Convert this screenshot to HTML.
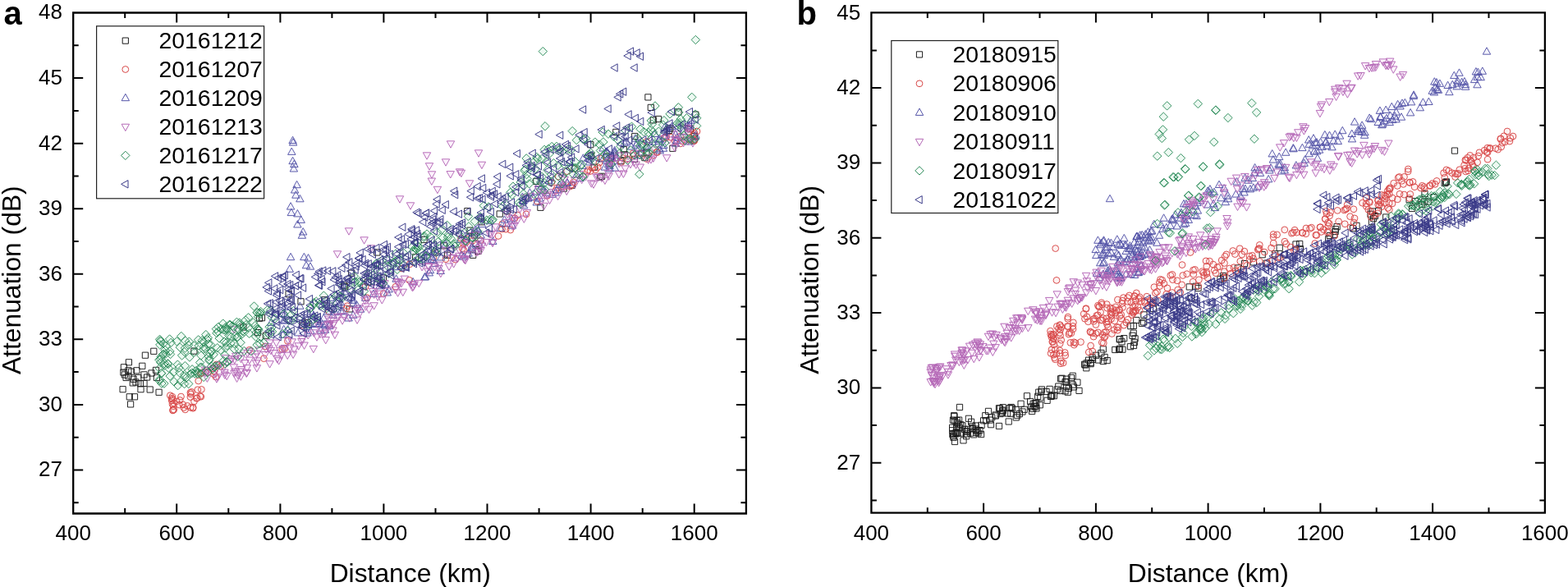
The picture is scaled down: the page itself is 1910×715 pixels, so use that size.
<!DOCTYPE html>
<html><head><meta charset="utf-8"><title>Attenuation vs Distance</title>
<style>html,body{margin:0;padding:0;background:#fff;width:1910px;height:715px;overflow:hidden}svg{display:block}</style>
</head><body>
<svg width="1910" height="715" viewBox="0 0 1910 715">
<style>
text{font-family:"Liberation Sans", Arial, sans-serif;fill:#000}
.tk{font-size:26px}
.lg{font-size:28.4px}
.ax{font-size:31.8px}
.pl{font-size:40px;font-weight:bold}
</style>
<rect width="1910" height="715" fill="#fff"/>
<path d="M207.9 499.0a3.9 3.9 0 1 0 7.8 0a3.9 3.9 0 1 0 -7.8 0zM203.4 481.7a3.9 3.9 0 1 0 7.8 0a3.9 3.9 0 1 0 -7.8 0zM207.3 494.7a3.9 3.9 0 1 0 7.8 0a3.9 3.9 0 1 0 -7.8 0zM206.4 486.2a3.9 3.9 0 1 0 7.8 0a3.9 3.9 0 1 0 -7.8 0zM206.1 492.1a3.9 3.9 0 1 0 7.8 0a3.9 3.9 0 1 0 -7.8 0zM206.0 483.2a3.9 3.9 0 1 0 7.8 0a3.9 3.9 0 1 0 -7.8 0zM205.3 487.9a3.9 3.9 0 1 0 7.8 0a3.9 3.9 0 1 0 -7.8 0zM206.7 499.9a3.9 3.9 0 1 0 7.8 0a3.9 3.9 0 1 0 -7.8 0zM207.8 490.9a3.9 3.9 0 1 0 7.8 0a3.9 3.9 0 1 0 -7.8 0zM205.3 485.4a3.9 3.9 0 1 0 7.8 0a3.9 3.9 0 1 0 -7.8 0zM214.4 493.1a3.9 3.9 0 1 0 7.8 0a3.9 3.9 0 1 0 -7.8 0zM219.0 492.9a3.9 3.9 0 1 0 7.8 0a3.9 3.9 0 1 0 -7.8 0zM228.0 478.2a3.9 3.9 0 1 0 7.8 0a3.9 3.9 0 1 0 -7.8 0zM206.6 499.6a3.9 3.9 0 1 0 7.8 0a3.9 3.9 0 1 0 -7.8 0zM215.2 487.5a3.9 3.9 0 1 0 7.8 0a3.9 3.9 0 1 0 -7.8 0zM240.9 483.2a3.9 3.9 0 1 0 7.8 0a3.9 3.9 0 1 0 -7.8 0zM235.4 485.2a3.9 3.9 0 1 0 7.8 0a3.9 3.9 0 1 0 -7.8 0zM228.5 480.0a3.9 3.9 0 1 0 7.8 0a3.9 3.9 0 1 0 -7.8 0zM228.3 496.4a3.9 3.9 0 1 0 7.8 0a3.9 3.9 0 1 0 -7.8 0zM224.4 494.4a3.9 3.9 0 1 0 7.8 0a3.9 3.9 0 1 0 -7.8 0zM229.6 477.4a3.9 3.9 0 1 0 7.8 0a3.9 3.9 0 1 0 -7.8 0zM232.6 488.9a3.9 3.9 0 1 0 7.8 0a3.9 3.9 0 1 0 -7.8 0zM216.6 483.1a3.9 3.9 0 1 0 7.8 0a3.9 3.9 0 1 0 -7.8 0zM236.4 484.8a3.9 3.9 0 1 0 7.8 0a3.9 3.9 0 1 0 -7.8 0zM231.3 496.2a3.9 3.9 0 1 0 7.8 0a3.9 3.9 0 1 0 -7.8 0zM231.1 497.3a3.9 3.9 0 1 0 7.8 0a3.9 3.9 0 1 0 -7.8 0zM219.9 496.5a3.9 3.9 0 1 0 7.8 0a3.9 3.9 0 1 0 -7.8 0zM221.7 498.9a3.9 3.9 0 1 0 7.8 0a3.9 3.9 0 1 0 -7.8 0zM236.9 474.7a3.9 3.9 0 1 0 7.8 0a3.9 3.9 0 1 0 -7.8 0zM210.9 489.0a3.9 3.9 0 1 0 7.8 0a3.9 3.9 0 1 0 -7.8 0zM239.9 482.6a3.9 3.9 0 1 0 7.8 0a3.9 3.9 0 1 0 -7.8 0zM228.0 483.6a3.9 3.9 0 1 0 7.8 0a3.9 3.9 0 1 0 -7.8 0zM242.0 454.0a3.9 3.9 0 1 0 7.8 0a3.9 3.9 0 1 0 -7.8 0zM246.0 452.7a3.9 3.9 0 1 0 7.8 0a3.9 3.9 0 1 0 -7.8 0zM237.8 464.0a3.9 3.9 0 1 0 7.8 0a3.9 3.9 0 1 0 -7.8 0zM259.0 459.0a3.9 3.9 0 1 0 7.8 0a3.9 3.9 0 1 0 -7.8 0zM255.2 448.6a3.9 3.9 0 1 0 7.8 0a3.9 3.9 0 1 0 -7.8 0zM249.5 453.4a3.9 3.9 0 1 0 7.8 0a3.9 3.9 0 1 0 -7.8 0zM240.4 455.0a3.9 3.9 0 1 0 7.8 0a3.9 3.9 0 1 0 -7.8 0zM241.5 474.4a3.9 3.9 0 1 0 7.8 0a3.9 3.9 0 1 0 -7.8 0zM443.0 362.6a3.9 3.9 0 1 0 7.8 0a3.9 3.9 0 1 0 -7.8 0zM494.7 341.3a3.9 3.9 0 1 0 7.8 0a3.9 3.9 0 1 0 -7.8 0zM478.1 349.2a3.9 3.9 0 1 0 7.8 0a3.9 3.9 0 1 0 -7.8 0zM264.8 446.3a3.9 3.9 0 1 0 7.8 0a3.9 3.9 0 1 0 -7.8 0zM539.1 315.7a3.9 3.9 0 1 0 7.8 0a3.9 3.9 0 1 0 -7.8 0zM526.4 308.1a3.9 3.9 0 1 0 7.8 0a3.9 3.9 0 1 0 -7.8 0zM396.8 379.5a3.9 3.9 0 1 0 7.8 0a3.9 3.9 0 1 0 -7.8 0zM419.2 372.7a3.9 3.9 0 1 0 7.8 0a3.9 3.9 0 1 0 -7.8 0zM260.0 444.0a3.9 3.9 0 1 0 7.8 0a3.9 3.9 0 1 0 -7.8 0zM339.9 425.4a3.9 3.9 0 1 0 7.8 0a3.9 3.9 0 1 0 -7.8 0zM485.8 327.0a3.9 3.9 0 1 0 7.8 0a3.9 3.9 0 1 0 -7.8 0zM495.2 321.8a3.9 3.9 0 1 0 7.8 0a3.9 3.9 0 1 0 -7.8 0zM441.3 349.0a3.9 3.9 0 1 0 7.8 0a3.9 3.9 0 1 0 -7.8 0zM256.6 455.8a3.9 3.9 0 1 0 7.8 0a3.9 3.9 0 1 0 -7.8 0zM318.9 422.0a3.9 3.9 0 1 0 7.8 0a3.9 3.9 0 1 0 -7.8 0zM550.8 316.1a3.9 3.9 0 1 0 7.8 0a3.9 3.9 0 1 0 -7.8 0zM342.9 424.6a3.9 3.9 0 1 0 7.8 0a3.9 3.9 0 1 0 -7.8 0zM417.9 375.8a3.9 3.9 0 1 0 7.8 0a3.9 3.9 0 1 0 -7.8 0zM317.5 436.7a3.9 3.9 0 1 0 7.8 0a3.9 3.9 0 1 0 -7.8 0zM463.3 357.6a3.9 3.9 0 1 0 7.8 0a3.9 3.9 0 1 0 -7.8 0zM524.2 313.5a3.9 3.9 0 1 0 7.8 0a3.9 3.9 0 1 0 -7.8 0zM364.5 396.4a3.9 3.9 0 1 0 7.8 0a3.9 3.9 0 1 0 -7.8 0zM299.8 426.3a3.9 3.9 0 1 0 7.8 0a3.9 3.9 0 1 0 -7.8 0zM346.5 415.4a3.9 3.9 0 1 0 7.8 0a3.9 3.9 0 1 0 -7.8 0zM257.1 452.5a3.9 3.9 0 1 0 7.8 0a3.9 3.9 0 1 0 -7.8 0zM626.7 262.1a3.9 3.9 0 1 0 7.8 0a3.9 3.9 0 1 0 -7.8 0zM603.1 287.5a3.9 3.9 0 1 0 7.8 0a3.9 3.9 0 1 0 -7.8 0zM623.2 265.9a3.9 3.9 0 1 0 7.8 0a3.9 3.9 0 1 0 -7.8 0zM824.7 166.1a3.9 3.9 0 1 0 7.8 0a3.9 3.9 0 1 0 -7.8 0zM836.8 170.4a3.9 3.9 0 1 0 7.8 0a3.9 3.9 0 1 0 -7.8 0zM715.1 208.5a3.9 3.9 0 1 0 7.8 0a3.9 3.9 0 1 0 -7.8 0zM726.1 198.2a3.9 3.9 0 1 0 7.8 0a3.9 3.9 0 1 0 -7.8 0zM845.1 160.0a3.9 3.9 0 1 0 7.8 0a3.9 3.9 0 1 0 -7.8 0zM841.4 171.9a3.9 3.9 0 1 0 7.8 0a3.9 3.9 0 1 0 -7.8 0zM564.3 291.1a3.9 3.9 0 1 0 7.8 0a3.9 3.9 0 1 0 -7.8 0zM694.7 221.9a3.9 3.9 0 1 0 7.8 0a3.9 3.9 0 1 0 -7.8 0zM607.6 279.1a3.9 3.9 0 1 0 7.8 0a3.9 3.9 0 1 0 -7.8 0zM662.6 238.5a3.9 3.9 0 1 0 7.8 0a3.9 3.9 0 1 0 -7.8 0zM824.8 174.9a3.9 3.9 0 1 0 7.8 0a3.9 3.9 0 1 0 -7.8 0zM612.2 279.2a3.9 3.9 0 1 0 7.8 0a3.9 3.9 0 1 0 -7.8 0zM683.2 227.4a3.9 3.9 0 1 0 7.8 0a3.9 3.9 0 1 0 -7.8 0zM692.4 225.0a3.9 3.9 0 1 0 7.8 0a3.9 3.9 0 1 0 -7.8 0zM842.1 171.0a3.9 3.9 0 1 0 7.8 0a3.9 3.9 0 1 0 -7.8 0zM795.7 185.5a3.9 3.9 0 1 0 7.8 0a3.9 3.9 0 1 0 -7.8 0zM727.8 193.1a3.9 3.9 0 1 0 7.8 0a3.9 3.9 0 1 0 -7.8 0zM842.1 162.4a3.9 3.9 0 1 0 7.8 0a3.9 3.9 0 1 0 -7.8 0zM560.8 296.7a3.9 3.9 0 1 0 7.8 0a3.9 3.9 0 1 0 -7.8 0zM676.4 215.1a3.9 3.9 0 1 0 7.8 0a3.9 3.9 0 1 0 -7.8 0zM834.6 156.2a3.9 3.9 0 1 0 7.8 0a3.9 3.9 0 1 0 -7.8 0zM818.3 171.8a3.9 3.9 0 1 0 7.8 0a3.9 3.9 0 1 0 -7.8 0zM607.9 272.8a3.9 3.9 0 1 0 7.8 0a3.9 3.9 0 1 0 -7.8 0zM686.7 208.6a3.9 3.9 0 1 0 7.8 0a3.9 3.9 0 1 0 -7.8 0zM777.4 187.5a3.9 3.9 0 1 0 7.8 0a3.9 3.9 0 1 0 -7.8 0zM841.0 171.5a3.9 3.9 0 1 0 7.8 0a3.9 3.9 0 1 0 -7.8 0zM784.0 193.6a3.9 3.9 0 1 0 7.8 0a3.9 3.9 0 1 0 -7.8 0zM826.3 171.6a3.9 3.9 0 1 0 7.8 0a3.9 3.9 0 1 0 -7.8 0zM712.5 207.1a3.9 3.9 0 1 0 7.8 0a3.9 3.9 0 1 0 -7.8 0zM792.1 189.2a3.9 3.9 0 1 0 7.8 0a3.9 3.9 0 1 0 -7.8 0zM796.9 185.5a3.9 3.9 0 1 0 7.8 0a3.9 3.9 0 1 0 -7.8 0zM564.0 295.1a3.9 3.9 0 1 0 7.8 0a3.9 3.9 0 1 0 -7.8 0zM581.4 292.6a3.9 3.9 0 1 0 7.8 0a3.9 3.9 0 1 0 -7.8 0zM724.3 203.6a3.9 3.9 0 1 0 7.8 0a3.9 3.9 0 1 0 -7.8 0zM804.9 168.1a3.9 3.9 0 1 0 7.8 0a3.9 3.9 0 1 0 -7.8 0zM767.5 189.3a3.9 3.9 0 1 0 7.8 0a3.9 3.9 0 1 0 -7.8 0zM617.9 280.1a3.9 3.9 0 1 0 7.8 0a3.9 3.9 0 1 0 -7.8 0zM571.6 293.3a3.9 3.9 0 1 0 7.8 0a3.9 3.9 0 1 0 -7.8 0zM711.4 209.3a3.9 3.9 0 1 0 7.8 0a3.9 3.9 0 1 0 -7.8 0zM840.9 164.8a3.9 3.9 0 1 0 7.8 0a3.9 3.9 0 1 0 -7.8 0zM813.2 167.2a3.9 3.9 0 1 0 7.8 0a3.9 3.9 0 1 0 -7.8 0zM695.7 205.4a3.9 3.9 0 1 0 7.8 0a3.9 3.9 0 1 0 -7.8 0zM741.6 194.2a3.9 3.9 0 1 0 7.8 0a3.9 3.9 0 1 0 -7.8 0zM783.7 172.5a3.9 3.9 0 1 0 7.8 0a3.9 3.9 0 1 0 -7.8 0zM690.7 227.0a3.9 3.9 0 1 0 7.8 0a3.9 3.9 0 1 0 -7.8 0zM559.4 302.6a3.9 3.9 0 1 0 7.8 0a3.9 3.9 0 1 0 -7.8 0zM752.6 197.7a3.9 3.9 0 1 0 7.8 0a3.9 3.9 0 1 0 -7.8 0zM717.7 204.4a3.9 3.9 0 1 0 7.8 0a3.9 3.9 0 1 0 -7.8 0zM834.3 160.4a3.9 3.9 0 1 0 7.8 0a3.9 3.9 0 1 0 -7.8 0zM760.2 193.7a3.9 3.9 0 1 0 7.8 0a3.9 3.9 0 1 0 -7.8 0zM767.3 186.7a3.9 3.9 0 1 0 7.8 0a3.9 3.9 0 1 0 -7.8 0zM561.0 304.8a3.9 3.9 0 1 0 7.8 0a3.9 3.9 0 1 0 -7.8 0zM637.1 260.9a3.9 3.9 0 1 0 7.8 0a3.9 3.9 0 1 0 -7.8 0zM842.4 169.8a3.9 3.9 0 1 0 7.8 0a3.9 3.9 0 1 0 -7.8 0zM672.9 232.3a3.9 3.9 0 1 0 7.8 0a3.9 3.9 0 1 0 -7.8 0zM668.0 222.5a3.9 3.9 0 1 0 7.8 0a3.9 3.9 0 1 0 -7.8 0zM721.7 206.7a3.9 3.9 0 1 0 7.8 0a3.9 3.9 0 1 0 -7.8 0zM755.0 192.7a3.9 3.9 0 1 0 7.8 0a3.9 3.9 0 1 0 -7.8 0zM674.6 228.9a3.9 3.9 0 1 0 7.8 0a3.9 3.9 0 1 0 -7.8 0zM650.2 245.1a3.9 3.9 0 1 0 7.8 0a3.9 3.9 0 1 0 -7.8 0zM557.7 290.5a3.9 3.9 0 1 0 7.8 0a3.9 3.9 0 1 0 -7.8 0zM807.7 167.1a3.9 3.9 0 1 0 7.8 0a3.9 3.9 0 1 0 -7.8 0z" fill="#fdf1f1" stroke="none"/>
<path d="M356.6 166.2l4.7 8.4h-9.4zM357.1 168.7l4.7 8.4h-9.4zM355.3 180.0l4.7 8.4h-9.4zM356.6 191.3l4.7 8.4h-9.4zM358.4 195.1l4.7 8.4h-9.4zM357.9 200.6l4.7 8.4h-9.4zM361.6 220.3l4.7 8.4h-9.4zM359.1 226.6l4.7 8.4h-9.4zM360.4 232.8l4.7 8.4h-9.4zM365.4 237.4l4.7 8.4h-9.4zM354.1 246.7l4.7 8.4h-9.4zM354.8 254.2l4.7 8.4h-9.4zM362.4 255.5l4.7 8.4h-9.4zM366.7 263.0l4.7 8.4h-9.4zM362.4 268.6l4.7 8.4h-9.4zM369.2 277.6l4.7 8.4h-9.4zM367.9 281.9l4.7 8.4h-9.4zM354.1 308.3l4.7 8.4h-9.4zM370.4 308.3l4.7 8.4h-9.4zM375.5 309.6l4.7 8.4h-9.4zM373.0 318.4l4.7 8.4h-9.4zM352.8 322.9l4.7 8.4h-9.4zM378.0 319.8l4.7 8.4h-9.4zM742.5 197.1l4.7 8.4h-9.4zM582.2 277.0l4.7 8.4h-9.4zM330.2 388.0l4.7 8.4h-9.4zM574.5 297.1l4.7 8.4h-9.4zM524.0 324.3l4.7 8.4h-9.4zM471.8 351.6l4.7 8.4h-9.4zM709.5 197.2l4.7 8.4h-9.4zM609.9 273.1l4.7 8.4h-9.4zM430.4 364.6l4.7 8.4h-9.4zM748.7 178.4l4.7 8.4h-9.4zM747.7 191.3l4.7 8.4h-9.4zM769.0 173.7l4.7 8.4h-9.4zM378.4 398.2l4.7 8.4h-9.4zM748.5 183.9l4.7 8.4h-9.4zM378.8 374.5l4.7 8.4h-9.4zM660.2 221.9l4.7 8.4h-9.4zM824.7 162.7l4.7 8.4h-9.4zM434.5 366.4l4.7 8.4h-9.4zM517.4 332.6l4.7 8.4h-9.4zM802.9 167.0l4.7 8.4h-9.4zM665.2 230.0l4.7 8.4h-9.4zM748.9 199.7l4.7 8.4h-9.4zM344.8 377.0l4.7 8.4h-9.4zM642.9 236.5l4.7 8.4h-9.4zM636.4 235.1l4.7 8.4h-9.4zM787.6 172.8l4.7 8.4h-9.4zM390.7 387.0l4.7 8.4h-9.4zM492.4 320.9l4.7 8.4h-9.4zM581.5 273.4l4.7 8.4h-9.4zM439.1 371.8l4.7 8.4h-9.4zM693.1 193.1l4.7 8.4h-9.4zM734.6 175.6l4.7 8.4h-9.4zM503.1 338.5l4.7 8.4h-9.4zM652.5 228.7l4.7 8.4h-9.4zM526.3 311.0l4.7 8.4h-9.4zM396.0 396.9l4.7 8.4h-9.4zM358.0 383.3l4.7 8.4h-9.4zM718.1 192.6l4.7 8.4h-9.4zM840.1 148.0l4.7 8.4h-9.4zM839.2 167.6l4.7 8.4h-9.4zM678.5 226.3l4.7 8.4h-9.4zM562.5 306.0l4.7 8.4h-9.4zM744.0 187.5l4.7 8.4h-9.4zM574.9 295.2l4.7 8.4h-9.4zM542.7 292.8l4.7 8.4h-9.4zM718.2 188.6l4.7 8.4h-9.4zM583.6 292.9l4.7 8.4h-9.4zM419.5 350.5l4.7 8.4h-9.4zM394.2 382.7l4.7 8.4h-9.4zM517.7 310.8l4.7 8.4h-9.4zM564.8 307.8l4.7 8.4h-9.4zM462.5 343.4l4.7 8.4h-9.4zM787.2 175.5l4.7 8.4h-9.4zM469.3 341.9l4.7 8.4h-9.4zM578.8 275.0l4.7 8.4h-9.4zM526.3 308.3l4.7 8.4h-9.4zM748.5 180.2l4.7 8.4h-9.4zM672.8 231.9l4.7 8.4h-9.4zM810.0 160.5l4.7 8.4h-9.4zM643.6 236.5l4.7 8.4h-9.4zM537.1 308.6l4.7 8.4h-9.4zM742.6 200.5l4.7 8.4h-9.4zM481.2 320.3l4.7 8.4h-9.4zM563.7 280.6l4.7 8.4h-9.4zM345.7 396.3l4.7 8.4h-9.4zM388.3 390.3l4.7 8.4h-9.4zM518.2 332.4l4.7 8.4h-9.4zM773.8 163.8l4.7 8.4h-9.4zM430.2 378.9l4.7 8.4h-9.4zM649.0 235.1l4.7 8.4h-9.4zM736.8 198.7l4.7 8.4h-9.4zM585.7 281.7l4.7 8.4h-9.4zM382.1 379.5l4.7 8.4h-9.4zM405.4 378.8l4.7 8.4h-9.4zM645.4 229.7l4.7 8.4h-9.4zM656.6 219.1l4.7 8.4h-9.4zM384.8 389.1l4.7 8.4h-9.4zM570.6 303.8l4.7 8.4h-9.4zM657.2 236.7l4.7 8.4h-9.4zM396.0 390.7l4.7 8.4h-9.4zM373.4 393.4l4.7 8.4h-9.4zM803.9 178.5l4.7 8.4h-9.4zM794.5 168.2l4.7 8.4h-9.4zM690.8 217.5l4.7 8.4h-9.4zM401.3 392.2l4.7 8.4h-9.4zM802.6 165.0l4.7 8.4h-9.4zM734.8 188.4l4.7 8.4h-9.4zM473.7 347.5l4.7 8.4h-9.4zM363.1 400.5l4.7 8.4h-9.4zM838.6 149.6l4.7 8.4h-9.4zM818.6 149.3l4.7 8.4h-9.4zM776.2 169.5l4.7 8.4h-9.4zM832.4 155.7l4.7 8.4h-9.4zM809.5 150.3l4.7 8.4h-9.4zM374.5 400.7l4.7 8.4h-9.4zM662.1 227.7l4.7 8.4h-9.4zM347.0 369.0l4.7 8.4h-9.4zM522.7 302.0l4.7 8.4h-9.4zM846.4 161.8l4.7 8.4h-9.4zM823.9 166.3l4.7 8.4h-9.4zM508.6 309.4l4.7 8.4h-9.4zM710.4 187.8l4.7 8.4h-9.4zM614.5 262.8l4.7 8.4h-9.4zM587.2 268.3l4.7 8.4h-9.4zM368.5 390.0l4.7 8.4h-9.4zM345.8 384.8l4.7 8.4h-9.4zM408.2 365.1l4.7 8.4h-9.4zM408.5 375.3l4.7 8.4h-9.4zM531.9 302.9l4.7 8.4h-9.4zM445.2 357.9l4.7 8.4h-9.4zM803.5 164.0l4.7 8.4h-9.4zM414.9 363.3l4.7 8.4h-9.4zM455.0 353.0l4.7 8.4h-9.4zM738.9 190.7l4.7 8.4h-9.4zM427.8 357.6l4.7 8.4h-9.4zM528.2 311.8l4.7 8.4h-9.4zM536.7 325.1l4.7 8.4h-9.4zM616.6 267.4l4.7 8.4h-9.4zM702.5 207.5l4.7 8.4h-9.4zM748.7 181.6l4.7 8.4h-9.4zM676.6 229.7l4.7 8.4h-9.4zM415.3 374.2l4.7 8.4h-9.4zM530.0 298.7l4.7 8.4h-9.4zM350.7 396.5l4.7 8.4h-9.4zM389.6 389.4l4.7 8.4h-9.4zM382.1 379.7l4.7 8.4h-9.4zM346.7 385.8l4.7 8.4h-9.4zM738.9 180.4l4.7 8.4h-9.4zM624.0 269.8l4.7 8.4h-9.4zM482.6 334.8l4.7 8.4h-9.4zM706.6 212.2l4.7 8.4h-9.4zM417.7 374.4l4.7 8.4h-9.4zM392.4 365.8l4.7 8.4h-9.4zM841.3 141.8l4.7 8.4h-9.4zM808.3 172.2l4.7 8.4h-9.4zM681.5 220.1l4.7 8.4h-9.4zM668.5 214.9l4.7 8.4h-9.4zM560.6 287.0l4.7 8.4h-9.4zM776.8 184.3l4.7 8.4h-9.4zM739.5 179.9l4.7 8.4h-9.4zM637.9 239.0l4.7 8.4h-9.4zM741.1 195.3l4.7 8.4h-9.4zM847.5 159.8l4.7 8.4h-9.4zM685.6 219.6l4.7 8.4h-9.4zM378.7 390.1l4.7 8.4h-9.4zM347.0 377.9l4.7 8.4h-9.4zM390.9 397.6l4.7 8.4h-9.4zM344.6 402.9l4.7 8.4h-9.4zM822.9 158.6l4.7 8.4h-9.4zM762.9 167.4l4.7 8.4h-9.4zM402.5 358.0l4.7 8.4h-9.4zM365.4 367.9l4.7 8.4h-9.4zM760.7 169.2l4.7 8.4h-9.4zM637.2 240.1l4.7 8.4h-9.4zM398.8 374.4l4.7 8.4h-9.4zM424.6 382.6l4.7 8.4h-9.4zM529.6 316.0l4.7 8.4h-9.4zM623.0 261.4l4.7 8.4h-9.4zM579.8 278.5l4.7 8.4h-9.4zM401.1 390.2l4.7 8.4h-9.4zM430.1 360.9l4.7 8.4h-9.4zM750.4 187.2l4.7 8.4h-9.4zM823.0 169.8l4.7 8.4h-9.4zM597.1 264.3l4.7 8.4h-9.4zM638.2 245.4l4.7 8.4h-9.4zM778.1 176.4l4.7 8.4h-9.4zM691.0 218.0l4.7 8.4h-9.4zM574.6 299.7l4.7 8.4h-9.4zM797.7 158.1l4.7 8.4h-9.4zM808.0 175.9l4.7 8.4h-9.4zM774.6 171.8l4.7 8.4h-9.4zM460.9 334.6l4.7 8.4h-9.4zM522.9 327.5l4.7 8.4h-9.4zM518.7 302.3l4.7 8.4h-9.4zM488.6 319.2l4.7 8.4h-9.4zM653.7 241.6l4.7 8.4h-9.4zM811.8 151.4l4.7 8.4h-9.4zM527.8 301.9l4.7 8.4h-9.4zM803.4 176.5l4.7 8.4h-9.4zM600.3 289.1l4.7 8.4h-9.4z" fill="#f3f3fb" stroke="none"/>
<path d="M444.3 370.5l4.7 -8.4h-9.4zM640.6 245.7l4.7 -8.4h-9.4zM571.5 303.1l4.7 -8.4h-9.4zM284.8 452.2l4.7 -8.4h-9.4zM272.5 452.5l4.7 -8.4h-9.4zM291.9 437.8l4.7 -8.4h-9.4zM504.7 351.3l4.7 -8.4h-9.4zM324.3 430.0l4.7 -8.4h-9.4zM626.5 280.0l4.7 -8.4h-9.4zM596.3 289.7l4.7 -8.4h-9.4zM835.8 160.6l4.7 -8.4h-9.4zM765.1 194.6l4.7 -8.4h-9.4zM336.6 422.4l4.7 -8.4h-9.4zM435.1 394.4l4.7 -8.4h-9.4zM358.4 430.4l4.7 -8.4h-9.4zM633.3 259.4l4.7 -8.4h-9.4zM578.6 291.1l4.7 -8.4h-9.4zM285.8 443.2l4.7 -8.4h-9.4zM658.2 243.4l4.7 -8.4h-9.4zM438.5 385.9l4.7 -8.4h-9.4zM521.9 329.0l4.7 -8.4h-9.4zM726.6 220.3l4.7 -8.4h-9.4zM396.5 409.5l4.7 -8.4h-9.4zM565.1 320.0l4.7 -8.4h-9.4zM687.7 223.9l4.7 -8.4h-9.4zM838.1 161.6l4.7 -8.4h-9.4zM500.9 351.4l4.7 -8.4h-9.4zM341.2 431.7l4.7 -8.4h-9.4zM273.5 458.5l4.7 -8.4h-9.4zM708.7 223.6l4.7 -8.4h-9.4zM775.3 191.6l4.7 -8.4h-9.4zM667.2 242.2l4.7 -8.4h-9.4zM597.9 290.2l4.7 -8.4h-9.4zM754.0 217.0l4.7 -8.4h-9.4zM534.5 331.9l4.7 -8.4h-9.4zM286.4 457.5l4.7 -8.4h-9.4zM638.3 271.4l4.7 -8.4h-9.4zM743.2 202.6l4.7 -8.4h-9.4zM481.5 357.6l4.7 -8.4h-9.4zM263.5 454.9l4.7 -8.4h-9.4zM350.8 419.1l4.7 -8.4h-9.4zM285.4 459.7l4.7 -8.4h-9.4zM327.6 429.4l4.7 -8.4h-9.4zM484.6 361.3l4.7 -8.4h-9.4zM298.3 447.0l4.7 -8.4h-9.4zM579.7 311.9l4.7 -8.4h-9.4zM741.6 219.4l4.7 -8.4h-9.4zM417.1 395.2l4.7 -8.4h-9.4zM465.3 370.1l4.7 -8.4h-9.4zM824.6 168.3l4.7 -8.4h-9.4zM355.7 421.2l4.7 -8.4h-9.4zM390.0 411.7l4.7 -8.4h-9.4zM603.5 281.2l4.7 -8.4h-9.4zM252.5 458.8l4.7 -8.4h-9.4zM471.6 359.4l4.7 -8.4h-9.4zM821.9 184.6l4.7 -8.4h-9.4zM559.3 316.7l4.7 -8.4h-9.4zM655.7 235.0l4.7 -8.4h-9.4zM789.7 199.5l4.7 -8.4h-9.4zM774.7 205.4l4.7 -8.4h-9.4zM485.4 349.1l4.7 -8.4h-9.4zM312.1 447.3l4.7 -8.4h-9.4zM287.3 438.6l4.7 -8.4h-9.4zM375.3 413.0l4.7 -8.4h-9.4zM454.0 359.8l4.7 -8.4h-9.4zM250.1 455.5l4.7 -8.4h-9.4zM310.9 439.5l4.7 -8.4h-9.4zM265.3 464.2l4.7 -8.4h-9.4zM618.4 265.8l4.7 -8.4h-9.4zM401.4 400.9l4.7 -8.4h-9.4zM468.5 350.0l4.7 -8.4h-9.4zM759.4 216.4l4.7 -8.4h-9.4zM529.6 330.0l4.7 -8.4h-9.4zM301.5 434.9l4.7 -8.4h-9.4zM455.6 363.5l4.7 -8.4h-9.4zM747.3 197.6l4.7 -8.4h-9.4zM263.9 466.2l4.7 -8.4h-9.4zM567.0 300.0l4.7 -8.4h-9.4zM575.9 291.8l4.7 -8.4h-9.4zM566.9 321.7l4.7 -8.4h-9.4zM768.0 204.9l4.7 -8.4h-9.4zM406.7 398.9l4.7 -8.4h-9.4zM350.2 437.6l4.7 -8.4h-9.4zM569.6 315.0l4.7 -8.4h-9.4zM447.8 369.2l4.7 -8.4h-9.4zM736.9 224.5l4.7 -8.4h-9.4zM761.6 210.3l4.7 -8.4h-9.4zM741.0 216.1l4.7 -8.4h-9.4zM386.0 415.3l4.7 -8.4h-9.4zM463.3 351.2l4.7 -8.4h-9.4zM266.8 449.6l4.7 -8.4h-9.4zM405.5 407.3l4.7 -8.4h-9.4zM823.9 176.9l4.7 -8.4h-9.4zM812.2 197.1l4.7 -8.4h-9.4zM823.0 175.0l4.7 -8.4h-9.4zM382.3 410.2l4.7 -8.4h-9.4zM368.0 417.6l4.7 -8.4h-9.4zM624.4 280.4l4.7 -8.4h-9.4zM754.3 203.9l4.7 -8.4h-9.4zM641.8 263.9l4.7 -8.4h-9.4zM300.9 453.0l4.7 -8.4h-9.4zM795.9 197.4l4.7 -8.4h-9.4zM700.1 224.4l4.7 -8.4h-9.4zM357.1 436.5l4.7 -8.4h-9.4zM449.5 381.6l4.7 -8.4h-9.4zM833.0 171.6l4.7 -8.4h-9.4zM490.8 360.6l4.7 -8.4h-9.4zM684.9 221.7l4.7 -8.4h-9.4zM326.2 427.1l4.7 -8.4h-9.4zM792.9 199.1l4.7 -8.4h-9.4zM337.7 442.0l4.7 -8.4h-9.4zM838.2 176.7l4.7 -8.4h-9.4zM460.2 366.3l4.7 -8.4h-9.4zM328.6 422.3l4.7 -8.4h-9.4zM832.5 178.9l4.7 -8.4h-9.4zM565.9 321.1l4.7 -8.4h-9.4zM510.3 349.7l4.7 -8.4h-9.4zM745.7 199.5l4.7 -8.4h-9.4zM401.1 399.7l4.7 -8.4h-9.4zM394.3 411.3l4.7 -8.4h-9.4zM405.6 400.6l4.7 -8.4h-9.4zM328.6 448.1l4.7 -8.4h-9.4zM462.3 362.4l4.7 -8.4h-9.4zM600.0 300.7l4.7 -8.4h-9.4zM502.4 354.9l4.7 -8.4h-9.4zM551.0 319.1l4.7 -8.4h-9.4zM564.1 298.3l4.7 -8.4h-9.4zM514.1 329.9l4.7 -8.4h-9.4zM252.4 465.4l4.7 -8.4h-9.4zM353.4 428.5l4.7 -8.4h-9.4zM685.1 232.4l4.7 -8.4h-9.4zM445.6 378.2l4.7 -8.4h-9.4zM583.3 307.2l4.7 -8.4h-9.4zM313.7 444.3l4.7 -8.4h-9.4zM399.1 400.4l4.7 -8.4h-9.4zM713.4 220.0l4.7 -8.4h-9.4zM587.0 304.4l4.7 -8.4h-9.4zM797.5 187.3l4.7 -8.4h-9.4zM617.5 275.9l4.7 -8.4h-9.4zM557.3 319.7l4.7 -8.4h-9.4zM521.4 335.4l4.7 -8.4h-9.4zM536.8 337.8l4.7 -8.4h-9.4zM669.5 248.5l4.7 -8.4h-9.4zM815.3 175.3l4.7 -8.4h-9.4zM585.7 309.9l4.7 -8.4h-9.4zM754.0 194.4l4.7 -8.4h-9.4zM323.0 436.9l4.7 -8.4h-9.4zM293.5 441.9l4.7 -8.4h-9.4zM293.9 454.9l4.7 -8.4h-9.4zM720.4 228.2l4.7 -8.4h-9.4zM342.7 437.7l4.7 -8.4h-9.4zM646.2 243.8l4.7 -8.4h-9.4zM779.7 208.4l4.7 -8.4h-9.4zM381.8 429.8l4.7 -8.4h-9.4zM489.0 349.8l4.7 -8.4h-9.4zM843.9 179.1l4.7 -8.4h-9.4zM346.9 428.8l4.7 -8.4h-9.4zM559.4 309.4l4.7 -8.4h-9.4zM367.4 420.9l4.7 -8.4h-9.4zM683.3 218.1l4.7 -8.4h-9.4zM582.4 298.8l4.7 -8.4h-9.4zM260.8 453.2l4.7 -8.4h-9.4zM624.4 270.4l4.7 -8.4h-9.4zM288.6 465.5l4.7 -8.4h-9.4zM723.0 229.3l4.7 -8.4h-9.4zM312.9 435.7l4.7 -8.4h-9.4zM273.8 461.4l4.7 -8.4h-9.4zM412.3 390.6l4.7 -8.4h-9.4zM503.4 354.2l4.7 -8.4h-9.4zM741.4 202.5l4.7 -8.4h-9.4zM339.6 444.1l4.7 -8.4h-9.4zM592.4 299.8l4.7 -8.4h-9.4zM303.7 432.7l4.7 -8.4h-9.4zM662.9 240.3l4.7 -8.4h-9.4zM293.4 463.3l4.7 -8.4h-9.4zM630.7 272.7l4.7 -8.4h-9.4zM300.2 459.5l4.7 -8.4h-9.4zM290.0 461.6l4.7 -8.4h-9.4zM522.3 329.9l4.7 -8.4h-9.4zM581.8 311.7l4.7 -8.4h-9.4zM410.7 391.3l4.7 -8.4h-9.4zM566.1 302.9l4.7 -8.4h-9.4zM315.7 431.4l4.7 -8.4h-9.4zM280.2 444.8l4.7 -8.4h-9.4zM437.2 380.3l4.7 -8.4h-9.4zM705.7 216.9l4.7 -8.4h-9.4zM550.1 310.5l4.7 -8.4h-9.4zM458.2 355.4l4.7 -8.4h-9.4zM400.3 393.4l4.7 -8.4h-9.4zM689.8 230.4l4.7 -8.4h-9.4zM363.7 426.2l4.7 -8.4h-9.4zM810.8 173.0l4.7 -8.4h-9.4zM741.4 207.4l4.7 -8.4h-9.4zM547.0 329.3l4.7 -8.4h-9.4zM485.9 351.6l4.7 -8.4h-9.4zM662.6 255.7l4.7 -8.4h-9.4zM455.6 377.1l4.7 -8.4h-9.4zM674.0 239.0l4.7 -8.4h-9.4zM492.8 344.5l4.7 -8.4h-9.4zM282.6 442.0l4.7 -8.4h-9.4zM292.4 457.4l4.7 -8.4h-9.4zM403.4 395.6l4.7 -8.4h-9.4zM300.7 458.8l4.7 -8.4h-9.4zM772.3 202.7l4.7 -8.4h-9.4zM419.2 390.1l4.7 -8.4h-9.4zM425.8 392.2l4.7 -8.4h-9.4zM344.5 429.7l4.7 -8.4h-9.4zM407.9 412.6l4.7 -8.4h-9.4zM833.6 175.6l4.7 -8.4h-9.4zM396.7 418.9l4.7 -8.4h-9.4zM435.7 382.8l4.7 -8.4h-9.4zM250.6 459.0l4.7 -8.4h-9.4zM534.8 327.6l4.7 -8.4h-9.4zM370.6 425.4l4.7 -8.4h-9.4zM253.0 455.9l4.7 -8.4h-9.4zM303.9 443.4l4.7 -8.4h-9.4zM275.0 441.1l4.7 -8.4h-9.4zM432.5 382.6l4.7 -8.4h-9.4zM601.3 289.8l4.7 -8.4h-9.4zM700.3 229.3l4.7 -8.4h-9.4zM679.6 243.6l4.7 -8.4h-9.4zM483.7 348.0l4.7 -8.4h-9.4zM840.8 161.3l4.7 -8.4h-9.4zM684.5 235.1l4.7 -8.4h-9.4zM276.3 462.8l4.7 -8.4h-9.4zM785.2 196.9l4.7 -8.4h-9.4zM690.3 237.6l4.7 -8.4h-9.4zM333.6 434.9l4.7 -8.4h-9.4zM552.6 326.1l4.7 -8.4h-9.4zM732.8 221.6l4.7 -8.4h-9.4zM600.4 300.1l4.7 -8.4h-9.4zM659.7 249.7l4.7 -8.4h-9.4zM388.0 401.5l4.7 -8.4h-9.4zM329.9 431.8l4.7 -8.4h-9.4zM312.9 453.1l4.7 -8.4h-9.4zM585.1 302.1l4.7 -8.4h-9.4zM625.7 273.7l4.7 -8.4h-9.4zM543.6 309.6l4.7 -8.4h-9.4zM728.6 220.9l4.7 -8.4h-9.4zM551.8 318.8l4.7 -8.4h-9.4zM532.9 235.7l4.7 -8.4h-9.4zM525.8 225.4l4.7 -8.4h-9.4zM523.0 207.1l4.7 -8.4h-9.4zM586.9 205.6l4.7 -8.4h-9.4zM561.9 215.6l4.7 -8.4h-9.4zM548.7 217.0l4.7 -8.4h-9.4zM520.0 194.2l4.7 -8.4h-9.4zM549.0 180.2l4.7 -8.4h-9.4zM543.0 202.2l4.7 -8.4h-9.4zM583.0 191.2l4.7 -8.4h-9.4zM560.0 214.2l4.7 -8.4h-9.4zM572.0 228.2l4.7 -8.4h-9.4zM526.0 217.2l4.7 -8.4h-9.4zM425.0 286.2l4.7 -8.4h-9.4zM411.0 314.2l4.7 -8.4h-9.4zM285.0 406.2l4.7 -8.4h-9.4zM487.0 247.2l4.7 -8.4h-9.4zM500.0 255.2l4.7 -8.4h-9.4zM443.6 297.2l4.7 -8.4h-9.4zM452.0 307.2l4.7 -8.4h-9.4z" fill="#fcf1fc" stroke="none"/>
<path d="M256.4 414.7l5.2 5.2l-5.2 5.2l-5.2 -5.2zM212.0 459.6l5.2 5.2l-5.2 5.2l-5.2 -5.2zM193.9 433.1l5.2 5.2l-5.2 5.2l-5.2 -5.2zM316.1 375.9l5.2 5.2l-5.2 5.2l-5.2 -5.2zM268.9 421.2l5.2 5.2l-5.2 5.2l-5.2 -5.2zM198.6 426.8l5.2 5.2l-5.2 5.2l-5.2 -5.2zM289.4 405.3l5.2 5.2l-5.2 5.2l-5.2 -5.2zM292.3 390.3l5.2 5.2l-5.2 5.2l-5.2 -5.2zM225.6 409.8l5.2 5.2l-5.2 5.2l-5.2 -5.2zM262.4 440.8l5.2 5.2l-5.2 5.2l-5.2 -5.2zM273.9 427.4l5.2 5.2l-5.2 5.2l-5.2 -5.2zM245.6 442.1l5.2 5.2l-5.2 5.2l-5.2 -5.2zM206.9 422.7l5.2 5.2l-5.2 5.2l-5.2 -5.2zM285.4 420.0l5.2 5.2l-5.2 5.2l-5.2 -5.2zM250.8 402.4l5.2 5.2l-5.2 5.2l-5.2 -5.2zM229.5 415.1l5.2 5.2l-5.2 5.2l-5.2 -5.2zM231.5 450.5l5.2 5.2l-5.2 5.2l-5.2 -5.2zM220.3 459.2l5.2 5.2l-5.2 5.2l-5.2 -5.2zM313.5 376.0l5.2 5.2l-5.2 5.2l-5.2 -5.2zM244.9 427.9l5.2 5.2l-5.2 5.2l-5.2 -5.2zM196.2 429.1l5.2 5.2l-5.2 5.2l-5.2 -5.2zM317.2 376.7l5.2 5.2l-5.2 5.2l-5.2 -5.2zM274.8 393.4l5.2 5.2l-5.2 5.2l-5.2 -5.2zM272.3 434.3l5.2 5.2l-5.2 5.2l-5.2 -5.2zM220.8 404.3l5.2 5.2l-5.2 5.2l-5.2 -5.2zM204.4 437.4l5.2 5.2l-5.2 5.2l-5.2 -5.2zM195.4 409.6l5.2 5.2l-5.2 5.2l-5.2 -5.2zM261.1 441.6l5.2 5.2l-5.2 5.2l-5.2 -5.2zM250.6 419.8l5.2 5.2l-5.2 5.2l-5.2 -5.2zM280.5 390.5l5.2 5.2l-5.2 5.2l-5.2 -5.2zM272.4 396.7l5.2 5.2l-5.2 5.2l-5.2 -5.2zM276.4 435.7l5.2 5.2l-5.2 5.2l-5.2 -5.2zM200.4 437.5l5.2 5.2l-5.2 5.2l-5.2 -5.2zM276.1 394.5l5.2 5.2l-5.2 5.2l-5.2 -5.2zM229.8 462.3l5.2 5.2l-5.2 5.2l-5.2 -5.2zM329.7 372.7l5.2 5.2l-5.2 5.2l-5.2 -5.2zM289.6 429.0l5.2 5.2l-5.2 5.2l-5.2 -5.2zM225.4 440.5l5.2 5.2l-5.2 5.2l-5.2 -5.2zM198.9 426.1l5.2 5.2l-5.2 5.2l-5.2 -5.2zM285.4 413.4l5.2 5.2l-5.2 5.2l-5.2 -5.2zM299.1 384.7l5.2 5.2l-5.2 5.2l-5.2 -5.2zM240.6 450.5l5.2 5.2l-5.2 5.2l-5.2 -5.2zM273.0 411.0l5.2 5.2l-5.2 5.2l-5.2 -5.2zM248.1 454.2l5.2 5.2l-5.2 5.2l-5.2 -5.2zM271.7 388.9l5.2 5.2l-5.2 5.2l-5.2 -5.2zM302.5 394.0l5.2 5.2l-5.2 5.2l-5.2 -5.2zM252.4 408.4l5.2 5.2l-5.2 5.2l-5.2 -5.2zM253.8 413.7l5.2 5.2l-5.2 5.2l-5.2 -5.2zM205.2 443.0l5.2 5.2l-5.2 5.2l-5.2 -5.2zM207.1 452.9l5.2 5.2l-5.2 5.2l-5.2 -5.2zM196.5 449.6l5.2 5.2l-5.2 5.2l-5.2 -5.2zM303.6 401.1l5.2 5.2l-5.2 5.2l-5.2 -5.2zM290.2 395.3l5.2 5.2l-5.2 5.2l-5.2 -5.2zM294.1 402.4l5.2 5.2l-5.2 5.2l-5.2 -5.2zM224.6 462.4l5.2 5.2l-5.2 5.2l-5.2 -5.2zM247.9 420.1l5.2 5.2l-5.2 5.2l-5.2 -5.2zM310.8 391.5l5.2 5.2l-5.2 5.2l-5.2 -5.2zM284.4 393.2l5.2 5.2l-5.2 5.2l-5.2 -5.2zM308.5 387.7l5.2 5.2l-5.2 5.2l-5.2 -5.2zM199.9 462.0l5.2 5.2l-5.2 5.2l-5.2 -5.2zM216.7 464.4l5.2 5.2l-5.2 5.2l-5.2 -5.2zM328.1 393.0l5.2 5.2l-5.2 5.2l-5.2 -5.2zM194.6 408.2l5.2 5.2l-5.2 5.2l-5.2 -5.2zM221.6 427.8l5.2 5.2l-5.2 5.2l-5.2 -5.2zM276.8 435.9l5.2 5.2l-5.2 5.2l-5.2 -5.2zM241.6 408.7l5.2 5.2l-5.2 5.2l-5.2 -5.2zM270.0 395.6l5.2 5.2l-5.2 5.2l-5.2 -5.2zM204.9 438.4l5.2 5.2l-5.2 5.2l-5.2 -5.2zM288.4 387.1l5.2 5.2l-5.2 5.2l-5.2 -5.2zM254.8 434.0l5.2 5.2l-5.2 5.2l-5.2 -5.2zM297.7 399.1l5.2 5.2l-5.2 5.2l-5.2 -5.2zM314.5 380.6l5.2 5.2l-5.2 5.2l-5.2 -5.2zM291.0 419.9l5.2 5.2l-5.2 5.2l-5.2 -5.2zM313.6 395.6l5.2 5.2l-5.2 5.2l-5.2 -5.2zM206.6 407.8l5.2 5.2l-5.2 5.2l-5.2 -5.2zM265.5 398.7l5.2 5.2l-5.2 5.2l-5.2 -5.2zM279.3 390.3l5.2 5.2l-5.2 5.2l-5.2 -5.2zM299.9 390.5l5.2 5.2l-5.2 5.2l-5.2 -5.2zM194.8 414.8l5.2 5.2l-5.2 5.2l-5.2 -5.2zM255.6 425.5l5.2 5.2l-5.2 5.2l-5.2 -5.2zM246.2 409.6l5.2 5.2l-5.2 5.2l-5.2 -5.2zM259.0 444.4l5.2 5.2l-5.2 5.2l-5.2 -5.2zM266.4 439.5l5.2 5.2l-5.2 5.2l-5.2 -5.2zM196.9 461.9l5.2 5.2l-5.2 5.2l-5.2 -5.2zM314.8 397.2l5.2 5.2l-5.2 5.2l-5.2 -5.2zM264.7 418.5l5.2 5.2l-5.2 5.2l-5.2 -5.2zM317.6 374.4l5.2 5.2l-5.2 5.2l-5.2 -5.2zM281.1 412.7l5.2 5.2l-5.2 5.2l-5.2 -5.2zM234.1 444.6l5.2 5.2l-5.2 5.2l-5.2 -5.2zM291.7 388.0l5.2 5.2l-5.2 5.2l-5.2 -5.2zM288.8 405.5l5.2 5.2l-5.2 5.2l-5.2 -5.2zM260.2 426.7l5.2 5.2l-5.2 5.2l-5.2 -5.2zM200.3 440.2l5.2 5.2l-5.2 5.2l-5.2 -5.2zM244.1 450.1l5.2 5.2l-5.2 5.2l-5.2 -5.2zM224.7 453.7l5.2 5.2l-5.2 5.2l-5.2 -5.2zM293.0 412.1l5.2 5.2l-5.2 5.2l-5.2 -5.2zM313.0 375.4l5.2 5.2l-5.2 5.2l-5.2 -5.2zM274.8 418.7l5.2 5.2l-5.2 5.2l-5.2 -5.2zM285.9 404.3l5.2 5.2l-5.2 5.2l-5.2 -5.2zM202.4 416.1l5.2 5.2l-5.2 5.2l-5.2 -5.2zM276.3 396.1l5.2 5.2l-5.2 5.2l-5.2 -5.2zM201.9 425.9l5.2 5.2l-5.2 5.2l-5.2 -5.2zM257.4 423.0l5.2 5.2l-5.2 5.2l-5.2 -5.2zM196.6 449.3l5.2 5.2l-5.2 5.2l-5.2 -5.2zM238.7 446.5l5.2 5.2l-5.2 5.2l-5.2 -5.2zM194.2 458.7l5.2 5.2l-5.2 5.2l-5.2 -5.2zM273.9 437.8l5.2 5.2l-5.2 5.2l-5.2 -5.2zM328.1 402.3l5.2 5.2l-5.2 5.2l-5.2 -5.2zM207.6 426.3l5.2 5.2l-5.2 5.2l-5.2 -5.2zM224.7 451.1l5.2 5.2l-5.2 5.2l-5.2 -5.2zM219.3 417.9l5.2 5.2l-5.2 5.2l-5.2 -5.2zM208.2 412.2l5.2 5.2l-5.2 5.2l-5.2 -5.2zM321.5 412.6l5.2 5.2l-5.2 5.2l-5.2 -5.2zM244.0 442.3l5.2 5.2l-5.2 5.2l-5.2 -5.2zM257.0 422.5l5.2 5.2l-5.2 5.2l-5.2 -5.2zM243.6 436.4l5.2 5.2l-5.2 5.2l-5.2 -5.2zM225.4 418.8l5.2 5.2l-5.2 5.2l-5.2 -5.2zM263.9 400.5l5.2 5.2l-5.2 5.2l-5.2 -5.2zM253.2 448.3l5.2 5.2l-5.2 5.2l-5.2 -5.2zM196.0 410.7l5.2 5.2l-5.2 5.2l-5.2 -5.2zM302.6 381.6l5.2 5.2l-5.2 5.2l-5.2 -5.2zM227.4 454.5l5.2 5.2l-5.2 5.2l-5.2 -5.2zM275.9 398.2l5.2 5.2l-5.2 5.2l-5.2 -5.2zM201.0 421.1l5.2 5.2l-5.2 5.2l-5.2 -5.2zM234.1 449.1l5.2 5.2l-5.2 5.2l-5.2 -5.2zM326.7 401.2l5.2 5.2l-5.2 5.2l-5.2 -5.2zM316.5 413.4l5.2 5.2l-5.2 5.2l-5.2 -5.2zM313.1 414.9l5.2 5.2l-5.2 5.2l-5.2 -5.2zM325.6 372.5l5.2 5.2l-5.2 5.2l-5.2 -5.2zM236.5 415.9l5.2 5.2l-5.2 5.2l-5.2 -5.2zM275.8 412.1l5.2 5.2l-5.2 5.2l-5.2 -5.2zM240.5 449.0l5.2 5.2l-5.2 5.2l-5.2 -5.2zM247.7 411.1l5.2 5.2l-5.2 5.2l-5.2 -5.2zM230.9 429.9l5.2 5.2l-5.2 5.2l-5.2 -5.2zM276.6 415.7l5.2 5.2l-5.2 5.2l-5.2 -5.2zM253.3 406.4l5.2 5.2l-5.2 5.2l-5.2 -5.2zM248.1 417.3l5.2 5.2l-5.2 5.2l-5.2 -5.2zM216.4 438.9l5.2 5.2l-5.2 5.2l-5.2 -5.2zM218.8 448.8l5.2 5.2l-5.2 5.2l-5.2 -5.2zM283.3 391.9l5.2 5.2l-5.2 5.2l-5.2 -5.2zM278.7 403.3l5.2 5.2l-5.2 5.2l-5.2 -5.2zM254.2 429.0l5.2 5.2l-5.2 5.2l-5.2 -5.2zM297.3 422.3l5.2 5.2l-5.2 5.2l-5.2 -5.2zM293.5 392.5l5.2 5.2l-5.2 5.2l-5.2 -5.2zM267.2 406.9l5.2 5.2l-5.2 5.2l-5.2 -5.2zM195.6 436.3l5.2 5.2l-5.2 5.2l-5.2 -5.2zM257.5 441.1l5.2 5.2l-5.2 5.2l-5.2 -5.2zM237.3 449.9l5.2 5.2l-5.2 5.2l-5.2 -5.2zM263.4 395.5l5.2 5.2l-5.2 5.2l-5.2 -5.2zM291.2 396.7l5.2 5.2l-5.2 5.2l-5.2 -5.2zM266.1 393.1l5.2 5.2l-5.2 5.2l-5.2 -5.2zM194.5 456.9l5.2 5.2l-5.2 5.2l-5.2 -5.2zM198.8 413.5l5.2 5.2l-5.2 5.2l-5.2 -5.2zM215.4 410.7l5.2 5.2l-5.2 5.2l-5.2 -5.2zM305.9 422.5l5.2 5.2l-5.2 5.2l-5.2 -5.2zM281.9 405.1l5.2 5.2l-5.2 5.2l-5.2 -5.2zM314.7 395.5l5.2 5.2l-5.2 5.2l-5.2 -5.2zM211.5 448.3l5.2 5.2l-5.2 5.2l-5.2 -5.2zM242.2 416.0l5.2 5.2l-5.2 5.2l-5.2 -5.2zM236.9 423.8l5.2 5.2l-5.2 5.2l-5.2 -5.2zM218.0 442.8l5.2 5.2l-5.2 5.2l-5.2 -5.2zM312.0 399.9l5.2 5.2l-5.2 5.2l-5.2 -5.2zM194.3 443.5l5.2 5.2l-5.2 5.2l-5.2 -5.2zM195.8 432.1l5.2 5.2l-5.2 5.2l-5.2 -5.2zM311.6 404.9l5.2 5.2l-5.2 5.2l-5.2 -5.2zM317.4 405.1l5.2 5.2l-5.2 5.2l-5.2 -5.2zM230.4 410.9l5.2 5.2l-5.2 5.2l-5.2 -5.2zM254.9 432.6l5.2 5.2l-5.2 5.2l-5.2 -5.2zM224.8 423.5l5.2 5.2l-5.2 5.2l-5.2 -5.2zM295.5 398.3l5.2 5.2l-5.2 5.2l-5.2 -5.2zM507.1 298.4l5.2 5.2l-5.2 5.2l-5.2 -5.2zM509.2 290.3l5.2 5.2l-5.2 5.2l-5.2 -5.2zM582.1 276.8l5.2 5.2l-5.2 5.2l-5.2 -5.2zM532.6 277.8l5.2 5.2l-5.2 5.2l-5.2 -5.2zM491.4 302.6l5.2 5.2l-5.2 5.2l-5.2 -5.2zM407.5 370.3l5.2 5.2l-5.2 5.2l-5.2 -5.2zM638.9 202.6l5.2 5.2l-5.2 5.2l-5.2 -5.2zM596.6 262.2l5.2 5.2l-5.2 5.2l-5.2 -5.2zM448.3 328.9l5.2 5.2l-5.2 5.2l-5.2 -5.2zM539.2 284.4l5.2 5.2l-5.2 5.2l-5.2 -5.2zM542.6 289.5l5.2 5.2l-5.2 5.2l-5.2 -5.2zM371.2 390.1l5.2 5.2l-5.2 5.2l-5.2 -5.2zM634.5 243.4l5.2 5.2l-5.2 5.2l-5.2 -5.2zM520.1 279.9l5.2 5.2l-5.2 5.2l-5.2 -5.2zM331.3 381.5l5.2 5.2l-5.2 5.2l-5.2 -5.2zM621.7 229.2l5.2 5.2l-5.2 5.2l-5.2 -5.2zM443.5 349.5l5.2 5.2l-5.2 5.2l-5.2 -5.2zM427.5 347.4l5.2 5.2l-5.2 5.2l-5.2 -5.2zM465.2 312.3l5.2 5.2l-5.2 5.2l-5.2 -5.2zM511.2 309.7l5.2 5.2l-5.2 5.2l-5.2 -5.2zM378.5 369.8l5.2 5.2l-5.2 5.2l-5.2 -5.2zM458.0 316.1l5.2 5.2l-5.2 5.2l-5.2 -5.2zM483.9 323.2l5.2 5.2l-5.2 5.2l-5.2 -5.2zM533.9 289.2l5.2 5.2l-5.2 5.2l-5.2 -5.2zM595.1 246.8l5.2 5.2l-5.2 5.2l-5.2 -5.2zM505.8 297.2l5.2 5.2l-5.2 5.2l-5.2 -5.2zM516.4 283.9l5.2 5.2l-5.2 5.2l-5.2 -5.2zM570.4 258.3l5.2 5.2l-5.2 5.2l-5.2 -5.2zM381.6 383.9l5.2 5.2l-5.2 5.2l-5.2 -5.2zM623.8 232.2l5.2 5.2l-5.2 5.2l-5.2 -5.2zM458.4 322.5l5.2 5.2l-5.2 5.2l-5.2 -5.2zM415.2 356.4l5.2 5.2l-5.2 5.2l-5.2 -5.2zM385.3 362.0l5.2 5.2l-5.2 5.2l-5.2 -5.2zM471.3 311.2l5.2 5.2l-5.2 5.2l-5.2 -5.2zM531.1 299.6l5.2 5.2l-5.2 5.2l-5.2 -5.2zM571.0 270.6l5.2 5.2l-5.2 5.2l-5.2 -5.2zM437.7 338.6l5.2 5.2l-5.2 5.2l-5.2 -5.2zM331.6 398.8l5.2 5.2l-5.2 5.2l-5.2 -5.2zM432.8 337.9l5.2 5.2l-5.2 5.2l-5.2 -5.2zM354.8 385.3l5.2 5.2l-5.2 5.2l-5.2 -5.2zM510.7 295.5l5.2 5.2l-5.2 5.2l-5.2 -5.2zM599.6 263.3l5.2 5.2l-5.2 5.2l-5.2 -5.2zM404.8 359.9l5.2 5.2l-5.2 5.2l-5.2 -5.2zM612.3 246.2l5.2 5.2l-5.2 5.2l-5.2 -5.2zM516.7 282.1l5.2 5.2l-5.2 5.2l-5.2 -5.2zM481.7 313.4l5.2 5.2l-5.2 5.2l-5.2 -5.2zM454.4 330.0l5.2 5.2l-5.2 5.2l-5.2 -5.2zM511.3 299.9l5.2 5.2l-5.2 5.2l-5.2 -5.2zM481.9 303.8l5.2 5.2l-5.2 5.2l-5.2 -5.2zM466.8 340.0l5.2 5.2l-5.2 5.2l-5.2 -5.2zM458.7 315.6l5.2 5.2l-5.2 5.2l-5.2 -5.2zM330.9 393.6l5.2 5.2l-5.2 5.2l-5.2 -5.2zM345.7 377.1l5.2 5.2l-5.2 5.2l-5.2 -5.2zM363.7 383.3l5.2 5.2l-5.2 5.2l-5.2 -5.2zM637.7 221.3l5.2 5.2l-5.2 5.2l-5.2 -5.2zM472.2 319.2l5.2 5.2l-5.2 5.2l-5.2 -5.2zM485.3 310.4l5.2 5.2l-5.2 5.2l-5.2 -5.2zM555.1 291.6l5.2 5.2l-5.2 5.2l-5.2 -5.2zM546.3 280.3l5.2 5.2l-5.2 5.2l-5.2 -5.2zM531.4 302.3l5.2 5.2l-5.2 5.2l-5.2 -5.2zM377.6 370.7l5.2 5.2l-5.2 5.2l-5.2 -5.2zM521.9 299.6l5.2 5.2l-5.2 5.2l-5.2 -5.2zM529.2 293.0l5.2 5.2l-5.2 5.2l-5.2 -5.2zM587.1 262.5l5.2 5.2l-5.2 5.2l-5.2 -5.2zM580.4 282.4l5.2 5.2l-5.2 5.2l-5.2 -5.2zM465.0 337.8l5.2 5.2l-5.2 5.2l-5.2 -5.2zM552.7 292.4l5.2 5.2l-5.2 5.2l-5.2 -5.2zM344.3 401.4l5.2 5.2l-5.2 5.2l-5.2 -5.2zM567.7 288.1l5.2 5.2l-5.2 5.2l-5.2 -5.2zM634.2 216.7l5.2 5.2l-5.2 5.2l-5.2 -5.2zM537.7 275.0l5.2 5.2l-5.2 5.2l-5.2 -5.2zM514.5 310.6l5.2 5.2l-5.2 5.2l-5.2 -5.2zM389.5 365.5l5.2 5.2l-5.2 5.2l-5.2 -5.2zM354.7 378.0l5.2 5.2l-5.2 5.2l-5.2 -5.2zM394.4 354.9l5.2 5.2l-5.2 5.2l-5.2 -5.2zM639.9 235.4l5.2 5.2l-5.2 5.2l-5.2 -5.2zM473.8 328.0l5.2 5.2l-5.2 5.2l-5.2 -5.2zM545.5 283.8l5.2 5.2l-5.2 5.2l-5.2 -5.2zM461.3 334.2l5.2 5.2l-5.2 5.2l-5.2 -5.2zM502.2 295.5l5.2 5.2l-5.2 5.2l-5.2 -5.2zM442.9 341.8l5.2 5.2l-5.2 5.2l-5.2 -5.2zM524.4 283.2l5.2 5.2l-5.2 5.2l-5.2 -5.2zM519.0 307.0l5.2 5.2l-5.2 5.2l-5.2 -5.2zM600.1 262.2l5.2 5.2l-5.2 5.2l-5.2 -5.2zM351.8 385.3l5.2 5.2l-5.2 5.2l-5.2 -5.2zM357.6 373.3l5.2 5.2l-5.2 5.2l-5.2 -5.2zM409.0 355.6l5.2 5.2l-5.2 5.2l-5.2 -5.2zM565.4 278.3l5.2 5.2l-5.2 5.2l-5.2 -5.2zM417.6 357.2l5.2 5.2l-5.2 5.2l-5.2 -5.2zM487.0 311.1l5.2 5.2l-5.2 5.2l-5.2 -5.2zM411.7 353.5l5.2 5.2l-5.2 5.2l-5.2 -5.2zM435.9 347.9l5.2 5.2l-5.2 5.2l-5.2 -5.2zM479.6 314.4l5.2 5.2l-5.2 5.2l-5.2 -5.2zM477.9 316.6l5.2 5.2l-5.2 5.2l-5.2 -5.2zM543.8 290.9l5.2 5.2l-5.2 5.2l-5.2 -5.2zM578.3 264.4l5.2 5.2l-5.2 5.2l-5.2 -5.2zM576.0 284.4l5.2 5.2l-5.2 5.2l-5.2 -5.2zM637.6 230.8l5.2 5.2l-5.2 5.2l-5.2 -5.2zM350.3 397.9l5.2 5.2l-5.2 5.2l-5.2 -5.2zM589.3 245.3l5.2 5.2l-5.2 5.2l-5.2 -5.2zM431.6 338.6l5.2 5.2l-5.2 5.2l-5.2 -5.2zM559.5 280.5l5.2 5.2l-5.2 5.2l-5.2 -5.2zM417.5 343.0l5.2 5.2l-5.2 5.2l-5.2 -5.2zM382.2 363.5l5.2 5.2l-5.2 5.2l-5.2 -5.2zM575.1 283.9l5.2 5.2l-5.2 5.2l-5.2 -5.2zM398.2 370.4l5.2 5.2l-5.2 5.2l-5.2 -5.2zM624.9 221.9l5.2 5.2l-5.2 5.2l-5.2 -5.2zM507.3 298.6l5.2 5.2l-5.2 5.2l-5.2 -5.2zM632.2 241.5l5.2 5.2l-5.2 5.2l-5.2 -5.2zM335.0 382.7l5.2 5.2l-5.2 5.2l-5.2 -5.2zM592.9 263.0l5.2 5.2l-5.2 5.2l-5.2 -5.2zM492.1 317.7l5.2 5.2l-5.2 5.2l-5.2 -5.2zM566.9 288.2l5.2 5.2l-5.2 5.2l-5.2 -5.2zM431.3 331.1l5.2 5.2l-5.2 5.2l-5.2 -5.2zM544.6 269.1l5.2 5.2l-5.2 5.2l-5.2 -5.2zM505.2 313.1l5.2 5.2l-5.2 5.2l-5.2 -5.2zM453.1 336.3l5.2 5.2l-5.2 5.2l-5.2 -5.2zM383.1 364.6l5.2 5.2l-5.2 5.2l-5.2 -5.2zM517.9 307.2l5.2 5.2l-5.2 5.2l-5.2 -5.2zM639.9 201.1l5.2 5.2l-5.2 5.2l-5.2 -5.2zM615.5 242.9l5.2 5.2l-5.2 5.2l-5.2 -5.2zM438.3 337.3l5.2 5.2l-5.2 5.2l-5.2 -5.2zM509.1 294.8l5.2 5.2l-5.2 5.2l-5.2 -5.2zM375.1 390.1l5.2 5.2l-5.2 5.2l-5.2 -5.2zM549.0 285.1l5.2 5.2l-5.2 5.2l-5.2 -5.2zM554.0 295.0l5.2 5.2l-5.2 5.2l-5.2 -5.2zM384.3 382.5l5.2 5.2l-5.2 5.2l-5.2 -5.2zM584.9 258.9l5.2 5.2l-5.2 5.2l-5.2 -5.2zM503.2 301.2l5.2 5.2l-5.2 5.2l-5.2 -5.2zM390.2 367.3l5.2 5.2l-5.2 5.2l-5.2 -5.2zM762.0 153.9l5.2 5.2l-5.2 5.2l-5.2 -5.2zM842.7 165.4l5.2 5.2l-5.2 5.2l-5.2 -5.2zM738.1 186.4l5.2 5.2l-5.2 5.2l-5.2 -5.2zM685.0 179.4l5.2 5.2l-5.2 5.2l-5.2 -5.2zM700.6 199.9l5.2 5.2l-5.2 5.2l-5.2 -5.2zM684.6 218.5l5.2 5.2l-5.2 5.2l-5.2 -5.2zM654.8 188.2l5.2 5.2l-5.2 5.2l-5.2 -5.2zM658.7 216.7l5.2 5.2l-5.2 5.2l-5.2 -5.2zM717.0 184.1l5.2 5.2l-5.2 5.2l-5.2 -5.2zM708.5 195.0l5.2 5.2l-5.2 5.2l-5.2 -5.2zM724.8 167.9l5.2 5.2l-5.2 5.2l-5.2 -5.2zM730.3 170.9l5.2 5.2l-5.2 5.2l-5.2 -5.2zM663.3 217.7l5.2 5.2l-5.2 5.2l-5.2 -5.2zM782.8 170.9l5.2 5.2l-5.2 5.2l-5.2 -5.2zM825.3 144.7l5.2 5.2l-5.2 5.2l-5.2 -5.2zM719.6 180.9l5.2 5.2l-5.2 5.2l-5.2 -5.2zM725.0 191.7l5.2 5.2l-5.2 5.2l-5.2 -5.2zM641.4 207.4l5.2 5.2l-5.2 5.2l-5.2 -5.2zM752.4 165.0l5.2 5.2l-5.2 5.2l-5.2 -5.2zM644.6 218.7l5.2 5.2l-5.2 5.2l-5.2 -5.2zM642.0 212.4l5.2 5.2l-5.2 5.2l-5.2 -5.2zM672.2 173.3l5.2 5.2l-5.2 5.2l-5.2 -5.2zM678.0 173.2l5.2 5.2l-5.2 5.2l-5.2 -5.2zM671.7 207.3l5.2 5.2l-5.2 5.2l-5.2 -5.2zM792.9 152.6l5.2 5.2l-5.2 5.2l-5.2 -5.2zM777.0 163.2l5.2 5.2l-5.2 5.2l-5.2 -5.2zM744.7 194.7l5.2 5.2l-5.2 5.2l-5.2 -5.2zM705.4 207.9l5.2 5.2l-5.2 5.2l-5.2 -5.2zM785.1 171.1l5.2 5.2l-5.2 5.2l-5.2 -5.2zM641.2 187.7l5.2 5.2l-5.2 5.2l-5.2 -5.2zM646.7 199.2l5.2 5.2l-5.2 5.2l-5.2 -5.2zM838.7 164.3l5.2 5.2l-5.2 5.2l-5.2 -5.2zM816.1 133.6l5.2 5.2l-5.2 5.2l-5.2 -5.2zM788.2 174.7l5.2 5.2l-5.2 5.2l-5.2 -5.2zM809.9 168.8l5.2 5.2l-5.2 5.2l-5.2 -5.2zM669.5 181.8l5.2 5.2l-5.2 5.2l-5.2 -5.2zM806.4 167.2l5.2 5.2l-5.2 5.2l-5.2 -5.2zM827.4 146.6l5.2 5.2l-5.2 5.2l-5.2 -5.2zM826.8 131.7l5.2 5.2l-5.2 5.2l-5.2 -5.2zM841.0 164.0l5.2 5.2l-5.2 5.2l-5.2 -5.2zM710.9 164.7l5.2 5.2l-5.2 5.2l-5.2 -5.2zM755.2 181.2l5.2 5.2l-5.2 5.2l-5.2 -5.2zM713.6 163.5l5.2 5.2l-5.2 5.2l-5.2 -5.2zM698.5 207.3l5.2 5.2l-5.2 5.2l-5.2 -5.2zM659.0 225.3l5.2 5.2l-5.2 5.2l-5.2 -5.2zM692.5 176.6l5.2 5.2l-5.2 5.2l-5.2 -5.2zM663.6 225.8l5.2 5.2l-5.2 5.2l-5.2 -5.2zM829.2 139.9l5.2 5.2l-5.2 5.2l-5.2 -5.2zM660.1 210.1l5.2 5.2l-5.2 5.2l-5.2 -5.2zM826.4 125.6l5.2 5.2l-5.2 5.2l-5.2 -5.2zM772.9 183.5l5.2 5.2l-5.2 5.2l-5.2 -5.2zM736.4 182.3l5.2 5.2l-5.2 5.2l-5.2 -5.2zM808.9 141.5l5.2 5.2l-5.2 5.2l-5.2 -5.2zM697.4 199.0l5.2 5.2l-5.2 5.2l-5.2 -5.2zM756.0 173.2l5.2 5.2l-5.2 5.2l-5.2 -5.2zM710.2 210.1l5.2 5.2l-5.2 5.2l-5.2 -5.2zM700.5 199.2l5.2 5.2l-5.2 5.2l-5.2 -5.2zM827.8 144.3l5.2 5.2l-5.2 5.2l-5.2 -5.2zM651.4 190.9l5.2 5.2l-5.2 5.2l-5.2 -5.2zM653.9 186.2l5.2 5.2l-5.2 5.2l-5.2 -5.2zM665.3 191.9l5.2 5.2l-5.2 5.2l-5.2 -5.2zM717.7 182.7l5.2 5.2l-5.2 5.2l-5.2 -5.2zM779.7 172.4l5.2 5.2l-5.2 5.2l-5.2 -5.2zM784.3 155.4l5.2 5.2l-5.2 5.2l-5.2 -5.2zM779.2 166.3l5.2 5.2l-5.2 5.2l-5.2 -5.2zM666.8 201.9l5.2 5.2l-5.2 5.2l-5.2 -5.2zM706.9 197.4l5.2 5.2l-5.2 5.2l-5.2 -5.2zM794.3 146.1l5.2 5.2l-5.2 5.2l-5.2 -5.2zM731.4 178.2l5.2 5.2l-5.2 5.2l-5.2 -5.2zM702.3 165.5l5.2 5.2l-5.2 5.2l-5.2 -5.2zM650.4 231.4l5.2 5.2l-5.2 5.2l-5.2 -5.2zM795.4 155.7l5.2 5.2l-5.2 5.2l-5.2 -5.2zM780.0 152.0l5.2 5.2l-5.2 5.2l-5.2 -5.2zM789.2 183.2l5.2 5.2l-5.2 5.2l-5.2 -5.2zM802.4 154.8l5.2 5.2l-5.2 5.2l-5.2 -5.2zM846.5 164.1l5.2 5.2l-5.2 5.2l-5.2 -5.2zM652.2 200.5l5.2 5.2l-5.2 5.2l-5.2 -5.2zM734.9 167.7l5.2 5.2l-5.2 5.2l-5.2 -5.2zM769.5 149.0l5.2 5.2l-5.2 5.2l-5.2 -5.2zM796.9 176.1l5.2 5.2l-5.2 5.2l-5.2 -5.2zM652.9 214.8l5.2 5.2l-5.2 5.2l-5.2 -5.2zM695.9 198.3l5.2 5.2l-5.2 5.2l-5.2 -5.2zM785.2 185.7l5.2 5.2l-5.2 5.2l-5.2 -5.2zM807.6 146.9l5.2 5.2l-5.2 5.2l-5.2 -5.2zM793.3 141.7l5.2 5.2l-5.2 5.2l-5.2 -5.2zM789.9 156.3l5.2 5.2l-5.2 5.2l-5.2 -5.2zM695.7 177.5l5.2 5.2l-5.2 5.2l-5.2 -5.2zM685.5 209.2l5.2 5.2l-5.2 5.2l-5.2 -5.2zM660.2 188.2l5.2 5.2l-5.2 5.2l-5.2 -5.2zM680.4 177.4l5.2 5.2l-5.2 5.2l-5.2 -5.2zM793.3 163.7l5.2 5.2l-5.2 5.2l-5.2 -5.2zM779.6 183.6l5.2 5.2l-5.2 5.2l-5.2 -5.2zM734.2 155.8l5.2 5.2l-5.2 5.2l-5.2 -5.2zM679.7 196.2l5.2 5.2l-5.2 5.2l-5.2 -5.2zM790.2 181.3l5.2 5.2l-5.2 5.2l-5.2 -5.2zM747.4 160.8l5.2 5.2l-5.2 5.2l-5.2 -5.2zM764.5 190.1l5.2 5.2l-5.2 5.2l-5.2 -5.2zM709.9 209.8l5.2 5.2l-5.2 5.2l-5.2 -5.2zM829.8 152.3l5.2 5.2l-5.2 5.2l-5.2 -5.2zM741.0 158.0l5.2 5.2l-5.2 5.2l-5.2 -5.2zM663.2 177.1l5.2 5.2l-5.2 5.2l-5.2 -5.2zM768.4 177.8l5.2 5.2l-5.2 5.2l-5.2 -5.2zM848.6 148.1l5.2 5.2l-5.2 5.2l-5.2 -5.2zM848.7 138.5l5.2 5.2l-5.2 5.2l-5.2 -5.2zM668.1 176.1l5.2 5.2l-5.2 5.2l-5.2 -5.2zM700.5 191.5l5.2 5.2l-5.2 5.2l-5.2 -5.2zM847.1 133.9l5.2 5.2l-5.2 5.2l-5.2 -5.2zM689.4 204.4l5.2 5.2l-5.2 5.2l-5.2 -5.2zM721.6 187.2l5.2 5.2l-5.2 5.2l-5.2 -5.2zM671.8 216.0l5.2 5.2l-5.2 5.2l-5.2 -5.2zM833.1 160.1l5.2 5.2l-5.2 5.2l-5.2 -5.2zM836.5 138.5l5.2 5.2l-5.2 5.2l-5.2 -5.2zM646.8 197.1l5.2 5.2l-5.2 5.2l-5.2 -5.2zM828.5 147.4l5.2 5.2l-5.2 5.2l-5.2 -5.2zM682.1 176.6l5.2 5.2l-5.2 5.2l-5.2 -5.2zM674.5 193.5l5.2 5.2l-5.2 5.2l-5.2 -5.2zM834.4 166.0l5.2 5.2l-5.2 5.2l-5.2 -5.2zM799.1 170.4l5.2 5.2l-5.2 5.2l-5.2 -5.2zM680.1 209.6l5.2 5.2l-5.2 5.2l-5.2 -5.2zM687.0 194.7l5.2 5.2l-5.2 5.2l-5.2 -5.2zM847.3 43.3l5.2 5.2l-5.2 5.2l-5.2 -5.2zM661.3 57.4l5.2 5.2l-5.2 5.2l-5.2 -5.2zM798.0 123.8l5.2 5.2l-5.2 5.2l-5.2 -5.2zM842.8 113.2l5.2 5.2l-5.2 5.2l-5.2 -5.2zM664.0 148.5l5.2 5.2l-5.2 5.2l-5.2 -5.2zM697.2 154.4l5.2 5.2l-5.2 5.2l-5.2 -5.2zM710.5 164.5l5.2 5.2l-5.2 5.2l-5.2 -5.2zM778.8 207.0l5.2 5.2l-5.2 5.2l-5.2 -5.2zM309.5 367.8l5.2 5.2l-5.2 5.2l-5.2 -5.2z" fill="#edf9f2" stroke="none"/>
<path d="M383.6 366.7l8.4 -4.7v9.4zM450.1 323.4l8.4 -4.7v9.4zM391.4 365.1l8.4 -4.7v9.4zM345.8 373.8l8.4 -4.7v9.4zM408.6 363.9l8.4 -4.7v9.4zM333.1 357.4l8.4 -4.7v9.4zM332.6 396.4l8.4 -4.7v9.4zM417.6 313.2l8.4 -4.7v9.4zM458.3 346.3l8.4 -4.7v9.4zM412.0 350.4l8.4 -4.7v9.4zM342.0 335.2l8.4 -4.7v9.4zM394.3 330.0l8.4 -4.7v9.4zM346.6 352.7l8.4 -4.7v9.4zM324.0 369.4l8.4 -4.7v9.4zM381.9 386.5l8.4 -4.7v9.4zM393.0 367.8l8.4 -4.7v9.4zM390.3 370.5l8.4 -4.7v9.4zM384.3 347.5l8.4 -4.7v9.4zM460.5 346.9l8.4 -4.7v9.4zM438.3 341.0l8.4 -4.7v9.4zM364.3 350.6l8.4 -4.7v9.4zM360.6 339.2l8.4 -4.7v9.4zM427.8 328.7l8.4 -4.7v9.4zM439.2 323.3l8.4 -4.7v9.4zM454.9 341.6l8.4 -4.7v9.4zM319.9 349.9l8.4 -4.7v9.4zM448.1 324.4l8.4 -4.7v9.4zM458.0 316.7l8.4 -4.7v9.4zM330.1 382.4l8.4 -4.7v9.4zM429.6 320.8l8.4 -4.7v9.4zM332.1 359.6l8.4 -4.7v9.4zM455.7 336.5l8.4 -4.7v9.4zM336.4 353.1l8.4 -4.7v9.4zM334.0 338.6l8.4 -4.7v9.4zM432.2 314.8l8.4 -4.7v9.4zM398.7 351.5l8.4 -4.7v9.4zM346.7 390.7l8.4 -4.7v9.4zM338.3 383.9l8.4 -4.7v9.4zM336.2 366.5l8.4 -4.7v9.4zM349.8 354.7l8.4 -4.7v9.4zM456.7 338.5l8.4 -4.7v9.4zM362.7 398.5l8.4 -4.7v9.4zM349.5 364.2l8.4 -4.7v9.4zM440.3 336.7l8.4 -4.7v9.4zM333.9 410.3l8.4 -4.7v9.4zM349.9 353.8l8.4 -4.7v9.4zM428.7 324.4l8.4 -4.7v9.4zM361.6 339.4l8.4 -4.7v9.4zM332.5 378.9l8.4 -4.7v9.4zM354.1 379.3l8.4 -4.7v9.4zM372.2 364.1l8.4 -4.7v9.4zM455.0 322.4l8.4 -4.7v9.4zM400.8 375.7l8.4 -4.7v9.4zM345.6 346.0l8.4 -4.7v9.4zM447.9 342.9l8.4 -4.7v9.4zM355.0 348.3l8.4 -4.7v9.4zM424.1 360.2l8.4 -4.7v9.4zM347.5 407.4l8.4 -4.7v9.4zM444.2 333.0l8.4 -4.7v9.4zM379.2 337.4l8.4 -4.7v9.4zM325.3 407.6l8.4 -4.7v9.4zM353.4 387.2l8.4 -4.7v9.4zM356.0 395.6l8.4 -4.7v9.4zM403.9 337.8l8.4 -4.7v9.4zM344.5 390.2l8.4 -4.7v9.4zM329.5 351.5l8.4 -4.7v9.4zM398.7 376.9l8.4 -4.7v9.4zM406.4 335.1l8.4 -4.7v9.4zM449.1 309.9l8.4 -4.7v9.4zM322.1 354.5l8.4 -4.7v9.4zM382.6 333.4l8.4 -4.7v9.4zM344.7 362.8l8.4 -4.7v9.4zM400.5 330.4l8.4 -4.7v9.4zM370.9 395.5l8.4 -4.7v9.4zM458.0 330.3l8.4 -4.7v9.4zM417.3 344.1l8.4 -4.7v9.4zM339.6 336.7l8.4 -4.7v9.4zM322.3 403.4l8.4 -4.7v9.4zM418.6 364.1l8.4 -4.7v9.4zM322.8 382.5l8.4 -4.7v9.4zM387.8 376.1l8.4 -4.7v9.4zM364.8 406.2l8.4 -4.7v9.4zM330.4 376.0l8.4 -4.7v9.4zM423.7 358.1l8.4 -4.7v9.4zM423.7 347.2l8.4 -4.7v9.4zM431.7 355.3l8.4 -4.7v9.4zM369.4 381.7l8.4 -4.7v9.4zM446.8 346.2l8.4 -4.7v9.4zM378.6 384.6l8.4 -4.7v9.4zM441.5 332.4l8.4 -4.7v9.4zM407.9 340.1l8.4 -4.7v9.4zM402.0 358.7l8.4 -4.7v9.4zM331.1 383.2l8.4 -4.7v9.4zM459.9 341.1l8.4 -4.7v9.4zM422.5 330.2l8.4 -4.7v9.4zM423.4 340.5l8.4 -4.7v9.4zM381.9 386.2l8.4 -4.7v9.4zM331.6 391.7l8.4 -4.7v9.4zM324.0 379.9l8.4 -4.7v9.4zM387.6 343.2l8.4 -4.7v9.4zM418.3 338.3l8.4 -4.7v9.4zM406.4 373.6l8.4 -4.7v9.4zM355.9 334.8l8.4 -4.7v9.4zM362.2 383.5l8.4 -4.7v9.4zM348.4 347.1l8.4 -4.7v9.4zM447.5 334.7l8.4 -4.7v9.4zM382.1 389.7l8.4 -4.7v9.4zM365.9 381.9l8.4 -4.7v9.4zM347.8 367.2l8.4 -4.7v9.4zM433.4 354.4l8.4 -4.7v9.4zM443.9 321.4l8.4 -4.7v9.4zM402.0 340.7l8.4 -4.7v9.4zM339.0 372.5l8.4 -4.7v9.4zM437.8 348.8l8.4 -4.7v9.4zM420.1 362.6l8.4 -4.7v9.4zM358.8 346.5l8.4 -4.7v9.4zM383.3 347.6l8.4 -4.7v9.4zM350.0 365.7l8.4 -4.7v9.4zM408.0 346.6l8.4 -4.7v9.4zM364.3 394.8l8.4 -4.7v9.4zM458.3 319.5l8.4 -4.7v9.4zM330.3 336.4l8.4 -4.7v9.4zM442.9 303.5l8.4 -4.7v9.4zM419.7 341.6l8.4 -4.7v9.4zM363.4 391.5l8.4 -4.7v9.4zM322.5 344.4l8.4 -4.7v9.4zM383.9 330.7l8.4 -4.7v9.4zM436.8 316.2l8.4 -4.7v9.4zM339.7 337.6l8.4 -4.7v9.4zM408.5 343.4l8.4 -4.7v9.4zM408.6 355.7l8.4 -4.7v9.4zM433.6 356.7l8.4 -4.7v9.4zM416.3 323.0l8.4 -4.7v9.4zM386.8 340.0l8.4 -4.7v9.4zM321.3 369.9l8.4 -4.7v9.4zM420.5 319.4l8.4 -4.7v9.4zM358.2 359.6l8.4 -4.7v9.4zM418.1 339.7l8.4 -4.7v9.4zM406.4 363.7l8.4 -4.7v9.4zM375.3 386.3l8.4 -4.7v9.4zM447.6 304.2l8.4 -4.7v9.4zM451.3 336.5l8.4 -4.7v9.4zM338.1 369.1l8.4 -4.7v9.4zM408.0 371.4l8.4 -4.7v9.4zM372.9 371.9l8.4 -4.7v9.4zM443.8 343.5l8.4 -4.7v9.4zM452.9 322.2l8.4 -4.7v9.4zM411.6 326.7l8.4 -4.7v9.4zM421.6 354.6l8.4 -4.7v9.4zM410.3 357.9l8.4 -4.7v9.4zM349.9 402.9l8.4 -4.7v9.4zM458.0 347.0l8.4 -4.7v9.4zM395.5 375.9l8.4 -4.7v9.4zM365.0 399.7l8.4 -4.7v9.4zM440.5 320.8l8.4 -4.7v9.4zM331.5 367.9l8.4 -4.7v9.4zM397.4 372.8l8.4 -4.7v9.4zM388.5 329.6l8.4 -4.7v9.4zM433.9 307.9l8.4 -4.7v9.4zM432.6 314.4l8.4 -4.7v9.4zM367.0 390.1l8.4 -4.7v9.4zM339.6 345.5l8.4 -4.7v9.4zM392.6 373.3l8.4 -4.7v9.4zM438.2 340.0l8.4 -4.7v9.4zM453.2 323.6l8.4 -4.7v9.4zM453.6 302.0l8.4 -4.7v9.4zM351.0 374.1l8.4 -4.7v9.4zM360.7 387.5l8.4 -4.7v9.4zM409.9 346.8l8.4 -4.7v9.4zM438.8 332.9l8.4 -4.7v9.4zM543.4 281.7l8.4 -4.7v9.4zM576.8 227.1l8.4 -4.7v9.4zM462.7 309.7l8.4 -4.7v9.4zM508.5 310.3l8.4 -4.7v9.4zM581.0 259.1l8.4 -4.7v9.4zM557.9 274.2l8.4 -4.7v9.4zM486.1 297.9l8.4 -4.7v9.4zM489.0 325.2l8.4 -4.7v9.4zM471.0 330.0l8.4 -4.7v9.4zM473.8 320.6l8.4 -4.7v9.4zM519.4 275.8l8.4 -4.7v9.4zM607.4 199.9l8.4 -4.7v9.4zM471.4 335.4l8.4 -4.7v9.4zM549.4 237.2l8.4 -4.7v9.4zM632.6 242.7l8.4 -4.7v9.4zM480.4 300.7l8.4 -4.7v9.4zM484.3 291.3l8.4 -4.7v9.4zM568.9 232.6l8.4 -4.7v9.4zM582.0 217.5l8.4 -4.7v9.4zM490.6 318.6l8.4 -4.7v9.4zM530.5 270.9l8.4 -4.7v9.4zM564.5 257.7l8.4 -4.7v9.4zM527.7 242.9l8.4 -4.7v9.4zM587.2 283.8l8.4 -4.7v9.4zM630.7 226.1l8.4 -4.7v9.4zM522.8 270.8l8.4 -4.7v9.4zM580.9 264.6l8.4 -4.7v9.4zM480.6 289.1l8.4 -4.7v9.4zM524.0 281.3l8.4 -4.7v9.4zM601.8 239.3l8.4 -4.7v9.4zM465.7 333.3l8.4 -4.7v9.4zM535.6 275.6l8.4 -4.7v9.4zM499.5 288.7l8.4 -4.7v9.4zM528.4 298.6l8.4 -4.7v9.4zM478.7 309.5l8.4 -4.7v9.4zM491.8 310.4l8.4 -4.7v9.4zM467.2 301.0l8.4 -4.7v9.4zM520.7 292.4l8.4 -4.7v9.4zM469.9 309.8l8.4 -4.7v9.4zM497.1 280.6l8.4 -4.7v9.4zM543.7 303.6l8.4 -4.7v9.4zM544.5 302.9l8.4 -4.7v9.4zM490.0 325.8l8.4 -4.7v9.4zM524.2 256.8l8.4 -4.7v9.4zM591.0 277.9l8.4 -4.7v9.4zM462.0 304.2l8.4 -4.7v9.4zM594.9 232.9l8.4 -4.7v9.4zM502.8 258.7l8.4 -4.7v9.4zM467.8 320.4l8.4 -4.7v9.4zM632.0 246.6l8.4 -4.7v9.4zM548.4 232.7l8.4 -4.7v9.4zM516.9 305.1l8.4 -4.7v9.4zM605.6 246.3l8.4 -4.7v9.4zM500.7 294.6l8.4 -4.7v9.4zM543.9 279.2l8.4 -4.7v9.4zM506.5 320.4l8.4 -4.7v9.4zM616.4 203.7l8.4 -4.7v9.4zM511.5 313.5l8.4 -4.7v9.4zM509.2 319.3l8.4 -4.7v9.4zM550.4 280.5l8.4 -4.7v9.4zM583.4 229.0l8.4 -4.7v9.4zM510.4 270.5l8.4 -4.7v9.4zM579.7 266.6l8.4 -4.7v9.4zM483.7 326.9l8.4 -4.7v9.4zM533.9 255.8l8.4 -4.7v9.4zM536.5 309.4l8.4 -4.7v9.4zM558.2 271.4l8.4 -4.7v9.4zM620.9 255.0l8.4 -4.7v9.4zM593.1 239.6l8.4 -4.7v9.4zM563.2 289.2l8.4 -4.7v9.4zM598.1 248.3l8.4 -4.7v9.4zM521.3 272.1l8.4 -4.7v9.4zM588.8 252.6l8.4 -4.7v9.4zM463.8 328.0l8.4 -4.7v9.4zM618.1 246.4l8.4 -4.7v9.4zM617.0 255.2l8.4 -4.7v9.4zM553.9 285.3l8.4 -4.7v9.4zM526.8 248.5l8.4 -4.7v9.4zM522.3 267.3l8.4 -4.7v9.4zM623.3 234.2l8.4 -4.7v9.4zM555.0 272.7l8.4 -4.7v9.4zM482.5 306.1l8.4 -4.7v9.4zM582.7 242.8l8.4 -4.7v9.4zM503.6 285.0l8.4 -4.7v9.4zM517.1 297.6l8.4 -4.7v9.4zM485.5 276.7l8.4 -4.7v9.4zM515.2 299.3l8.4 -4.7v9.4zM593.0 258.0l8.4 -4.7v9.4zM623.4 212.3l8.4 -4.7v9.4zM466.0 314.0l8.4 -4.7v9.4zM538.0 249.2l8.4 -4.7v9.4zM576.9 241.7l8.4 -4.7v9.4zM502.3 280.5l8.4 -4.7v9.4zM625.0 187.1l8.4 -4.7v9.4zM523.5 264.1l8.4 -4.7v9.4zM495.8 291.1l8.4 -4.7v9.4zM499.1 321.2l8.4 -4.7v9.4zM548.0 282.1l8.4 -4.7v9.4zM489.0 297.5l8.4 -4.7v9.4zM566.3 283.6l8.4 -4.7v9.4zM504.3 288.2l8.4 -4.7v9.4zM609.5 256.6l8.4 -4.7v9.4zM500.4 295.5l8.4 -4.7v9.4zM593.3 237.8l8.4 -4.7v9.4zM578.0 265.1l8.4 -4.7v9.4zM630.0 219.5l8.4 -4.7v9.4zM579.3 241.2l8.4 -4.7v9.4zM588.2 234.7l8.4 -4.7v9.4zM547.8 257.6l8.4 -4.7v9.4zM514.3 259.5l8.4 -4.7v9.4zM500.1 296.1l8.4 -4.7v9.4zM504.6 259.9l8.4 -4.7v9.4zM600.6 224.3l8.4 -4.7v9.4zM623.7 227.8l8.4 -4.7v9.4zM528.5 306.2l8.4 -4.7v9.4zM616.9 214.3l8.4 -4.7v9.4zM482.7 312.5l8.4 -4.7v9.4zM607.4 242.4l8.4 -4.7v9.4zM597.3 236.4l8.4 -4.7v9.4zM568.3 240.2l8.4 -4.7v9.4zM531.6 267.3l8.4 -4.7v9.4zM527.7 270.8l8.4 -4.7v9.4zM601.2 215.2l8.4 -4.7v9.4zM496.5 279.2l8.4 -4.7v9.4zM629.8 217.6l8.4 -4.7v9.4zM470.0 331.6l8.4 -4.7v9.4zM612.8 252.8l8.4 -4.7v9.4zM523.2 298.5l8.4 -4.7v9.4zM514.0 259.8l8.4 -4.7v9.4zM611.4 255.0l8.4 -4.7v9.4zM497.6 319.3l8.4 -4.7v9.4zM465.1 304.3l8.4 -4.7v9.4zM463.1 297.9l8.4 -4.7v9.4zM489.2 313.1l8.4 -4.7v9.4zM512.4 264.6l8.4 -4.7v9.4zM492.8 285.3l8.4 -4.7v9.4zM610.8 239.4l8.4 -4.7v9.4zM478.6 317.6l8.4 -4.7v9.4zM554.1 260.7l8.4 -4.7v9.4zM552.6 276.1l8.4 -4.7v9.4zM689.2 196.8l8.4 -4.7v9.4zM778.5 170.3l8.4 -4.7v9.4zM673.8 179.3l8.4 -4.7v9.4zM665.7 182.1l8.4 -4.7v9.4zM788.9 137.1l8.4 -4.7v9.4zM746.4 153.4l8.4 -4.7v9.4zM696.7 181.3l8.4 -4.7v9.4zM810.7 150.4l8.4 -4.7v9.4zM637.8 197.2l8.4 -4.7v9.4zM665.6 216.2l8.4 -4.7v9.4zM804.8 159.7l8.4 -4.7v9.4zM808.3 156.3l8.4 -4.7v9.4zM834.2 151.4l8.4 -4.7v9.4zM688.7 205.2l8.4 -4.7v9.4zM737.0 181.4l8.4 -4.7v9.4zM753.3 160.6l8.4 -4.7v9.4zM711.3 175.9l8.4 -4.7v9.4zM700.7 164.4l8.4 -4.7v9.4zM806.9 158.8l8.4 -4.7v9.4zM841.8 145.6l8.4 -4.7v9.4zM751.2 175.5l8.4 -4.7v9.4zM663.1 207.3l8.4 -4.7v9.4zM727.9 158.0l8.4 -4.7v9.4zM677.4 193.0l8.4 -4.7v9.4zM688.0 185.9l8.4 -4.7v9.4zM762.0 156.2l8.4 -4.7v9.4zM662.3 197.8l8.4 -4.7v9.4zM684.2 175.9l8.4 -4.7v9.4zM675.6 185.6l8.4 -4.7v9.4zM650.2 212.8l8.4 -4.7v9.4zM835.1 136.2l8.4 -4.7v9.4zM785.8 171.3l8.4 -4.7v9.4zM643.9 186.7l8.4 -4.7v9.4zM804.1 161.2l8.4 -4.7v9.4zM769.0 143.9l8.4 -4.7v9.4zM721.6 192.9l8.4 -4.7v9.4zM820.9 155.3l8.4 -4.7v9.4zM677.4 209.9l8.4 -4.7v9.4zM713.5 188.9l8.4 -4.7v9.4zM663.6 222.7l8.4 -4.7v9.4zM761.5 170.6l8.4 -4.7v9.4zM679.3 197.1l8.4 -4.7v9.4zM756.8 166.4l8.4 -4.7v9.4zM710.3 190.7l8.4 -4.7v9.4zM706.5 171.1l8.4 -4.7v9.4zM669.3 204.4l8.4 -4.7v9.4zM658.4 185.3l8.4 -4.7v9.4zM649.3 212.9l8.4 -4.7v9.4zM751.6 166.2l8.4 -4.7v9.4zM643.0 204.4l8.4 -4.7v9.4zM706.8 161.1l8.4 -4.7v9.4zM635.4 241.5l8.4 -4.7v9.4zM660.3 188.5l8.4 -4.7v9.4zM691.3 191.6l8.4 -4.7v9.4zM651.1 202.2l8.4 -4.7v9.4zM711.8 195.2l8.4 -4.7v9.4zM636.0 201.5l8.4 -4.7v9.4zM739.1 190.5l8.4 -4.7v9.4zM743.3 166.2l8.4 -4.7v9.4zM775.4 147.9l8.4 -4.7v9.4zM641.5 208.7l8.4 -4.7v9.4zM826.0 151.5l8.4 -4.7v9.4zM689.0 196.8l8.4 -4.7v9.4zM813.1 136.1l8.4 -4.7v9.4zM758.3 155.5l8.4 -4.7v9.4zM686.1 177.9l8.4 -4.7v9.4zM677.6 184.1l8.4 -4.7v9.4zM642.8 202.0l8.4 -4.7v9.4zM653.0 217.3l8.4 -4.7v9.4zM760.8 139.4l8.4 -4.7v9.4zM759.8 68.0l8.4 -4.7v9.4zM763.2 62.6l8.4 -4.7v9.4zM770.8 64.4l8.4 -4.7v9.4zM775.1 68.7l8.4 -4.7v9.4zM743.8 82.5l8.4 -4.7v9.4zM767.8 82.5l8.4 -4.7v9.4zM750.4 114.4l8.4 -4.7v9.4zM754.4 111.7l8.4 -4.7v9.4zM747.8 118.4l8.4 -4.7v9.4zM705.3 133.5l8.4 -4.7v9.4zM735.8 132.5l8.4 -4.7v9.4zM651.8 163.6l8.4 -4.7v9.4zM677.4 164.7l8.4 -4.7v9.4z" fill="#f4f4fa" stroke="none"/>
<path d="M153.3 437.7h7.2v7.2h-7.2zM147.3 443.7h7.2v7.2h-7.2zM146.8 450.0h7.2v7.2h-7.2zM152.8 447.7h7.2v7.2h-7.2zM150.0 456.4h7.2v7.2h-7.2zM162.8 447.7h7.2v7.2h-7.2zM169.7 442.2h7.2v7.2h-7.2zM173.3 429.1h7.2v7.2h-7.2zM183.7 424.2h7.2v7.2h-7.2zM175.5 455.9h7.2v7.2h-7.2zM180.9 450.9h7.2v7.2h-7.2zM187.3 456.4h7.2v7.2h-7.2zM164.6 456.4h7.2v7.2h-7.2zM158.2 462.8h7.2v7.2h-7.2zM167.3 463.7h7.2v7.2h-7.2zM171.9 463.3h7.2v7.2h-7.2zM179.1 470.9h7.2v7.2h-7.2zM167.9 470.6h7.2v7.2h-7.2zM146.0 470.6h7.2v7.2h-7.2zM154.2 479.7h7.2v7.2h-7.2zM160.4 479.7h7.2v7.2h-7.2zM155.5 488.8h7.2v7.2h-7.2zM190.0 474.2h7.2v7.2h-7.2zM232.8 424.0h7.2v7.2h-7.2zM292.8 394.9h7.2v7.2h-7.2zM186.4 447.3h7.2v7.2h-7.2zM161.9 461.9h7.2v7.2h-7.2zM152.8 454.6h7.2v7.2h-7.2zM159.1 458.2h7.2v7.2h-7.2zM148.2 452.8h7.2v7.2h-7.2zM156.4 449.1h7.2v7.2h-7.2zM171.9 452.8h7.2v7.2h-7.2zM370.3 389.4h7.2v7.2h-7.2zM716.5 186.1h7.2v7.2h-7.2zM568.9 277.1h7.2v7.2h-7.2zM654.8 249.2h7.2v7.2h-7.2zM348.0 354.6h7.2v7.2h-7.2zM756.1 178.6h7.2v7.2h-7.2zM715.7 172.6h7.2v7.2h-7.2zM541.4 307.2h7.2v7.2h-7.2zM422.2 372.8h7.2v7.2h-7.2zM792.2 142.7h7.2v7.2h-7.2zM310.4 401.5h7.2v7.2h-7.2zM812.9 152.9h7.2v7.2h-7.2zM415.5 344.1h7.2v7.2h-7.2zM312.4 384.1h7.2v7.2h-7.2zM537.2 295.7h7.2v7.2h-7.2zM424.6 329.0h7.2v7.2h-7.2zM416.7 345.8h7.2v7.2h-7.2zM455.8 303.9h7.2v7.2h-7.2zM757.1 184.7h7.2v7.2h-7.2zM649.7 217.3h7.2v7.2h-7.2zM842.3 162.6h7.2v7.2h-7.2zM362.9 363.7h7.2v7.2h-7.2zM693.2 222.1h7.2v7.2h-7.2zM811.4 155.3h7.2v7.2h-7.2zM752.9 192.5h7.2v7.2h-7.2zM463.3 334.9h7.2v7.2h-7.2zM781.8 188.5h7.2v7.2h-7.2zM574.3 282.8h7.2v7.2h-7.2zM315.4 383.6h7.2v7.2h-7.2zM735.0 186.8h7.2v7.2h-7.2zM391.6 361.7h7.2v7.2h-7.2zM683.1 226.0h7.2v7.2h-7.2zM502.5 309.7h7.2v7.2h-7.2zM576.0 293.3h7.2v7.2h-7.2zM582.9 266.7h7.2v7.2h-7.2zM565.7 253.5h7.2v7.2h-7.2zM320.3 405.1h7.2v7.2h-7.2zM837.2 153.6h7.2v7.2h-7.2zM512.9 288.4h7.2v7.2h-7.2zM572.6 307.2h7.2v7.2h-7.2zM720.2 200.1h7.2v7.2h-7.2zM769.6 162.4h7.2v7.2h-7.2zM579.0 302.3h7.2v7.2h-7.2zM614.2 253.7h7.2v7.2h-7.2zM444.5 340.0h7.2v7.2h-7.2zM822.8 132.8h7.2v7.2h-7.2zM727.4 212.1h7.2v7.2h-7.2zM783.8 182.2h7.2v7.2h-7.2zM741.4 189.6h7.2v7.2h-7.2zM605.1 256.9h7.2v7.2h-7.2zM785.8 114.8h7.2v7.2h-7.2zM789.2 127.3h7.2v7.2h-7.2zM798.4 141.4h7.2v7.2h-7.2zM843.7 136.0h7.2v7.2h-7.2zM815.8 177.2h7.2v7.2h-7.2zM777.8 183.0h7.2v7.2h-7.2zM769.4 190.4h7.2v7.2h-7.2zM746.7 157.3h7.2v7.2h-7.2zM738.8 195.8h7.2v7.2h-7.2zM729.4 211.2h7.2v7.2h-7.2z" fill="none" stroke="#1a1a1a" stroke-width="0.95"/>
<path d="M207.9 499.0a3.9 3.9 0 1 0 7.8 0a3.9 3.9 0 1 0 -7.8 0zM203.4 481.7a3.9 3.9 0 1 0 7.8 0a3.9 3.9 0 1 0 -7.8 0zM207.3 494.7a3.9 3.9 0 1 0 7.8 0a3.9 3.9 0 1 0 -7.8 0zM206.4 486.2a3.9 3.9 0 1 0 7.8 0a3.9 3.9 0 1 0 -7.8 0zM206.1 492.1a3.9 3.9 0 1 0 7.8 0a3.9 3.9 0 1 0 -7.8 0zM206.0 483.2a3.9 3.9 0 1 0 7.8 0a3.9 3.9 0 1 0 -7.8 0zM205.3 487.9a3.9 3.9 0 1 0 7.8 0a3.9 3.9 0 1 0 -7.8 0zM206.7 499.9a3.9 3.9 0 1 0 7.8 0a3.9 3.9 0 1 0 -7.8 0zM207.8 490.9a3.9 3.9 0 1 0 7.8 0a3.9 3.9 0 1 0 -7.8 0zM205.3 485.4a3.9 3.9 0 1 0 7.8 0a3.9 3.9 0 1 0 -7.8 0zM214.4 493.1a3.9 3.9 0 1 0 7.8 0a3.9 3.9 0 1 0 -7.8 0zM219.0 492.9a3.9 3.9 0 1 0 7.8 0a3.9 3.9 0 1 0 -7.8 0zM228.0 478.2a3.9 3.9 0 1 0 7.8 0a3.9 3.9 0 1 0 -7.8 0zM206.6 499.6a3.9 3.9 0 1 0 7.8 0a3.9 3.9 0 1 0 -7.8 0zM215.2 487.5a3.9 3.9 0 1 0 7.8 0a3.9 3.9 0 1 0 -7.8 0zM240.9 483.2a3.9 3.9 0 1 0 7.8 0a3.9 3.9 0 1 0 -7.8 0zM235.4 485.2a3.9 3.9 0 1 0 7.8 0a3.9 3.9 0 1 0 -7.8 0zM228.5 480.0a3.9 3.9 0 1 0 7.8 0a3.9 3.9 0 1 0 -7.8 0zM228.3 496.4a3.9 3.9 0 1 0 7.8 0a3.9 3.9 0 1 0 -7.8 0zM224.4 494.4a3.9 3.9 0 1 0 7.8 0a3.9 3.9 0 1 0 -7.8 0zM229.6 477.4a3.9 3.9 0 1 0 7.8 0a3.9 3.9 0 1 0 -7.8 0zM232.6 488.9a3.9 3.9 0 1 0 7.8 0a3.9 3.9 0 1 0 -7.8 0zM216.6 483.1a3.9 3.9 0 1 0 7.8 0a3.9 3.9 0 1 0 -7.8 0zM236.4 484.8a3.9 3.9 0 1 0 7.8 0a3.9 3.9 0 1 0 -7.8 0zM231.3 496.2a3.9 3.9 0 1 0 7.8 0a3.9 3.9 0 1 0 -7.8 0zM231.1 497.3a3.9 3.9 0 1 0 7.8 0a3.9 3.9 0 1 0 -7.8 0zM219.9 496.5a3.9 3.9 0 1 0 7.8 0a3.9 3.9 0 1 0 -7.8 0zM221.7 498.9a3.9 3.9 0 1 0 7.8 0a3.9 3.9 0 1 0 -7.8 0zM236.9 474.7a3.9 3.9 0 1 0 7.8 0a3.9 3.9 0 1 0 -7.8 0zM210.9 489.0a3.9 3.9 0 1 0 7.8 0a3.9 3.9 0 1 0 -7.8 0zM239.9 482.6a3.9 3.9 0 1 0 7.8 0a3.9 3.9 0 1 0 -7.8 0zM228.0 483.6a3.9 3.9 0 1 0 7.8 0a3.9 3.9 0 1 0 -7.8 0zM242.0 454.0a3.9 3.9 0 1 0 7.8 0a3.9 3.9 0 1 0 -7.8 0zM246.0 452.7a3.9 3.9 0 1 0 7.8 0a3.9 3.9 0 1 0 -7.8 0zM237.8 464.0a3.9 3.9 0 1 0 7.8 0a3.9 3.9 0 1 0 -7.8 0zM259.0 459.0a3.9 3.9 0 1 0 7.8 0a3.9 3.9 0 1 0 -7.8 0zM255.2 448.6a3.9 3.9 0 1 0 7.8 0a3.9 3.9 0 1 0 -7.8 0zM249.5 453.4a3.9 3.9 0 1 0 7.8 0a3.9 3.9 0 1 0 -7.8 0zM240.4 455.0a3.9 3.9 0 1 0 7.8 0a3.9 3.9 0 1 0 -7.8 0zM241.5 474.4a3.9 3.9 0 1 0 7.8 0a3.9 3.9 0 1 0 -7.8 0zM443.0 362.6a3.9 3.9 0 1 0 7.8 0a3.9 3.9 0 1 0 -7.8 0zM494.7 341.3a3.9 3.9 0 1 0 7.8 0a3.9 3.9 0 1 0 -7.8 0zM478.1 349.2a3.9 3.9 0 1 0 7.8 0a3.9 3.9 0 1 0 -7.8 0zM264.8 446.3a3.9 3.9 0 1 0 7.8 0a3.9 3.9 0 1 0 -7.8 0zM539.1 315.7a3.9 3.9 0 1 0 7.8 0a3.9 3.9 0 1 0 -7.8 0zM526.4 308.1a3.9 3.9 0 1 0 7.8 0a3.9 3.9 0 1 0 -7.8 0zM396.8 379.5a3.9 3.9 0 1 0 7.8 0a3.9 3.9 0 1 0 -7.8 0zM419.2 372.7a3.9 3.9 0 1 0 7.8 0a3.9 3.9 0 1 0 -7.8 0zM260.0 444.0a3.9 3.9 0 1 0 7.8 0a3.9 3.9 0 1 0 -7.8 0zM339.9 425.4a3.9 3.9 0 1 0 7.8 0a3.9 3.9 0 1 0 -7.8 0zM485.8 327.0a3.9 3.9 0 1 0 7.8 0a3.9 3.9 0 1 0 -7.8 0zM495.2 321.8a3.9 3.9 0 1 0 7.8 0a3.9 3.9 0 1 0 -7.8 0zM441.3 349.0a3.9 3.9 0 1 0 7.8 0a3.9 3.9 0 1 0 -7.8 0zM256.6 455.8a3.9 3.9 0 1 0 7.8 0a3.9 3.9 0 1 0 -7.8 0zM318.9 422.0a3.9 3.9 0 1 0 7.8 0a3.9 3.9 0 1 0 -7.8 0zM550.8 316.1a3.9 3.9 0 1 0 7.8 0a3.9 3.9 0 1 0 -7.8 0zM342.9 424.6a3.9 3.9 0 1 0 7.8 0a3.9 3.9 0 1 0 -7.8 0zM417.9 375.8a3.9 3.9 0 1 0 7.8 0a3.9 3.9 0 1 0 -7.8 0zM317.5 436.7a3.9 3.9 0 1 0 7.8 0a3.9 3.9 0 1 0 -7.8 0zM463.3 357.6a3.9 3.9 0 1 0 7.8 0a3.9 3.9 0 1 0 -7.8 0zM524.2 313.5a3.9 3.9 0 1 0 7.8 0a3.9 3.9 0 1 0 -7.8 0zM364.5 396.4a3.9 3.9 0 1 0 7.8 0a3.9 3.9 0 1 0 -7.8 0zM299.8 426.3a3.9 3.9 0 1 0 7.8 0a3.9 3.9 0 1 0 -7.8 0zM346.5 415.4a3.9 3.9 0 1 0 7.8 0a3.9 3.9 0 1 0 -7.8 0zM257.1 452.5a3.9 3.9 0 1 0 7.8 0a3.9 3.9 0 1 0 -7.8 0zM626.7 262.1a3.9 3.9 0 1 0 7.8 0a3.9 3.9 0 1 0 -7.8 0zM603.1 287.5a3.9 3.9 0 1 0 7.8 0a3.9 3.9 0 1 0 -7.8 0zM623.2 265.9a3.9 3.9 0 1 0 7.8 0a3.9 3.9 0 1 0 -7.8 0zM824.7 166.1a3.9 3.9 0 1 0 7.8 0a3.9 3.9 0 1 0 -7.8 0zM836.8 170.4a3.9 3.9 0 1 0 7.8 0a3.9 3.9 0 1 0 -7.8 0zM715.1 208.5a3.9 3.9 0 1 0 7.8 0a3.9 3.9 0 1 0 -7.8 0zM726.1 198.2a3.9 3.9 0 1 0 7.8 0a3.9 3.9 0 1 0 -7.8 0zM845.1 160.0a3.9 3.9 0 1 0 7.8 0a3.9 3.9 0 1 0 -7.8 0zM841.4 171.9a3.9 3.9 0 1 0 7.8 0a3.9 3.9 0 1 0 -7.8 0zM564.3 291.1a3.9 3.9 0 1 0 7.8 0a3.9 3.9 0 1 0 -7.8 0zM694.7 221.9a3.9 3.9 0 1 0 7.8 0a3.9 3.9 0 1 0 -7.8 0zM607.6 279.1a3.9 3.9 0 1 0 7.8 0a3.9 3.9 0 1 0 -7.8 0zM662.6 238.5a3.9 3.9 0 1 0 7.8 0a3.9 3.9 0 1 0 -7.8 0zM824.8 174.9a3.9 3.9 0 1 0 7.8 0a3.9 3.9 0 1 0 -7.8 0zM612.2 279.2a3.9 3.9 0 1 0 7.8 0a3.9 3.9 0 1 0 -7.8 0zM683.2 227.4a3.9 3.9 0 1 0 7.8 0a3.9 3.9 0 1 0 -7.8 0zM692.4 225.0a3.9 3.9 0 1 0 7.8 0a3.9 3.9 0 1 0 -7.8 0zM842.1 171.0a3.9 3.9 0 1 0 7.8 0a3.9 3.9 0 1 0 -7.8 0zM795.7 185.5a3.9 3.9 0 1 0 7.8 0a3.9 3.9 0 1 0 -7.8 0zM727.8 193.1a3.9 3.9 0 1 0 7.8 0a3.9 3.9 0 1 0 -7.8 0zM842.1 162.4a3.9 3.9 0 1 0 7.8 0a3.9 3.9 0 1 0 -7.8 0zM560.8 296.7a3.9 3.9 0 1 0 7.8 0a3.9 3.9 0 1 0 -7.8 0zM676.4 215.1a3.9 3.9 0 1 0 7.8 0a3.9 3.9 0 1 0 -7.8 0zM834.6 156.2a3.9 3.9 0 1 0 7.8 0a3.9 3.9 0 1 0 -7.8 0zM818.3 171.8a3.9 3.9 0 1 0 7.8 0a3.9 3.9 0 1 0 -7.8 0zM607.9 272.8a3.9 3.9 0 1 0 7.8 0a3.9 3.9 0 1 0 -7.8 0zM686.7 208.6a3.9 3.9 0 1 0 7.8 0a3.9 3.9 0 1 0 -7.8 0zM777.4 187.5a3.9 3.9 0 1 0 7.8 0a3.9 3.9 0 1 0 -7.8 0zM841.0 171.5a3.9 3.9 0 1 0 7.8 0a3.9 3.9 0 1 0 -7.8 0zM784.0 193.6a3.9 3.9 0 1 0 7.8 0a3.9 3.9 0 1 0 -7.8 0zM826.3 171.6a3.9 3.9 0 1 0 7.8 0a3.9 3.9 0 1 0 -7.8 0zM712.5 207.1a3.9 3.9 0 1 0 7.8 0a3.9 3.9 0 1 0 -7.8 0zM792.1 189.2a3.9 3.9 0 1 0 7.8 0a3.9 3.9 0 1 0 -7.8 0zM796.9 185.5a3.9 3.9 0 1 0 7.8 0a3.9 3.9 0 1 0 -7.8 0zM564.0 295.1a3.9 3.9 0 1 0 7.8 0a3.9 3.9 0 1 0 -7.8 0zM581.4 292.6a3.9 3.9 0 1 0 7.8 0a3.9 3.9 0 1 0 -7.8 0zM724.3 203.6a3.9 3.9 0 1 0 7.8 0a3.9 3.9 0 1 0 -7.8 0zM804.9 168.1a3.9 3.9 0 1 0 7.8 0a3.9 3.9 0 1 0 -7.8 0zM767.5 189.3a3.9 3.9 0 1 0 7.8 0a3.9 3.9 0 1 0 -7.8 0zM617.9 280.1a3.9 3.9 0 1 0 7.8 0a3.9 3.9 0 1 0 -7.8 0zM571.6 293.3a3.9 3.9 0 1 0 7.8 0a3.9 3.9 0 1 0 -7.8 0zM711.4 209.3a3.9 3.9 0 1 0 7.8 0a3.9 3.9 0 1 0 -7.8 0zM840.9 164.8a3.9 3.9 0 1 0 7.8 0a3.9 3.9 0 1 0 -7.8 0zM813.2 167.2a3.9 3.9 0 1 0 7.8 0a3.9 3.9 0 1 0 -7.8 0zM695.7 205.4a3.9 3.9 0 1 0 7.8 0a3.9 3.9 0 1 0 -7.8 0zM741.6 194.2a3.9 3.9 0 1 0 7.8 0a3.9 3.9 0 1 0 -7.8 0zM783.7 172.5a3.9 3.9 0 1 0 7.8 0a3.9 3.9 0 1 0 -7.8 0zM690.7 227.0a3.9 3.9 0 1 0 7.8 0a3.9 3.9 0 1 0 -7.8 0zM559.4 302.6a3.9 3.9 0 1 0 7.8 0a3.9 3.9 0 1 0 -7.8 0zM752.6 197.7a3.9 3.9 0 1 0 7.8 0a3.9 3.9 0 1 0 -7.8 0zM717.7 204.4a3.9 3.9 0 1 0 7.8 0a3.9 3.9 0 1 0 -7.8 0zM834.3 160.4a3.9 3.9 0 1 0 7.8 0a3.9 3.9 0 1 0 -7.8 0zM760.2 193.7a3.9 3.9 0 1 0 7.8 0a3.9 3.9 0 1 0 -7.8 0zM767.3 186.7a3.9 3.9 0 1 0 7.8 0a3.9 3.9 0 1 0 -7.8 0zM561.0 304.8a3.9 3.9 0 1 0 7.8 0a3.9 3.9 0 1 0 -7.8 0zM637.1 260.9a3.9 3.9 0 1 0 7.8 0a3.9 3.9 0 1 0 -7.8 0zM842.4 169.8a3.9 3.9 0 1 0 7.8 0a3.9 3.9 0 1 0 -7.8 0zM672.9 232.3a3.9 3.9 0 1 0 7.8 0a3.9 3.9 0 1 0 -7.8 0zM668.0 222.5a3.9 3.9 0 1 0 7.8 0a3.9 3.9 0 1 0 -7.8 0zM721.7 206.7a3.9 3.9 0 1 0 7.8 0a3.9 3.9 0 1 0 -7.8 0zM755.0 192.7a3.9 3.9 0 1 0 7.8 0a3.9 3.9 0 1 0 -7.8 0zM674.6 228.9a3.9 3.9 0 1 0 7.8 0a3.9 3.9 0 1 0 -7.8 0zM650.2 245.1a3.9 3.9 0 1 0 7.8 0a3.9 3.9 0 1 0 -7.8 0zM557.7 290.5a3.9 3.9 0 1 0 7.8 0a3.9 3.9 0 1 0 -7.8 0zM807.7 167.1a3.9 3.9 0 1 0 7.8 0a3.9 3.9 0 1 0 -7.8 0z" fill="none" stroke="#d84848" stroke-width="0.95"/>
<path d="M356.6 166.2l4.7 8.4h-9.4zM357.1 168.7l4.7 8.4h-9.4zM355.3 180.0l4.7 8.4h-9.4zM356.6 191.3l4.7 8.4h-9.4zM358.4 195.1l4.7 8.4h-9.4zM357.9 200.6l4.7 8.4h-9.4zM361.6 220.3l4.7 8.4h-9.4zM359.1 226.6l4.7 8.4h-9.4zM360.4 232.8l4.7 8.4h-9.4zM365.4 237.4l4.7 8.4h-9.4zM354.1 246.7l4.7 8.4h-9.4zM354.8 254.2l4.7 8.4h-9.4zM362.4 255.5l4.7 8.4h-9.4zM366.7 263.0l4.7 8.4h-9.4zM362.4 268.6l4.7 8.4h-9.4zM369.2 277.6l4.7 8.4h-9.4zM367.9 281.9l4.7 8.4h-9.4zM354.1 308.3l4.7 8.4h-9.4zM370.4 308.3l4.7 8.4h-9.4zM375.5 309.6l4.7 8.4h-9.4zM373.0 318.4l4.7 8.4h-9.4zM352.8 322.9l4.7 8.4h-9.4zM378.0 319.8l4.7 8.4h-9.4zM742.5 197.1l4.7 8.4h-9.4zM582.2 277.0l4.7 8.4h-9.4zM330.2 388.0l4.7 8.4h-9.4zM574.5 297.1l4.7 8.4h-9.4zM524.0 324.3l4.7 8.4h-9.4zM471.8 351.6l4.7 8.4h-9.4zM709.5 197.2l4.7 8.4h-9.4zM609.9 273.1l4.7 8.4h-9.4zM430.4 364.6l4.7 8.4h-9.4zM748.7 178.4l4.7 8.4h-9.4zM747.7 191.3l4.7 8.4h-9.4zM769.0 173.7l4.7 8.4h-9.4zM378.4 398.2l4.7 8.4h-9.4zM748.5 183.9l4.7 8.4h-9.4zM378.8 374.5l4.7 8.4h-9.4zM660.2 221.9l4.7 8.4h-9.4zM824.7 162.7l4.7 8.4h-9.4zM434.5 366.4l4.7 8.4h-9.4zM517.4 332.6l4.7 8.4h-9.4zM802.9 167.0l4.7 8.4h-9.4zM665.2 230.0l4.7 8.4h-9.4zM748.9 199.7l4.7 8.4h-9.4zM344.8 377.0l4.7 8.4h-9.4zM642.9 236.5l4.7 8.4h-9.4zM636.4 235.1l4.7 8.4h-9.4zM787.6 172.8l4.7 8.4h-9.4zM390.7 387.0l4.7 8.4h-9.4zM492.4 320.9l4.7 8.4h-9.4zM581.5 273.4l4.7 8.4h-9.4zM439.1 371.8l4.7 8.4h-9.4zM693.1 193.1l4.7 8.4h-9.4zM734.6 175.6l4.7 8.4h-9.4zM503.1 338.5l4.7 8.4h-9.4zM652.5 228.7l4.7 8.4h-9.4zM526.3 311.0l4.7 8.4h-9.4zM396.0 396.9l4.7 8.4h-9.4zM358.0 383.3l4.7 8.4h-9.4zM718.1 192.6l4.7 8.4h-9.4zM840.1 148.0l4.7 8.4h-9.4zM839.2 167.6l4.7 8.4h-9.4zM678.5 226.3l4.7 8.4h-9.4zM562.5 306.0l4.7 8.4h-9.4zM744.0 187.5l4.7 8.4h-9.4zM574.9 295.2l4.7 8.4h-9.4zM542.7 292.8l4.7 8.4h-9.4zM718.2 188.6l4.7 8.4h-9.4zM583.6 292.9l4.7 8.4h-9.4zM419.5 350.5l4.7 8.4h-9.4zM394.2 382.7l4.7 8.4h-9.4zM517.7 310.8l4.7 8.4h-9.4zM564.8 307.8l4.7 8.4h-9.4zM462.5 343.4l4.7 8.4h-9.4zM787.2 175.5l4.7 8.4h-9.4zM469.3 341.9l4.7 8.4h-9.4zM578.8 275.0l4.7 8.4h-9.4zM526.3 308.3l4.7 8.4h-9.4zM748.5 180.2l4.7 8.4h-9.4zM672.8 231.9l4.7 8.4h-9.4zM810.0 160.5l4.7 8.4h-9.4zM643.6 236.5l4.7 8.4h-9.4zM537.1 308.6l4.7 8.4h-9.4zM742.6 200.5l4.7 8.4h-9.4zM481.2 320.3l4.7 8.4h-9.4zM563.7 280.6l4.7 8.4h-9.4zM345.7 396.3l4.7 8.4h-9.4zM388.3 390.3l4.7 8.4h-9.4zM518.2 332.4l4.7 8.4h-9.4zM773.8 163.8l4.7 8.4h-9.4zM430.2 378.9l4.7 8.4h-9.4zM649.0 235.1l4.7 8.4h-9.4zM736.8 198.7l4.7 8.4h-9.4zM585.7 281.7l4.7 8.4h-9.4zM382.1 379.5l4.7 8.4h-9.4zM405.4 378.8l4.7 8.4h-9.4zM645.4 229.7l4.7 8.4h-9.4zM656.6 219.1l4.7 8.4h-9.4zM384.8 389.1l4.7 8.4h-9.4zM570.6 303.8l4.7 8.4h-9.4zM657.2 236.7l4.7 8.4h-9.4zM396.0 390.7l4.7 8.4h-9.4zM373.4 393.4l4.7 8.4h-9.4zM803.9 178.5l4.7 8.4h-9.4zM794.5 168.2l4.7 8.4h-9.4zM690.8 217.5l4.7 8.4h-9.4zM401.3 392.2l4.7 8.4h-9.4zM802.6 165.0l4.7 8.4h-9.4zM734.8 188.4l4.7 8.4h-9.4zM473.7 347.5l4.7 8.4h-9.4zM363.1 400.5l4.7 8.4h-9.4zM838.6 149.6l4.7 8.4h-9.4zM818.6 149.3l4.7 8.4h-9.4zM776.2 169.5l4.7 8.4h-9.4zM832.4 155.7l4.7 8.4h-9.4zM809.5 150.3l4.7 8.4h-9.4zM374.5 400.7l4.7 8.4h-9.4zM662.1 227.7l4.7 8.4h-9.4zM347.0 369.0l4.7 8.4h-9.4zM522.7 302.0l4.7 8.4h-9.4zM846.4 161.8l4.7 8.4h-9.4zM823.9 166.3l4.7 8.4h-9.4zM508.6 309.4l4.7 8.4h-9.4zM710.4 187.8l4.7 8.4h-9.4zM614.5 262.8l4.7 8.4h-9.4zM587.2 268.3l4.7 8.4h-9.4zM368.5 390.0l4.7 8.4h-9.4zM345.8 384.8l4.7 8.4h-9.4zM408.2 365.1l4.7 8.4h-9.4zM408.5 375.3l4.7 8.4h-9.4zM531.9 302.9l4.7 8.4h-9.4zM445.2 357.9l4.7 8.4h-9.4zM803.5 164.0l4.7 8.4h-9.4zM414.9 363.3l4.7 8.4h-9.4zM455.0 353.0l4.7 8.4h-9.4zM738.9 190.7l4.7 8.4h-9.4zM427.8 357.6l4.7 8.4h-9.4zM528.2 311.8l4.7 8.4h-9.4zM536.7 325.1l4.7 8.4h-9.4zM616.6 267.4l4.7 8.4h-9.4zM702.5 207.5l4.7 8.4h-9.4zM748.7 181.6l4.7 8.4h-9.4zM676.6 229.7l4.7 8.4h-9.4zM415.3 374.2l4.7 8.4h-9.4zM530.0 298.7l4.7 8.4h-9.4zM350.7 396.5l4.7 8.4h-9.4zM389.6 389.4l4.7 8.4h-9.4zM382.1 379.7l4.7 8.4h-9.4zM346.7 385.8l4.7 8.4h-9.4zM738.9 180.4l4.7 8.4h-9.4zM624.0 269.8l4.7 8.4h-9.4zM482.6 334.8l4.7 8.4h-9.4zM706.6 212.2l4.7 8.4h-9.4zM417.7 374.4l4.7 8.4h-9.4zM392.4 365.8l4.7 8.4h-9.4zM841.3 141.8l4.7 8.4h-9.4zM808.3 172.2l4.7 8.4h-9.4zM681.5 220.1l4.7 8.4h-9.4zM668.5 214.9l4.7 8.4h-9.4zM560.6 287.0l4.7 8.4h-9.4zM776.8 184.3l4.7 8.4h-9.4zM739.5 179.9l4.7 8.4h-9.4zM637.9 239.0l4.7 8.4h-9.4zM741.1 195.3l4.7 8.4h-9.4zM847.5 159.8l4.7 8.4h-9.4zM685.6 219.6l4.7 8.4h-9.4zM378.7 390.1l4.7 8.4h-9.4zM347.0 377.9l4.7 8.4h-9.4zM390.9 397.6l4.7 8.4h-9.4zM344.6 402.9l4.7 8.4h-9.4zM822.9 158.6l4.7 8.4h-9.4zM762.9 167.4l4.7 8.4h-9.4zM402.5 358.0l4.7 8.4h-9.4zM365.4 367.9l4.7 8.4h-9.4zM760.7 169.2l4.7 8.4h-9.4zM637.2 240.1l4.7 8.4h-9.4zM398.8 374.4l4.7 8.4h-9.4zM424.6 382.6l4.7 8.4h-9.4zM529.6 316.0l4.7 8.4h-9.4zM623.0 261.4l4.7 8.4h-9.4zM579.8 278.5l4.7 8.4h-9.4zM401.1 390.2l4.7 8.4h-9.4zM430.1 360.9l4.7 8.4h-9.4zM750.4 187.2l4.7 8.4h-9.4zM823.0 169.8l4.7 8.4h-9.4zM597.1 264.3l4.7 8.4h-9.4zM638.2 245.4l4.7 8.4h-9.4zM778.1 176.4l4.7 8.4h-9.4zM691.0 218.0l4.7 8.4h-9.4zM574.6 299.7l4.7 8.4h-9.4zM797.7 158.1l4.7 8.4h-9.4zM808.0 175.9l4.7 8.4h-9.4zM774.6 171.8l4.7 8.4h-9.4zM460.9 334.6l4.7 8.4h-9.4zM522.9 327.5l4.7 8.4h-9.4zM518.7 302.3l4.7 8.4h-9.4zM488.6 319.2l4.7 8.4h-9.4zM653.7 241.6l4.7 8.4h-9.4zM811.8 151.4l4.7 8.4h-9.4zM527.8 301.9l4.7 8.4h-9.4zM803.4 176.5l4.7 8.4h-9.4zM600.3 289.1l4.7 8.4h-9.4z" fill="none" stroke="#5454a8" stroke-width="0.95"/>
<path d="M444.3 370.5l4.7 -8.4h-9.4zM640.6 245.7l4.7 -8.4h-9.4zM571.5 303.1l4.7 -8.4h-9.4zM284.8 452.2l4.7 -8.4h-9.4zM272.5 452.5l4.7 -8.4h-9.4zM291.9 437.8l4.7 -8.4h-9.4zM504.7 351.3l4.7 -8.4h-9.4zM324.3 430.0l4.7 -8.4h-9.4zM626.5 280.0l4.7 -8.4h-9.4zM596.3 289.7l4.7 -8.4h-9.4zM835.8 160.6l4.7 -8.4h-9.4zM765.1 194.6l4.7 -8.4h-9.4zM336.6 422.4l4.7 -8.4h-9.4zM435.1 394.4l4.7 -8.4h-9.4zM358.4 430.4l4.7 -8.4h-9.4zM633.3 259.4l4.7 -8.4h-9.4zM578.6 291.1l4.7 -8.4h-9.4zM285.8 443.2l4.7 -8.4h-9.4zM658.2 243.4l4.7 -8.4h-9.4zM438.5 385.9l4.7 -8.4h-9.4zM521.9 329.0l4.7 -8.4h-9.4zM726.6 220.3l4.7 -8.4h-9.4zM396.5 409.5l4.7 -8.4h-9.4zM565.1 320.0l4.7 -8.4h-9.4zM687.7 223.9l4.7 -8.4h-9.4zM838.1 161.6l4.7 -8.4h-9.4zM500.9 351.4l4.7 -8.4h-9.4zM341.2 431.7l4.7 -8.4h-9.4zM273.5 458.5l4.7 -8.4h-9.4zM708.7 223.6l4.7 -8.4h-9.4zM775.3 191.6l4.7 -8.4h-9.4zM667.2 242.2l4.7 -8.4h-9.4zM597.9 290.2l4.7 -8.4h-9.4zM754.0 217.0l4.7 -8.4h-9.4zM534.5 331.9l4.7 -8.4h-9.4zM286.4 457.5l4.7 -8.4h-9.4zM638.3 271.4l4.7 -8.4h-9.4zM743.2 202.6l4.7 -8.4h-9.4zM481.5 357.6l4.7 -8.4h-9.4zM263.5 454.9l4.7 -8.4h-9.4zM350.8 419.1l4.7 -8.4h-9.4zM285.4 459.7l4.7 -8.4h-9.4zM327.6 429.4l4.7 -8.4h-9.4zM484.6 361.3l4.7 -8.4h-9.4zM298.3 447.0l4.7 -8.4h-9.4zM579.7 311.9l4.7 -8.4h-9.4zM741.6 219.4l4.7 -8.4h-9.4zM417.1 395.2l4.7 -8.4h-9.4zM465.3 370.1l4.7 -8.4h-9.4zM824.6 168.3l4.7 -8.4h-9.4zM355.7 421.2l4.7 -8.4h-9.4zM390.0 411.7l4.7 -8.4h-9.4zM603.5 281.2l4.7 -8.4h-9.4zM252.5 458.8l4.7 -8.4h-9.4zM471.6 359.4l4.7 -8.4h-9.4zM821.9 184.6l4.7 -8.4h-9.4zM559.3 316.7l4.7 -8.4h-9.4zM655.7 235.0l4.7 -8.4h-9.4zM789.7 199.5l4.7 -8.4h-9.4zM774.7 205.4l4.7 -8.4h-9.4zM485.4 349.1l4.7 -8.4h-9.4zM312.1 447.3l4.7 -8.4h-9.4zM287.3 438.6l4.7 -8.4h-9.4zM375.3 413.0l4.7 -8.4h-9.4zM454.0 359.8l4.7 -8.4h-9.4zM250.1 455.5l4.7 -8.4h-9.4zM310.9 439.5l4.7 -8.4h-9.4zM265.3 464.2l4.7 -8.4h-9.4zM618.4 265.8l4.7 -8.4h-9.4zM401.4 400.9l4.7 -8.4h-9.4zM468.5 350.0l4.7 -8.4h-9.4zM759.4 216.4l4.7 -8.4h-9.4zM529.6 330.0l4.7 -8.4h-9.4zM301.5 434.9l4.7 -8.4h-9.4zM455.6 363.5l4.7 -8.4h-9.4zM747.3 197.6l4.7 -8.4h-9.4zM263.9 466.2l4.7 -8.4h-9.4zM567.0 300.0l4.7 -8.4h-9.4zM575.9 291.8l4.7 -8.4h-9.4zM566.9 321.7l4.7 -8.4h-9.4zM768.0 204.9l4.7 -8.4h-9.4zM406.7 398.9l4.7 -8.4h-9.4zM350.2 437.6l4.7 -8.4h-9.4zM569.6 315.0l4.7 -8.4h-9.4zM447.8 369.2l4.7 -8.4h-9.4zM736.9 224.5l4.7 -8.4h-9.4zM761.6 210.3l4.7 -8.4h-9.4zM741.0 216.1l4.7 -8.4h-9.4zM386.0 415.3l4.7 -8.4h-9.4zM463.3 351.2l4.7 -8.4h-9.4zM266.8 449.6l4.7 -8.4h-9.4zM405.5 407.3l4.7 -8.4h-9.4zM823.9 176.9l4.7 -8.4h-9.4zM812.2 197.1l4.7 -8.4h-9.4zM823.0 175.0l4.7 -8.4h-9.4zM382.3 410.2l4.7 -8.4h-9.4zM368.0 417.6l4.7 -8.4h-9.4zM624.4 280.4l4.7 -8.4h-9.4zM754.3 203.9l4.7 -8.4h-9.4zM641.8 263.9l4.7 -8.4h-9.4zM300.9 453.0l4.7 -8.4h-9.4zM795.9 197.4l4.7 -8.4h-9.4zM700.1 224.4l4.7 -8.4h-9.4zM357.1 436.5l4.7 -8.4h-9.4zM449.5 381.6l4.7 -8.4h-9.4zM833.0 171.6l4.7 -8.4h-9.4zM490.8 360.6l4.7 -8.4h-9.4zM684.9 221.7l4.7 -8.4h-9.4zM326.2 427.1l4.7 -8.4h-9.4zM792.9 199.1l4.7 -8.4h-9.4zM337.7 442.0l4.7 -8.4h-9.4zM838.2 176.7l4.7 -8.4h-9.4zM460.2 366.3l4.7 -8.4h-9.4zM328.6 422.3l4.7 -8.4h-9.4zM832.5 178.9l4.7 -8.4h-9.4zM565.9 321.1l4.7 -8.4h-9.4zM510.3 349.7l4.7 -8.4h-9.4zM745.7 199.5l4.7 -8.4h-9.4zM401.1 399.7l4.7 -8.4h-9.4zM394.3 411.3l4.7 -8.4h-9.4zM405.6 400.6l4.7 -8.4h-9.4zM328.6 448.1l4.7 -8.4h-9.4zM462.3 362.4l4.7 -8.4h-9.4zM600.0 300.7l4.7 -8.4h-9.4zM502.4 354.9l4.7 -8.4h-9.4zM551.0 319.1l4.7 -8.4h-9.4zM564.1 298.3l4.7 -8.4h-9.4zM514.1 329.9l4.7 -8.4h-9.4zM252.4 465.4l4.7 -8.4h-9.4zM353.4 428.5l4.7 -8.4h-9.4zM685.1 232.4l4.7 -8.4h-9.4zM445.6 378.2l4.7 -8.4h-9.4zM583.3 307.2l4.7 -8.4h-9.4zM313.7 444.3l4.7 -8.4h-9.4zM399.1 400.4l4.7 -8.4h-9.4zM713.4 220.0l4.7 -8.4h-9.4zM587.0 304.4l4.7 -8.4h-9.4zM797.5 187.3l4.7 -8.4h-9.4zM617.5 275.9l4.7 -8.4h-9.4zM557.3 319.7l4.7 -8.4h-9.4zM521.4 335.4l4.7 -8.4h-9.4zM536.8 337.8l4.7 -8.4h-9.4zM669.5 248.5l4.7 -8.4h-9.4zM815.3 175.3l4.7 -8.4h-9.4zM585.7 309.9l4.7 -8.4h-9.4zM754.0 194.4l4.7 -8.4h-9.4zM323.0 436.9l4.7 -8.4h-9.4zM293.5 441.9l4.7 -8.4h-9.4zM293.9 454.9l4.7 -8.4h-9.4zM720.4 228.2l4.7 -8.4h-9.4zM342.7 437.7l4.7 -8.4h-9.4zM646.2 243.8l4.7 -8.4h-9.4zM779.7 208.4l4.7 -8.4h-9.4zM381.8 429.8l4.7 -8.4h-9.4zM489.0 349.8l4.7 -8.4h-9.4zM843.9 179.1l4.7 -8.4h-9.4zM346.9 428.8l4.7 -8.4h-9.4zM559.4 309.4l4.7 -8.4h-9.4zM367.4 420.9l4.7 -8.4h-9.4zM683.3 218.1l4.7 -8.4h-9.4zM582.4 298.8l4.7 -8.4h-9.4zM260.8 453.2l4.7 -8.4h-9.4zM624.4 270.4l4.7 -8.4h-9.4zM288.6 465.5l4.7 -8.4h-9.4zM723.0 229.3l4.7 -8.4h-9.4zM312.9 435.7l4.7 -8.4h-9.4zM273.8 461.4l4.7 -8.4h-9.4zM412.3 390.6l4.7 -8.4h-9.4zM503.4 354.2l4.7 -8.4h-9.4zM741.4 202.5l4.7 -8.4h-9.4zM339.6 444.1l4.7 -8.4h-9.4zM592.4 299.8l4.7 -8.4h-9.4zM303.7 432.7l4.7 -8.4h-9.4zM662.9 240.3l4.7 -8.4h-9.4zM293.4 463.3l4.7 -8.4h-9.4zM630.7 272.7l4.7 -8.4h-9.4zM300.2 459.5l4.7 -8.4h-9.4zM290.0 461.6l4.7 -8.4h-9.4zM522.3 329.9l4.7 -8.4h-9.4zM581.8 311.7l4.7 -8.4h-9.4zM410.7 391.3l4.7 -8.4h-9.4zM566.1 302.9l4.7 -8.4h-9.4zM315.7 431.4l4.7 -8.4h-9.4zM280.2 444.8l4.7 -8.4h-9.4zM437.2 380.3l4.7 -8.4h-9.4zM705.7 216.9l4.7 -8.4h-9.4zM550.1 310.5l4.7 -8.4h-9.4zM458.2 355.4l4.7 -8.4h-9.4zM400.3 393.4l4.7 -8.4h-9.4zM689.8 230.4l4.7 -8.4h-9.4zM363.7 426.2l4.7 -8.4h-9.4zM810.8 173.0l4.7 -8.4h-9.4zM741.4 207.4l4.7 -8.4h-9.4zM547.0 329.3l4.7 -8.4h-9.4zM485.9 351.6l4.7 -8.4h-9.4zM662.6 255.7l4.7 -8.4h-9.4zM455.6 377.1l4.7 -8.4h-9.4zM674.0 239.0l4.7 -8.4h-9.4zM492.8 344.5l4.7 -8.4h-9.4zM282.6 442.0l4.7 -8.4h-9.4zM292.4 457.4l4.7 -8.4h-9.4zM403.4 395.6l4.7 -8.4h-9.4zM300.7 458.8l4.7 -8.4h-9.4zM772.3 202.7l4.7 -8.4h-9.4zM419.2 390.1l4.7 -8.4h-9.4zM425.8 392.2l4.7 -8.4h-9.4zM344.5 429.7l4.7 -8.4h-9.4zM407.9 412.6l4.7 -8.4h-9.4zM833.6 175.6l4.7 -8.4h-9.4zM396.7 418.9l4.7 -8.4h-9.4zM435.7 382.8l4.7 -8.4h-9.4zM250.6 459.0l4.7 -8.4h-9.4zM534.8 327.6l4.7 -8.4h-9.4zM370.6 425.4l4.7 -8.4h-9.4zM253.0 455.9l4.7 -8.4h-9.4zM303.9 443.4l4.7 -8.4h-9.4zM275.0 441.1l4.7 -8.4h-9.4zM432.5 382.6l4.7 -8.4h-9.4zM601.3 289.8l4.7 -8.4h-9.4zM700.3 229.3l4.7 -8.4h-9.4zM679.6 243.6l4.7 -8.4h-9.4zM483.7 348.0l4.7 -8.4h-9.4zM840.8 161.3l4.7 -8.4h-9.4zM684.5 235.1l4.7 -8.4h-9.4zM276.3 462.8l4.7 -8.4h-9.4zM785.2 196.9l4.7 -8.4h-9.4zM690.3 237.6l4.7 -8.4h-9.4zM333.6 434.9l4.7 -8.4h-9.4zM552.6 326.1l4.7 -8.4h-9.4zM732.8 221.6l4.7 -8.4h-9.4zM600.4 300.1l4.7 -8.4h-9.4zM659.7 249.7l4.7 -8.4h-9.4zM388.0 401.5l4.7 -8.4h-9.4zM329.9 431.8l4.7 -8.4h-9.4zM312.9 453.1l4.7 -8.4h-9.4zM585.1 302.1l4.7 -8.4h-9.4zM625.7 273.7l4.7 -8.4h-9.4zM543.6 309.6l4.7 -8.4h-9.4zM728.6 220.9l4.7 -8.4h-9.4zM551.8 318.8l4.7 -8.4h-9.4zM532.9 235.7l4.7 -8.4h-9.4zM525.8 225.4l4.7 -8.4h-9.4zM523.0 207.1l4.7 -8.4h-9.4zM586.9 205.6l4.7 -8.4h-9.4zM561.9 215.6l4.7 -8.4h-9.4zM548.7 217.0l4.7 -8.4h-9.4zM520.0 194.2l4.7 -8.4h-9.4zM549.0 180.2l4.7 -8.4h-9.4zM543.0 202.2l4.7 -8.4h-9.4zM583.0 191.2l4.7 -8.4h-9.4zM560.0 214.2l4.7 -8.4h-9.4zM572.0 228.2l4.7 -8.4h-9.4zM526.0 217.2l4.7 -8.4h-9.4zM425.0 286.2l4.7 -8.4h-9.4zM411.0 314.2l4.7 -8.4h-9.4zM285.0 406.2l4.7 -8.4h-9.4zM487.0 247.2l4.7 -8.4h-9.4zM500.0 255.2l4.7 -8.4h-9.4zM443.6 297.2l4.7 -8.4h-9.4zM452.0 307.2l4.7 -8.4h-9.4z" fill="none" stroke="#b468b6" stroke-width="0.95"/>
<path d="M256.4 414.7l5.2 5.2l-5.2 5.2l-5.2 -5.2zM212.0 459.6l5.2 5.2l-5.2 5.2l-5.2 -5.2zM193.9 433.1l5.2 5.2l-5.2 5.2l-5.2 -5.2zM316.1 375.9l5.2 5.2l-5.2 5.2l-5.2 -5.2zM268.9 421.2l5.2 5.2l-5.2 5.2l-5.2 -5.2zM198.6 426.8l5.2 5.2l-5.2 5.2l-5.2 -5.2zM289.4 405.3l5.2 5.2l-5.2 5.2l-5.2 -5.2zM292.3 390.3l5.2 5.2l-5.2 5.2l-5.2 -5.2zM225.6 409.8l5.2 5.2l-5.2 5.2l-5.2 -5.2zM262.4 440.8l5.2 5.2l-5.2 5.2l-5.2 -5.2zM273.9 427.4l5.2 5.2l-5.2 5.2l-5.2 -5.2zM245.6 442.1l5.2 5.2l-5.2 5.2l-5.2 -5.2zM206.9 422.7l5.2 5.2l-5.2 5.2l-5.2 -5.2zM285.4 420.0l5.2 5.2l-5.2 5.2l-5.2 -5.2zM250.8 402.4l5.2 5.2l-5.2 5.2l-5.2 -5.2zM229.5 415.1l5.2 5.2l-5.2 5.2l-5.2 -5.2zM231.5 450.5l5.2 5.2l-5.2 5.2l-5.2 -5.2zM220.3 459.2l5.2 5.2l-5.2 5.2l-5.2 -5.2zM313.5 376.0l5.2 5.2l-5.2 5.2l-5.2 -5.2zM244.9 427.9l5.2 5.2l-5.2 5.2l-5.2 -5.2zM196.2 429.1l5.2 5.2l-5.2 5.2l-5.2 -5.2zM317.2 376.7l5.2 5.2l-5.2 5.2l-5.2 -5.2zM274.8 393.4l5.2 5.2l-5.2 5.2l-5.2 -5.2zM272.3 434.3l5.2 5.2l-5.2 5.2l-5.2 -5.2zM220.8 404.3l5.2 5.2l-5.2 5.2l-5.2 -5.2zM204.4 437.4l5.2 5.2l-5.2 5.2l-5.2 -5.2zM195.4 409.6l5.2 5.2l-5.2 5.2l-5.2 -5.2zM261.1 441.6l5.2 5.2l-5.2 5.2l-5.2 -5.2zM250.6 419.8l5.2 5.2l-5.2 5.2l-5.2 -5.2zM280.5 390.5l5.2 5.2l-5.2 5.2l-5.2 -5.2zM272.4 396.7l5.2 5.2l-5.2 5.2l-5.2 -5.2zM276.4 435.7l5.2 5.2l-5.2 5.2l-5.2 -5.2zM200.4 437.5l5.2 5.2l-5.2 5.2l-5.2 -5.2zM276.1 394.5l5.2 5.2l-5.2 5.2l-5.2 -5.2zM229.8 462.3l5.2 5.2l-5.2 5.2l-5.2 -5.2zM329.7 372.7l5.2 5.2l-5.2 5.2l-5.2 -5.2zM289.6 429.0l5.2 5.2l-5.2 5.2l-5.2 -5.2zM225.4 440.5l5.2 5.2l-5.2 5.2l-5.2 -5.2zM198.9 426.1l5.2 5.2l-5.2 5.2l-5.2 -5.2zM285.4 413.4l5.2 5.2l-5.2 5.2l-5.2 -5.2zM299.1 384.7l5.2 5.2l-5.2 5.2l-5.2 -5.2zM240.6 450.5l5.2 5.2l-5.2 5.2l-5.2 -5.2zM273.0 411.0l5.2 5.2l-5.2 5.2l-5.2 -5.2zM248.1 454.2l5.2 5.2l-5.2 5.2l-5.2 -5.2zM271.7 388.9l5.2 5.2l-5.2 5.2l-5.2 -5.2zM302.5 394.0l5.2 5.2l-5.2 5.2l-5.2 -5.2zM252.4 408.4l5.2 5.2l-5.2 5.2l-5.2 -5.2zM253.8 413.7l5.2 5.2l-5.2 5.2l-5.2 -5.2zM205.2 443.0l5.2 5.2l-5.2 5.2l-5.2 -5.2zM207.1 452.9l5.2 5.2l-5.2 5.2l-5.2 -5.2zM196.5 449.6l5.2 5.2l-5.2 5.2l-5.2 -5.2zM303.6 401.1l5.2 5.2l-5.2 5.2l-5.2 -5.2zM290.2 395.3l5.2 5.2l-5.2 5.2l-5.2 -5.2zM294.1 402.4l5.2 5.2l-5.2 5.2l-5.2 -5.2zM224.6 462.4l5.2 5.2l-5.2 5.2l-5.2 -5.2zM247.9 420.1l5.2 5.2l-5.2 5.2l-5.2 -5.2zM310.8 391.5l5.2 5.2l-5.2 5.2l-5.2 -5.2zM284.4 393.2l5.2 5.2l-5.2 5.2l-5.2 -5.2zM308.5 387.7l5.2 5.2l-5.2 5.2l-5.2 -5.2zM199.9 462.0l5.2 5.2l-5.2 5.2l-5.2 -5.2zM216.7 464.4l5.2 5.2l-5.2 5.2l-5.2 -5.2zM328.1 393.0l5.2 5.2l-5.2 5.2l-5.2 -5.2zM194.6 408.2l5.2 5.2l-5.2 5.2l-5.2 -5.2zM221.6 427.8l5.2 5.2l-5.2 5.2l-5.2 -5.2zM276.8 435.9l5.2 5.2l-5.2 5.2l-5.2 -5.2zM241.6 408.7l5.2 5.2l-5.2 5.2l-5.2 -5.2zM270.0 395.6l5.2 5.2l-5.2 5.2l-5.2 -5.2zM204.9 438.4l5.2 5.2l-5.2 5.2l-5.2 -5.2zM288.4 387.1l5.2 5.2l-5.2 5.2l-5.2 -5.2zM254.8 434.0l5.2 5.2l-5.2 5.2l-5.2 -5.2zM297.7 399.1l5.2 5.2l-5.2 5.2l-5.2 -5.2zM314.5 380.6l5.2 5.2l-5.2 5.2l-5.2 -5.2zM291.0 419.9l5.2 5.2l-5.2 5.2l-5.2 -5.2zM313.6 395.6l5.2 5.2l-5.2 5.2l-5.2 -5.2zM206.6 407.8l5.2 5.2l-5.2 5.2l-5.2 -5.2zM265.5 398.7l5.2 5.2l-5.2 5.2l-5.2 -5.2zM279.3 390.3l5.2 5.2l-5.2 5.2l-5.2 -5.2zM299.9 390.5l5.2 5.2l-5.2 5.2l-5.2 -5.2zM194.8 414.8l5.2 5.2l-5.2 5.2l-5.2 -5.2zM255.6 425.5l5.2 5.2l-5.2 5.2l-5.2 -5.2zM246.2 409.6l5.2 5.2l-5.2 5.2l-5.2 -5.2zM259.0 444.4l5.2 5.2l-5.2 5.2l-5.2 -5.2zM266.4 439.5l5.2 5.2l-5.2 5.2l-5.2 -5.2zM196.9 461.9l5.2 5.2l-5.2 5.2l-5.2 -5.2zM314.8 397.2l5.2 5.2l-5.2 5.2l-5.2 -5.2zM264.7 418.5l5.2 5.2l-5.2 5.2l-5.2 -5.2zM317.6 374.4l5.2 5.2l-5.2 5.2l-5.2 -5.2zM281.1 412.7l5.2 5.2l-5.2 5.2l-5.2 -5.2zM234.1 444.6l5.2 5.2l-5.2 5.2l-5.2 -5.2zM291.7 388.0l5.2 5.2l-5.2 5.2l-5.2 -5.2zM288.8 405.5l5.2 5.2l-5.2 5.2l-5.2 -5.2zM260.2 426.7l5.2 5.2l-5.2 5.2l-5.2 -5.2zM200.3 440.2l5.2 5.2l-5.2 5.2l-5.2 -5.2zM244.1 450.1l5.2 5.2l-5.2 5.2l-5.2 -5.2zM224.7 453.7l5.2 5.2l-5.2 5.2l-5.2 -5.2zM293.0 412.1l5.2 5.2l-5.2 5.2l-5.2 -5.2zM313.0 375.4l5.2 5.2l-5.2 5.2l-5.2 -5.2zM274.8 418.7l5.2 5.2l-5.2 5.2l-5.2 -5.2zM285.9 404.3l5.2 5.2l-5.2 5.2l-5.2 -5.2zM202.4 416.1l5.2 5.2l-5.2 5.2l-5.2 -5.2zM276.3 396.1l5.2 5.2l-5.2 5.2l-5.2 -5.2zM201.9 425.9l5.2 5.2l-5.2 5.2l-5.2 -5.2zM257.4 423.0l5.2 5.2l-5.2 5.2l-5.2 -5.2zM196.6 449.3l5.2 5.2l-5.2 5.2l-5.2 -5.2zM238.7 446.5l5.2 5.2l-5.2 5.2l-5.2 -5.2zM194.2 458.7l5.2 5.2l-5.2 5.2l-5.2 -5.2zM273.9 437.8l5.2 5.2l-5.2 5.2l-5.2 -5.2zM328.1 402.3l5.2 5.2l-5.2 5.2l-5.2 -5.2zM207.6 426.3l5.2 5.2l-5.2 5.2l-5.2 -5.2zM224.7 451.1l5.2 5.2l-5.2 5.2l-5.2 -5.2zM219.3 417.9l5.2 5.2l-5.2 5.2l-5.2 -5.2zM208.2 412.2l5.2 5.2l-5.2 5.2l-5.2 -5.2zM321.5 412.6l5.2 5.2l-5.2 5.2l-5.2 -5.2zM244.0 442.3l5.2 5.2l-5.2 5.2l-5.2 -5.2zM257.0 422.5l5.2 5.2l-5.2 5.2l-5.2 -5.2zM243.6 436.4l5.2 5.2l-5.2 5.2l-5.2 -5.2zM225.4 418.8l5.2 5.2l-5.2 5.2l-5.2 -5.2zM263.9 400.5l5.2 5.2l-5.2 5.2l-5.2 -5.2zM253.2 448.3l5.2 5.2l-5.2 5.2l-5.2 -5.2zM196.0 410.7l5.2 5.2l-5.2 5.2l-5.2 -5.2zM302.6 381.6l5.2 5.2l-5.2 5.2l-5.2 -5.2zM227.4 454.5l5.2 5.2l-5.2 5.2l-5.2 -5.2zM275.9 398.2l5.2 5.2l-5.2 5.2l-5.2 -5.2zM201.0 421.1l5.2 5.2l-5.2 5.2l-5.2 -5.2zM234.1 449.1l5.2 5.2l-5.2 5.2l-5.2 -5.2zM326.7 401.2l5.2 5.2l-5.2 5.2l-5.2 -5.2zM316.5 413.4l5.2 5.2l-5.2 5.2l-5.2 -5.2zM313.1 414.9l5.2 5.2l-5.2 5.2l-5.2 -5.2zM325.6 372.5l5.2 5.2l-5.2 5.2l-5.2 -5.2zM236.5 415.9l5.2 5.2l-5.2 5.2l-5.2 -5.2zM275.8 412.1l5.2 5.2l-5.2 5.2l-5.2 -5.2zM240.5 449.0l5.2 5.2l-5.2 5.2l-5.2 -5.2zM247.7 411.1l5.2 5.2l-5.2 5.2l-5.2 -5.2zM230.9 429.9l5.2 5.2l-5.2 5.2l-5.2 -5.2zM276.6 415.7l5.2 5.2l-5.2 5.2l-5.2 -5.2zM253.3 406.4l5.2 5.2l-5.2 5.2l-5.2 -5.2zM248.1 417.3l5.2 5.2l-5.2 5.2l-5.2 -5.2zM216.4 438.9l5.2 5.2l-5.2 5.2l-5.2 -5.2zM218.8 448.8l5.2 5.2l-5.2 5.2l-5.2 -5.2zM283.3 391.9l5.2 5.2l-5.2 5.2l-5.2 -5.2zM278.7 403.3l5.2 5.2l-5.2 5.2l-5.2 -5.2zM254.2 429.0l5.2 5.2l-5.2 5.2l-5.2 -5.2zM297.3 422.3l5.2 5.2l-5.2 5.2l-5.2 -5.2zM293.5 392.5l5.2 5.2l-5.2 5.2l-5.2 -5.2zM267.2 406.9l5.2 5.2l-5.2 5.2l-5.2 -5.2zM195.6 436.3l5.2 5.2l-5.2 5.2l-5.2 -5.2zM257.5 441.1l5.2 5.2l-5.2 5.2l-5.2 -5.2zM237.3 449.9l5.2 5.2l-5.2 5.2l-5.2 -5.2zM263.4 395.5l5.2 5.2l-5.2 5.2l-5.2 -5.2zM291.2 396.7l5.2 5.2l-5.2 5.2l-5.2 -5.2zM266.1 393.1l5.2 5.2l-5.2 5.2l-5.2 -5.2zM194.5 456.9l5.2 5.2l-5.2 5.2l-5.2 -5.2zM198.8 413.5l5.2 5.2l-5.2 5.2l-5.2 -5.2zM215.4 410.7l5.2 5.2l-5.2 5.2l-5.2 -5.2zM305.9 422.5l5.2 5.2l-5.2 5.2l-5.2 -5.2zM281.9 405.1l5.2 5.2l-5.2 5.2l-5.2 -5.2zM314.7 395.5l5.2 5.2l-5.2 5.2l-5.2 -5.2zM211.5 448.3l5.2 5.2l-5.2 5.2l-5.2 -5.2zM242.2 416.0l5.2 5.2l-5.2 5.2l-5.2 -5.2zM236.9 423.8l5.2 5.2l-5.2 5.2l-5.2 -5.2zM218.0 442.8l5.2 5.2l-5.2 5.2l-5.2 -5.2zM312.0 399.9l5.2 5.2l-5.2 5.2l-5.2 -5.2zM194.3 443.5l5.2 5.2l-5.2 5.2l-5.2 -5.2zM195.8 432.1l5.2 5.2l-5.2 5.2l-5.2 -5.2zM311.6 404.9l5.2 5.2l-5.2 5.2l-5.2 -5.2zM317.4 405.1l5.2 5.2l-5.2 5.2l-5.2 -5.2zM230.4 410.9l5.2 5.2l-5.2 5.2l-5.2 -5.2zM254.9 432.6l5.2 5.2l-5.2 5.2l-5.2 -5.2zM224.8 423.5l5.2 5.2l-5.2 5.2l-5.2 -5.2zM295.5 398.3l5.2 5.2l-5.2 5.2l-5.2 -5.2zM507.1 298.4l5.2 5.2l-5.2 5.2l-5.2 -5.2zM509.2 290.3l5.2 5.2l-5.2 5.2l-5.2 -5.2zM582.1 276.8l5.2 5.2l-5.2 5.2l-5.2 -5.2zM532.6 277.8l5.2 5.2l-5.2 5.2l-5.2 -5.2zM491.4 302.6l5.2 5.2l-5.2 5.2l-5.2 -5.2zM407.5 370.3l5.2 5.2l-5.2 5.2l-5.2 -5.2zM638.9 202.6l5.2 5.2l-5.2 5.2l-5.2 -5.2zM596.6 262.2l5.2 5.2l-5.2 5.2l-5.2 -5.2zM448.3 328.9l5.2 5.2l-5.2 5.2l-5.2 -5.2zM539.2 284.4l5.2 5.2l-5.2 5.2l-5.2 -5.2zM542.6 289.5l5.2 5.2l-5.2 5.2l-5.2 -5.2zM371.2 390.1l5.2 5.2l-5.2 5.2l-5.2 -5.2zM634.5 243.4l5.2 5.2l-5.2 5.2l-5.2 -5.2zM520.1 279.9l5.2 5.2l-5.2 5.2l-5.2 -5.2zM331.3 381.5l5.2 5.2l-5.2 5.2l-5.2 -5.2zM621.7 229.2l5.2 5.2l-5.2 5.2l-5.2 -5.2zM443.5 349.5l5.2 5.2l-5.2 5.2l-5.2 -5.2zM427.5 347.4l5.2 5.2l-5.2 5.2l-5.2 -5.2zM465.2 312.3l5.2 5.2l-5.2 5.2l-5.2 -5.2zM511.2 309.7l5.2 5.2l-5.2 5.2l-5.2 -5.2zM378.5 369.8l5.2 5.2l-5.2 5.2l-5.2 -5.2zM458.0 316.1l5.2 5.2l-5.2 5.2l-5.2 -5.2zM483.9 323.2l5.2 5.2l-5.2 5.2l-5.2 -5.2zM533.9 289.2l5.2 5.2l-5.2 5.2l-5.2 -5.2zM595.1 246.8l5.2 5.2l-5.2 5.2l-5.2 -5.2zM505.8 297.2l5.2 5.2l-5.2 5.2l-5.2 -5.2zM516.4 283.9l5.2 5.2l-5.2 5.2l-5.2 -5.2zM570.4 258.3l5.2 5.2l-5.2 5.2l-5.2 -5.2zM381.6 383.9l5.2 5.2l-5.2 5.2l-5.2 -5.2zM623.8 232.2l5.2 5.2l-5.2 5.2l-5.2 -5.2zM458.4 322.5l5.2 5.2l-5.2 5.2l-5.2 -5.2zM415.2 356.4l5.2 5.2l-5.2 5.2l-5.2 -5.2zM385.3 362.0l5.2 5.2l-5.2 5.2l-5.2 -5.2zM471.3 311.2l5.2 5.2l-5.2 5.2l-5.2 -5.2zM531.1 299.6l5.2 5.2l-5.2 5.2l-5.2 -5.2zM571.0 270.6l5.2 5.2l-5.2 5.2l-5.2 -5.2zM437.7 338.6l5.2 5.2l-5.2 5.2l-5.2 -5.2zM331.6 398.8l5.2 5.2l-5.2 5.2l-5.2 -5.2zM432.8 337.9l5.2 5.2l-5.2 5.2l-5.2 -5.2zM354.8 385.3l5.2 5.2l-5.2 5.2l-5.2 -5.2zM510.7 295.5l5.2 5.2l-5.2 5.2l-5.2 -5.2zM599.6 263.3l5.2 5.2l-5.2 5.2l-5.2 -5.2zM404.8 359.9l5.2 5.2l-5.2 5.2l-5.2 -5.2zM612.3 246.2l5.2 5.2l-5.2 5.2l-5.2 -5.2zM516.7 282.1l5.2 5.2l-5.2 5.2l-5.2 -5.2zM481.7 313.4l5.2 5.2l-5.2 5.2l-5.2 -5.2zM454.4 330.0l5.2 5.2l-5.2 5.2l-5.2 -5.2zM511.3 299.9l5.2 5.2l-5.2 5.2l-5.2 -5.2zM481.9 303.8l5.2 5.2l-5.2 5.2l-5.2 -5.2zM466.8 340.0l5.2 5.2l-5.2 5.2l-5.2 -5.2zM458.7 315.6l5.2 5.2l-5.2 5.2l-5.2 -5.2zM330.9 393.6l5.2 5.2l-5.2 5.2l-5.2 -5.2zM345.7 377.1l5.2 5.2l-5.2 5.2l-5.2 -5.2zM363.7 383.3l5.2 5.2l-5.2 5.2l-5.2 -5.2zM637.7 221.3l5.2 5.2l-5.2 5.2l-5.2 -5.2zM472.2 319.2l5.2 5.2l-5.2 5.2l-5.2 -5.2zM485.3 310.4l5.2 5.2l-5.2 5.2l-5.2 -5.2zM555.1 291.6l5.2 5.2l-5.2 5.2l-5.2 -5.2zM546.3 280.3l5.2 5.2l-5.2 5.2l-5.2 -5.2zM531.4 302.3l5.2 5.2l-5.2 5.2l-5.2 -5.2zM377.6 370.7l5.2 5.2l-5.2 5.2l-5.2 -5.2zM521.9 299.6l5.2 5.2l-5.2 5.2l-5.2 -5.2zM529.2 293.0l5.2 5.2l-5.2 5.2l-5.2 -5.2zM587.1 262.5l5.2 5.2l-5.2 5.2l-5.2 -5.2zM580.4 282.4l5.2 5.2l-5.2 5.2l-5.2 -5.2zM465.0 337.8l5.2 5.2l-5.2 5.2l-5.2 -5.2zM552.7 292.4l5.2 5.2l-5.2 5.2l-5.2 -5.2zM344.3 401.4l5.2 5.2l-5.2 5.2l-5.2 -5.2zM567.7 288.1l5.2 5.2l-5.2 5.2l-5.2 -5.2zM634.2 216.7l5.2 5.2l-5.2 5.2l-5.2 -5.2zM537.7 275.0l5.2 5.2l-5.2 5.2l-5.2 -5.2zM514.5 310.6l5.2 5.2l-5.2 5.2l-5.2 -5.2zM389.5 365.5l5.2 5.2l-5.2 5.2l-5.2 -5.2zM354.7 378.0l5.2 5.2l-5.2 5.2l-5.2 -5.2zM394.4 354.9l5.2 5.2l-5.2 5.2l-5.2 -5.2zM639.9 235.4l5.2 5.2l-5.2 5.2l-5.2 -5.2zM473.8 328.0l5.2 5.2l-5.2 5.2l-5.2 -5.2zM545.5 283.8l5.2 5.2l-5.2 5.2l-5.2 -5.2zM461.3 334.2l5.2 5.2l-5.2 5.2l-5.2 -5.2zM502.2 295.5l5.2 5.2l-5.2 5.2l-5.2 -5.2zM442.9 341.8l5.2 5.2l-5.2 5.2l-5.2 -5.2zM524.4 283.2l5.2 5.2l-5.2 5.2l-5.2 -5.2zM519.0 307.0l5.2 5.2l-5.2 5.2l-5.2 -5.2zM600.1 262.2l5.2 5.2l-5.2 5.2l-5.2 -5.2zM351.8 385.3l5.2 5.2l-5.2 5.2l-5.2 -5.2zM357.6 373.3l5.2 5.2l-5.2 5.2l-5.2 -5.2zM409.0 355.6l5.2 5.2l-5.2 5.2l-5.2 -5.2zM565.4 278.3l5.2 5.2l-5.2 5.2l-5.2 -5.2zM417.6 357.2l5.2 5.2l-5.2 5.2l-5.2 -5.2zM487.0 311.1l5.2 5.2l-5.2 5.2l-5.2 -5.2zM411.7 353.5l5.2 5.2l-5.2 5.2l-5.2 -5.2zM435.9 347.9l5.2 5.2l-5.2 5.2l-5.2 -5.2zM479.6 314.4l5.2 5.2l-5.2 5.2l-5.2 -5.2zM477.9 316.6l5.2 5.2l-5.2 5.2l-5.2 -5.2zM543.8 290.9l5.2 5.2l-5.2 5.2l-5.2 -5.2zM578.3 264.4l5.2 5.2l-5.2 5.2l-5.2 -5.2zM576.0 284.4l5.2 5.2l-5.2 5.2l-5.2 -5.2zM637.6 230.8l5.2 5.2l-5.2 5.2l-5.2 -5.2zM350.3 397.9l5.2 5.2l-5.2 5.2l-5.2 -5.2zM589.3 245.3l5.2 5.2l-5.2 5.2l-5.2 -5.2zM431.6 338.6l5.2 5.2l-5.2 5.2l-5.2 -5.2zM559.5 280.5l5.2 5.2l-5.2 5.2l-5.2 -5.2zM417.5 343.0l5.2 5.2l-5.2 5.2l-5.2 -5.2zM382.2 363.5l5.2 5.2l-5.2 5.2l-5.2 -5.2zM575.1 283.9l5.2 5.2l-5.2 5.2l-5.2 -5.2zM398.2 370.4l5.2 5.2l-5.2 5.2l-5.2 -5.2zM624.9 221.9l5.2 5.2l-5.2 5.2l-5.2 -5.2zM507.3 298.6l5.2 5.2l-5.2 5.2l-5.2 -5.2zM632.2 241.5l5.2 5.2l-5.2 5.2l-5.2 -5.2zM335.0 382.7l5.2 5.2l-5.2 5.2l-5.2 -5.2zM592.9 263.0l5.2 5.2l-5.2 5.2l-5.2 -5.2zM492.1 317.7l5.2 5.2l-5.2 5.2l-5.2 -5.2zM566.9 288.2l5.2 5.2l-5.2 5.2l-5.2 -5.2zM431.3 331.1l5.2 5.2l-5.2 5.2l-5.2 -5.2zM544.6 269.1l5.2 5.2l-5.2 5.2l-5.2 -5.2zM505.2 313.1l5.2 5.2l-5.2 5.2l-5.2 -5.2zM453.1 336.3l5.2 5.2l-5.2 5.2l-5.2 -5.2zM383.1 364.6l5.2 5.2l-5.2 5.2l-5.2 -5.2zM517.9 307.2l5.2 5.2l-5.2 5.2l-5.2 -5.2zM639.9 201.1l5.2 5.2l-5.2 5.2l-5.2 -5.2zM615.5 242.9l5.2 5.2l-5.2 5.2l-5.2 -5.2zM438.3 337.3l5.2 5.2l-5.2 5.2l-5.2 -5.2zM509.1 294.8l5.2 5.2l-5.2 5.2l-5.2 -5.2zM375.1 390.1l5.2 5.2l-5.2 5.2l-5.2 -5.2zM549.0 285.1l5.2 5.2l-5.2 5.2l-5.2 -5.2zM554.0 295.0l5.2 5.2l-5.2 5.2l-5.2 -5.2zM384.3 382.5l5.2 5.2l-5.2 5.2l-5.2 -5.2zM584.9 258.9l5.2 5.2l-5.2 5.2l-5.2 -5.2zM503.2 301.2l5.2 5.2l-5.2 5.2l-5.2 -5.2zM390.2 367.3l5.2 5.2l-5.2 5.2l-5.2 -5.2zM762.0 153.9l5.2 5.2l-5.2 5.2l-5.2 -5.2zM842.7 165.4l5.2 5.2l-5.2 5.2l-5.2 -5.2zM738.1 186.4l5.2 5.2l-5.2 5.2l-5.2 -5.2zM685.0 179.4l5.2 5.2l-5.2 5.2l-5.2 -5.2zM700.6 199.9l5.2 5.2l-5.2 5.2l-5.2 -5.2zM684.6 218.5l5.2 5.2l-5.2 5.2l-5.2 -5.2zM654.8 188.2l5.2 5.2l-5.2 5.2l-5.2 -5.2zM658.7 216.7l5.2 5.2l-5.2 5.2l-5.2 -5.2zM717.0 184.1l5.2 5.2l-5.2 5.2l-5.2 -5.2zM708.5 195.0l5.2 5.2l-5.2 5.2l-5.2 -5.2zM724.8 167.9l5.2 5.2l-5.2 5.2l-5.2 -5.2zM730.3 170.9l5.2 5.2l-5.2 5.2l-5.2 -5.2zM663.3 217.7l5.2 5.2l-5.2 5.2l-5.2 -5.2zM782.8 170.9l5.2 5.2l-5.2 5.2l-5.2 -5.2zM825.3 144.7l5.2 5.2l-5.2 5.2l-5.2 -5.2zM719.6 180.9l5.2 5.2l-5.2 5.2l-5.2 -5.2zM725.0 191.7l5.2 5.2l-5.2 5.2l-5.2 -5.2zM641.4 207.4l5.2 5.2l-5.2 5.2l-5.2 -5.2zM752.4 165.0l5.2 5.2l-5.2 5.2l-5.2 -5.2zM644.6 218.7l5.2 5.2l-5.2 5.2l-5.2 -5.2zM642.0 212.4l5.2 5.2l-5.2 5.2l-5.2 -5.2zM672.2 173.3l5.2 5.2l-5.2 5.2l-5.2 -5.2zM678.0 173.2l5.2 5.2l-5.2 5.2l-5.2 -5.2zM671.7 207.3l5.2 5.2l-5.2 5.2l-5.2 -5.2zM792.9 152.6l5.2 5.2l-5.2 5.2l-5.2 -5.2zM777.0 163.2l5.2 5.2l-5.2 5.2l-5.2 -5.2zM744.7 194.7l5.2 5.2l-5.2 5.2l-5.2 -5.2zM705.4 207.9l5.2 5.2l-5.2 5.2l-5.2 -5.2zM785.1 171.1l5.2 5.2l-5.2 5.2l-5.2 -5.2zM641.2 187.7l5.2 5.2l-5.2 5.2l-5.2 -5.2zM646.7 199.2l5.2 5.2l-5.2 5.2l-5.2 -5.2zM838.7 164.3l5.2 5.2l-5.2 5.2l-5.2 -5.2zM816.1 133.6l5.2 5.2l-5.2 5.2l-5.2 -5.2zM788.2 174.7l5.2 5.2l-5.2 5.2l-5.2 -5.2zM809.9 168.8l5.2 5.2l-5.2 5.2l-5.2 -5.2zM669.5 181.8l5.2 5.2l-5.2 5.2l-5.2 -5.2zM806.4 167.2l5.2 5.2l-5.2 5.2l-5.2 -5.2zM827.4 146.6l5.2 5.2l-5.2 5.2l-5.2 -5.2zM826.8 131.7l5.2 5.2l-5.2 5.2l-5.2 -5.2zM841.0 164.0l5.2 5.2l-5.2 5.2l-5.2 -5.2zM710.9 164.7l5.2 5.2l-5.2 5.2l-5.2 -5.2zM755.2 181.2l5.2 5.2l-5.2 5.2l-5.2 -5.2zM713.6 163.5l5.2 5.2l-5.2 5.2l-5.2 -5.2zM698.5 207.3l5.2 5.2l-5.2 5.2l-5.2 -5.2zM659.0 225.3l5.2 5.2l-5.2 5.2l-5.2 -5.2zM692.5 176.6l5.2 5.2l-5.2 5.2l-5.2 -5.2zM663.6 225.8l5.2 5.2l-5.2 5.2l-5.2 -5.2zM829.2 139.9l5.2 5.2l-5.2 5.2l-5.2 -5.2zM660.1 210.1l5.2 5.2l-5.2 5.2l-5.2 -5.2zM826.4 125.6l5.2 5.2l-5.2 5.2l-5.2 -5.2zM772.9 183.5l5.2 5.2l-5.2 5.2l-5.2 -5.2zM736.4 182.3l5.2 5.2l-5.2 5.2l-5.2 -5.2zM808.9 141.5l5.2 5.2l-5.2 5.2l-5.2 -5.2zM697.4 199.0l5.2 5.2l-5.2 5.2l-5.2 -5.2zM756.0 173.2l5.2 5.2l-5.2 5.2l-5.2 -5.2zM710.2 210.1l5.2 5.2l-5.2 5.2l-5.2 -5.2zM700.5 199.2l5.2 5.2l-5.2 5.2l-5.2 -5.2zM827.8 144.3l5.2 5.2l-5.2 5.2l-5.2 -5.2zM651.4 190.9l5.2 5.2l-5.2 5.2l-5.2 -5.2zM653.9 186.2l5.2 5.2l-5.2 5.2l-5.2 -5.2zM665.3 191.9l5.2 5.2l-5.2 5.2l-5.2 -5.2zM717.7 182.7l5.2 5.2l-5.2 5.2l-5.2 -5.2zM779.7 172.4l5.2 5.2l-5.2 5.2l-5.2 -5.2zM784.3 155.4l5.2 5.2l-5.2 5.2l-5.2 -5.2zM779.2 166.3l5.2 5.2l-5.2 5.2l-5.2 -5.2zM666.8 201.9l5.2 5.2l-5.2 5.2l-5.2 -5.2zM706.9 197.4l5.2 5.2l-5.2 5.2l-5.2 -5.2zM794.3 146.1l5.2 5.2l-5.2 5.2l-5.2 -5.2zM731.4 178.2l5.2 5.2l-5.2 5.2l-5.2 -5.2zM702.3 165.5l5.2 5.2l-5.2 5.2l-5.2 -5.2zM650.4 231.4l5.2 5.2l-5.2 5.2l-5.2 -5.2zM795.4 155.7l5.2 5.2l-5.2 5.2l-5.2 -5.2zM780.0 152.0l5.2 5.2l-5.2 5.2l-5.2 -5.2zM789.2 183.2l5.2 5.2l-5.2 5.2l-5.2 -5.2zM802.4 154.8l5.2 5.2l-5.2 5.2l-5.2 -5.2zM846.5 164.1l5.2 5.2l-5.2 5.2l-5.2 -5.2zM652.2 200.5l5.2 5.2l-5.2 5.2l-5.2 -5.2zM734.9 167.7l5.2 5.2l-5.2 5.2l-5.2 -5.2zM769.5 149.0l5.2 5.2l-5.2 5.2l-5.2 -5.2zM796.9 176.1l5.2 5.2l-5.2 5.2l-5.2 -5.2zM652.9 214.8l5.2 5.2l-5.2 5.2l-5.2 -5.2zM695.9 198.3l5.2 5.2l-5.2 5.2l-5.2 -5.2zM785.2 185.7l5.2 5.2l-5.2 5.2l-5.2 -5.2zM807.6 146.9l5.2 5.2l-5.2 5.2l-5.2 -5.2zM793.3 141.7l5.2 5.2l-5.2 5.2l-5.2 -5.2zM789.9 156.3l5.2 5.2l-5.2 5.2l-5.2 -5.2zM695.7 177.5l5.2 5.2l-5.2 5.2l-5.2 -5.2zM685.5 209.2l5.2 5.2l-5.2 5.2l-5.2 -5.2zM660.2 188.2l5.2 5.2l-5.2 5.2l-5.2 -5.2zM680.4 177.4l5.2 5.2l-5.2 5.2l-5.2 -5.2zM793.3 163.7l5.2 5.2l-5.2 5.2l-5.2 -5.2zM779.6 183.6l5.2 5.2l-5.2 5.2l-5.2 -5.2zM734.2 155.8l5.2 5.2l-5.2 5.2l-5.2 -5.2zM679.7 196.2l5.2 5.2l-5.2 5.2l-5.2 -5.2zM790.2 181.3l5.2 5.2l-5.2 5.2l-5.2 -5.2zM747.4 160.8l5.2 5.2l-5.2 5.2l-5.2 -5.2zM764.5 190.1l5.2 5.2l-5.2 5.2l-5.2 -5.2zM709.9 209.8l5.2 5.2l-5.2 5.2l-5.2 -5.2zM829.8 152.3l5.2 5.2l-5.2 5.2l-5.2 -5.2zM741.0 158.0l5.2 5.2l-5.2 5.2l-5.2 -5.2zM663.2 177.1l5.2 5.2l-5.2 5.2l-5.2 -5.2zM768.4 177.8l5.2 5.2l-5.2 5.2l-5.2 -5.2zM848.6 148.1l5.2 5.2l-5.2 5.2l-5.2 -5.2zM848.7 138.5l5.2 5.2l-5.2 5.2l-5.2 -5.2zM668.1 176.1l5.2 5.2l-5.2 5.2l-5.2 -5.2zM700.5 191.5l5.2 5.2l-5.2 5.2l-5.2 -5.2zM847.1 133.9l5.2 5.2l-5.2 5.2l-5.2 -5.2zM689.4 204.4l5.2 5.2l-5.2 5.2l-5.2 -5.2zM721.6 187.2l5.2 5.2l-5.2 5.2l-5.2 -5.2zM671.8 216.0l5.2 5.2l-5.2 5.2l-5.2 -5.2zM833.1 160.1l5.2 5.2l-5.2 5.2l-5.2 -5.2zM836.5 138.5l5.2 5.2l-5.2 5.2l-5.2 -5.2zM646.8 197.1l5.2 5.2l-5.2 5.2l-5.2 -5.2zM828.5 147.4l5.2 5.2l-5.2 5.2l-5.2 -5.2zM682.1 176.6l5.2 5.2l-5.2 5.2l-5.2 -5.2zM674.5 193.5l5.2 5.2l-5.2 5.2l-5.2 -5.2zM834.4 166.0l5.2 5.2l-5.2 5.2l-5.2 -5.2zM799.1 170.4l5.2 5.2l-5.2 5.2l-5.2 -5.2zM680.1 209.6l5.2 5.2l-5.2 5.2l-5.2 -5.2zM687.0 194.7l5.2 5.2l-5.2 5.2l-5.2 -5.2zM847.3 43.3l5.2 5.2l-5.2 5.2l-5.2 -5.2zM661.3 57.4l5.2 5.2l-5.2 5.2l-5.2 -5.2zM798.0 123.8l5.2 5.2l-5.2 5.2l-5.2 -5.2zM842.8 113.2l5.2 5.2l-5.2 5.2l-5.2 -5.2zM664.0 148.5l5.2 5.2l-5.2 5.2l-5.2 -5.2zM697.2 154.4l5.2 5.2l-5.2 5.2l-5.2 -5.2zM710.5 164.5l5.2 5.2l-5.2 5.2l-5.2 -5.2zM778.8 207.0l5.2 5.2l-5.2 5.2l-5.2 -5.2zM309.5 367.8l5.2 5.2l-5.2 5.2l-5.2 -5.2z" fill="none" stroke="#2a8a58" stroke-width="0.95"/>
<path d="M383.6 366.7l8.4 -4.7v9.4zM450.1 323.4l8.4 -4.7v9.4zM391.4 365.1l8.4 -4.7v9.4zM345.8 373.8l8.4 -4.7v9.4zM408.6 363.9l8.4 -4.7v9.4zM333.1 357.4l8.4 -4.7v9.4zM332.6 396.4l8.4 -4.7v9.4zM417.6 313.2l8.4 -4.7v9.4zM458.3 346.3l8.4 -4.7v9.4zM412.0 350.4l8.4 -4.7v9.4zM342.0 335.2l8.4 -4.7v9.4zM394.3 330.0l8.4 -4.7v9.4zM346.6 352.7l8.4 -4.7v9.4zM324.0 369.4l8.4 -4.7v9.4zM381.9 386.5l8.4 -4.7v9.4zM393.0 367.8l8.4 -4.7v9.4zM390.3 370.5l8.4 -4.7v9.4zM384.3 347.5l8.4 -4.7v9.4zM460.5 346.9l8.4 -4.7v9.4zM438.3 341.0l8.4 -4.7v9.4zM364.3 350.6l8.4 -4.7v9.4zM360.6 339.2l8.4 -4.7v9.4zM427.8 328.7l8.4 -4.7v9.4zM439.2 323.3l8.4 -4.7v9.4zM454.9 341.6l8.4 -4.7v9.4zM319.9 349.9l8.4 -4.7v9.4zM448.1 324.4l8.4 -4.7v9.4zM458.0 316.7l8.4 -4.7v9.4zM330.1 382.4l8.4 -4.7v9.4zM429.6 320.8l8.4 -4.7v9.4zM332.1 359.6l8.4 -4.7v9.4zM455.7 336.5l8.4 -4.7v9.4zM336.4 353.1l8.4 -4.7v9.4zM334.0 338.6l8.4 -4.7v9.4zM432.2 314.8l8.4 -4.7v9.4zM398.7 351.5l8.4 -4.7v9.4zM346.7 390.7l8.4 -4.7v9.4zM338.3 383.9l8.4 -4.7v9.4zM336.2 366.5l8.4 -4.7v9.4zM349.8 354.7l8.4 -4.7v9.4zM456.7 338.5l8.4 -4.7v9.4zM362.7 398.5l8.4 -4.7v9.4zM349.5 364.2l8.4 -4.7v9.4zM440.3 336.7l8.4 -4.7v9.4zM333.9 410.3l8.4 -4.7v9.4zM349.9 353.8l8.4 -4.7v9.4zM428.7 324.4l8.4 -4.7v9.4zM361.6 339.4l8.4 -4.7v9.4zM332.5 378.9l8.4 -4.7v9.4zM354.1 379.3l8.4 -4.7v9.4zM372.2 364.1l8.4 -4.7v9.4zM455.0 322.4l8.4 -4.7v9.4zM400.8 375.7l8.4 -4.7v9.4zM345.6 346.0l8.4 -4.7v9.4zM447.9 342.9l8.4 -4.7v9.4zM355.0 348.3l8.4 -4.7v9.4zM424.1 360.2l8.4 -4.7v9.4zM347.5 407.4l8.4 -4.7v9.4zM444.2 333.0l8.4 -4.7v9.4zM379.2 337.4l8.4 -4.7v9.4zM325.3 407.6l8.4 -4.7v9.4zM353.4 387.2l8.4 -4.7v9.4zM356.0 395.6l8.4 -4.7v9.4zM403.9 337.8l8.4 -4.7v9.4zM344.5 390.2l8.4 -4.7v9.4zM329.5 351.5l8.4 -4.7v9.4zM398.7 376.9l8.4 -4.7v9.4zM406.4 335.1l8.4 -4.7v9.4zM449.1 309.9l8.4 -4.7v9.4zM322.1 354.5l8.4 -4.7v9.4zM382.6 333.4l8.4 -4.7v9.4zM344.7 362.8l8.4 -4.7v9.4zM400.5 330.4l8.4 -4.7v9.4zM370.9 395.5l8.4 -4.7v9.4zM458.0 330.3l8.4 -4.7v9.4zM417.3 344.1l8.4 -4.7v9.4zM339.6 336.7l8.4 -4.7v9.4zM322.3 403.4l8.4 -4.7v9.4zM418.6 364.1l8.4 -4.7v9.4zM322.8 382.5l8.4 -4.7v9.4zM387.8 376.1l8.4 -4.7v9.4zM364.8 406.2l8.4 -4.7v9.4zM330.4 376.0l8.4 -4.7v9.4zM423.7 358.1l8.4 -4.7v9.4zM423.7 347.2l8.4 -4.7v9.4zM431.7 355.3l8.4 -4.7v9.4zM369.4 381.7l8.4 -4.7v9.4zM446.8 346.2l8.4 -4.7v9.4zM378.6 384.6l8.4 -4.7v9.4zM441.5 332.4l8.4 -4.7v9.4zM407.9 340.1l8.4 -4.7v9.4zM402.0 358.7l8.4 -4.7v9.4zM331.1 383.2l8.4 -4.7v9.4zM459.9 341.1l8.4 -4.7v9.4zM422.5 330.2l8.4 -4.7v9.4zM423.4 340.5l8.4 -4.7v9.4zM381.9 386.2l8.4 -4.7v9.4zM331.6 391.7l8.4 -4.7v9.4zM324.0 379.9l8.4 -4.7v9.4zM387.6 343.2l8.4 -4.7v9.4zM418.3 338.3l8.4 -4.7v9.4zM406.4 373.6l8.4 -4.7v9.4zM355.9 334.8l8.4 -4.7v9.4zM362.2 383.5l8.4 -4.7v9.4zM348.4 347.1l8.4 -4.7v9.4zM447.5 334.7l8.4 -4.7v9.4zM382.1 389.7l8.4 -4.7v9.4zM365.9 381.9l8.4 -4.7v9.4zM347.8 367.2l8.4 -4.7v9.4zM433.4 354.4l8.4 -4.7v9.4zM443.9 321.4l8.4 -4.7v9.4zM402.0 340.7l8.4 -4.7v9.4zM339.0 372.5l8.4 -4.7v9.4zM437.8 348.8l8.4 -4.7v9.4zM420.1 362.6l8.4 -4.7v9.4zM358.8 346.5l8.4 -4.7v9.4zM383.3 347.6l8.4 -4.7v9.4zM350.0 365.7l8.4 -4.7v9.4zM408.0 346.6l8.4 -4.7v9.4zM364.3 394.8l8.4 -4.7v9.4zM458.3 319.5l8.4 -4.7v9.4zM330.3 336.4l8.4 -4.7v9.4zM442.9 303.5l8.4 -4.7v9.4zM419.7 341.6l8.4 -4.7v9.4zM363.4 391.5l8.4 -4.7v9.4zM322.5 344.4l8.4 -4.7v9.4zM383.9 330.7l8.4 -4.7v9.4zM436.8 316.2l8.4 -4.7v9.4zM339.7 337.6l8.4 -4.7v9.4zM408.5 343.4l8.4 -4.7v9.4zM408.6 355.7l8.4 -4.7v9.4zM433.6 356.7l8.4 -4.7v9.4zM416.3 323.0l8.4 -4.7v9.4zM386.8 340.0l8.4 -4.7v9.4zM321.3 369.9l8.4 -4.7v9.4zM420.5 319.4l8.4 -4.7v9.4zM358.2 359.6l8.4 -4.7v9.4zM418.1 339.7l8.4 -4.7v9.4zM406.4 363.7l8.4 -4.7v9.4zM375.3 386.3l8.4 -4.7v9.4zM447.6 304.2l8.4 -4.7v9.4zM451.3 336.5l8.4 -4.7v9.4zM338.1 369.1l8.4 -4.7v9.4zM408.0 371.4l8.4 -4.7v9.4zM372.9 371.9l8.4 -4.7v9.4zM443.8 343.5l8.4 -4.7v9.4zM452.9 322.2l8.4 -4.7v9.4zM411.6 326.7l8.4 -4.7v9.4zM421.6 354.6l8.4 -4.7v9.4zM410.3 357.9l8.4 -4.7v9.4zM349.9 402.9l8.4 -4.7v9.4zM458.0 347.0l8.4 -4.7v9.4zM395.5 375.9l8.4 -4.7v9.4zM365.0 399.7l8.4 -4.7v9.4zM440.5 320.8l8.4 -4.7v9.4zM331.5 367.9l8.4 -4.7v9.4zM397.4 372.8l8.4 -4.7v9.4zM388.5 329.6l8.4 -4.7v9.4zM433.9 307.9l8.4 -4.7v9.4zM432.6 314.4l8.4 -4.7v9.4zM367.0 390.1l8.4 -4.7v9.4zM339.6 345.5l8.4 -4.7v9.4zM392.6 373.3l8.4 -4.7v9.4zM438.2 340.0l8.4 -4.7v9.4zM453.2 323.6l8.4 -4.7v9.4zM453.6 302.0l8.4 -4.7v9.4zM351.0 374.1l8.4 -4.7v9.4zM360.7 387.5l8.4 -4.7v9.4zM409.9 346.8l8.4 -4.7v9.4zM438.8 332.9l8.4 -4.7v9.4zM543.4 281.7l8.4 -4.7v9.4zM576.8 227.1l8.4 -4.7v9.4zM462.7 309.7l8.4 -4.7v9.4zM508.5 310.3l8.4 -4.7v9.4zM581.0 259.1l8.4 -4.7v9.4zM557.9 274.2l8.4 -4.7v9.4zM486.1 297.9l8.4 -4.7v9.4zM489.0 325.2l8.4 -4.7v9.4zM471.0 330.0l8.4 -4.7v9.4zM473.8 320.6l8.4 -4.7v9.4zM519.4 275.8l8.4 -4.7v9.4zM607.4 199.9l8.4 -4.7v9.4zM471.4 335.4l8.4 -4.7v9.4zM549.4 237.2l8.4 -4.7v9.4zM632.6 242.7l8.4 -4.7v9.4zM480.4 300.7l8.4 -4.7v9.4zM484.3 291.3l8.4 -4.7v9.4zM568.9 232.6l8.4 -4.7v9.4zM582.0 217.5l8.4 -4.7v9.4zM490.6 318.6l8.4 -4.7v9.4zM530.5 270.9l8.4 -4.7v9.4zM564.5 257.7l8.4 -4.7v9.4zM527.7 242.9l8.4 -4.7v9.4zM587.2 283.8l8.4 -4.7v9.4zM630.7 226.1l8.4 -4.7v9.4zM522.8 270.8l8.4 -4.7v9.4zM580.9 264.6l8.4 -4.7v9.4zM480.6 289.1l8.4 -4.7v9.4zM524.0 281.3l8.4 -4.7v9.4zM601.8 239.3l8.4 -4.7v9.4zM465.7 333.3l8.4 -4.7v9.4zM535.6 275.6l8.4 -4.7v9.4zM499.5 288.7l8.4 -4.7v9.4zM528.4 298.6l8.4 -4.7v9.4zM478.7 309.5l8.4 -4.7v9.4zM491.8 310.4l8.4 -4.7v9.4zM467.2 301.0l8.4 -4.7v9.4zM520.7 292.4l8.4 -4.7v9.4zM469.9 309.8l8.4 -4.7v9.4zM497.1 280.6l8.4 -4.7v9.4zM543.7 303.6l8.4 -4.7v9.4zM544.5 302.9l8.4 -4.7v9.4zM490.0 325.8l8.4 -4.7v9.4zM524.2 256.8l8.4 -4.7v9.4zM591.0 277.9l8.4 -4.7v9.4zM462.0 304.2l8.4 -4.7v9.4zM594.9 232.9l8.4 -4.7v9.4zM502.8 258.7l8.4 -4.7v9.4zM467.8 320.4l8.4 -4.7v9.4zM632.0 246.6l8.4 -4.7v9.4zM548.4 232.7l8.4 -4.7v9.4zM516.9 305.1l8.4 -4.7v9.4zM605.6 246.3l8.4 -4.7v9.4zM500.7 294.6l8.4 -4.7v9.4zM543.9 279.2l8.4 -4.7v9.4zM506.5 320.4l8.4 -4.7v9.4zM616.4 203.7l8.4 -4.7v9.4zM511.5 313.5l8.4 -4.7v9.4zM509.2 319.3l8.4 -4.7v9.4zM550.4 280.5l8.4 -4.7v9.4zM583.4 229.0l8.4 -4.7v9.4zM510.4 270.5l8.4 -4.7v9.4zM579.7 266.6l8.4 -4.7v9.4zM483.7 326.9l8.4 -4.7v9.4zM533.9 255.8l8.4 -4.7v9.4zM536.5 309.4l8.4 -4.7v9.4zM558.2 271.4l8.4 -4.7v9.4zM620.9 255.0l8.4 -4.7v9.4zM593.1 239.6l8.4 -4.7v9.4zM563.2 289.2l8.4 -4.7v9.4zM598.1 248.3l8.4 -4.7v9.4zM521.3 272.1l8.4 -4.7v9.4zM588.8 252.6l8.4 -4.7v9.4zM463.8 328.0l8.4 -4.7v9.4zM618.1 246.4l8.4 -4.7v9.4zM617.0 255.2l8.4 -4.7v9.4zM553.9 285.3l8.4 -4.7v9.4zM526.8 248.5l8.4 -4.7v9.4zM522.3 267.3l8.4 -4.7v9.4zM623.3 234.2l8.4 -4.7v9.4zM555.0 272.7l8.4 -4.7v9.4zM482.5 306.1l8.4 -4.7v9.4zM582.7 242.8l8.4 -4.7v9.4zM503.6 285.0l8.4 -4.7v9.4zM517.1 297.6l8.4 -4.7v9.4zM485.5 276.7l8.4 -4.7v9.4zM515.2 299.3l8.4 -4.7v9.4zM593.0 258.0l8.4 -4.7v9.4zM623.4 212.3l8.4 -4.7v9.4zM466.0 314.0l8.4 -4.7v9.4zM538.0 249.2l8.4 -4.7v9.4zM576.9 241.7l8.4 -4.7v9.4zM502.3 280.5l8.4 -4.7v9.4zM625.0 187.1l8.4 -4.7v9.4zM523.5 264.1l8.4 -4.7v9.4zM495.8 291.1l8.4 -4.7v9.4zM499.1 321.2l8.4 -4.7v9.4zM548.0 282.1l8.4 -4.7v9.4zM489.0 297.5l8.4 -4.7v9.4zM566.3 283.6l8.4 -4.7v9.4zM504.3 288.2l8.4 -4.7v9.4zM609.5 256.6l8.4 -4.7v9.4zM500.4 295.5l8.4 -4.7v9.4zM593.3 237.8l8.4 -4.7v9.4zM578.0 265.1l8.4 -4.7v9.4zM630.0 219.5l8.4 -4.7v9.4zM579.3 241.2l8.4 -4.7v9.4zM588.2 234.7l8.4 -4.7v9.4zM547.8 257.6l8.4 -4.7v9.4zM514.3 259.5l8.4 -4.7v9.4zM500.1 296.1l8.4 -4.7v9.4zM504.6 259.9l8.4 -4.7v9.4zM600.6 224.3l8.4 -4.7v9.4zM623.7 227.8l8.4 -4.7v9.4zM528.5 306.2l8.4 -4.7v9.4zM616.9 214.3l8.4 -4.7v9.4zM482.7 312.5l8.4 -4.7v9.4zM607.4 242.4l8.4 -4.7v9.4zM597.3 236.4l8.4 -4.7v9.4zM568.3 240.2l8.4 -4.7v9.4zM531.6 267.3l8.4 -4.7v9.4zM527.7 270.8l8.4 -4.7v9.4zM601.2 215.2l8.4 -4.7v9.4zM496.5 279.2l8.4 -4.7v9.4zM629.8 217.6l8.4 -4.7v9.4zM470.0 331.6l8.4 -4.7v9.4zM612.8 252.8l8.4 -4.7v9.4zM523.2 298.5l8.4 -4.7v9.4zM514.0 259.8l8.4 -4.7v9.4zM611.4 255.0l8.4 -4.7v9.4zM497.6 319.3l8.4 -4.7v9.4zM465.1 304.3l8.4 -4.7v9.4zM463.1 297.9l8.4 -4.7v9.4zM489.2 313.1l8.4 -4.7v9.4zM512.4 264.6l8.4 -4.7v9.4zM492.8 285.3l8.4 -4.7v9.4zM610.8 239.4l8.4 -4.7v9.4zM478.6 317.6l8.4 -4.7v9.4zM554.1 260.7l8.4 -4.7v9.4zM552.6 276.1l8.4 -4.7v9.4zM689.2 196.8l8.4 -4.7v9.4zM778.5 170.3l8.4 -4.7v9.4zM673.8 179.3l8.4 -4.7v9.4zM665.7 182.1l8.4 -4.7v9.4zM788.9 137.1l8.4 -4.7v9.4zM746.4 153.4l8.4 -4.7v9.4zM696.7 181.3l8.4 -4.7v9.4zM810.7 150.4l8.4 -4.7v9.4zM637.8 197.2l8.4 -4.7v9.4zM665.6 216.2l8.4 -4.7v9.4zM804.8 159.7l8.4 -4.7v9.4zM808.3 156.3l8.4 -4.7v9.4zM834.2 151.4l8.4 -4.7v9.4zM688.7 205.2l8.4 -4.7v9.4zM737.0 181.4l8.4 -4.7v9.4zM753.3 160.6l8.4 -4.7v9.4zM711.3 175.9l8.4 -4.7v9.4zM700.7 164.4l8.4 -4.7v9.4zM806.9 158.8l8.4 -4.7v9.4zM841.8 145.6l8.4 -4.7v9.4zM751.2 175.5l8.4 -4.7v9.4zM663.1 207.3l8.4 -4.7v9.4zM727.9 158.0l8.4 -4.7v9.4zM677.4 193.0l8.4 -4.7v9.4zM688.0 185.9l8.4 -4.7v9.4zM762.0 156.2l8.4 -4.7v9.4zM662.3 197.8l8.4 -4.7v9.4zM684.2 175.9l8.4 -4.7v9.4zM675.6 185.6l8.4 -4.7v9.4zM650.2 212.8l8.4 -4.7v9.4zM835.1 136.2l8.4 -4.7v9.4zM785.8 171.3l8.4 -4.7v9.4zM643.9 186.7l8.4 -4.7v9.4zM804.1 161.2l8.4 -4.7v9.4zM769.0 143.9l8.4 -4.7v9.4zM721.6 192.9l8.4 -4.7v9.4zM820.9 155.3l8.4 -4.7v9.4zM677.4 209.9l8.4 -4.7v9.4zM713.5 188.9l8.4 -4.7v9.4zM663.6 222.7l8.4 -4.7v9.4zM761.5 170.6l8.4 -4.7v9.4zM679.3 197.1l8.4 -4.7v9.4zM756.8 166.4l8.4 -4.7v9.4zM710.3 190.7l8.4 -4.7v9.4zM706.5 171.1l8.4 -4.7v9.4zM669.3 204.4l8.4 -4.7v9.4zM658.4 185.3l8.4 -4.7v9.4zM649.3 212.9l8.4 -4.7v9.4zM751.6 166.2l8.4 -4.7v9.4zM643.0 204.4l8.4 -4.7v9.4zM706.8 161.1l8.4 -4.7v9.4zM635.4 241.5l8.4 -4.7v9.4zM660.3 188.5l8.4 -4.7v9.4zM691.3 191.6l8.4 -4.7v9.4zM651.1 202.2l8.4 -4.7v9.4zM711.8 195.2l8.4 -4.7v9.4zM636.0 201.5l8.4 -4.7v9.4zM739.1 190.5l8.4 -4.7v9.4zM743.3 166.2l8.4 -4.7v9.4zM775.4 147.9l8.4 -4.7v9.4zM641.5 208.7l8.4 -4.7v9.4zM826.0 151.5l8.4 -4.7v9.4zM689.0 196.8l8.4 -4.7v9.4zM813.1 136.1l8.4 -4.7v9.4zM758.3 155.5l8.4 -4.7v9.4zM686.1 177.9l8.4 -4.7v9.4zM677.6 184.1l8.4 -4.7v9.4zM642.8 202.0l8.4 -4.7v9.4zM653.0 217.3l8.4 -4.7v9.4zM760.8 139.4l8.4 -4.7v9.4zM759.8 68.0l8.4 -4.7v9.4zM763.2 62.6l8.4 -4.7v9.4zM770.8 64.4l8.4 -4.7v9.4zM775.1 68.7l8.4 -4.7v9.4zM743.8 82.5l8.4 -4.7v9.4zM767.8 82.5l8.4 -4.7v9.4zM750.4 114.4l8.4 -4.7v9.4zM754.4 111.7l8.4 -4.7v9.4zM747.8 118.4l8.4 -4.7v9.4zM705.3 133.5l8.4 -4.7v9.4zM735.8 132.5l8.4 -4.7v9.4zM651.8 163.6l8.4 -4.7v9.4zM677.4 164.7l8.4 -4.7v9.4z" fill="none" stroke="#3a3a88" stroke-width="0.95"/>
<path d="M1279.2 407.1a3.9 3.9 0 1 0 7.8 0a3.9 3.9 0 1 0 -7.8 0zM1279.8 419.8a3.9 3.9 0 1 0 7.8 0a3.9 3.9 0 1 0 -7.8 0zM1277.1 425.9a3.9 3.9 0 1 0 7.8 0a3.9 3.9 0 1 0 -7.8 0zM1275.9 407.2a3.9 3.9 0 1 0 7.8 0a3.9 3.9 0 1 0 -7.8 0zM1277.2 408.5a3.9 3.9 0 1 0 7.8 0a3.9 3.9 0 1 0 -7.8 0zM1278.5 416.5a3.9 3.9 0 1 0 7.8 0a3.9 3.9 0 1 0 -7.8 0zM1277.0 410.7a3.9 3.9 0 1 0 7.8 0a3.9 3.9 0 1 0 -7.8 0zM1276.2 430.4a3.9 3.9 0 1 0 7.8 0a3.9 3.9 0 1 0 -7.8 0zM1279.6 413.2a3.9 3.9 0 1 0 7.8 0a3.9 3.9 0 1 0 -7.8 0zM1279.1 411.7a3.9 3.9 0 1 0 7.8 0a3.9 3.9 0 1 0 -7.8 0zM1278.9 408.3a3.9 3.9 0 1 0 7.8 0a3.9 3.9 0 1 0 -7.8 0zM1277.9 416.3a3.9 3.9 0 1 0 7.8 0a3.9 3.9 0 1 0 -7.8 0zM1279.5 432.1a3.9 3.9 0 1 0 7.8 0a3.9 3.9 0 1 0 -7.8 0zM1275.6 403.2a3.9 3.9 0 1 0 7.8 0a3.9 3.9 0 1 0 -7.8 0zM1331.1 406.4a3.9 3.9 0 1 0 7.8 0a3.9 3.9 0 1 0 -7.8 0zM1345.8 398.1a3.9 3.9 0 1 0 7.8 0a3.9 3.9 0 1 0 -7.8 0zM1375.7 379.3a3.9 3.9 0 1 0 7.8 0a3.9 3.9 0 1 0 -7.8 0zM1297.3 397.7a3.9 3.9 0 1 0 7.8 0a3.9 3.9 0 1 0 -7.8 0zM1328.3 391.3a3.9 3.9 0 1 0 7.8 0a3.9 3.9 0 1 0 -7.8 0zM1382.2 374.2a3.9 3.9 0 1 0 7.8 0a3.9 3.9 0 1 0 -7.8 0zM1329.7 388.0a3.9 3.9 0 1 0 7.8 0a3.9 3.9 0 1 0 -7.8 0zM1304.2 416.8a3.9 3.9 0 1 0 7.8 0a3.9 3.9 0 1 0 -7.8 0zM1378.0 360.5a3.9 3.9 0 1 0 7.8 0a3.9 3.9 0 1 0 -7.8 0zM1328.0 388.7a3.9 3.9 0 1 0 7.8 0a3.9 3.9 0 1 0 -7.8 0zM1344.7 375.2a3.9 3.9 0 1 0 7.8 0a3.9 3.9 0 1 0 -7.8 0zM1287.0 426.9a3.9 3.9 0 1 0 7.8 0a3.9 3.9 0 1 0 -7.8 0zM1312.6 416.6a3.9 3.9 0 1 0 7.8 0a3.9 3.9 0 1 0 -7.8 0zM1376.3 373.7a3.9 3.9 0 1 0 7.8 0a3.9 3.9 0 1 0 -7.8 0zM1376.8 380.1a3.9 3.9 0 1 0 7.8 0a3.9 3.9 0 1 0 -7.8 0zM1286.8 405.3a3.9 3.9 0 1 0 7.8 0a3.9 3.9 0 1 0 -7.8 0zM1350.3 384.1a3.9 3.9 0 1 0 7.8 0a3.9 3.9 0 1 0 -7.8 0zM1280.6 435.7a3.9 3.9 0 1 0 7.8 0a3.9 3.9 0 1 0 -7.8 0zM1349.0 382.7a3.9 3.9 0 1 0 7.8 0a3.9 3.9 0 1 0 -7.8 0zM1335.4 373.7a3.9 3.9 0 1 0 7.8 0a3.9 3.9 0 1 0 -7.8 0zM1338.4 370.9a3.9 3.9 0 1 0 7.8 0a3.9 3.9 0 1 0 -7.8 0zM1350.5 406.5a3.9 3.9 0 1 0 7.8 0a3.9 3.9 0 1 0 -7.8 0zM1303.0 397.4a3.9 3.9 0 1 0 7.8 0a3.9 3.9 0 1 0 -7.8 0zM1341.1 411.3a3.9 3.9 0 1 0 7.8 0a3.9 3.9 0 1 0 -7.8 0zM1298.0 407.1a3.9 3.9 0 1 0 7.8 0a3.9 3.9 0 1 0 -7.8 0zM1344.3 370.6a3.9 3.9 0 1 0 7.8 0a3.9 3.9 0 1 0 -7.8 0zM1287.4 430.3a3.9 3.9 0 1 0 7.8 0a3.9 3.9 0 1 0 -7.8 0zM1346.1 391.7a3.9 3.9 0 1 0 7.8 0a3.9 3.9 0 1 0 -7.8 0zM1337.9 368.7a3.9 3.9 0 1 0 7.8 0a3.9 3.9 0 1 0 -7.8 0zM1331.0 395.5a3.9 3.9 0 1 0 7.8 0a3.9 3.9 0 1 0 -7.8 0zM1334.6 373.6a3.9 3.9 0 1 0 7.8 0a3.9 3.9 0 1 0 -7.8 0zM1287.3 418.6a3.9 3.9 0 1 0 7.8 0a3.9 3.9 0 1 0 -7.8 0zM1353.9 390.9a3.9 3.9 0 1 0 7.8 0a3.9 3.9 0 1 0 -7.8 0zM1379.4 365.9a3.9 3.9 0 1 0 7.8 0a3.9 3.9 0 1 0 -7.8 0zM1321.6 391.8a3.9 3.9 0 1 0 7.8 0a3.9 3.9 0 1 0 -7.8 0zM1333.6 404.9a3.9 3.9 0 1 0 7.8 0a3.9 3.9 0 1 0 -7.8 0zM1371.7 360.0a3.9 3.9 0 1 0 7.8 0a3.9 3.9 0 1 0 -7.8 0zM1341.1 405.2a3.9 3.9 0 1 0 7.8 0a3.9 3.9 0 1 0 -7.8 0zM1359.6 377.3a3.9 3.9 0 1 0 7.8 0a3.9 3.9 0 1 0 -7.8 0zM1287.7 408.7a3.9 3.9 0 1 0 7.8 0a3.9 3.9 0 1 0 -7.8 0zM1343.3 404.1a3.9 3.9 0 1 0 7.8 0a3.9 3.9 0 1 0 -7.8 0zM1303.2 400.9a3.9 3.9 0 1 0 7.8 0a3.9 3.9 0 1 0 -7.8 0zM1319.0 375.7a3.9 3.9 0 1 0 7.8 0a3.9 3.9 0 1 0 -7.8 0zM1383.2 363.7a3.9 3.9 0 1 0 7.8 0a3.9 3.9 0 1 0 -7.8 0zM1326.9 428.0a3.9 3.9 0 1 0 7.8 0a3.9 3.9 0 1 0 -7.8 0zM1363.0 369.5a3.9 3.9 0 1 0 7.8 0a3.9 3.9 0 1 0 -7.8 0zM1379.8 378.5a3.9 3.9 0 1 0 7.8 0a3.9 3.9 0 1 0 -7.8 0zM1340.0 387.6a3.9 3.9 0 1 0 7.8 0a3.9 3.9 0 1 0 -7.8 0zM1370.1 389.2a3.9 3.9 0 1 0 7.8 0a3.9 3.9 0 1 0 -7.8 0zM1351.2 376.1a3.9 3.9 0 1 0 7.8 0a3.9 3.9 0 1 0 -7.8 0zM1372.5 378.5a3.9 3.9 0 1 0 7.8 0a3.9 3.9 0 1 0 -7.8 0zM1378.7 379.1a3.9 3.9 0 1 0 7.8 0a3.9 3.9 0 1 0 -7.8 0zM1353.4 401.7a3.9 3.9 0 1 0 7.8 0a3.9 3.9 0 1 0 -7.8 0zM1326.9 405.6a3.9 3.9 0 1 0 7.8 0a3.9 3.9 0 1 0 -7.8 0zM1359.4 377.7a3.9 3.9 0 1 0 7.8 0a3.9 3.9 0 1 0 -7.8 0zM1293.8 432.9a3.9 3.9 0 1 0 7.8 0a3.9 3.9 0 1 0 -7.8 0zM1337.0 389.9a3.9 3.9 0 1 0 7.8 0a3.9 3.9 0 1 0 -7.8 0zM1336.7 380.2a3.9 3.9 0 1 0 7.8 0a3.9 3.9 0 1 0 -7.8 0zM1369.5 367.3a3.9 3.9 0 1 0 7.8 0a3.9 3.9 0 1 0 -7.8 0zM1306.1 417.7a3.9 3.9 0 1 0 7.8 0a3.9 3.9 0 1 0 -7.8 0zM1331.9 384.4a3.9 3.9 0 1 0 7.8 0a3.9 3.9 0 1 0 -7.8 0zM1288.8 414.2a3.9 3.9 0 1 0 7.8 0a3.9 3.9 0 1 0 -7.8 0zM1324.0 403.9a3.9 3.9 0 1 0 7.8 0a3.9 3.9 0 1 0 -7.8 0zM1348.6 374.9a3.9 3.9 0 1 0 7.8 0a3.9 3.9 0 1 0 -7.8 0zM1287.1 395.8a3.9 3.9 0 1 0 7.8 0a3.9 3.9 0 1 0 -7.8 0zM1338.4 417.1a3.9 3.9 0 1 0 7.8 0a3.9 3.9 0 1 0 -7.8 0zM1358.5 398.9a3.9 3.9 0 1 0 7.8 0a3.9 3.9 0 1 0 -7.8 0zM1296.2 397.5a3.9 3.9 0 1 0 7.8 0a3.9 3.9 0 1 0 -7.8 0zM1355.9 378.1a3.9 3.9 0 1 0 7.8 0a3.9 3.9 0 1 0 -7.8 0zM1324.7 421.1a3.9 3.9 0 1 0 7.8 0a3.9 3.9 0 1 0 -7.8 0zM1288.7 439.9a3.9 3.9 0 1 0 7.8 0a3.9 3.9 0 1 0 -7.8 0zM1300.0 417.4a3.9 3.9 0 1 0 7.8 0a3.9 3.9 0 1 0 -7.8 0zM1349.6 388.5a3.9 3.9 0 1 0 7.8 0a3.9 3.9 0 1 0 -7.8 0zM1355.0 373.9a3.9 3.9 0 1 0 7.8 0a3.9 3.9 0 1 0 -7.8 0zM1304.5 420.1a3.9 3.9 0 1 0 7.8 0a3.9 3.9 0 1 0 -7.8 0zM1380.4 356.9a3.9 3.9 0 1 0 7.8 0a3.9 3.9 0 1 0 -7.8 0zM1291.2 442.0a3.9 3.9 0 1 0 7.8 0a3.9 3.9 0 1 0 -7.8 0zM1285.6 400.3a3.9 3.9 0 1 0 7.8 0a3.9 3.9 0 1 0 -7.8 0zM1333.5 383.9a3.9 3.9 0 1 0 7.8 0a3.9 3.9 0 1 0 -7.8 0zM1354.8 381.2a3.9 3.9 0 1 0 7.8 0a3.9 3.9 0 1 0 -7.8 0zM1364.6 362.6a3.9 3.9 0 1 0 7.8 0a3.9 3.9 0 1 0 -7.8 0zM1303.5 392.9a3.9 3.9 0 1 0 7.8 0a3.9 3.9 0 1 0 -7.8 0zM1365.1 396.2a3.9 3.9 0 1 0 7.8 0a3.9 3.9 0 1 0 -7.8 0zM1320.1 385.9a3.9 3.9 0 1 0 7.8 0a3.9 3.9 0 1 0 -7.8 0zM1287.8 401.5a3.9 3.9 0 1 0 7.8 0a3.9 3.9 0 1 0 -7.8 0zM1384.3 378.3a3.9 3.9 0 1 0 7.8 0a3.9 3.9 0 1 0 -7.8 0zM1378.1 360.9a3.9 3.9 0 1 0 7.8 0a3.9 3.9 0 1 0 -7.8 0zM1288.1 442.7a3.9 3.9 0 1 0 7.8 0a3.9 3.9 0 1 0 -7.8 0zM1356.7 398.4a3.9 3.9 0 1 0 7.8 0a3.9 3.9 0 1 0 -7.8 0zM1375.0 383.6a3.9 3.9 0 1 0 7.8 0a3.9 3.9 0 1 0 -7.8 0zM1281.4 437.8a3.9 3.9 0 1 0 7.8 0a3.9 3.9 0 1 0 -7.8 0zM1340.4 417.9a3.9 3.9 0 1 0 7.8 0a3.9 3.9 0 1 0 -7.8 0zM1301.0 405.8a3.9 3.9 0 1 0 7.8 0a3.9 3.9 0 1 0 -7.8 0zM1293.3 429.5a3.9 3.9 0 1 0 7.8 0a3.9 3.9 0 1 0 -7.8 0zM1342.5 409.5a3.9 3.9 0 1 0 7.8 0a3.9 3.9 0 1 0 -7.8 0zM1339.2 407.9a3.9 3.9 0 1 0 7.8 0a3.9 3.9 0 1 0 -7.8 0zM1318.9 376.4a3.9 3.9 0 1 0 7.8 0a3.9 3.9 0 1 0 -7.8 0zM1287.5 396.1a3.9 3.9 0 1 0 7.8 0a3.9 3.9 0 1 0 -7.8 0zM1283.0 430.9a3.9 3.9 0 1 0 7.8 0a3.9 3.9 0 1 0 -7.8 0zM1357.5 402.3a3.9 3.9 0 1 0 7.8 0a3.9 3.9 0 1 0 -7.8 0zM1363.3 366.3a3.9 3.9 0 1 0 7.8 0a3.9 3.9 0 1 0 -7.8 0zM1298.9 405.2a3.9 3.9 0 1 0 7.8 0a3.9 3.9 0 1 0 -7.8 0zM1316.3 382.3a3.9 3.9 0 1 0 7.8 0a3.9 3.9 0 1 0 -7.8 0zM1361.9 388.0a3.9 3.9 0 1 0 7.8 0a3.9 3.9 0 1 0 -7.8 0zM1324.7 404.9a3.9 3.9 0 1 0 7.8 0a3.9 3.9 0 1 0 -7.8 0zM1343.8 392.3a3.9 3.9 0 1 0 7.8 0a3.9 3.9 0 1 0 -7.8 0zM1344.6 395.2a3.9 3.9 0 1 0 7.8 0a3.9 3.9 0 1 0 -7.8 0zM1384.4 361.9a3.9 3.9 0 1 0 7.8 0a3.9 3.9 0 1 0 -7.8 0zM1288.9 398.4a3.9 3.9 0 1 0 7.8 0a3.9 3.9 0 1 0 -7.8 0zM1343.9 387.9a3.9 3.9 0 1 0 7.8 0a3.9 3.9 0 1 0 -7.8 0zM1378.6 371.3a3.9 3.9 0 1 0 7.8 0a3.9 3.9 0 1 0 -7.8 0zM1376.5 381.4a3.9 3.9 0 1 0 7.8 0a3.9 3.9 0 1 0 -7.8 0zM1317.6 388.2a3.9 3.9 0 1 0 7.8 0a3.9 3.9 0 1 0 -7.8 0zM1351.0 380.7a3.9 3.9 0 1 0 7.8 0a3.9 3.9 0 1 0 -7.8 0zM1296.7 388.3a3.9 3.9 0 1 0 7.8 0a3.9 3.9 0 1 0 -7.8 0zM1368.0 392.9a3.9 3.9 0 1 0 7.8 0a3.9 3.9 0 1 0 -7.8 0zM1357.5 365.1a3.9 3.9 0 1 0 7.8 0a3.9 3.9 0 1 0 -7.8 0zM1281.5 425.9a3.9 3.9 0 1 0 7.8 0a3.9 3.9 0 1 0 -7.8 0zM1322.4 429.0a3.9 3.9 0 1 0 7.8 0a3.9 3.9 0 1 0 -7.8 0zM1328.2 410.1a3.9 3.9 0 1 0 7.8 0a3.9 3.9 0 1 0 -7.8 0zM1283.5 397.5a3.9 3.9 0 1 0 7.8 0a3.9 3.9 0 1 0 -7.8 0zM1360.2 384.9a3.9 3.9 0 1 0 7.8 0a3.9 3.9 0 1 0 -7.8 0zM1373.9 368.4a3.9 3.9 0 1 0 7.8 0a3.9 3.9 0 1 0 -7.8 0zM1338.7 390.0a3.9 3.9 0 1 0 7.8 0a3.9 3.9 0 1 0 -7.8 0zM1361.8 383.3a3.9 3.9 0 1 0 7.8 0a3.9 3.9 0 1 0 -7.8 0zM1369.8 362.6a3.9 3.9 0 1 0 7.8 0a3.9 3.9 0 1 0 -7.8 0zM1349.0 379.5a3.9 3.9 0 1 0 7.8 0a3.9 3.9 0 1 0 -7.8 0zM1363.6 374.5a3.9 3.9 0 1 0 7.8 0a3.9 3.9 0 1 0 -7.8 0zM1297.0 386.1a3.9 3.9 0 1 0 7.8 0a3.9 3.9 0 1 0 -7.8 0zM1333.5 372.2a3.9 3.9 0 1 0 7.8 0a3.9 3.9 0 1 0 -7.8 0zM1399.9 368.4a3.9 3.9 0 1 0 7.8 0a3.9 3.9 0 1 0 -7.8 0zM1713.2 222.1a3.9 3.9 0 1 0 7.8 0a3.9 3.9 0 1 0 -7.8 0zM1635.2 255.0a3.9 3.9 0 1 0 7.8 0a3.9 3.9 0 1 0 -7.8 0zM1785.5 204.9a3.9 3.9 0 1 0 7.8 0a3.9 3.9 0 1 0 -7.8 0zM1522.7 314.9a3.9 3.9 0 1 0 7.8 0a3.9 3.9 0 1 0 -7.8 0zM1610.3 266.7a3.9 3.9 0 1 0 7.8 0a3.9 3.9 0 1 0 -7.8 0zM1582.3 283.4a3.9 3.9 0 1 0 7.8 0a3.9 3.9 0 1 0 -7.8 0zM1597.9 296.5a3.9 3.9 0 1 0 7.8 0a3.9 3.9 0 1 0 -7.8 0zM1717.1 221.4a3.9 3.9 0 1 0 7.8 0a3.9 3.9 0 1 0 -7.8 0zM1545.7 318.1a3.9 3.9 0 1 0 7.8 0a3.9 3.9 0 1 0 -7.8 0zM1730.8 227.6a3.9 3.9 0 1 0 7.8 0a3.9 3.9 0 1 0 -7.8 0zM1679.0 251.9a3.9 3.9 0 1 0 7.8 0a3.9 3.9 0 1 0 -7.8 0zM1460.6 330.6a3.9 3.9 0 1 0 7.8 0a3.9 3.9 0 1 0 -7.8 0zM1511.9 306.1a3.9 3.9 0 1 0 7.8 0a3.9 3.9 0 1 0 -7.8 0zM1698.3 226.4a3.9 3.9 0 1 0 7.8 0a3.9 3.9 0 1 0 -7.8 0zM1467.2 338.4a3.9 3.9 0 1 0 7.8 0a3.9 3.9 0 1 0 -7.8 0zM1791.1 192.1a3.9 3.9 0 1 0 7.8 0a3.9 3.9 0 1 0 -7.8 0zM1772.4 211.4a3.9 3.9 0 1 0 7.8 0a3.9 3.9 0 1 0 -7.8 0zM1455.7 348.3a3.9 3.9 0 1 0 7.8 0a3.9 3.9 0 1 0 -7.8 0zM1462.1 332.2a3.9 3.9 0 1 0 7.8 0a3.9 3.9 0 1 0 -7.8 0zM1424.0 334.4a3.9 3.9 0 1 0 7.8 0a3.9 3.9 0 1 0 -7.8 0zM1686.8 253.3a3.9 3.9 0 1 0 7.8 0a3.9 3.9 0 1 0 -7.8 0zM1436.9 335.5a3.9 3.9 0 1 0 7.8 0a3.9 3.9 0 1 0 -7.8 0zM1662.9 255.4a3.9 3.9 0 1 0 7.8 0a3.9 3.9 0 1 0 -7.8 0zM1449.2 343.2a3.9 3.9 0 1 0 7.8 0a3.9 3.9 0 1 0 -7.8 0zM1433.8 356.1a3.9 3.9 0 1 0 7.8 0a3.9 3.9 0 1 0 -7.8 0zM1688.2 247.6a3.9 3.9 0 1 0 7.8 0a3.9 3.9 0 1 0 -7.8 0zM1804.3 183.2a3.9 3.9 0 1 0 7.8 0a3.9 3.9 0 1 0 -7.8 0zM1477.1 332.7a3.9 3.9 0 1 0 7.8 0a3.9 3.9 0 1 0 -7.8 0zM1791.2 203.3a3.9 3.9 0 1 0 7.8 0a3.9 3.9 0 1 0 -7.8 0zM1746.2 220.4a3.9 3.9 0 1 0 7.8 0a3.9 3.9 0 1 0 -7.8 0zM1548.9 310.8a3.9 3.9 0 1 0 7.8 0a3.9 3.9 0 1 0 -7.8 0zM1674.1 259.7a3.9 3.9 0 1 0 7.8 0a3.9 3.9 0 1 0 -7.8 0zM1728.4 226.3a3.9 3.9 0 1 0 7.8 0a3.9 3.9 0 1 0 -7.8 0zM1679.2 237.5a3.9 3.9 0 1 0 7.8 0a3.9 3.9 0 1 0 -7.8 0zM1514.6 323.4a3.9 3.9 0 1 0 7.8 0a3.9 3.9 0 1 0 -7.8 0zM1705.5 224.4a3.9 3.9 0 1 0 7.8 0a3.9 3.9 0 1 0 -7.8 0zM1479.0 325.5a3.9 3.9 0 1 0 7.8 0a3.9 3.9 0 1 0 -7.8 0zM1645.0 254.8a3.9 3.9 0 1 0 7.8 0a3.9 3.9 0 1 0 -7.8 0zM1555.8 313.6a3.9 3.9 0 1 0 7.8 0a3.9 3.9 0 1 0 -7.8 0zM1561.0 294.2a3.9 3.9 0 1 0 7.8 0a3.9 3.9 0 1 0 -7.8 0zM1811.3 180.4a3.9 3.9 0 1 0 7.8 0a3.9 3.9 0 1 0 -7.8 0zM1625.3 256.4a3.9 3.9 0 1 0 7.8 0a3.9 3.9 0 1 0 -7.8 0zM1770.9 212.1a3.9 3.9 0 1 0 7.8 0a3.9 3.9 0 1 0 -7.8 0zM1493.7 327.0a3.9 3.9 0 1 0 7.8 0a3.9 3.9 0 1 0 -7.8 0zM1495.4 333.2a3.9 3.9 0 1 0 7.8 0a3.9 3.9 0 1 0 -7.8 0zM1610.5 266.8a3.9 3.9 0 1 0 7.8 0a3.9 3.9 0 1 0 -7.8 0zM1826.0 174.0a3.9 3.9 0 1 0 7.8 0a3.9 3.9 0 1 0 -7.8 0zM1641.4 276.8a3.9 3.9 0 1 0 7.8 0a3.9 3.9 0 1 0 -7.8 0zM1518.2 312.0a3.9 3.9 0 1 0 7.8 0a3.9 3.9 0 1 0 -7.8 0zM1796.8 190.0a3.9 3.9 0 1 0 7.8 0a3.9 3.9 0 1 0 -7.8 0zM1774.0 206.7a3.9 3.9 0 1 0 7.8 0a3.9 3.9 0 1 0 -7.8 0zM1817.9 180.7a3.9 3.9 0 1 0 7.8 0a3.9 3.9 0 1 0 -7.8 0zM1788.3 196.9a3.9 3.9 0 1 0 7.8 0a3.9 3.9 0 1 0 -7.8 0zM1487.6 320.5a3.9 3.9 0 1 0 7.8 0a3.9 3.9 0 1 0 -7.8 0zM1608.4 279.6a3.9 3.9 0 1 0 7.8 0a3.9 3.9 0 1 0 -7.8 0zM1593.6 277.2a3.9 3.9 0 1 0 7.8 0a3.9 3.9 0 1 0 -7.8 0zM1506.9 318.2a3.9 3.9 0 1 0 7.8 0a3.9 3.9 0 1 0 -7.8 0zM1698.5 242.8a3.9 3.9 0 1 0 7.8 0a3.9 3.9 0 1 0 -7.8 0zM1402.0 349.7a3.9 3.9 0 1 0 7.8 0a3.9 3.9 0 1 0 -7.8 0zM1692.2 241.1a3.9 3.9 0 1 0 7.8 0a3.9 3.9 0 1 0 -7.8 0zM1518.2 316.3a3.9 3.9 0 1 0 7.8 0a3.9 3.9 0 1 0 -7.8 0zM1405.6 355.4a3.9 3.9 0 1 0 7.8 0a3.9 3.9 0 1 0 -7.8 0zM1810.8 181.2a3.9 3.9 0 1 0 7.8 0a3.9 3.9 0 1 0 -7.8 0zM1456.5 340.8a3.9 3.9 0 1 0 7.8 0a3.9 3.9 0 1 0 -7.8 0zM1660.3 248.1a3.9 3.9 0 1 0 7.8 0a3.9 3.9 0 1 0 -7.8 0zM1497.9 305.5a3.9 3.9 0 1 0 7.8 0a3.9 3.9 0 1 0 -7.8 0zM1430.7 353.1a3.9 3.9 0 1 0 7.8 0a3.9 3.9 0 1 0 -7.8 0zM1573.9 303.5a3.9 3.9 0 1 0 7.8 0a3.9 3.9 0 1 0 -7.8 0zM1824.8 178.9a3.9 3.9 0 1 0 7.8 0a3.9 3.9 0 1 0 -7.8 0zM1547.2 288.8a3.9 3.9 0 1 0 7.8 0a3.9 3.9 0 1 0 -7.8 0zM1798.1 185.8a3.9 3.9 0 1 0 7.8 0a3.9 3.9 0 1 0 -7.8 0zM1449.9 334.2a3.9 3.9 0 1 0 7.8 0a3.9 3.9 0 1 0 -7.8 0zM1508.9 310.0a3.9 3.9 0 1 0 7.8 0a3.9 3.9 0 1 0 -7.8 0zM1465.1 317.9a3.9 3.9 0 1 0 7.8 0a3.9 3.9 0 1 0 -7.8 0zM1398.5 370.8a3.9 3.9 0 1 0 7.8 0a3.9 3.9 0 1 0 -7.8 0zM1430.0 341.8a3.9 3.9 0 1 0 7.8 0a3.9 3.9 0 1 0 -7.8 0zM1676.5 249.4a3.9 3.9 0 1 0 7.8 0a3.9 3.9 0 1 0 -7.8 0zM1781.6 208.9a3.9 3.9 0 1 0 7.8 0a3.9 3.9 0 1 0 -7.8 0zM1660.3 251.2a3.9 3.9 0 1 0 7.8 0a3.9 3.9 0 1 0 -7.8 0zM1674.7 243.7a3.9 3.9 0 1 0 7.8 0a3.9 3.9 0 1 0 -7.8 0zM1465.9 331.4a3.9 3.9 0 1 0 7.8 0a3.9 3.9 0 1 0 -7.8 0zM1615.7 262.9a3.9 3.9 0 1 0 7.8 0a3.9 3.9 0 1 0 -7.8 0zM1591.7 278.4a3.9 3.9 0 1 0 7.8 0a3.9 3.9 0 1 0 -7.8 0zM1421.5 362.1a3.9 3.9 0 1 0 7.8 0a3.9 3.9 0 1 0 -7.8 0zM1626.7 269.8a3.9 3.9 0 1 0 7.8 0a3.9 3.9 0 1 0 -7.8 0zM1424.5 340.7a3.9 3.9 0 1 0 7.8 0a3.9 3.9 0 1 0 -7.8 0zM1406.4 366.0a3.9 3.9 0 1 0 7.8 0a3.9 3.9 0 1 0 -7.8 0zM1677.9 246.9a3.9 3.9 0 1 0 7.8 0a3.9 3.9 0 1 0 -7.8 0zM1701.1 236.3a3.9 3.9 0 1 0 7.8 0a3.9 3.9 0 1 0 -7.8 0zM1621.4 287.3a3.9 3.9 0 1 0 7.8 0a3.9 3.9 0 1 0 -7.8 0zM1435.8 346.9a3.9 3.9 0 1 0 7.8 0a3.9 3.9 0 1 0 -7.8 0zM1573.2 280.2a3.9 3.9 0 1 0 7.8 0a3.9 3.9 0 1 0 -7.8 0zM1462.8 335.5a3.9 3.9 0 1 0 7.8 0a3.9 3.9 0 1 0 -7.8 0zM1423.9 356.5a3.9 3.9 0 1 0 7.8 0a3.9 3.9 0 1 0 -7.8 0zM1575.5 283.2a3.9 3.9 0 1 0 7.8 0a3.9 3.9 0 1 0 -7.8 0zM1582.8 283.8a3.9 3.9 0 1 0 7.8 0a3.9 3.9 0 1 0 -7.8 0zM1587.1 278.0a3.9 3.9 0 1 0 7.8 0a3.9 3.9 0 1 0 -7.8 0zM1569.5 284.2a3.9 3.9 0 1 0 7.8 0a3.9 3.9 0 1 0 -7.8 0zM1726.8 229.0a3.9 3.9 0 1 0 7.8 0a3.9 3.9 0 1 0 -7.8 0zM1547.3 296.2a3.9 3.9 0 1 0 7.8 0a3.9 3.9 0 1 0 -7.8 0zM1540.0 320.3a3.9 3.9 0 1 0 7.8 0a3.9 3.9 0 1 0 -7.8 0zM1688.5 255.4a3.9 3.9 0 1 0 7.8 0a3.9 3.9 0 1 0 -7.8 0zM1789.7 200.4a3.9 3.9 0 1 0 7.8 0a3.9 3.9 0 1 0 -7.8 0zM1664.6 246.5a3.9 3.9 0 1 0 7.8 0a3.9 3.9 0 1 0 -7.8 0zM1660.2 241.2a3.9 3.9 0 1 0 7.8 0a3.9 3.9 0 1 0 -7.8 0zM1600.0 286.5a3.9 3.9 0 1 0 7.8 0a3.9 3.9 0 1 0 -7.8 0zM1615.3 272.3a3.9 3.9 0 1 0 7.8 0a3.9 3.9 0 1 0 -7.8 0zM1683.1 247.4a3.9 3.9 0 1 0 7.8 0a3.9 3.9 0 1 0 -7.8 0zM1640.7 263.7a3.9 3.9 0 1 0 7.8 0a3.9 3.9 0 1 0 -7.8 0zM1562.8 297.1a3.9 3.9 0 1 0 7.8 0a3.9 3.9 0 1 0 -7.8 0zM1386.3 367.0a3.9 3.9 0 1 0 7.8 0a3.9 3.9 0 1 0 -7.8 0zM1487.5 330.7a3.9 3.9 0 1 0 7.8 0a3.9 3.9 0 1 0 -7.8 0zM1418.0 350.9a3.9 3.9 0 1 0 7.8 0a3.9 3.9 0 1 0 -7.8 0zM1521.5 311.3a3.9 3.9 0 1 0 7.8 0a3.9 3.9 0 1 0 -7.8 0zM1768.8 211.4a3.9 3.9 0 1 0 7.8 0a3.9 3.9 0 1 0 -7.8 0zM1764.9 210.7a3.9 3.9 0 1 0 7.8 0a3.9 3.9 0 1 0 -7.8 0zM1784.4 207.9a3.9 3.9 0 1 0 7.8 0a3.9 3.9 0 1 0 -7.8 0zM1781.9 195.4a3.9 3.9 0 1 0 7.8 0a3.9 3.9 0 1 0 -7.8 0zM1441.9 333.7a3.9 3.9 0 1 0 7.8 0a3.9 3.9 0 1 0 -7.8 0zM1636.6 254.0a3.9 3.9 0 1 0 7.8 0a3.9 3.9 0 1 0 -7.8 0zM1836.0 168.2a3.9 3.9 0 1 0 7.8 0a3.9 3.9 0 1 0 -7.8 0zM1823.9 169.3a3.9 3.9 0 1 0 7.8 0a3.9 3.9 0 1 0 -7.8 0zM1393.0 361.2a3.9 3.9 0 1 0 7.8 0a3.9 3.9 0 1 0 -7.8 0zM1754.7 210.7a3.9 3.9 0 1 0 7.8 0a3.9 3.9 0 1 0 -7.8 0zM1824.2 169.0a3.9 3.9 0 1 0 7.8 0a3.9 3.9 0 1 0 -7.8 0zM1808.2 194.1a3.9 3.9 0 1 0 7.8 0a3.9 3.9 0 1 0 -7.8 0zM1713.9 236.5a3.9 3.9 0 1 0 7.8 0a3.9 3.9 0 1 0 -7.8 0zM1686.0 236.9a3.9 3.9 0 1 0 7.8 0a3.9 3.9 0 1 0 -7.8 0zM1390.6 366.8a3.9 3.9 0 1 0 7.8 0a3.9 3.9 0 1 0 -7.8 0zM1719.2 227.7a3.9 3.9 0 1 0 7.8 0a3.9 3.9 0 1 0 -7.8 0zM1551.7 285.9a3.9 3.9 0 1 0 7.8 0a3.9 3.9 0 1 0 -7.8 0zM1416.8 358.4a3.9 3.9 0 1 0 7.8 0a3.9 3.9 0 1 0 -7.8 0zM1568.3 301.0a3.9 3.9 0 1 0 7.8 0a3.9 3.9 0 1 0 -7.8 0zM1786.8 189.4a3.9 3.9 0 1 0 7.8 0a3.9 3.9 0 1 0 -7.8 0zM1394.8 372.2a3.9 3.9 0 1 0 7.8 0a3.9 3.9 0 1 0 -7.8 0zM1484.3 317.0a3.9 3.9 0 1 0 7.8 0a3.9 3.9 0 1 0 -7.8 0zM1613.9 281.6a3.9 3.9 0 1 0 7.8 0a3.9 3.9 0 1 0 -7.8 0zM1645.4 271.1a3.9 3.9 0 1 0 7.8 0a3.9 3.9 0 1 0 -7.8 0zM1828.1 165.8a3.9 3.9 0 1 0 7.8 0a3.9 3.9 0 1 0 -7.8 0zM1688.4 236.4a3.9 3.9 0 1 0 7.8 0a3.9 3.9 0 1 0 -7.8 0zM1731.4 230.0a3.9 3.9 0 1 0 7.8 0a3.9 3.9 0 1 0 -7.8 0zM1808.2 185.6a3.9 3.9 0 1 0 7.8 0a3.9 3.9 0 1 0 -7.8 0zM1501.1 329.9a3.9 3.9 0 1 0 7.8 0a3.9 3.9 0 1 0 -7.8 0zM1835.0 172.1a3.9 3.9 0 1 0 7.8 0a3.9 3.9 0 1 0 -7.8 0zM1674.8 249.3a3.9 3.9 0 1 0 7.8 0a3.9 3.9 0 1 0 -7.8 0zM1692.1 247.9a3.9 3.9 0 1 0 7.8 0a3.9 3.9 0 1 0 -7.8 0zM1682.5 237.9a3.9 3.9 0 1 0 7.8 0a3.9 3.9 0 1 0 -7.8 0zM1604.5 276.6a3.9 3.9 0 1 0 7.8 0a3.9 3.9 0 1 0 -7.8 0zM1499.1 325.7a3.9 3.9 0 1 0 7.8 0a3.9 3.9 0 1 0 -7.8 0zM1670.6 261.7a3.9 3.9 0 1 0 7.8 0a3.9 3.9 0 1 0 -7.8 0zM1598.8 286.3a3.9 3.9 0 1 0 7.8 0a3.9 3.9 0 1 0 -7.8 0zM1795.7 197.8a3.9 3.9 0 1 0 7.8 0a3.9 3.9 0 1 0 -7.8 0zM1706.5 237.1a3.9 3.9 0 1 0 7.8 0a3.9 3.9 0 1 0 -7.8 0zM1421.9 335.5a3.9 3.9 0 1 0 7.8 0a3.9 3.9 0 1 0 -7.8 0zM1586.9 284.8a3.9 3.9 0 1 0 7.8 0a3.9 3.9 0 1 0 -7.8 0zM1403.5 357.0a3.9 3.9 0 1 0 7.8 0a3.9 3.9 0 1 0 -7.8 0zM1414.0 345.4a3.9 3.9 0 1 0 7.8 0a3.9 3.9 0 1 0 -7.8 0zM1528.4 304.1a3.9 3.9 0 1 0 7.8 0a3.9 3.9 0 1 0 -7.8 0zM1411.8 341.2a3.9 3.9 0 1 0 7.8 0a3.9 3.9 0 1 0 -7.8 0zM1760.8 208.2a3.9 3.9 0 1 0 7.8 0a3.9 3.9 0 1 0 -7.8 0zM1633.5 256.0a3.9 3.9 0 1 0 7.8 0a3.9 3.9 0 1 0 -7.8 0zM1449.6 329.1a3.9 3.9 0 1 0 7.8 0a3.9 3.9 0 1 0 -7.8 0zM1408.4 344.0a3.9 3.9 0 1 0 7.8 0a3.9 3.9 0 1 0 -7.8 0zM1469.6 318.2a3.9 3.9 0 1 0 7.8 0a3.9 3.9 0 1 0 -7.8 0zM1712.8 241.5a3.9 3.9 0 1 0 7.8 0a3.9 3.9 0 1 0 -7.8 0zM1530.4 298.4a3.9 3.9 0 1 0 7.8 0a3.9 3.9 0 1 0 -7.8 0zM1475.3 329.3a3.9 3.9 0 1 0 7.8 0a3.9 3.9 0 1 0 -7.8 0zM1507.7 328.2a3.9 3.9 0 1 0 7.8 0a3.9 3.9 0 1 0 -7.8 0zM1481.6 324.7a3.9 3.9 0 1 0 7.8 0a3.9 3.9 0 1 0 -7.8 0zM1409.6 340.4a3.9 3.9 0 1 0 7.8 0a3.9 3.9 0 1 0 -7.8 0zM1689.2 230.4a3.9 3.9 0 1 0 7.8 0a3.9 3.9 0 1 0 -7.8 0zM1547.2 285.5a3.9 3.9 0 1 0 7.8 0a3.9 3.9 0 1 0 -7.8 0zM1487.0 339.0a3.9 3.9 0 1 0 7.8 0a3.9 3.9 0 1 0 -7.8 0zM1808.0 180.2a3.9 3.9 0 1 0 7.8 0a3.9 3.9 0 1 0 -7.8 0zM1768.7 215.5a3.9 3.9 0 1 0 7.8 0a3.9 3.9 0 1 0 -7.8 0zM1613.6 271.2a3.9 3.9 0 1 0 7.8 0a3.9 3.9 0 1 0 -7.8 0zM1781.0 194.8a3.9 3.9 0 1 0 7.8 0a3.9 3.9 0 1 0 -7.8 0zM1466.0 333.4a3.9 3.9 0 1 0 7.8 0a3.9 3.9 0 1 0 -7.8 0zM1604.0 276.9a3.9 3.9 0 1 0 7.8 0a3.9 3.9 0 1 0 -7.8 0zM1820.8 182.1a3.9 3.9 0 1 0 7.8 0a3.9 3.9 0 1 0 -7.8 0zM1390.7 368.9a3.9 3.9 0 1 0 7.8 0a3.9 3.9 0 1 0 -7.8 0zM1488.3 312.3a3.9 3.9 0 1 0 7.8 0a3.9 3.9 0 1 0 -7.8 0zM1536.3 307.1a3.9 3.9 0 1 0 7.8 0a3.9 3.9 0 1 0 -7.8 0zM1544.7 302.0a3.9 3.9 0 1 0 7.8 0a3.9 3.9 0 1 0 -7.8 0zM1787.2 195.1a3.9 3.9 0 1 0 7.8 0a3.9 3.9 0 1 0 -7.8 0zM1807.1 185.3a3.9 3.9 0 1 0 7.8 0a3.9 3.9 0 1 0 -7.8 0zM1779.7 201.2a3.9 3.9 0 1 0 7.8 0a3.9 3.9 0 1 0 -7.8 0zM1571.3 283.3a3.9 3.9 0 1 0 7.8 0a3.9 3.9 0 1 0 -7.8 0zM1553.5 313.3a3.9 3.9 0 1 0 7.8 0a3.9 3.9 0 1 0 -7.8 0zM1530.4 318.3a3.9 3.9 0 1 0 7.8 0a3.9 3.9 0 1 0 -7.8 0zM1713.3 222.5a3.9 3.9 0 1 0 7.8 0a3.9 3.9 0 1 0 -7.8 0zM1663.8 245.7a3.9 3.9 0 1 0 7.8 0a3.9 3.9 0 1 0 -7.8 0zM1397.6 367.7a3.9 3.9 0 1 0 7.8 0a3.9 3.9 0 1 0 -7.8 0zM1560.9 279.9a3.9 3.9 0 1 0 7.8 0a3.9 3.9 0 1 0 -7.8 0zM1530.2 302.7a3.9 3.9 0 1 0 7.8 0a3.9 3.9 0 1 0 -7.8 0zM1500.5 309.6a3.9 3.9 0 1 0 7.8 0a3.9 3.9 0 1 0 -7.8 0zM1613.2 283.0a3.9 3.9 0 1 0 7.8 0a3.9 3.9 0 1 0 -7.8 0zM1529.1 303.0a3.9 3.9 0 1 0 7.8 0a3.9 3.9 0 1 0 -7.8 0zM1829.3 172.9a3.9 3.9 0 1 0 7.8 0a3.9 3.9 0 1 0 -7.8 0zM1473.9 322.1a3.9 3.9 0 1 0 7.8 0a3.9 3.9 0 1 0 -7.8 0zM1683.2 241.9a3.9 3.9 0 1 0 7.8 0a3.9 3.9 0 1 0 -7.8 0zM1605.6 282.4a3.9 3.9 0 1 0 7.8 0a3.9 3.9 0 1 0 -7.8 0zM1674.8 244.7a3.9 3.9 0 1 0 7.8 0a3.9 3.9 0 1 0 -7.8 0zM1506.3 302.8a3.9 3.9 0 1 0 7.8 0a3.9 3.9 0 1 0 -7.8 0zM1451.7 328.4a3.9 3.9 0 1 0 7.8 0a3.9 3.9 0 1 0 -7.8 0zM1738.0 225.8a3.9 3.9 0 1 0 7.8 0a3.9 3.9 0 1 0 -7.8 0zM1611.4 257.3a3.9 3.9 0 1 0 7.8 0a3.9 3.9 0 1 0 -7.8 0zM1783.8 192.2a3.9 3.9 0 1 0 7.8 0a3.9 3.9 0 1 0 -7.8 0zM1740.8 223.6a3.9 3.9 0 1 0 7.8 0a3.9 3.9 0 1 0 -7.8 0zM1646.1 265.9a3.9 3.9 0 1 0 7.8 0a3.9 3.9 0 1 0 -7.8 0zM1612.2 260.5a3.9 3.9 0 1 0 7.8 0a3.9 3.9 0 1 0 -7.8 0zM1665.7 257.4a3.9 3.9 0 1 0 7.8 0a3.9 3.9 0 1 0 -7.8 0zM1490.0 309.9a3.9 3.9 0 1 0 7.8 0a3.9 3.9 0 1 0 -7.8 0zM1744.1 224.4a3.9 3.9 0 1 0 7.8 0a3.9 3.9 0 1 0 -7.8 0zM1634.3 272.8a3.9 3.9 0 1 0 7.8 0a3.9 3.9 0 1 0 -7.8 0zM1572.6 305.4a3.9 3.9 0 1 0 7.8 0a3.9 3.9 0 1 0 -7.8 0zM1738.1 226.5a3.9 3.9 0 1 0 7.8 0a3.9 3.9 0 1 0 -7.8 0zM1408.7 348.6a3.9 3.9 0 1 0 7.8 0a3.9 3.9 0 1 0 -7.8 0zM1655.6 247.2a3.9 3.9 0 1 0 7.8 0a3.9 3.9 0 1 0 -7.8 0zM1616.7 258.7a3.9 3.9 0 1 0 7.8 0a3.9 3.9 0 1 0 -7.8 0zM1666.2 264.5a3.9 3.9 0 1 0 7.8 0a3.9 3.9 0 1 0 -7.8 0zM1684.0 239.0a3.9 3.9 0 1 0 7.8 0a3.9 3.9 0 1 0 -7.8 0zM1780.5 205.4a3.9 3.9 0 1 0 7.8 0a3.9 3.9 0 1 0 -7.8 0zM1465.9 324.3a3.9 3.9 0 1 0 7.8 0a3.9 3.9 0 1 0 -7.8 0zM1758.0 206.9a3.9 3.9 0 1 0 7.8 0a3.9 3.9 0 1 0 -7.8 0zM1637.2 249.5a3.9 3.9 0 1 0 7.8 0a3.9 3.9 0 1 0 -7.8 0zM1755.9 216.2a3.9 3.9 0 1 0 7.8 0a3.9 3.9 0 1 0 -7.8 0zM1397.1 365.8a3.9 3.9 0 1 0 7.8 0a3.9 3.9 0 1 0 -7.8 0zM1613.9 275.4a3.9 3.9 0 1 0 7.8 0a3.9 3.9 0 1 0 -7.8 0zM1686.3 232.7a3.9 3.9 0 1 0 7.8 0a3.9 3.9 0 1 0 -7.8 0zM1700.7 215.5a3.9 3.9 0 1 0 7.8 0a3.9 3.9 0 1 0 -7.8 0zM1699.3 216.4a3.9 3.9 0 1 0 7.8 0a3.9 3.9 0 1 0 -7.8 0zM1711.4 206.0a3.9 3.9 0 1 0 7.8 0a3.9 3.9 0 1 0 -7.8 0zM1688.1 230.0a3.9 3.9 0 1 0 7.8 0a3.9 3.9 0 1 0 -7.8 0zM1706.6 215.4a3.9 3.9 0 1 0 7.8 0a3.9 3.9 0 1 0 -7.8 0zM1689.6 228.6a3.9 3.9 0 1 0 7.8 0a3.9 3.9 0 1 0 -7.8 0zM1711.3 208.8a3.9 3.9 0 1 0 7.8 0a3.9 3.9 0 1 0 -7.8 0zM1693.8 223.2a3.9 3.9 0 1 0 7.8 0a3.9 3.9 0 1 0 -7.8 0zM1703.7 220.3a3.9 3.9 0 1 0 7.8 0a3.9 3.9 0 1 0 -7.8 0zM1281.8 302.6a3.9 3.9 0 1 0 7.8 0a3.9 3.9 0 1 0 -7.8 0zM1283.1 341.4a3.9 3.9 0 1 0 7.8 0a3.9 3.9 0 1 0 -7.8 0zM1446.1 307.5a3.9 3.9 0 1 0 7.8 0a3.9 3.9 0 1 0 -7.8 0zM1436.1 322.6a3.9 3.9 0 1 0 7.8 0a3.9 3.9 0 1 0 -7.8 0zM1832.1 160.0a3.9 3.9 0 1 0 7.8 0a3.9 3.9 0 1 0 -7.8 0zM1839.1 166.0a3.9 3.9 0 1 0 7.8 0a3.9 3.9 0 1 0 -7.8 0z" fill="#fdf1f1" stroke="none"/>
<path d="M1340.2 315.4l4.7 8.4h-9.4zM1362.2 333.7l4.7 8.4h-9.4zM1377.6 309.7l4.7 8.4h-9.4zM1400.6 286.7l4.7 8.4h-9.4zM1394.3 296.2l4.7 8.4h-9.4zM1382.0 330.2l4.7 8.4h-9.4zM1391.3 306.3l4.7 8.4h-9.4zM1391.2 281.4l4.7 8.4h-9.4zM1364.4 330.2l4.7 8.4h-9.4zM1387.5 302.6l4.7 8.4h-9.4zM1350.3 304.3l4.7 8.4h-9.4zM1364.5 292.0l4.7 8.4h-9.4zM1400.5 299.6l4.7 8.4h-9.4zM1371.6 294.1l4.7 8.4h-9.4zM1356.9 308.1l4.7 8.4h-9.4zM1344.3 303.4l4.7 8.4h-9.4zM1360.0 325.1l4.7 8.4h-9.4zM1398.4 277.8l4.7 8.4h-9.4zM1343.7 329.1l4.7 8.4h-9.4zM1334.7 299.2l4.7 8.4h-9.4zM1374.0 311.1l4.7 8.4h-9.4zM1349.4 324.8l4.7 8.4h-9.4zM1384.6 283.1l4.7 8.4h-9.4zM1384.6 301.0l4.7 8.4h-9.4zM1369.0 314.5l4.7 8.4h-9.4zM1380.2 322.7l4.7 8.4h-9.4zM1346.8 296.3l4.7 8.4h-9.4zM1348.6 296.0l4.7 8.4h-9.4zM1390.0 318.6l4.7 8.4h-9.4zM1359.8 322.5l4.7 8.4h-9.4zM1390.2 318.5l4.7 8.4h-9.4zM1388.7 307.6l4.7 8.4h-9.4zM1390.7 294.6l4.7 8.4h-9.4zM1376.2 297.6l4.7 8.4h-9.4zM1362.7 305.9l4.7 8.4h-9.4zM1369.3 285.4l4.7 8.4h-9.4zM1365.0 311.4l4.7 8.4h-9.4zM1398.6 303.7l4.7 8.4h-9.4zM1344.7 306.3l4.7 8.4h-9.4zM1387.7 285.6l4.7 8.4h-9.4zM1395.4 280.5l4.7 8.4h-9.4zM1381.9 310.7l4.7 8.4h-9.4zM1402.0 288.7l4.7 8.4h-9.4zM1355.9 296.0l4.7 8.4h-9.4zM1353.7 303.0l4.7 8.4h-9.4zM1375.1 298.2l4.7 8.4h-9.4zM1346.8 330.1l4.7 8.4h-9.4zM1338.9 333.4l4.7 8.4h-9.4zM1352.3 325.7l4.7 8.4h-9.4zM1386.2 327.3l4.7 8.4h-9.4zM1388.7 281.7l4.7 8.4h-9.4zM1388.0 325.8l4.7 8.4h-9.4zM1390.0 303.7l4.7 8.4h-9.4zM1337.4 287.9l4.7 8.4h-9.4zM1351.5 323.4l4.7 8.4h-9.4zM1345.0 314.7l4.7 8.4h-9.4zM1387.4 308.0l4.7 8.4h-9.4zM1385.8 320.4l4.7 8.4h-9.4zM1385.4 283.0l4.7 8.4h-9.4zM1381.0 311.4l4.7 8.4h-9.4zM1392.3 290.8l4.7 8.4h-9.4zM1344.2 289.3l4.7 8.4h-9.4zM1366.0 294.1l4.7 8.4h-9.4zM1388.8 307.5l4.7 8.4h-9.4zM1360.7 304.3l4.7 8.4h-9.4zM1340.4 293.3l4.7 8.4h-9.4zM1397.2 284.4l4.7 8.4h-9.4zM1372.1 313.5l4.7 8.4h-9.4zM1387.3 289.5l4.7 8.4h-9.4zM1362.0 293.4l4.7 8.4h-9.4zM1342.2 305.2l4.7 8.4h-9.4zM1371.7 301.1l4.7 8.4h-9.4zM1361.7 315.4l4.7 8.4h-9.4zM1336.1 328.0l4.7 8.4h-9.4zM1335.3 306.2l4.7 8.4h-9.4zM1384.7 283.2l4.7 8.4h-9.4zM1344.5 287.8l4.7 8.4h-9.4zM1343.8 315.7l4.7 8.4h-9.4zM1386.8 327.0l4.7 8.4h-9.4zM1371.7 329.0l4.7 8.4h-9.4zM1363.6 313.4l4.7 8.4h-9.4zM1402.0 276.9l4.7 8.4h-9.4zM1398.7 288.5l4.7 8.4h-9.4zM1365.2 333.9l4.7 8.4h-9.4zM1365.0 333.1l4.7 8.4h-9.4zM1381.7 290.5l4.7 8.4h-9.4zM1403.3 276.5l4.7 8.4h-9.4zM1383.0 298.6l4.7 8.4h-9.4zM1402.4 284.1l4.7 8.4h-9.4zM1347.0 299.5l4.7 8.4h-9.4zM1384.6 302.0l4.7 8.4h-9.4zM1377.2 329.0l4.7 8.4h-9.4zM1384.7 322.5l4.7 8.4h-9.4zM1353.4 291.1l4.7 8.4h-9.4zM1370.2 294.2l4.7 8.4h-9.4zM1387.9 306.7l4.7 8.4h-9.4zM1376.4 294.7l4.7 8.4h-9.4zM1362.2 329.2l4.7 8.4h-9.4zM1379.2 299.8l4.7 8.4h-9.4zM1373.1 310.6l4.7 8.4h-9.4zM1394.3 305.0l4.7 8.4h-9.4zM1341.3 291.2l4.7 8.4h-9.4zM1349.6 328.3l4.7 8.4h-9.4zM1360.8 286.8l4.7 8.4h-9.4zM1379.7 305.4l4.7 8.4h-9.4zM1350.3 290.4l4.7 8.4h-9.4zM1384.2 308.4l4.7 8.4h-9.4zM1400.0 284.2l4.7 8.4h-9.4zM1359.8 330.0l4.7 8.4h-9.4zM1385.6 293.3l4.7 8.4h-9.4zM1610.5 174.0l4.7 8.4h-9.4zM1526.8 223.8l4.7 8.4h-9.4zM1699.1 136.7l4.7 8.4h-9.4zM1589.6 189.7l4.7 8.4h-9.4zM1700.7 131.7l4.7 8.4h-9.4zM1447.7 251.2l4.7 8.4h-9.4zM1796.1 92.2l4.7 8.4h-9.4zM1557.5 195.3l4.7 8.4h-9.4zM1462.3 239.7l4.7 8.4h-9.4zM1719.1 119.5l4.7 8.4h-9.4zM1561.0 203.6l4.7 8.4h-9.4zM1615.2 167.7l4.7 8.4h-9.4zM1438.0 260.8l4.7 8.4h-9.4zM1604.0 168.7l4.7 8.4h-9.4zM1780.6 95.2l4.7 8.4h-9.4zM1622.5 174.4l4.7 8.4h-9.4zM1564.7 202.5l4.7 8.4h-9.4zM1681.5 137.1l4.7 8.4h-9.4zM1588.6 193.9l4.7 8.4h-9.4zM1650.1 143.7l4.7 8.4h-9.4zM1748.4 101.8l4.7 8.4h-9.4zM1525.8 212.1l4.7 8.4h-9.4zM1487.4 236.4l4.7 8.4h-9.4zM1654.4 153.3l4.7 8.4h-9.4zM1598.9 172.5l4.7 8.4h-9.4zM1684.2 146.3l4.7 8.4h-9.4zM1425.5 270.0l4.7 8.4h-9.4zM1729.8 126.4l4.7 8.4h-9.4zM1718.1 132.5l4.7 8.4h-9.4zM1662.1 159.9l4.7 8.4h-9.4zM1702.6 122.3l4.7 8.4h-9.4zM1693.5 136.0l4.7 8.4h-9.4zM1619.5 160.1l4.7 8.4h-9.4zM1785.0 98.3l4.7 8.4h-9.4zM1721.8 112.2l4.7 8.4h-9.4zM1473.3 229.6l4.7 8.4h-9.4zM1558.2 186.2l4.7 8.4h-9.4zM1705.5 124.6l4.7 8.4h-9.4zM1805.8 81.9l4.7 8.4h-9.4zM1564.8 199.4l4.7 8.4h-9.4zM1607.1 177.8l4.7 8.4h-9.4zM1746.9 107.6l4.7 8.4h-9.4zM1473.9 225.6l4.7 8.4h-9.4zM1799.9 89.0l4.7 8.4h-9.4zM1613.8 159.4l4.7 8.4h-9.4zM1608.6 168.4l4.7 8.4h-9.4zM1471.3 244.6l4.7 8.4h-9.4zM1678.7 144.1l4.7 8.4h-9.4zM1740.4 119.1l4.7 8.4h-9.4zM1747.3 94.7l4.7 8.4h-9.4zM1616.3 172.8l4.7 8.4h-9.4zM1763.6 99.1l4.7 8.4h-9.4zM1586.4 175.2l4.7 8.4h-9.4zM1496.0 237.4l4.7 8.4h-9.4zM1412.0 281.9l4.7 8.4h-9.4zM1797.9 82.5l4.7 8.4h-9.4zM1479.0 229.2l4.7 8.4h-9.4zM1733.4 119.8l4.7 8.4h-9.4zM1775.1 96.7l4.7 8.4h-9.4zM1614.8 168.9l4.7 8.4h-9.4zM1629.8 167.2l4.7 8.4h-9.4zM1522.9 225.5l4.7 8.4h-9.4zM1480.0 248.2l4.7 8.4h-9.4zM1594.2 165.6l4.7 8.4h-9.4zM1445.9 258.2l4.7 8.4h-9.4zM1771.3 87.2l4.7 8.4h-9.4zM1414.4 269.0l4.7 8.4h-9.4zM1722.1 110.8l4.7 8.4h-9.4zM1566.2 180.9l4.7 8.4h-9.4zM1405.8 268.3l4.7 8.4h-9.4zM1546.4 202.6l4.7 8.4h-9.4zM1689.0 139.2l4.7 8.4h-9.4zM1769.3 98.2l4.7 8.4h-9.4zM1662.5 156.4l4.7 8.4h-9.4zM1531.9 222.4l4.7 8.4h-9.4zM1457.6 258.3l4.7 8.4h-9.4zM1594.7 170.9l4.7 8.4h-9.4zM1548.0 199.7l4.7 8.4h-9.4zM1471.1 227.8l4.7 8.4h-9.4zM1511.1 234.1l4.7 8.4h-9.4zM1711.4 120.3l4.7 8.4h-9.4zM1688.2 129.1l4.7 8.4h-9.4zM1456.4 246.3l4.7 8.4h-9.4zM1545.2 213.4l4.7 8.4h-9.4zM1443.2 262.6l4.7 8.4h-9.4zM1444.1 267.0l4.7 8.4h-9.4zM1707.0 137.8l4.7 8.4h-9.4zM1668.2 138.9l4.7 8.4h-9.4zM1785.1 100.9l4.7 8.4h-9.4zM1686.5 142.4l4.7 8.4h-9.4zM1681.6 138.2l4.7 8.4h-9.4zM1516.6 211.9l4.7 8.4h-9.4zM1635.3 154.3l4.7 8.4h-9.4zM1659.1 147.9l4.7 8.4h-9.4zM1433.7 270.6l4.7 8.4h-9.4zM1654.9 155.3l4.7 8.4h-9.4zM1692.7 144.2l4.7 8.4h-9.4zM1626.2 158.9l4.7 8.4h-9.4zM1800.4 83.1l4.7 8.4h-9.4zM1600.8 179.6l4.7 8.4h-9.4zM1491.2 224.7l4.7 8.4h-9.4zM1799.5 98.4l4.7 8.4h-9.4zM1478.2 243.4l4.7 8.4h-9.4zM1783.9 94.5l4.7 8.4h-9.4zM1749.9 95.6l4.7 8.4h-9.4zM1528.6 199.5l4.7 8.4h-9.4zM1604.1 179.5l4.7 8.4h-9.4zM1533.2 202.2l4.7 8.4h-9.4zM1683.3 147.4l4.7 8.4h-9.4zM1744.7 105.9l4.7 8.4h-9.4zM1429.0 263.3l4.7 8.4h-9.4zM1455.1 257.0l4.7 8.4h-9.4zM1447.8 263.0l4.7 8.4h-9.4zM1438.9 254.1l4.7 8.4h-9.4zM1646.7 158.1l4.7 8.4h-9.4zM1549.7 182.5l4.7 8.4h-9.4zM1559.6 194.9l4.7 8.4h-9.4zM1578.8 196.6l4.7 8.4h-9.4zM1658.3 151.8l4.7 8.4h-9.4zM1417.6 260.8l4.7 8.4h-9.4zM1515.5 229.6l4.7 8.4h-9.4zM1775.5 93.5l4.7 8.4h-9.4zM1506.6 216.6l4.7 8.4h-9.4zM1624.3 166.7l4.7 8.4h-9.4zM1516.8 225.1l4.7 8.4h-9.4zM1575.6 176.4l4.7 8.4h-9.4zM1458.9 251.7l4.7 8.4h-9.4zM1700.6 140.5l4.7 8.4h-9.4zM1550.8 189.7l4.7 8.4h-9.4zM1753.9 97.0l4.7 8.4h-9.4zM1558.5 196.6l4.7 8.4h-9.4zM1458.5 242.2l4.7 8.4h-9.4zM1442.0 268.5l4.7 8.4h-9.4zM1647.0 164.5l4.7 8.4h-9.4zM1514.2 225.1l4.7 8.4h-9.4zM1632.1 160.7l4.7 8.4h-9.4zM1670.0 140.2l4.7 8.4h-9.4zM1658.5 155.7l4.7 8.4h-9.4zM1431.7 256.7l4.7 8.4h-9.4zM1528.0 205.6l4.7 8.4h-9.4zM1777.5 83.9l4.7 8.4h-9.4zM1594.6 182.4l4.7 8.4h-9.4zM1803.7 89.3l4.7 8.4h-9.4zM1444.1 257.9l4.7 8.4h-9.4zM1600.0 163.7l4.7 8.4h-9.4zM1427.3 262.6l4.7 8.4h-9.4zM1604.9 187.9l4.7 8.4h-9.4zM1444.8 243.5l4.7 8.4h-9.4zM1495.7 233.6l4.7 8.4h-9.4zM1695.3 125.2l4.7 8.4h-9.4zM1492.8 241.3l4.7 8.4h-9.4zM1420.8 272.4l4.7 8.4h-9.4zM1708.0 120.9l4.7 8.4h-9.4zM1774.7 100.5l4.7 8.4h-9.4zM1680.9 130.0l4.7 8.4h-9.4zM1520.6 214.8l4.7 8.4h-9.4zM1696.2 141.1l4.7 8.4h-9.4zM1416.4 273.9l4.7 8.4h-9.4zM1752.0 104.9l4.7 8.4h-9.4zM1765.4 107.3l4.7 8.4h-9.4zM1409.3 290.9l4.7 8.4h-9.4zM1535.0 206.0l4.7 8.4h-9.4zM1438.3 256.3l4.7 8.4h-9.4zM1442.0 243.5l4.7 8.4h-9.4zM1428.3 261.4l4.7 8.4h-9.4zM1750.5 104.0l4.7 8.4h-9.4zM1602.4 169.2l4.7 8.4h-9.4zM1575.3 175.6l4.7 8.4h-9.4zM1505.4 231.7l4.7 8.4h-9.4zM1485.0 220.1l4.7 8.4h-9.4zM1352.0 237.3l4.7 8.4h-9.4zM1811.0 57.8l4.7 8.4h-9.4z" fill="#f3f3fb" stroke="none"/>
<path d="M1137.7 469.7l4.7 -8.4h-9.4zM1133.6 458.1l4.7 -8.4h-9.4zM1139.0 472.7l4.7 -8.4h-9.4zM1138.3 465.5l4.7 -8.4h-9.4zM1133.8 455.3l4.7 -8.4h-9.4zM1144.6 464.5l4.7 -8.4h-9.4zM1145.0 461.8l4.7 -8.4h-9.4zM1140.8 456.0l4.7 -8.4h-9.4zM1136.0 452.4l4.7 -8.4h-9.4zM1135.0 462.0l4.7 -8.4h-9.4zM1142.7 468.9l4.7 -8.4h-9.4zM1143.6 470.8l4.7 -8.4h-9.4zM1145.3 451.4l4.7 -8.4h-9.4zM1148.0 463.1l4.7 -8.4h-9.4zM1139.8 453.3l4.7 -8.4h-9.4zM1134.8 452.8l4.7 -8.4h-9.4zM1133.7 470.1l4.7 -8.4h-9.4zM1138.7 469.9l4.7 -8.4h-9.4zM1277.9 378.7l4.7 -8.4h-9.4zM1444.8 312.6l4.7 -8.4h-9.4zM1241.6 407.5l4.7 -8.4h-9.4zM1465.6 303.6l4.7 -8.4h-9.4zM1144.6 468.6l4.7 -8.4h-9.4zM1225.3 417.7l4.7 -8.4h-9.4zM1194.8 431.4l4.7 -8.4h-9.4zM1274.0 388.6l4.7 -8.4h-9.4zM1400.4 332.6l4.7 -8.4h-9.4zM1421.9 322.5l4.7 -8.4h-9.4zM1349.3 342.9l4.7 -8.4h-9.4zM1405.0 325.4l4.7 -8.4h-9.4zM1409.6 317.8l4.7 -8.4h-9.4zM1464.9 304.8l4.7 -8.4h-9.4zM1203.4 432.1l4.7 -8.4h-9.4zM1324.6 355.2l4.7 -8.4h-9.4zM1411.6 323.2l4.7 -8.4h-9.4zM1366.1 345.7l4.7 -8.4h-9.4zM1188.2 423.2l4.7 -8.4h-9.4zM1234.5 400.7l4.7 -8.4h-9.4zM1181.1 426.5l4.7 -8.4h-9.4zM1302.0 374.0l4.7 -8.4h-9.4zM1403.5 322.5l4.7 -8.4h-9.4zM1436.0 309.7l4.7 -8.4h-9.4zM1335.6 336.5l4.7 -8.4h-9.4zM1245.2 394.3l4.7 -8.4h-9.4zM1164.2 443.3l4.7 -8.4h-9.4zM1341.7 334.6l4.7 -8.4h-9.4zM1229.4 414.2l4.7 -8.4h-9.4zM1273.6 387.8l4.7 -8.4h-9.4zM1189.7 425.5l4.7 -8.4h-9.4zM1407.4 327.3l4.7 -8.4h-9.4zM1173.3 443.7l4.7 -8.4h-9.4zM1401.5 330.1l4.7 -8.4h-9.4zM1393.1 334.2l4.7 -8.4h-9.4zM1268.3 389.2l4.7 -8.4h-9.4zM1226.7 410.6l4.7 -8.4h-9.4zM1394.2 335.0l4.7 -8.4h-9.4zM1390.0 332.7l4.7 -8.4h-9.4zM1174.3 449.5l4.7 -8.4h-9.4zM1268.8 395.5l4.7 -8.4h-9.4zM1160.7 450.5l4.7 -8.4h-9.4zM1305.7 374.4l4.7 -8.4h-9.4zM1398.7 325.8l4.7 -8.4h-9.4zM1388.8 328.0l4.7 -8.4h-9.4zM1462.3 291.2l4.7 -8.4h-9.4zM1456.2 308.1l4.7 -8.4h-9.4zM1236.1 408.4l4.7 -8.4h-9.4zM1420.2 319.6l4.7 -8.4h-9.4zM1453.0 301.7l4.7 -8.4h-9.4zM1298.6 379.3l4.7 -8.4h-9.4zM1309.8 362.9l4.7 -8.4h-9.4zM1419.1 306.7l4.7 -8.4h-9.4zM1224.2 415.0l4.7 -8.4h-9.4zM1245.3 404.7l4.7 -8.4h-9.4zM1314.8 368.5l4.7 -8.4h-9.4zM1303.0 355.3l4.7 -8.4h-9.4zM1364.7 327.5l4.7 -8.4h-9.4zM1383.3 327.6l4.7 -8.4h-9.4zM1239.9 392.1l4.7 -8.4h-9.4zM1300.8 370.6l4.7 -8.4h-9.4zM1386.4 337.7l4.7 -8.4h-9.4zM1293.1 375.6l4.7 -8.4h-9.4zM1323.1 340.7l4.7 -8.4h-9.4zM1288.5 378.5l4.7 -8.4h-9.4zM1163.3 438.6l4.7 -8.4h-9.4zM1467.3 300.9l4.7 -8.4h-9.4zM1243.9 391.7l4.7 -8.4h-9.4zM1447.4 306.3l4.7 -8.4h-9.4zM1293.7 374.5l4.7 -8.4h-9.4zM1443.4 295.2l4.7 -8.4h-9.4zM1191.6 422.4l4.7 -8.4h-9.4zM1436.3 298.1l4.7 -8.4h-9.4zM1154.9 461.2l4.7 -8.4h-9.4zM1206.6 412.0l4.7 -8.4h-9.4zM1475.7 298.9l4.7 -8.4h-9.4zM1267.0 395.5l4.7 -8.4h-9.4zM1447.8 293.3l4.7 -8.4h-9.4zM1343.0 352.5l4.7 -8.4h-9.4zM1454.8 306.6l4.7 -8.4h-9.4zM1376.7 339.1l4.7 -8.4h-9.4zM1314.3 368.8l4.7 -8.4h-9.4zM1189.6 431.4l4.7 -8.4h-9.4zM1155.1 457.7l4.7 -8.4h-9.4zM1407.8 322.3l4.7 -8.4h-9.4zM1315.2 369.1l4.7 -8.4h-9.4zM1274.4 386.4l4.7 -8.4h-9.4zM1401.2 315.1l4.7 -8.4h-9.4zM1229.7 404.0l4.7 -8.4h-9.4zM1356.3 336.5l4.7 -8.4h-9.4zM1141.5 453.9l4.7 -8.4h-9.4zM1328.3 351.1l4.7 -8.4h-9.4zM1476.8 303.4l4.7 -8.4h-9.4zM1186.3 441.8l4.7 -8.4h-9.4zM1163.0 436.3l4.7 -8.4h-9.4zM1411.1 326.9l4.7 -8.4h-9.4zM1402.6 333.6l4.7 -8.4h-9.4zM1168.4 445.7l4.7 -8.4h-9.4zM1185.0 425.0l4.7 -8.4h-9.4zM1423.5 306.2l4.7 -8.4h-9.4zM1329.5 355.5l4.7 -8.4h-9.4zM1460.5 299.8l4.7 -8.4h-9.4zM1472.1 286.5l4.7 -8.4h-9.4zM1205.9 428.4l4.7 -8.4h-9.4zM1297.4 378.7l4.7 -8.4h-9.4zM1360.9 348.8l4.7 -8.4h-9.4zM1224.2 421.9l4.7 -8.4h-9.4zM1266.6 384.2l4.7 -8.4h-9.4zM1412.6 312.0l4.7 -8.4h-9.4zM1417.2 306.4l4.7 -8.4h-9.4zM1406.2 320.7l4.7 -8.4h-9.4zM1173.5 436.6l4.7 -8.4h-9.4zM1447.6 301.5l4.7 -8.4h-9.4zM1307.7 348.1l4.7 -8.4h-9.4zM1383.5 321.5l4.7 -8.4h-9.4zM1158.5 449.9l4.7 -8.4h-9.4zM1300.9 360.0l4.7 -8.4h-9.4zM1371.3 327.5l4.7 -8.4h-9.4zM1475.0 302.5l4.7 -8.4h-9.4zM1344.0 340.1l4.7 -8.4h-9.4zM1475.9 296.0l4.7 -8.4h-9.4zM1407.9 317.4l4.7 -8.4h-9.4zM1172.0 441.0l4.7 -8.4h-9.4zM1334.7 340.6l4.7 -8.4h-9.4zM1258.4 382.1l4.7 -8.4h-9.4zM1389.0 317.7l4.7 -8.4h-9.4zM1318.3 351.6l4.7 -8.4h-9.4zM1171.6 431.3l4.7 -8.4h-9.4zM1439.7 304.7l4.7 -8.4h-9.4zM1349.5 345.2l4.7 -8.4h-9.4zM1473.1 302.1l4.7 -8.4h-9.4zM1312.7 371.0l4.7 -8.4h-9.4zM1407.5 332.2l4.7 -8.4h-9.4zM1438.1 311.1l4.7 -8.4h-9.4zM1356.3 334.8l4.7 -8.4h-9.4zM1323.9 347.2l4.7 -8.4h-9.4zM1380.7 332.7l4.7 -8.4h-9.4zM1329.0 351.7l4.7 -8.4h-9.4zM1278.2 370.8l4.7 -8.4h-9.4zM1341.3 345.6l4.7 -8.4h-9.4zM1233.1 404.6l4.7 -8.4h-9.4zM1197.3 426.8l4.7 -8.4h-9.4zM1287.7 363.2l4.7 -8.4h-9.4zM1210.3 423.5l4.7 -8.4h-9.4zM1350.9 346.7l4.7 -8.4h-9.4zM1318.0 367.1l4.7 -8.4h-9.4zM1286.1 385.8l4.7 -8.4h-9.4zM1190.6 421.3l4.7 -8.4h-9.4zM1366.7 332.2l4.7 -8.4h-9.4zM1178.8 443.1l4.7 -8.4h-9.4zM1460.4 305.9l4.7 -8.4h-9.4zM1193.3 427.8l4.7 -8.4h-9.4zM1236.4 405.1l4.7 -8.4h-9.4zM1209.3 433.5l4.7 -8.4h-9.4zM1310.1 358.4l4.7 -8.4h-9.4zM1262.2 385.3l4.7 -8.4h-9.4zM1213.6 412.8l4.7 -8.4h-9.4zM1472.3 304.9l4.7 -8.4h-9.4zM1448.2 303.8l4.7 -8.4h-9.4zM1244.8 393.4l4.7 -8.4h-9.4zM1390.3 329.6l4.7 -8.4h-9.4zM1434.3 314.3l4.7 -8.4h-9.4zM1334.9 358.9l4.7 -8.4h-9.4zM1270.9 379.8l4.7 -8.4h-9.4zM1419.4 316.4l4.7 -8.4h-9.4zM1291.4 374.9l4.7 -8.4h-9.4zM1409.2 319.1l4.7 -8.4h-9.4zM1261.0 393.5l4.7 -8.4h-9.4zM1143.4 467.0l4.7 -8.4h-9.4zM1307.5 368.3l4.7 -8.4h-9.4zM1360.7 348.8l4.7 -8.4h-9.4zM1347.8 354.3l4.7 -8.4h-9.4zM1172.5 431.4l4.7 -8.4h-9.4zM1239.1 397.9l4.7 -8.4h-9.4zM1420.9 322.2l4.7 -8.4h-9.4zM1379.0 332.3l4.7 -8.4h-9.4zM1244.8 392.3l4.7 -8.4h-9.4zM1371.7 339.5l4.7 -8.4h-9.4zM1177.2 432.4l4.7 -8.4h-9.4zM1203.9 414.6l4.7 -8.4h-9.4zM1218.6 416.7l4.7 -8.4h-9.4zM1317.0 367.0l4.7 -8.4h-9.4zM1355.4 329.8l4.7 -8.4h-9.4zM1478.4 300.3l4.7 -8.4h-9.4zM1141.0 457.7l4.7 -8.4h-9.4zM1171.7 434.4l4.7 -8.4h-9.4zM1193.9 424.2l4.7 -8.4h-9.4zM1388.9 327.4l4.7 -8.4h-9.4zM1136.3 469.0l4.7 -8.4h-9.4zM1467.7 296.6l4.7 -8.4h-9.4zM1378.8 332.9l4.7 -8.4h-9.4zM1390.8 333.0l4.7 -8.4h-9.4zM1339.6 346.3l4.7 -8.4h-9.4zM1137.5 471.4l4.7 -8.4h-9.4zM1350.0 340.7l4.7 -8.4h-9.4zM1219.8 418.7l4.7 -8.4h-9.4zM1417.1 324.0l4.7 -8.4h-9.4zM1312.8 349.4l4.7 -8.4h-9.4zM1268.5 392.2l4.7 -8.4h-9.4zM1152.8 454.1l4.7 -8.4h-9.4zM1184.0 434.6l4.7 -8.4h-9.4zM1353.3 344.1l4.7 -8.4h-9.4zM1437.5 316.6l4.7 -8.4h-9.4zM1379.6 326.8l4.7 -8.4h-9.4zM1223.5 402.6l4.7 -8.4h-9.4zM1238.7 407.3l4.7 -8.4h-9.4zM1364.6 330.8l4.7 -8.4h-9.4zM1402.6 317.4l4.7 -8.4h-9.4zM1175.2 442.8l4.7 -8.4h-9.4zM1192.8 440.0l4.7 -8.4h-9.4zM1439.8 306.6l4.7 -8.4h-9.4zM1143.8 452.1l4.7 -8.4h-9.4zM1252.3 383.6l4.7 -8.4h-9.4zM1378.7 332.0l4.7 -8.4h-9.4zM1415.6 325.1l4.7 -8.4h-9.4zM1142.0 463.6l4.7 -8.4h-9.4zM1360.9 346.8l4.7 -8.4h-9.4zM1323.3 361.2l4.7 -8.4h-9.4zM1211.3 415.5l4.7 -8.4h-9.4zM1294.4 381.4l4.7 -8.4h-9.4zM1298.7 375.6l4.7 -8.4h-9.4zM1453.4 295.9l4.7 -8.4h-9.4zM1223.3 420.9l4.7 -8.4h-9.4zM1171.9 435.1l4.7 -8.4h-9.4zM1201.5 432.0l4.7 -8.4h-9.4zM1263.4 394.7l4.7 -8.4h-9.4zM1262.1 387.0l4.7 -8.4h-9.4zM1366.4 348.3l4.7 -8.4h-9.4zM1218.6 416.9l4.7 -8.4h-9.4zM1160.4 449.3l4.7 -8.4h-9.4zM1194.1 432.1l4.7 -8.4h-9.4zM1427.7 313.2l4.7 -8.4h-9.4zM1261.5 384.8l4.7 -8.4h-9.4zM1332.3 350.0l4.7 -8.4h-9.4zM1479.8 299.8l4.7 -8.4h-9.4zM1281.5 385.2l4.7 -8.4h-9.4zM1171.3 443.9l4.7 -8.4h-9.4zM1238.3 392.2l4.7 -8.4h-9.4zM1376.9 336.1l4.7 -8.4h-9.4zM1252.4 404.0l4.7 -8.4h-9.4zM1301.9 356.4l4.7 -8.4h-9.4zM1346.0 343.5l4.7 -8.4h-9.4zM1266.4 392.3l4.7 -8.4h-9.4zM1234.3 395.7l4.7 -8.4h-9.4zM1437.8 296.7l4.7 -8.4h-9.4zM1474.5 303.4l4.7 -8.4h-9.4zM1212.7 428.0l4.7 -8.4h-9.4zM1208.9 411.4l4.7 -8.4h-9.4zM1363.8 348.0l4.7 -8.4h-9.4zM1231.7 416.1l4.7 -8.4h-9.4zM1585.7 211.7l4.7 -8.4h-9.4zM1644.6 202.0l4.7 -8.4h-9.4zM1552.5 221.7l4.7 -8.4h-9.4zM1612.9 210.6l4.7 -8.4h-9.4zM1683.3 187.8l4.7 -8.4h-9.4zM1667.0 187.7l4.7 -8.4h-9.4zM1536.5 229.6l4.7 -8.4h-9.4zM1481.4 293.6l4.7 -8.4h-9.4zM1513.9 251.9l4.7 -8.4h-9.4zM1512.0 249.4l4.7 -8.4h-9.4zM1644.4 193.5l4.7 -8.4h-9.4zM1619.8 212.3l4.7 -8.4h-9.4zM1542.1 230.2l4.7 -8.4h-9.4zM1507.5 256.5l4.7 -8.4h-9.4zM1630.1 194.8l4.7 -8.4h-9.4zM1691.4 179.4l4.7 -8.4h-9.4zM1667.9 192.4l4.7 -8.4h-9.4zM1495.3 275.5l4.7 -8.4h-9.4zM1586.0 207.1l4.7 -8.4h-9.4zM1534.0 233.3l4.7 -8.4h-9.4zM1581.4 208.4l4.7 -8.4h-9.4zM1609.6 208.5l4.7 -8.4h-9.4zM1597.5 202.2l4.7 -8.4h-9.4zM1674.9 182.9l4.7 -8.4h-9.4zM1566.2 208.7l4.7 -8.4h-9.4zM1539.7 232.3l4.7 -8.4h-9.4zM1571.0 221.5l4.7 -8.4h-9.4zM1580.0 210.3l4.7 -8.4h-9.4zM1659.4 193.4l4.7 -8.4h-9.4zM1686.4 189.4l4.7 -8.4h-9.4zM1602.7 215.4l4.7 -8.4h-9.4zM1510.8 252.3l4.7 -8.4h-9.4zM1481.2 296.8l4.7 -8.4h-9.4zM1650.1 188.4l4.7 -8.4h-9.4zM1641.3 193.8l4.7 -8.4h-9.4zM1661.4 181.7l4.7 -8.4h-9.4zM1540.1 227.1l4.7 -8.4h-9.4zM1579.4 217.8l4.7 -8.4h-9.4zM1588.2 217.5l4.7 -8.4h-9.4zM1495.1 280.0l4.7 -8.4h-9.4zM1494.5 270.9l4.7 -8.4h-9.4zM1569.8 220.6l4.7 -8.4h-9.4zM1624.6 207.6l4.7 -8.4h-9.4zM1518.5 257.1l4.7 -8.4h-9.4zM1673.8 185.7l4.7 -8.4h-9.4zM1653.2 192.1l4.7 -8.4h-9.4zM1655.2 189.1l4.7 -8.4h-9.4zM1603.2 205.0l4.7 -8.4h-9.4zM1621.3 205.3l4.7 -8.4h-9.4zM1646.6 203.4l4.7 -8.4h-9.4zM1669.8 187.2l4.7 -8.4h-9.4zM1630.5 195.4l4.7 -8.4h-9.4zM1482.7 286.3l4.7 -8.4h-9.4zM1602.0 206.8l4.7 -8.4h-9.4zM1555.4 214.3l4.7 -8.4h-9.4zM1570.7 171.7l4.7 -8.4h-9.4zM1705.6 98.4l4.7 -8.4h-9.4zM1641.4 119.2l4.7 -8.4h-9.4zM1447.3 267.1l4.7 -8.4h-9.4zM1469.8 243.1l4.7 -8.4h-9.4zM1572.4 170.7l4.7 -8.4h-9.4zM1587.4 159.1l4.7 -8.4h-9.4zM1448.2 256.9l4.7 -8.4h-9.4zM1579.4 172.5l4.7 -8.4h-9.4zM1635.9 112.6l4.7 -8.4h-9.4zM1684.7 80.3l4.7 -8.4h-9.4zM1626.2 116.5l4.7 -8.4h-9.4zM1675.7 86.6l4.7 -8.4h-9.4zM1543.1 209.9l4.7 -8.4h-9.4zM1688.2 84.7l4.7 -8.4h-9.4zM1619.3 128.9l4.7 -8.4h-9.4zM1478.0 247.9l4.7 -8.4h-9.4zM1635.9 116.5l4.7 -8.4h-9.4zM1671.1 87.4l4.7 -8.4h-9.4zM1697.3 89.3l4.7 -8.4h-9.4zM1575.8 172.6l4.7 -8.4h-9.4zM1452.9 255.6l4.7 -8.4h-9.4zM1506.2 221.5l4.7 -8.4h-9.4zM1466.6 253.7l4.7 -8.4h-9.4zM1466.1 245.2l4.7 -8.4h-9.4zM1609.0 134.6l4.7 -8.4h-9.4zM1610.1 132.3l4.7 -8.4h-9.4zM1627.6 122.5l4.7 -8.4h-9.4zM1657.5 96.8l4.7 -8.4h-9.4zM1489.0 233.7l4.7 -8.4h-9.4zM1654.2 97.3l4.7 -8.4h-9.4zM1689.7 84.1l4.7 -8.4h-9.4zM1663.1 85.0l4.7 -8.4h-9.4zM1631.2 111.9l4.7 -8.4h-9.4zM1499.7 225.6l4.7 -8.4h-9.4zM1691.0 85.1l4.7 -8.4h-9.4zM1581.3 166.1l4.7 -8.4h-9.4zM1607.9 142.8l4.7 -8.4h-9.4zM1536.8 211.4l4.7 -8.4h-9.4zM1693.2 79.5l4.7 -8.4h-9.4zM1442.6 272.5l4.7 -8.4h-9.4zM1694.9 83.4l4.7 -8.4h-9.4zM1626.3 113.6l4.7 -8.4h-9.4zM1451.8 248.7l4.7 -8.4h-9.4zM1454.6 254.8l4.7 -8.4h-9.4zM1440.2 270.3l4.7 -8.4h-9.4zM1564.0 179.0l4.7 -8.4h-9.4zM1646.5 111.6l4.7 -8.4h-9.4zM1640.6 106.6l4.7 -8.4h-9.4zM1588.4 164.1l4.7 -8.4h-9.4zM1590.0 161.0l4.7 -8.4h-9.4zM1453.2 252.6l4.7 -8.4h-9.4zM1645.5 112.2l4.7 -8.4h-9.4zM1532.2 211.8l4.7 -8.4h-9.4zM1542.4 211.5l4.7 -8.4h-9.4zM1667.9 87.9l4.7 -8.4h-9.4zM1521.4 223.2l4.7 -8.4h-9.4zM1507.0 234.8l4.7 -8.4h-9.4zM1559.2 184.2l4.7 -8.4h-9.4zM1676.0 82.9l4.7 -8.4h-9.4zM1516.3 219.8l4.7 -8.4h-9.4zM1511.1 230.4l4.7 -8.4h-9.4zM1709.0 95.8l4.7 -8.4h-9.4zM1466.0 248.3l4.7 -8.4h-9.4zM1491.2 239.5l4.7 -8.4h-9.4zM1449.8 253.7l4.7 -8.4h-9.4zM1673.5 87.2l4.7 -8.4h-9.4zM1446.1 257.9l4.7 -8.4h-9.4zM1452.3 250.7l4.7 -8.4h-9.4zM1529.1 218.6l4.7 -8.4h-9.4z" fill="#fcf1fc" stroke="none"/>
<path d="M1421.6 123.7l5.2 5.2l-5.2 5.2l-5.2 -5.2zM1459.3 121.2l5.2 5.2l-5.2 5.2l-5.2 -5.2zM1480.8 129.2l5.2 5.2l-5.2 5.2l-5.2 -5.2zM1495.9 138.3l5.2 5.2l-5.2 5.2l-5.2 -5.2zM1524.8 120.4l5.2 5.2l-5.2 5.2l-5.2 -5.2zM1530.6 131.8l5.2 5.2l-5.2 5.2l-5.2 -5.2zM1417.3 137.0l5.2 5.2l-5.2 5.2l-5.2 -5.2zM1416.5 152.7l5.2 5.2l-5.2 5.2l-5.2 -5.2zM1412.2 158.2l5.2 5.2l-5.2 5.2l-5.2 -5.2zM1415.3 163.2l5.2 5.2l-5.2 5.2l-5.2 -5.2zM1448.5 164.8l5.2 5.2l-5.2 5.2l-5.2 -5.2zM1455.0 160.2l5.2 5.2l-5.2 5.2l-5.2 -5.2zM1478.7 167.8l5.2 5.2l-5.2 5.2l-5.2 -5.2zM1527.9 164.0l5.2 5.2l-5.2 5.2l-5.2 -5.2zM1409.7 184.9l5.2 5.2l-5.2 5.2l-5.2 -5.2zM1423.3 180.4l5.2 5.2l-5.2 5.2l-5.2 -5.2zM1438.4 187.4l5.2 5.2l-5.2 5.2l-5.2 -5.2zM1443.5 200.5l5.2 5.2l-5.2 5.2l-5.2 -5.2zM1465.6 198.0l5.2 5.2l-5.2 5.2l-5.2 -5.2zM1485.8 195.5l5.2 5.2l-5.2 5.2l-5.2 -5.2zM1429.9 210.6l5.2 5.2l-5.2 5.2l-5.2 -5.2zM1435.4 210.1l5.2 5.2l-5.2 5.2l-5.2 -5.2zM1418.3 217.6l5.2 5.2l-5.2 5.2l-5.2 -5.2zM1463.1 221.4l5.2 5.2l-5.2 5.2l-5.2 -5.2zM1447.5 233.3l5.2 5.2l-5.2 5.2l-5.2 -5.2zM1461.1 235.3l5.2 5.2l-5.2 5.2l-5.2 -5.2zM1476.5 230.8l5.2 5.2l-5.2 5.2l-5.2 -5.2zM1419.0 244.1l5.2 5.2l-5.2 5.2l-5.2 -5.2zM1483.3 245.9l5.2 5.2l-5.2 5.2l-5.2 -5.2zM1474.5 253.4l5.2 5.2l-5.2 5.2l-5.2 -5.2zM1473.2 272.3l5.2 5.2l-5.2 5.2l-5.2 -5.2zM1440.5 278.6l5.2 5.2l-5.2 5.2l-5.2 -5.2zM1425.3 278.6l5.2 5.2l-5.2 5.2l-5.2 -5.2zM1407.7 312.3l5.2 5.2l-5.2 5.2l-5.2 -5.2zM1431.0 300.6l5.2 5.2l-5.2 5.2l-5.2 -5.2zM1417.5 217.3l5.2 5.2l-5.2 5.2l-5.2 -5.2zM1429.0 210.5l5.2 5.2l-5.2 5.2l-5.2 -5.2zM1435.0 210.5l5.2 5.2l-5.2 5.2l-5.2 -5.2zM1444.0 200.8l5.2 5.2l-5.2 5.2l-5.2 -5.2zM1465.5 197.8l5.2 5.2l-5.2 5.2l-5.2 -5.2zM1462.6 221.2l5.2 5.2l-5.2 5.2l-5.2 -5.2zM1448.0 232.8l5.2 5.2l-5.2 5.2l-5.2 -5.2zM1460.6 234.8l5.2 5.2l-5.2 5.2l-5.2 -5.2zM1418.5 244.8l5.2 5.2l-5.2 5.2l-5.2 -5.2zM1409.7 267.3l5.2 5.2l-5.2 5.2l-5.2 -5.2zM1423.4 277.8l5.2 5.2l-5.2 5.2l-5.2 -5.2zM1435.0 253.6l5.2 5.2l-5.2 5.2l-5.2 -5.2zM1445.0 252.6l5.2 5.2l-5.2 5.2l-5.2 -5.2zM1452.8 252.6l5.2 5.2l-5.2 5.2l-5.2 -5.2zM1440.0 279.8l5.2 5.2l-5.2 5.2l-5.2 -5.2zM1468.4 292.8l5.2 5.2l-5.2 5.2l-5.2 -5.2zM1470.4 272.8l5.2 5.2l-5.2 5.2l-5.2 -5.2zM1481.0 128.8l5.2 5.2l-5.2 5.2l-5.2 -5.2zM1485.4 194.6l5.2 5.2l-5.2 5.2l-5.2 -5.2zM1617.9 306.4l5.2 5.2l-5.2 5.2l-5.2 -5.2zM1731.2 239.6l5.2 5.2l-5.2 5.2l-5.2 -5.2zM1694.5 258.1l5.2 5.2l-5.2 5.2l-5.2 -5.2zM1512.3 365.1l5.2 5.2l-5.2 5.2l-5.2 -5.2zM1689.2 279.2l5.2 5.2l-5.2 5.2l-5.2 -5.2zM1572.7 331.5l5.2 5.2l-5.2 5.2l-5.2 -5.2zM1546.0 352.3l5.2 5.2l-5.2 5.2l-5.2 -5.2zM1743.7 233.4l5.2 5.2l-5.2 5.2l-5.2 -5.2zM1708.7 256.3l5.2 5.2l-5.2 5.2l-5.2 -5.2zM1493.3 378.7l5.2 5.2l-5.2 5.2l-5.2 -5.2zM1506.1 367.9l5.2 5.2l-5.2 5.2l-5.2 -5.2zM1509.1 361.0l5.2 5.2l-5.2 5.2l-5.2 -5.2zM1468.0 394.8l5.2 5.2l-5.2 5.2l-5.2 -5.2zM1737.3 247.3l5.2 5.2l-5.2 5.2l-5.2 -5.2zM1681.0 277.2l5.2 5.2l-5.2 5.2l-5.2 -5.2zM1625.7 312.5l5.2 5.2l-5.2 5.2l-5.2 -5.2zM1584.0 324.0l5.2 5.2l-5.2 5.2l-5.2 -5.2zM1518.8 357.1l5.2 5.2l-5.2 5.2l-5.2 -5.2zM1663.8 293.4l5.2 5.2l-5.2 5.2l-5.2 -5.2zM1596.3 323.8l5.2 5.2l-5.2 5.2l-5.2 -5.2zM1551.0 346.6l5.2 5.2l-5.2 5.2l-5.2 -5.2zM1690.3 271.1l5.2 5.2l-5.2 5.2l-5.2 -5.2zM1511.1 371.2l5.2 5.2l-5.2 5.2l-5.2 -5.2zM1417.0 408.0l5.2 5.2l-5.2 5.2l-5.2 -5.2zM1404.3 411.8l5.2 5.2l-5.2 5.2l-5.2 -5.2zM1659.1 292.4l5.2 5.2l-5.2 5.2l-5.2 -5.2zM1533.1 349.9l5.2 5.2l-5.2 5.2l-5.2 -5.2zM1656.3 294.9l5.2 5.2l-5.2 5.2l-5.2 -5.2zM1414.9 416.5l5.2 5.2l-5.2 5.2l-5.2 -5.2zM1598.1 323.5l5.2 5.2l-5.2 5.2l-5.2 -5.2zM1621.5 306.8l5.2 5.2l-5.2 5.2l-5.2 -5.2zM1635.8 296.8l5.2 5.2l-5.2 5.2l-5.2 -5.2zM1692.2 278.7l5.2 5.2l-5.2 5.2l-5.2 -5.2zM1664.6 283.7l5.2 5.2l-5.2 5.2l-5.2 -5.2zM1745.2 245.9l5.2 5.2l-5.2 5.2l-5.2 -5.2zM1745.5 240.6l5.2 5.2l-5.2 5.2l-5.2 -5.2zM1544.0 344.4l5.2 5.2l-5.2 5.2l-5.2 -5.2zM1805.7 204.6l5.2 5.2l-5.2 5.2l-5.2 -5.2zM1512.6 367.6l5.2 5.2l-5.2 5.2l-5.2 -5.2zM1530.8 363.3l5.2 5.2l-5.2 5.2l-5.2 -5.2zM1653.6 285.8l5.2 5.2l-5.2 5.2l-5.2 -5.2zM1689.9 273.1l5.2 5.2l-5.2 5.2l-5.2 -5.2zM1431.7 407.1l5.2 5.2l-5.2 5.2l-5.2 -5.2zM1726.0 239.8l5.2 5.2l-5.2 5.2l-5.2 -5.2zM1817.1 208.0l5.2 5.2l-5.2 5.2l-5.2 -5.2zM1570.1 346.5l5.2 5.2l-5.2 5.2l-5.2 -5.2zM1796.5 202.8l5.2 5.2l-5.2 5.2l-5.2 -5.2zM1410.5 416.4l5.2 5.2l-5.2 5.2l-5.2 -5.2zM1507.6 367.0l5.2 5.2l-5.2 5.2l-5.2 -5.2zM1506.4 363.0l5.2 5.2l-5.2 5.2l-5.2 -5.2zM1451.3 392.2l5.2 5.2l-5.2 5.2l-5.2 -5.2zM1587.6 324.3l5.2 5.2l-5.2 5.2l-5.2 -5.2zM1413.1 420.1l5.2 5.2l-5.2 5.2l-5.2 -5.2zM1609.6 327.4l5.2 5.2l-5.2 5.2l-5.2 -5.2zM1627.8 311.8l5.2 5.2l-5.2 5.2l-5.2 -5.2zM1568.7 331.2l5.2 5.2l-5.2 5.2l-5.2 -5.2zM1811.9 200.2l5.2 5.2l-5.2 5.2l-5.2 -5.2zM1466.5 388.4l5.2 5.2l-5.2 5.2l-5.2 -5.2zM1747.1 233.7l5.2 5.2l-5.2 5.2l-5.2 -5.2zM1526.7 348.2l5.2 5.2l-5.2 5.2l-5.2 -5.2zM1820.6 208.4l5.2 5.2l-5.2 5.2l-5.2 -5.2zM1698.7 266.9l5.2 5.2l-5.2 5.2l-5.2 -5.2zM1457.2 401.6l5.2 5.2l-5.2 5.2l-5.2 -5.2zM1628.3 311.0l5.2 5.2l-5.2 5.2l-5.2 -5.2zM1514.4 356.3l5.2 5.2l-5.2 5.2l-5.2 -5.2zM1542.8 342.1l5.2 5.2l-5.2 5.2l-5.2 -5.2zM1660.5 287.5l5.2 5.2l-5.2 5.2l-5.2 -5.2zM1463.7 395.6l5.2 5.2l-5.2 5.2l-5.2 -5.2zM1756.7 235.1l5.2 5.2l-5.2 5.2l-5.2 -5.2zM1545.6 354.5l5.2 5.2l-5.2 5.2l-5.2 -5.2zM1754.3 228.1l5.2 5.2l-5.2 5.2l-5.2 -5.2zM1703.7 256.1l5.2 5.2l-5.2 5.2l-5.2 -5.2zM1582.5 338.1l5.2 5.2l-5.2 5.2l-5.2 -5.2zM1780.1 219.1l5.2 5.2l-5.2 5.2l-5.2 -5.2zM1462.6 391.0l5.2 5.2l-5.2 5.2l-5.2 -5.2zM1451.9 404.8l5.2 5.2l-5.2 5.2l-5.2 -5.2zM1737.0 251.7l5.2 5.2l-5.2 5.2l-5.2 -5.2zM1569.9 338.4l5.2 5.2l-5.2 5.2l-5.2 -5.2zM1421.5 400.0l5.2 5.2l-5.2 5.2l-5.2 -5.2zM1442.4 392.9l5.2 5.2l-5.2 5.2l-5.2 -5.2zM1685.7 272.9l5.2 5.2l-5.2 5.2l-5.2 -5.2zM1625.8 305.8l5.2 5.2l-5.2 5.2l-5.2 -5.2zM1400.6 415.4l5.2 5.2l-5.2 5.2l-5.2 -5.2zM1478.1 374.6l5.2 5.2l-5.2 5.2l-5.2 -5.2zM1725.3 246.1l5.2 5.2l-5.2 5.2l-5.2 -5.2zM1715.7 245.9l5.2 5.2l-5.2 5.2l-5.2 -5.2zM1642.7 298.5l5.2 5.2l-5.2 5.2l-5.2 -5.2zM1590.3 323.5l5.2 5.2l-5.2 5.2l-5.2 -5.2zM1647.1 304.8l5.2 5.2l-5.2 5.2l-5.2 -5.2zM1739.1 241.6l5.2 5.2l-5.2 5.2l-5.2 -5.2zM1614.8 323.2l5.2 5.2l-5.2 5.2l-5.2 -5.2zM1763.1 221.6l5.2 5.2l-5.2 5.2l-5.2 -5.2zM1472.8 389.4l5.2 5.2l-5.2 5.2l-5.2 -5.2zM1787.2 217.0l5.2 5.2l-5.2 5.2l-5.2 -5.2zM1496.8 370.6l5.2 5.2l-5.2 5.2l-5.2 -5.2zM1780.0 219.9l5.2 5.2l-5.2 5.2l-5.2 -5.2zM1572.3 330.3l5.2 5.2l-5.2 5.2l-5.2 -5.2zM1502.4 376.5l5.2 5.2l-5.2 5.2l-5.2 -5.2zM1757.3 232.2l5.2 5.2l-5.2 5.2l-5.2 -5.2zM1539.6 347.4l5.2 5.2l-5.2 5.2l-5.2 -5.2zM1728.7 238.0l5.2 5.2l-5.2 5.2l-5.2 -5.2zM1547.8 339.1l5.2 5.2l-5.2 5.2l-5.2 -5.2zM1514.5 357.8l5.2 5.2l-5.2 5.2l-5.2 -5.2zM1565.2 339.6l5.2 5.2l-5.2 5.2l-5.2 -5.2zM1423.2 415.9l5.2 5.2l-5.2 5.2l-5.2 -5.2zM1787.6 215.3l5.2 5.2l-5.2 5.2l-5.2 -5.2zM1458.6 388.3l5.2 5.2l-5.2 5.2l-5.2 -5.2zM1496.6 366.6l5.2 5.2l-5.2 5.2l-5.2 -5.2zM1790.2 221.0l5.2 5.2l-5.2 5.2l-5.2 -5.2zM1797.5 207.5l5.2 5.2l-5.2 5.2l-5.2 -5.2zM1738.9 235.2l5.2 5.2l-5.2 5.2l-5.2 -5.2zM1616.5 308.9l5.2 5.2l-5.2 5.2l-5.2 -5.2zM1625.4 317.0l5.2 5.2l-5.2 5.2l-5.2 -5.2zM1461.9 394.4l5.2 5.2l-5.2 5.2l-5.2 -5.2zM1688.0 269.3l5.2 5.2l-5.2 5.2l-5.2 -5.2zM1666.9 280.8l5.2 5.2l-5.2 5.2l-5.2 -5.2zM1773.9 231.2l5.2 5.2l-5.2 5.2l-5.2 -5.2zM1597.1 326.9l5.2 5.2l-5.2 5.2l-5.2 -5.2zM1589.2 327.1l5.2 5.2l-5.2 5.2l-5.2 -5.2zM1627.6 300.2l5.2 5.2l-5.2 5.2l-5.2 -5.2zM1553.1 346.6l5.2 5.2l-5.2 5.2l-5.2 -5.2zM1507.7 364.1l5.2 5.2l-5.2 5.2l-5.2 -5.2zM1669.2 277.3l5.2 5.2l-5.2 5.2l-5.2 -5.2zM1799.4 201.4l5.2 5.2l-5.2 5.2l-5.2 -5.2zM1586.7 330.9l5.2 5.2l-5.2 5.2l-5.2 -5.2zM1822.4 196.0l5.2 5.2l-5.2 5.2l-5.2 -5.2zM1669.3 281.3l5.2 5.2l-5.2 5.2l-5.2 -5.2zM1520.1 361.6l5.2 5.2l-5.2 5.2l-5.2 -5.2zM1812.8 207.2l5.2 5.2l-5.2 5.2l-5.2 -5.2zM1721.2 244.7l5.2 5.2l-5.2 5.2l-5.2 -5.2zM1790.9 219.9l5.2 5.2l-5.2 5.2l-5.2 -5.2zM1789.7 213.1l5.2 5.2l-5.2 5.2l-5.2 -5.2zM1729.1 254.0l5.2 5.2l-5.2 5.2l-5.2 -5.2zM1796.8 203.8l5.2 5.2l-5.2 5.2l-5.2 -5.2zM1749.0 242.0l5.2 5.2l-5.2 5.2l-5.2 -5.2zM1701.6 260.2l5.2 5.2l-5.2 5.2l-5.2 -5.2zM1504.5 358.9l5.2 5.2l-5.2 5.2l-5.2 -5.2zM1747.5 234.4l5.2 5.2l-5.2 5.2l-5.2 -5.2zM1542.2 343.3l5.2 5.2l-5.2 5.2l-5.2 -5.2zM1410.6 411.1l5.2 5.2l-5.2 5.2l-5.2 -5.2zM1661.4 293.7l5.2 5.2l-5.2 5.2l-5.2 -5.2zM1813.7 209.3l5.2 5.2l-5.2 5.2l-5.2 -5.2zM1641.8 295.0l5.2 5.2l-5.2 5.2l-5.2 -5.2zM1554.9 334.0l5.2 5.2l-5.2 5.2l-5.2 -5.2zM1464.0 399.4l5.2 5.2l-5.2 5.2l-5.2 -5.2zM1561.0 334.6l5.2 5.2l-5.2 5.2l-5.2 -5.2zM1795.6 218.7l5.2 5.2l-5.2 5.2l-5.2 -5.2zM1563.9 340.8l5.2 5.2l-5.2 5.2l-5.2 -5.2zM1678.9 283.6l5.2 5.2l-5.2 5.2l-5.2 -5.2zM1658.1 282.1l5.2 5.2l-5.2 5.2l-5.2 -5.2zM1421.9 417.6l5.2 5.2l-5.2 5.2l-5.2 -5.2zM1414.5 403.2l5.2 5.2l-5.2 5.2l-5.2 -5.2zM1475.5 377.4l5.2 5.2l-5.2 5.2l-5.2 -5.2zM1669.4 279.1l5.2 5.2l-5.2 5.2l-5.2 -5.2zM1546.2 355.0l5.2 5.2l-5.2 5.2l-5.2 -5.2zM1703.6 254.7l5.2 5.2l-5.2 5.2l-5.2 -5.2zM1408.4 419.1l5.2 5.2l-5.2 5.2l-5.2 -5.2zM1669.1 277.6l5.2 5.2l-5.2 5.2l-5.2 -5.2zM1455.9 387.3l5.2 5.2l-5.2 5.2l-5.2 -5.2zM1565.6 331.6l5.2 5.2l-5.2 5.2l-5.2 -5.2zM1517.3 359.9l5.2 5.2l-5.2 5.2l-5.2 -5.2zM1630.7 305.6l5.2 5.2l-5.2 5.2l-5.2 -5.2zM1780.6 221.1l5.2 5.2l-5.2 5.2l-5.2 -5.2zM1457.7 399.1l5.2 5.2l-5.2 5.2l-5.2 -5.2zM1465.7 381.4l5.2 5.2l-5.2 5.2l-5.2 -5.2zM1788.5 220.0l5.2 5.2l-5.2 5.2l-5.2 -5.2zM1485.6 383.1l5.2 5.2l-5.2 5.2l-5.2 -5.2zM1759.6 235.4l5.2 5.2l-5.2 5.2l-5.2 -5.2zM1668.0 290.5l5.2 5.2l-5.2 5.2l-5.2 -5.2zM1467.2 390.7l5.2 5.2l-5.2 5.2l-5.2 -5.2zM1718.9 245.0l5.2 5.2l-5.2 5.2l-5.2 -5.2zM1492.1 383.2l5.2 5.2l-5.2 5.2l-5.2 -5.2zM1732.2 236.4l5.2 5.2l-5.2 5.2l-5.2 -5.2zM1669.9 292.1l5.2 5.2l-5.2 5.2l-5.2 -5.2zM1727.6 245.4l5.2 5.2l-5.2 5.2l-5.2 -5.2zM1609.2 315.4l5.2 5.2l-5.2 5.2l-5.2 -5.2zM1704.2 259.5l5.2 5.2l-5.2 5.2l-5.2 -5.2zM1670.7 282.8l5.2 5.2l-5.2 5.2l-5.2 -5.2zM1398.3 428.1l5.2 5.2l-5.2 5.2l-5.2 -5.2zM1682.3 268.0l5.2 5.2l-5.2 5.2l-5.2 -5.2zM1696.6 273.7l5.2 5.2l-5.2 5.2l-5.2 -5.2zM1617.6 312.2l5.2 5.2l-5.2 5.2l-5.2 -5.2zM1759.1 229.9l5.2 5.2l-5.2 5.2l-5.2 -5.2zM1642.7 293.0l5.2 5.2l-5.2 5.2l-5.2 -5.2zM1801.0 208.5l5.2 5.2l-5.2 5.2l-5.2 -5.2zM1536.9 344.0l5.2 5.2l-5.2 5.2l-5.2 -5.2zM1434.2 413.2l5.2 5.2l-5.2 5.2l-5.2 -5.2zM1608.7 318.7l5.2 5.2l-5.2 5.2l-5.2 -5.2zM1762.4 232.0l5.2 5.2l-5.2 5.2l-5.2 -5.2zM1632.8 298.1l5.2 5.2l-5.2 5.2l-5.2 -5.2zM1692.1 275.2l5.2 5.2l-5.2 5.2l-5.2 -5.2zM1756.6 234.5l5.2 5.2l-5.2 5.2l-5.2 -5.2zM1527.2 362.7l5.2 5.2l-5.2 5.2l-5.2 -5.2zM1533.5 345.0l5.2 5.2l-5.2 5.2l-5.2 -5.2zM1708.1 255.6l5.2 5.2l-5.2 5.2l-5.2 -5.2zM1520.2 360.5l5.2 5.2l-5.2 5.2l-5.2 -5.2zM1722.0 245.6l5.2 5.2l-5.2 5.2l-5.2 -5.2zM1652.1 301.1l5.2 5.2l-5.2 5.2l-5.2 -5.2zM1487.6 375.7l5.2 5.2l-5.2 5.2l-5.2 -5.2zM1656.9 287.7l5.2 5.2l-5.2 5.2l-5.2 -5.2zM1750.9 238.9l5.2 5.2l-5.2 5.2l-5.2 -5.2zM1775.6 217.6l5.2 5.2l-5.2 5.2l-5.2 -5.2zM1561.7 338.4l5.2 5.2l-5.2 5.2l-5.2 -5.2zM1665.7 292.4l5.2 5.2l-5.2 5.2l-5.2 -5.2zM1669.3 274.4l5.2 5.2l-5.2 5.2l-5.2 -5.2zM1584.3 327.7l5.2 5.2l-5.2 5.2l-5.2 -5.2zM1604.8 319.9l5.2 5.2l-5.2 5.2l-5.2 -5.2zM1441.4 400.5l5.2 5.2l-5.2 5.2l-5.2 -5.2zM1612.1 317.4l5.2 5.2l-5.2 5.2l-5.2 -5.2zM1405.9 421.8l5.2 5.2l-5.2 5.2l-5.2 -5.2zM1607.9 320.4l5.2 5.2l-5.2 5.2l-5.2 -5.2zM1676.8 282.5l5.2 5.2l-5.2 5.2l-5.2 -5.2zM1733.0 250.6l5.2 5.2l-5.2 5.2l-5.2 -5.2zM1734.0 236.6l5.2 5.2l-5.2 5.2l-5.2 -5.2zM1545.6 353.2l5.2 5.2l-5.2 5.2l-5.2 -5.2zM1465.3 383.5l5.2 5.2l-5.2 5.2l-5.2 -5.2zM1525.4 366.8l5.2 5.2l-5.2 5.2l-5.2 -5.2zM1462.9 393.9l5.2 5.2l-5.2 5.2l-5.2 -5.2zM1415.1 420.4l5.2 5.2l-5.2 5.2l-5.2 -5.2zM1440.4 405.2l5.2 5.2l-5.2 5.2l-5.2 -5.2zM1424.6 418.4l5.2 5.2l-5.2 5.2l-5.2 -5.2zM1755.3 237.1l5.2 5.2l-5.2 5.2l-5.2 -5.2zM1688.6 278.6l5.2 5.2l-5.2 5.2l-5.2 -5.2zM1562.3 337.0l5.2 5.2l-5.2 5.2l-5.2 -5.2zM1801.3 205.1l5.2 5.2l-5.2 5.2l-5.2 -5.2zM1480.7 389.7l5.2 5.2l-5.2 5.2l-5.2 -5.2zM1533.6 355.7l5.2 5.2l-5.2 5.2l-5.2 -5.2zM1765.4 231.7l5.2 5.2l-5.2 5.2l-5.2 -5.2zM1801.2 208.5l5.2 5.2l-5.2 5.2l-5.2 -5.2zM1601.4 327.6l5.2 5.2l-5.2 5.2l-5.2 -5.2zM1646.2 296.6l5.2 5.2l-5.2 5.2l-5.2 -5.2zM1529.4 346.5l5.2 5.2l-5.2 5.2l-5.2 -5.2zM1461.7 396.5l5.2 5.2l-5.2 5.2l-5.2 -5.2zM1569.5 338.1l5.2 5.2l-5.2 5.2l-5.2 -5.2zM1642.8 291.0l5.2 5.2l-5.2 5.2l-5.2 -5.2zM1471.2 380.7l5.2 5.2l-5.2 5.2l-5.2 -5.2zM1561.5 333.5l5.2 5.2l-5.2 5.2l-5.2 -5.2zM1764.4 230.6l5.2 5.2l-5.2 5.2l-5.2 -5.2zM1809.1 200.2l5.2 5.2l-5.2 5.2l-5.2 -5.2zM1424.0 405.5l5.2 5.2l-5.2 5.2l-5.2 -5.2z" fill="#edf9f2" stroke="none"/>
<path d="M1428.4 395.8l8.4 -4.7v9.4zM1442.0 380.8l8.4 -4.7v9.4zM1400.3 411.6l8.4 -4.7v9.4zM1440.2 378.9l8.4 -4.7v9.4zM1414.6 387.7l8.4 -4.7v9.4zM1414.4 399.4l8.4 -4.7v9.4zM1429.5 387.0l8.4 -4.7v9.4zM1421.3 384.7l8.4 -4.7v9.4zM1396.3 378.2l8.4 -4.7v9.4zM1398.7 406.6l8.4 -4.7v9.4zM1398.8 383.5l8.4 -4.7v9.4zM1407.8 382.8l8.4 -4.7v9.4zM1404.9 398.4l8.4 -4.7v9.4zM1398.3 398.9l8.4 -4.7v9.4zM1444.4 381.6l8.4 -4.7v9.4zM1401.1 366.9l8.4 -4.7v9.4zM1432.2 378.3l8.4 -4.7v9.4zM1417.6 377.9l8.4 -4.7v9.4zM1426.3 392.3l8.4 -4.7v9.4zM1416.4 368.2l8.4 -4.7v9.4zM1431.2 400.5l8.4 -4.7v9.4zM1443.4 362.4l8.4 -4.7v9.4zM1394.9 413.1l8.4 -4.7v9.4zM1435.6 382.8l8.4 -4.7v9.4zM1420.1 372.7l8.4 -4.7v9.4zM1424.9 379.3l8.4 -4.7v9.4zM1428.4 365.9l8.4 -4.7v9.4zM1433.8 378.7l8.4 -4.7v9.4zM1431.3 356.7l8.4 -4.7v9.4zM1431.5 387.2l8.4 -4.7v9.4zM1392.5 385.9l8.4 -4.7v9.4zM1421.4 372.5l8.4 -4.7v9.4zM1395.0 391.0l8.4 -4.7v9.4zM1422.7 386.6l8.4 -4.7v9.4zM1423.5 362.3l8.4 -4.7v9.4zM1442.0 374.4l8.4 -4.7v9.4zM1425.9 372.5l8.4 -4.7v9.4zM1413.6 361.5l8.4 -4.7v9.4zM1405.5 396.5l8.4 -4.7v9.4zM1420.4 361.9l8.4 -4.7v9.4zM1429.4 380.8l8.4 -4.7v9.4zM1426.3 377.9l8.4 -4.7v9.4zM1390.2 411.1l8.4 -4.7v9.4zM1442.4 392.3l8.4 -4.7v9.4zM1430.7 372.8l8.4 -4.7v9.4zM1400.7 391.7l8.4 -4.7v9.4zM1416.7 370.8l8.4 -4.7v9.4zM1425.2 392.1l8.4 -4.7v9.4zM1400.8 365.3l8.4 -4.7v9.4zM1443.6 386.8l8.4 -4.7v9.4zM1393.1 363.9l8.4 -4.7v9.4zM1413.4 402.3l8.4 -4.7v9.4zM1428.7 364.6l8.4 -4.7v9.4zM1409.5 371.1l8.4 -4.7v9.4zM1417.8 392.0l8.4 -4.7v9.4zM1392.5 396.7l8.4 -4.7v9.4zM1434.4 379.0l8.4 -4.7v9.4zM1424.4 368.8l8.4 -4.7v9.4zM1408.6 396.0l8.4 -4.7v9.4zM1441.5 368.4l8.4 -4.7v9.4zM1399.3 369.2l8.4 -4.7v9.4zM1444.3 363.1l8.4 -4.7v9.4zM1432.8 398.2l8.4 -4.7v9.4zM1436.2 394.9l8.4 -4.7v9.4zM1413.4 372.3l8.4 -4.7v9.4zM1435.2 399.3l8.4 -4.7v9.4zM1414.9 404.1l8.4 -4.7v9.4zM1392.0 410.6l8.4 -4.7v9.4zM1393.1 375.0l8.4 -4.7v9.4zM1411.8 375.9l8.4 -4.7v9.4zM1436.6 372.9l8.4 -4.7v9.4zM1433.3 375.3l8.4 -4.7v9.4zM1412.3 377.9l8.4 -4.7v9.4zM1408.0 379.5l8.4 -4.7v9.4zM1412.3 368.7l8.4 -4.7v9.4zM1396.5 412.3l8.4 -4.7v9.4zM1403.3 409.4l8.4 -4.7v9.4zM1396.1 378.6l8.4 -4.7v9.4zM1400.7 393.4l8.4 -4.7v9.4zM1425.5 369.9l8.4 -4.7v9.4zM1443.3 380.3l8.4 -4.7v9.4zM1425.5 366.0l8.4 -4.7v9.4zM1401.6 392.2l8.4 -4.7v9.4zM1440.0 368.8l8.4 -4.7v9.4zM1404.3 404.6l8.4 -4.7v9.4zM1438.1 390.5l8.4 -4.7v9.4zM1432.9 365.6l8.4 -4.7v9.4zM1422.5 384.1l8.4 -4.7v9.4zM1429.5 383.9l8.4 -4.7v9.4zM1406.3 388.5l8.4 -4.7v9.4zM1414.3 367.3l8.4 -4.7v9.4zM1399.6 399.2l8.4 -4.7v9.4zM1428.4 384.8l8.4 -4.7v9.4zM1426.6 389.7l8.4 -4.7v9.4zM1426.0 367.5l8.4 -4.7v9.4zM1415.6 401.0l8.4 -4.7v9.4zM1394.5 408.7l8.4 -4.7v9.4zM1418.5 402.0l8.4 -4.7v9.4zM1401.6 386.8l8.4 -4.7v9.4zM1403.0 368.1l8.4 -4.7v9.4zM1392.2 375.0l8.4 -4.7v9.4zM1414.0 370.5l8.4 -4.7v9.4zM1415.8 361.6l8.4 -4.7v9.4zM1418.2 360.6l8.4 -4.7v9.4zM1438.6 361.2l8.4 -4.7v9.4zM1415.2 405.1l8.4 -4.7v9.4zM1404.6 379.3l8.4 -4.7v9.4zM1417.2 361.2l8.4 -4.7v9.4zM1396.8 410.6l8.4 -4.7v9.4zM1438.7 386.0l8.4 -4.7v9.4zM1801.6 243.4l8.4 -4.7v9.4zM1498.2 367.3l8.4 -4.7v9.4zM1736.2 273.3l8.4 -4.7v9.4zM1774.5 261.6l8.4 -4.7v9.4zM1454.2 380.3l8.4 -4.7v9.4zM1664.8 299.6l8.4 -4.7v9.4zM1534.6 349.8l8.4 -4.7v9.4zM1708.7 271.0l8.4 -4.7v9.4zM1644.1 281.2l8.4 -4.7v9.4zM1555.5 333.0l8.4 -4.7v9.4zM1562.8 316.3l8.4 -4.7v9.4zM1786.3 263.3l8.4 -4.7v9.4zM1693.1 279.5l8.4 -4.7v9.4zM1744.5 279.9l8.4 -4.7v9.4zM1477.3 343.9l8.4 -4.7v9.4zM1469.0 349.9l8.4 -4.7v9.4zM1603.5 304.5l8.4 -4.7v9.4zM1515.4 354.7l8.4 -4.7v9.4zM1525.6 347.4l8.4 -4.7v9.4zM1513.3 351.7l8.4 -4.7v9.4zM1614.6 310.6l8.4 -4.7v9.4zM1692.8 276.2l8.4 -4.7v9.4zM1681.0 279.1l8.4 -4.7v9.4zM1790.7 244.2l8.4 -4.7v9.4zM1801.5 242.9l8.4 -4.7v9.4zM1735.4 256.4l8.4 -4.7v9.4zM1542.5 324.5l8.4 -4.7v9.4zM1781.0 263.5l8.4 -4.7v9.4zM1652.2 306.5l8.4 -4.7v9.4zM1787.8 246.8l8.4 -4.7v9.4zM1558.6 310.3l8.4 -4.7v9.4zM1664.6 275.9l8.4 -4.7v9.4zM1789.1 249.2l8.4 -4.7v9.4zM1524.9 353.6l8.4 -4.7v9.4zM1737.3 272.9l8.4 -4.7v9.4zM1681.9 272.9l8.4 -4.7v9.4zM1611.3 296.6l8.4 -4.7v9.4zM1655.2 278.7l8.4 -4.7v9.4zM1644.5 290.1l8.4 -4.7v9.4zM1591.3 328.1l8.4 -4.7v9.4zM1615.8 314.3l8.4 -4.7v9.4zM1450.3 370.2l8.4 -4.7v9.4zM1627.0 294.5l8.4 -4.7v9.4zM1787.8 257.9l8.4 -4.7v9.4zM1762.8 257.6l8.4 -4.7v9.4zM1475.8 350.5l8.4 -4.7v9.4zM1526.6 325.0l8.4 -4.7v9.4zM1782.8 265.0l8.4 -4.7v9.4zM1458.3 371.0l8.4 -4.7v9.4zM1711.7 266.4l8.4 -4.7v9.4zM1632.0 292.7l8.4 -4.7v9.4zM1737.5 281.2l8.4 -4.7v9.4zM1724.0 271.6l8.4 -4.7v9.4zM1616.6 294.0l8.4 -4.7v9.4zM1535.0 342.1l8.4 -4.7v9.4zM1637.1 295.8l8.4 -4.7v9.4zM1649.3 304.3l8.4 -4.7v9.4zM1510.3 329.2l8.4 -4.7v9.4zM1804.7 237.0l8.4 -4.7v9.4zM1775.7 271.3l8.4 -4.7v9.4zM1731.0 273.2l8.4 -4.7v9.4zM1657.9 303.7l8.4 -4.7v9.4zM1508.2 335.9l8.4 -4.7v9.4zM1666.3 277.3l8.4 -4.7v9.4zM1568.8 319.1l8.4 -4.7v9.4zM1566.0 312.8l8.4 -4.7v9.4zM1752.9 270.0l8.4 -4.7v9.4zM1738.1 276.6l8.4 -4.7v9.4zM1608.7 298.4l8.4 -4.7v9.4zM1671.7 291.5l8.4 -4.7v9.4zM1574.2 302.1l8.4 -4.7v9.4zM1501.2 348.6l8.4 -4.7v9.4zM1724.0 260.3l8.4 -4.7v9.4zM1576.3 332.7l8.4 -4.7v9.4zM1619.7 301.3l8.4 -4.7v9.4zM1693.1 280.6l8.4 -4.7v9.4zM1528.4 351.1l8.4 -4.7v9.4zM1471.0 368.1l8.4 -4.7v9.4zM1495.2 365.1l8.4 -4.7v9.4zM1689.9 279.9l8.4 -4.7v9.4zM1663.9 294.0l8.4 -4.7v9.4zM1523.1 335.7l8.4 -4.7v9.4zM1514.7 355.2l8.4 -4.7v9.4zM1598.1 310.2l8.4 -4.7v9.4zM1696.2 286.6l8.4 -4.7v9.4zM1680.9 297.3l8.4 -4.7v9.4zM1789.8 249.2l8.4 -4.7v9.4zM1804.2 237.0l8.4 -4.7v9.4zM1583.9 331.1l8.4 -4.7v9.4zM1626.6 307.6l8.4 -4.7v9.4zM1575.2 314.4l8.4 -4.7v9.4zM1806.8 252.5l8.4 -4.7v9.4zM1783.6 241.7l8.4 -4.7v9.4zM1614.4 295.9l8.4 -4.7v9.4zM1721.4 280.7l8.4 -4.7v9.4zM1556.8 334.3l8.4 -4.7v9.4zM1767.2 251.4l8.4 -4.7v9.4zM1447.3 356.5l8.4 -4.7v9.4zM1803.8 247.8l8.4 -4.7v9.4zM1471.9 368.8l8.4 -4.7v9.4zM1608.1 306.5l8.4 -4.7v9.4zM1534.1 344.4l8.4 -4.7v9.4zM1655.0 304.6l8.4 -4.7v9.4zM1614.3 302.2l8.4 -4.7v9.4zM1469.2 367.5l8.4 -4.7v9.4zM1652.6 281.7l8.4 -4.7v9.4zM1697.0 266.9l8.4 -4.7v9.4zM1633.7 311.6l8.4 -4.7v9.4zM1567.0 320.8l8.4 -4.7v9.4zM1694.0 286.4l8.4 -4.7v9.4zM1464.8 368.3l8.4 -4.7v9.4zM1768.4 274.0l8.4 -4.7v9.4zM1524.9 348.4l8.4 -4.7v9.4zM1551.2 315.4l8.4 -4.7v9.4zM1756.1 256.6l8.4 -4.7v9.4zM1572.6 323.9l8.4 -4.7v9.4zM1496.9 339.0l8.4 -4.7v9.4zM1792.1 261.1l8.4 -4.7v9.4zM1729.7 275.5l8.4 -4.7v9.4zM1475.8 374.8l8.4 -4.7v9.4zM1782.9 261.3l8.4 -4.7v9.4zM1652.1 300.2l8.4 -4.7v9.4zM1706.0 284.0l8.4 -4.7v9.4zM1695.8 265.7l8.4 -4.7v9.4zM1530.4 324.5l8.4 -4.7v9.4zM1450.1 361.7l8.4 -4.7v9.4zM1705.5 282.5l8.4 -4.7v9.4zM1578.8 333.3l8.4 -4.7v9.4zM1778.7 266.6l8.4 -4.7v9.4zM1726.9 271.9l8.4 -4.7v9.4zM1755.4 268.4l8.4 -4.7v9.4zM1713.6 274.0l8.4 -4.7v9.4zM1590.9 308.6l8.4 -4.7v9.4zM1479.0 343.3l8.4 -4.7v9.4zM1792.0 253.7l8.4 -4.7v9.4zM1473.7 375.6l8.4 -4.7v9.4zM1623.7 302.3l8.4 -4.7v9.4zM1496.6 366.1l8.4 -4.7v9.4zM1611.1 298.2l8.4 -4.7v9.4zM1547.3 326.4l8.4 -4.7v9.4zM1598.4 305.4l8.4 -4.7v9.4zM1706.3 292.1l8.4 -4.7v9.4zM1506.0 334.7l8.4 -4.7v9.4zM1629.0 301.5l8.4 -4.7v9.4zM1788.3 249.8l8.4 -4.7v9.4zM1600.8 317.5l8.4 -4.7v9.4zM1628.4 301.7l8.4 -4.7v9.4zM1707.0 281.8l8.4 -4.7v9.4zM1665.3 279.9l8.4 -4.7v9.4zM1777.9 249.0l8.4 -4.7v9.4zM1615.7 308.5l8.4 -4.7v9.4zM1460.8 357.6l8.4 -4.7v9.4zM1802.4 241.1l8.4 -4.7v9.4zM1540.3 331.3l8.4 -4.7v9.4zM1511.0 358.6l8.4 -4.7v9.4zM1659.9 299.4l8.4 -4.7v9.4zM1700.4 279.5l8.4 -4.7v9.4zM1457.0 383.2l8.4 -4.7v9.4zM1518.1 353.0l8.4 -4.7v9.4zM1545.9 311.9l8.4 -4.7v9.4zM1558.8 335.8l8.4 -4.7v9.4zM1560.2 324.3l8.4 -4.7v9.4zM1689.5 289.2l8.4 -4.7v9.4zM1748.7 274.8l8.4 -4.7v9.4zM1730.4 283.0l8.4 -4.7v9.4zM1593.9 312.6l8.4 -4.7v9.4zM1599.7 319.8l8.4 -4.7v9.4zM1598.3 326.6l8.4 -4.7v9.4zM1741.7 268.5l8.4 -4.7v9.4zM1789.9 261.1l8.4 -4.7v9.4zM1638.0 304.7l8.4 -4.7v9.4zM1513.2 360.8l8.4 -4.7v9.4zM1652.6 299.7l8.4 -4.7v9.4zM1658.3 296.7l8.4 -4.7v9.4zM1567.0 306.0l8.4 -4.7v9.4zM1639.7 297.8l8.4 -4.7v9.4zM1575.4 312.1l8.4 -4.7v9.4zM1601.5 317.6l8.4 -4.7v9.4zM1583.8 330.8l8.4 -4.7v9.4zM1798.2 250.3l8.4 -4.7v9.4zM1520.6 327.0l8.4 -4.7v9.4zM1649.4 283.9l8.4 -4.7v9.4zM1450.8 391.7l8.4 -4.7v9.4zM1542.4 324.1l8.4 -4.7v9.4zM1692.0 267.2l8.4 -4.7v9.4zM1492.8 359.9l8.4 -4.7v9.4zM1568.9 314.1l8.4 -4.7v9.4zM1611.7 303.3l8.4 -4.7v9.4zM1502.3 332.3l8.4 -4.7v9.4zM1749.6 270.7l8.4 -4.7v9.4zM1707.6 264.7l8.4 -4.7v9.4zM1733.1 280.6l8.4 -4.7v9.4zM1727.2 274.4l8.4 -4.7v9.4zM1670.5 295.3l8.4 -4.7v9.4zM1497.0 335.9l8.4 -4.7v9.4zM1512.7 358.5l8.4 -4.7v9.4zM1531.0 341.7l8.4 -4.7v9.4zM1660.2 281.9l8.4 -4.7v9.4zM1780.2 246.4l8.4 -4.7v9.4zM1651.6 285.6l8.4 -4.7v9.4zM1730.3 267.8l8.4 -4.7v9.4zM1583.3 306.6l8.4 -4.7v9.4zM1750.8 261.6l8.4 -4.7v9.4zM1508.3 355.0l8.4 -4.7v9.4zM1558.9 309.7l8.4 -4.7v9.4zM1804.3 236.8l8.4 -4.7v9.4zM1587.9 311.0l8.4 -4.7v9.4zM1618.1 296.7l8.4 -4.7v9.4zM1546.8 343.3l8.4 -4.7v9.4zM1525.6 333.1l8.4 -4.7v9.4zM1732.0 272.9l8.4 -4.7v9.4zM1527.5 331.9l8.4 -4.7v9.4zM1642.7 308.4l8.4 -4.7v9.4zM1794.6 254.7l8.4 -4.7v9.4zM1633.8 283.7l8.4 -4.7v9.4zM1486.9 348.0l8.4 -4.7v9.4zM1577.7 307.2l8.4 -4.7v9.4zM1713.2 275.4l8.4 -4.7v9.4zM1656.4 283.3l8.4 -4.7v9.4zM1794.8 243.9l8.4 -4.7v9.4zM1566.4 323.3l8.4 -4.7v9.4zM1763.2 264.5l8.4 -4.7v9.4zM1709.7 279.4l8.4 -4.7v9.4zM1588.2 325.4l8.4 -4.7v9.4zM1532.3 342.3l8.4 -4.7v9.4zM1645.3 301.1l8.4 -4.7v9.4zM1718.1 282.1l8.4 -4.7v9.4zM1578.7 315.9l8.4 -4.7v9.4zM1570.6 312.9l8.4 -4.7v9.4zM1639.7 307.2l8.4 -4.7v9.4zM1785.5 248.1l8.4 -4.7v9.4zM1595.8 299.2l8.4 -4.7v9.4zM1776.5 253.5l8.4 -4.7v9.4zM1537.2 328.6l8.4 -4.7v9.4zM1465.8 352.0l8.4 -4.7v9.4zM1782.6 241.4l8.4 -4.7v9.4zM1801.9 240.7l8.4 -4.7v9.4zM1635.9 302.4l8.4 -4.7v9.4zM1680.0 270.2l8.4 -4.7v9.4zM1787.4 246.2l8.4 -4.7v9.4zM1546.9 324.1l8.4 -4.7v9.4zM1691.7 287.8l8.4 -4.7v9.4zM1463.5 358.0l8.4 -4.7v9.4zM1668.9 298.2l8.4 -4.7v9.4zM1710.4 276.3l8.4 -4.7v9.4zM1790.8 254.2l8.4 -4.7v9.4zM1779.0 255.5l8.4 -4.7v9.4zM1470.7 343.0l8.4 -4.7v9.4zM1733.9 264.8l8.4 -4.7v9.4zM1559.0 324.3l8.4 -4.7v9.4zM1540.3 346.2l8.4 -4.7v9.4zM1617.9 319.7l8.4 -4.7v9.4zM1766.4 249.9l8.4 -4.7v9.4zM1614.2 302.0l8.4 -4.7v9.4zM1691.8 288.8l8.4 -4.7v9.4zM1566.0 312.6l8.4 -4.7v9.4zM1547.7 338.6l8.4 -4.7v9.4zM1488.8 345.4l8.4 -4.7v9.4zM1564.2 337.3l8.4 -4.7v9.4zM1494.5 354.3l8.4 -4.7v9.4zM1536.4 325.7l8.4 -4.7v9.4zM1608.9 323.4l8.4 -4.7v9.4zM1609.2 296.4l8.4 -4.7v9.4zM1746.9 254.1l8.4 -4.7v9.4zM1655.9 293.0l8.4 -4.7v9.4zM1672.1 297.6l8.4 -4.7v9.4zM1759.7 259.2l8.4 -4.7v9.4zM1515.6 340.9l8.4 -4.7v9.4zM1503.7 338.8l8.4 -4.7v9.4zM1451.2 364.9l8.4 -4.7v9.4zM1570.4 316.1l8.4 -4.7v9.4zM1679.5 292.3l8.4 -4.7v9.4zM1733.6 277.2l8.4 -4.7v9.4zM1587.5 312.9l8.4 -4.7v9.4zM1519.6 346.1l8.4 -4.7v9.4zM1464.9 379.8l8.4 -4.7v9.4zM1724.3 277.4l8.4 -4.7v9.4zM1553.0 321.8l8.4 -4.7v9.4zM1498.9 340.2l8.4 -4.7v9.4zM1775.1 268.7l8.4 -4.7v9.4zM1710.5 291.3l8.4 -4.7v9.4zM1531.9 325.3l8.4 -4.7v9.4zM1795.3 245.5l8.4 -4.7v9.4zM1685.7 274.3l8.4 -4.7v9.4zM1676.4 282.2l8.4 -4.7v9.4zM1679.2 271.1l8.4 -4.7v9.4zM1491.4 360.2l8.4 -4.7v9.4zM1772.9 265.4l8.4 -4.7v9.4zM1487.0 362.6l8.4 -4.7v9.4zM1757.7 272.4l8.4 -4.7v9.4zM1629.4 297.8l8.4 -4.7v9.4zM1792.5 248.6l8.4 -4.7v9.4zM1587.4 316.5l8.4 -4.7v9.4zM1510.9 336.7l8.4 -4.7v9.4zM1732.0 270.3l8.4 -4.7v9.4zM1688.2 291.4l8.4 -4.7v9.4zM1666.4 279.2l8.4 -4.7v9.4zM1709.1 283.0l8.4 -4.7v9.4zM1467.0 345.4l8.4 -4.7v9.4zM1481.8 350.0l8.4 -4.7v9.4zM1490.6 359.1l8.4 -4.7v9.4zM1718.2 272.0l8.4 -4.7v9.4zM1802.1 249.3l8.4 -4.7v9.4zM1684.5 283.3l8.4 -4.7v9.4zM1482.3 341.4l8.4 -4.7v9.4zM1783.2 264.7l8.4 -4.7v9.4zM1471.3 343.8l8.4 -4.7v9.4zM1706.2 264.0l8.4 -4.7v9.4zM1806.6 248.0l8.4 -4.7v9.4zM1602.8 316.3l8.4 -4.7v9.4zM1777.3 260.9l8.4 -4.7v9.4zM1563.7 322.9l8.4 -4.7v9.4zM1517.7 336.8l8.4 -4.7v9.4zM1759.5 268.3l8.4 -4.7v9.4zM1452.8 370.6l8.4 -4.7v9.4zM1475.7 347.4l8.4 -4.7v9.4zM1497.5 350.7l8.4 -4.7v9.4zM1591.1 308.1l8.4 -4.7v9.4zM1599.9 312.9l8.4 -4.7v9.4zM1728.3 277.6l8.4 -4.7v9.4zM1506.3 336.4l8.4 -4.7v9.4zM1666.8 279.9l8.4 -4.7v9.4zM1555.5 323.8l8.4 -4.7v9.4zM1695.8 274.3l8.4 -4.7v9.4zM1509.4 331.1l8.4 -4.7v9.4zM1668.5 290.1l8.4 -4.7v9.4zM1710.4 290.0l8.4 -4.7v9.4zM1470.6 369.9l8.4 -4.7v9.4zM1662.7 279.9l8.4 -4.7v9.4zM1803.6 249.3l8.4 -4.7v9.4zM1733.4 279.9l8.4 -4.7v9.4zM1592.4 318.9l8.4 -4.7v9.4zM1747.2 254.8l8.4 -4.7v9.4zM1479.6 365.1l8.4 -4.7v9.4zM1706.0 289.5l8.4 -4.7v9.4zM1452.9 367.2l8.4 -4.7v9.4zM1706.3 280.9l8.4 -4.7v9.4zM1785.3 250.1l8.4 -4.7v9.4zM1469.6 381.8l8.4 -4.7v9.4zM1447.4 389.5l8.4 -4.7v9.4zM1560.1 309.1l8.4 -4.7v9.4zM1719.4 274.5l8.4 -4.7v9.4zM1631.1 300.6l8.4 -4.7v9.4zM1703.2 268.8l8.4 -4.7v9.4zM1516.1 347.2l8.4 -4.7v9.4zM1681.1 286.9l8.4 -4.7v9.4zM1787.3 261.7l8.4 -4.7v9.4zM1764.0 269.4l8.4 -4.7v9.4zM1605.6 322.9l8.4 -4.7v9.4zM1734.7 264.4l8.4 -4.7v9.4zM1521.1 344.1l8.4 -4.7v9.4zM1700.5 286.8l8.4 -4.7v9.4zM1644.9 304.7l8.4 -4.7v9.4zM1485.5 372.4l8.4 -4.7v9.4zM1541.5 317.2l8.4 -4.7v9.4zM1601.1 296.8l8.4 -4.7v9.4zM1575.4 330.0l8.4 -4.7v9.4zM1624.8 300.2l8.4 -4.7v9.4zM1571.8 310.9l8.4 -4.7v9.4zM1721.0 281.5l8.4 -4.7v9.4zM1674.2 218.0l8.4 -4.7v9.4zM1608.2 252.7l8.4 -4.7v9.4zM1665.4 231.9l8.4 -4.7v9.4zM1638.6 245.0l8.4 -4.7v9.4zM1672.6 237.8l8.4 -4.7v9.4zM1657.9 232.4l8.4 -4.7v9.4zM1613.2 246.9l8.4 -4.7v9.4zM1665.8 236.7l8.4 -4.7v9.4zM1660.0 238.9l8.4 -4.7v9.4zM1622.7 244.6l8.4 -4.7v9.4zM1635.9 241.2l8.4 -4.7v9.4zM1607.4 237.7l8.4 -4.7v9.4zM1616.1 250.5l8.4 -4.7v9.4zM1611.5 240.1l8.4 -4.7v9.4zM1673.0 226.4l8.4 -4.7v9.4zM1644.1 238.5l8.4 -4.7v9.4zM1599.8 248.0l8.4 -4.7v9.4zM1637.0 240.8l8.4 -4.7v9.4zM1625.1 243.3l8.4 -4.7v9.4zM1599.7 254.9l8.4 -4.7v9.4zM1600.6 248.1l8.4 -4.7v9.4zM1651.4 234.9l8.4 -4.7v9.4zM1672.1 219.5l8.4 -4.7v9.4zM1649.0 233.4l8.4 -4.7v9.4zM1622.7 240.7l8.4 -4.7v9.4z" fill="#f4f4fa" stroke="none"/>
<path d="M1164.5 508.0h7.2v7.2h-7.2zM1169.9 532.8h7.2v7.2h-7.2zM1162.9 524.0h7.2v7.2h-7.2zM1159.4 508.9h7.2v7.2h-7.2zM1160.4 524.9h7.2v7.2h-7.2zM1159.4 534.4h7.2v7.2h-7.2zM1157.4 508.0h7.2v7.2h-7.2zM1157.6 527.6h7.2v7.2h-7.2zM1161.5 517.4h7.2v7.2h-7.2zM1161.0 523.1h7.2v7.2h-7.2zM1162.1 508.5h7.2v7.2h-7.2zM1162.4 511.7h7.2v7.2h-7.2zM1158.0 529.4h7.2v7.2h-7.2zM1165.9 524.0h7.2v7.2h-7.2zM1168.8 514.8h7.2v7.2h-7.2zM1161.7 515.8h7.2v7.2h-7.2zM1162.1 524.1h7.2v7.2h-7.2zM1156.5 517.2h7.2v7.2h-7.2zM1163.9 513.1h7.2v7.2h-7.2zM1156.7 525.4h7.2v7.2h-7.2zM1156.5 520.6h7.2v7.2h-7.2zM1158.5 502.6h7.2v7.2h-7.2zM1158.9 503.6h7.2v7.2h-7.2zM1158.5 524.7h7.2v7.2h-7.2zM1166.6 513.7h7.2v7.2h-7.2zM1165.5 517.6h7.2v7.2h-7.2zM1174.0 521.9h7.2v7.2h-7.2zM1174.5 524.8h7.2v7.2h-7.2zM1185.0 514.9h7.2v7.2h-7.2zM1185.2 520.4h7.2v7.2h-7.2zM1171.4 519.3h7.2v7.2h-7.2zM1185.3 519.0h7.2v7.2h-7.2zM1191.5 525.5h7.2v7.2h-7.2zM1179.5 510.2h7.2v7.2h-7.2zM1173.5 527.7h7.2v7.2h-7.2zM1187.0 521.7h7.2v7.2h-7.2zM1181.0 518.4h7.2v7.2h-7.2zM1175.7 519.3h7.2v7.2h-7.2zM1173.9 522.0h7.2v7.2h-7.2zM1185.5 523.5h7.2v7.2h-7.2zM1176.3 506.2h7.2v7.2h-7.2zM1178.4 524.0h7.2v7.2h-7.2zM1182.6 525.8h7.2v7.2h-7.2zM1180.7 515.4h7.2v7.2h-7.2zM1165.4 492.4h7.2v7.2h-7.2zM1308.8 462.1h7.2v7.2h-7.2zM1276.3 479.3h7.2v7.2h-7.2zM1213.3 493.7h7.2v7.2h-7.2zM1261.7 474.1h7.2v7.2h-7.2zM1234.2 504.9h7.2v7.2h-7.2zM1295.4 458.1h7.2v7.2h-7.2zM1196.7 502.6h7.2v7.2h-7.2zM1289.9 457.2h7.2v7.2h-7.2zM1214.5 493.9h7.2v7.2h-7.2zM1202.4 508.0h7.2v7.2h-7.2zM1209.3 502.9h7.2v7.2h-7.2zM1278.0 478.0h7.2v7.2h-7.2zM1238.3 500.5h7.2v7.2h-7.2zM1258.0 491.7h7.2v7.2h-7.2zM1217.5 499.2h7.2v7.2h-7.2zM1258.9 493.8h7.2v7.2h-7.2zM1263.7 480.7h7.2v7.2h-7.2zM1217.8 497.0h7.2v7.2h-7.2zM1213.4 515.4h7.2v7.2h-7.2zM1297.2 474.1h7.2v7.2h-7.2zM1252.5 491.9h7.2v7.2h-7.2zM1223.5 499.9h7.2v7.2h-7.2zM1204.6 504.8h7.2v7.2h-7.2zM1218.0 492.6h7.2v7.2h-7.2zM1301.3 456.4h7.2v7.2h-7.2zM1288.0 472.4h7.2v7.2h-7.2zM1197.7 508.6h7.2v7.2h-7.2zM1310.9 472.3h7.2v7.2h-7.2zM1256.8 491.1h7.2v7.2h-7.2zM1275.0 470.3h7.2v7.2h-7.2zM1255.1 488.1h7.2v7.2h-7.2zM1235.7 502.5h7.2v7.2h-7.2zM1241.9 497.9h7.2v7.2h-7.2zM1194.5 508.7h7.2v7.2h-7.2zM1192.0 514.3h7.2v7.2h-7.2zM1295.5 467.1h7.2v7.2h-7.2zM1257.1 487.7h7.2v7.2h-7.2zM1215.0 500.5h7.2v7.2h-7.2zM1258.7 487.3h7.2v7.2h-7.2zM1233.9 495.4h7.2v7.2h-7.2zM1227.7 500.1h7.2v7.2h-7.2zM1270.9 473.4h7.2v7.2h-7.2zM1272.0 484.2h7.2v7.2h-7.2zM1253.5 497.4h7.2v7.2h-7.2zM1225.1 509.9h7.2v7.2h-7.2zM1209.1 501.9h7.2v7.2h-7.2zM1288.5 457.7h7.2v7.2h-7.2zM1263.2 489.7h7.2v7.2h-7.2zM1304.4 467.8h7.2v7.2h-7.2zM1229.6 493.9h7.2v7.2h-7.2zM1265.3 470.8h7.2v7.2h-7.2zM1189.9 520.5h7.2v7.2h-7.2zM1264.8 473.2h7.2v7.2h-7.2zM1240.0 488.2h7.2v7.2h-7.2zM1295.1 461.8h7.2v7.2h-7.2zM1277.0 479.1h7.2v7.2h-7.2zM1226.2 493.5h7.2v7.2h-7.2zM1251.5 485.4h7.2v7.2h-7.2zM1260.6 479.2h7.2v7.2h-7.2zM1285.7 467.0h7.2v7.2h-7.2zM1203.4 513.6h7.2v7.2h-7.2zM1298.3 469.4h7.2v7.2h-7.2zM1254.7 494.4h7.2v7.2h-7.2zM1303.1 454.2h7.2v7.2h-7.2zM1247.4 478.7h7.2v7.2h-7.2zM1228.1 492.4h7.2v7.2h-7.2zM1244.1 495.2h7.2v7.2h-7.2zM1294.0 461.5h7.2v7.2h-7.2zM1187.9 523.9h7.2v7.2h-7.2zM1284.2 470.8h7.2v7.2h-7.2zM1200.4 497.3h7.2v7.2h-7.2zM1303.2 465.0h7.2v7.2h-7.2zM1293.9 472.7h7.2v7.2h-7.2zM1280.3 478.6h7.2v7.2h-7.2zM1218.1 496.1h7.2v7.2h-7.2zM1345.1 435.5h7.2v7.2h-7.2zM1337.8 426.4h7.2v7.2h-7.2zM1325.0 439.6h7.2v7.2h-7.2zM1340.2 421.8h7.2v7.2h-7.2zM1319.7 444.7h7.2v7.2h-7.2zM1318.2 440.9h7.2v7.2h-7.2zM1325.0 438.4h7.2v7.2h-7.2zM1342.0 431.4h7.2v7.2h-7.2zM1326.9 431.9h7.2v7.2h-7.2zM1334.3 434.9h7.2v7.2h-7.2zM1327.5 434.3h7.2v7.2h-7.2zM1331.6 429.2h7.2v7.2h-7.2zM1320.2 438.7h7.2v7.2h-7.2zM1317.6 440.1h7.2v7.2h-7.2zM1340.1 436.5h7.2v7.2h-7.2zM1322.5 435.1h7.2v7.2h-7.2zM1375.9 405.2h7.2v7.2h-7.2zM1373.3 418.6h7.2v7.2h-7.2zM1359.5 422.1h7.2v7.2h-7.2zM1360.1 409.7h7.2v7.2h-7.2zM1360.5 421.2h7.2v7.2h-7.2zM1354.7 422.4h7.2v7.2h-7.2zM1360.6 409.5h7.2v7.2h-7.2zM1362.9 412.7h7.2v7.2h-7.2zM1363.8 422.1h7.2v7.2h-7.2zM1377.1 402.1h7.2v7.2h-7.2zM1379.0 408.8h7.2v7.2h-7.2zM1378.2 413.3h7.2v7.2h-7.2zM1365.6 408.5h7.2v7.2h-7.2zM1377.4 417.4h7.2v7.2h-7.2zM1387.6 390.4h7.2v7.2h-7.2zM1373.7 393.6h7.2v7.2h-7.2zM1389.8 379.8h7.2v7.2h-7.2zM1389.5 388.8h7.2v7.2h-7.2zM1377.2 393.3h7.2v7.2h-7.2zM1380.7 386.4h7.2v7.2h-7.2zM1487.6 334.5h7.2v7.2h-7.2zM1756.1 219.5h7.2v7.2h-7.2zM1574.9 293.9h7.2v7.2h-7.2zM1447.4 359.6h7.2v7.2h-7.2zM1675.5 253.4h7.2v7.2h-7.2zM1616.3 283.4h7.2v7.2h-7.2zM1731.9 232.4h7.2v7.2h-7.2zM1512.4 317.5h7.2v7.2h-7.2zM1614.6 287.6h7.2v7.2h-7.2zM1668.2 253.9h7.2v7.2h-7.2zM1534.1 306.6h7.2v7.2h-7.2zM1455.9 347.4h7.2v7.2h-7.2zM1453.1 345.2h7.2v7.2h-7.2zM1486.4 332.5h7.2v7.2h-7.2zM1713.0 239.6h7.2v7.2h-7.2zM1623.2 275.6h7.2v7.2h-7.2zM1504.3 322.8h7.2v7.2h-7.2zM1684.6 260.9h7.2v7.2h-7.2zM1667.4 266.5h7.2v7.2h-7.2zM1665.9 257.2h7.2v7.2h-7.2zM1482.9 336.3h7.2v7.2h-7.2zM1621.8 282.4h7.2v7.2h-7.2zM1731.7 241.8h7.2v7.2h-7.2zM1757.5 218.5h7.2v7.2h-7.2zM1648.9 271.3h7.2v7.2h-7.2zM1580.3 299.6h7.2v7.2h-7.2zM1720.3 241.5h7.2v7.2h-7.2zM1523.3 315.8h7.2v7.2h-7.2zM1623.0 278.4h7.2v7.2h-7.2zM1579.6 293.4h7.2v7.2h-7.2zM1669.5 262.5h7.2v7.2h-7.2zM1742.9 236.5h7.2v7.2h-7.2zM1401.4 372.4h7.2v7.2h-7.2zM1671.3 259.5h7.2v7.2h-7.2zM1625.0 272.6h7.2v7.2h-7.2zM1539.0 317.1h7.2v7.2h-7.2zM1644.4 274.5h7.2v7.2h-7.2zM1736.1 242.1h7.2v7.2h-7.2zM1716.5 250.4h7.2v7.2h-7.2zM1728.5 245.5h7.2v7.2h-7.2zM1549.5 305.7h7.2v7.2h-7.2zM1561.4 306.7h7.2v7.2h-7.2zM1758.3 217.8h7.2v7.2h-7.2zM1555.1 298.2h7.2v7.2h-7.2zM1445.2 345.8h7.2v7.2h-7.2zM1768.4 180.0h7.2v7.2h-7.2z" fill="none" stroke="#1a1a1a" stroke-width="0.95"/>
<path d="M1279.2 407.1a3.9 3.9 0 1 0 7.8 0a3.9 3.9 0 1 0 -7.8 0zM1279.8 419.8a3.9 3.9 0 1 0 7.8 0a3.9 3.9 0 1 0 -7.8 0zM1277.1 425.9a3.9 3.9 0 1 0 7.8 0a3.9 3.9 0 1 0 -7.8 0zM1275.9 407.2a3.9 3.9 0 1 0 7.8 0a3.9 3.9 0 1 0 -7.8 0zM1277.2 408.5a3.9 3.9 0 1 0 7.8 0a3.9 3.9 0 1 0 -7.8 0zM1278.5 416.5a3.9 3.9 0 1 0 7.8 0a3.9 3.9 0 1 0 -7.8 0zM1277.0 410.7a3.9 3.9 0 1 0 7.8 0a3.9 3.9 0 1 0 -7.8 0zM1276.2 430.4a3.9 3.9 0 1 0 7.8 0a3.9 3.9 0 1 0 -7.8 0zM1279.6 413.2a3.9 3.9 0 1 0 7.8 0a3.9 3.9 0 1 0 -7.8 0zM1279.1 411.7a3.9 3.9 0 1 0 7.8 0a3.9 3.9 0 1 0 -7.8 0zM1278.9 408.3a3.9 3.9 0 1 0 7.8 0a3.9 3.9 0 1 0 -7.8 0zM1277.9 416.3a3.9 3.9 0 1 0 7.8 0a3.9 3.9 0 1 0 -7.8 0zM1279.5 432.1a3.9 3.9 0 1 0 7.8 0a3.9 3.9 0 1 0 -7.8 0zM1275.6 403.2a3.9 3.9 0 1 0 7.8 0a3.9 3.9 0 1 0 -7.8 0zM1331.1 406.4a3.9 3.9 0 1 0 7.8 0a3.9 3.9 0 1 0 -7.8 0zM1345.8 398.1a3.9 3.9 0 1 0 7.8 0a3.9 3.9 0 1 0 -7.8 0zM1375.7 379.3a3.9 3.9 0 1 0 7.8 0a3.9 3.9 0 1 0 -7.8 0zM1297.3 397.7a3.9 3.9 0 1 0 7.8 0a3.9 3.9 0 1 0 -7.8 0zM1328.3 391.3a3.9 3.9 0 1 0 7.8 0a3.9 3.9 0 1 0 -7.8 0zM1382.2 374.2a3.9 3.9 0 1 0 7.8 0a3.9 3.9 0 1 0 -7.8 0zM1329.7 388.0a3.9 3.9 0 1 0 7.8 0a3.9 3.9 0 1 0 -7.8 0zM1304.2 416.8a3.9 3.9 0 1 0 7.8 0a3.9 3.9 0 1 0 -7.8 0zM1378.0 360.5a3.9 3.9 0 1 0 7.8 0a3.9 3.9 0 1 0 -7.8 0zM1328.0 388.7a3.9 3.9 0 1 0 7.8 0a3.9 3.9 0 1 0 -7.8 0zM1344.7 375.2a3.9 3.9 0 1 0 7.8 0a3.9 3.9 0 1 0 -7.8 0zM1287.0 426.9a3.9 3.9 0 1 0 7.8 0a3.9 3.9 0 1 0 -7.8 0zM1312.6 416.6a3.9 3.9 0 1 0 7.8 0a3.9 3.9 0 1 0 -7.8 0zM1376.3 373.7a3.9 3.9 0 1 0 7.8 0a3.9 3.9 0 1 0 -7.8 0zM1376.8 380.1a3.9 3.9 0 1 0 7.8 0a3.9 3.9 0 1 0 -7.8 0zM1286.8 405.3a3.9 3.9 0 1 0 7.8 0a3.9 3.9 0 1 0 -7.8 0zM1350.3 384.1a3.9 3.9 0 1 0 7.8 0a3.9 3.9 0 1 0 -7.8 0zM1280.6 435.7a3.9 3.9 0 1 0 7.8 0a3.9 3.9 0 1 0 -7.8 0zM1349.0 382.7a3.9 3.9 0 1 0 7.8 0a3.9 3.9 0 1 0 -7.8 0zM1335.4 373.7a3.9 3.9 0 1 0 7.8 0a3.9 3.9 0 1 0 -7.8 0zM1338.4 370.9a3.9 3.9 0 1 0 7.8 0a3.9 3.9 0 1 0 -7.8 0zM1350.5 406.5a3.9 3.9 0 1 0 7.8 0a3.9 3.9 0 1 0 -7.8 0zM1303.0 397.4a3.9 3.9 0 1 0 7.8 0a3.9 3.9 0 1 0 -7.8 0zM1341.1 411.3a3.9 3.9 0 1 0 7.8 0a3.9 3.9 0 1 0 -7.8 0zM1298.0 407.1a3.9 3.9 0 1 0 7.8 0a3.9 3.9 0 1 0 -7.8 0zM1344.3 370.6a3.9 3.9 0 1 0 7.8 0a3.9 3.9 0 1 0 -7.8 0zM1287.4 430.3a3.9 3.9 0 1 0 7.8 0a3.9 3.9 0 1 0 -7.8 0zM1346.1 391.7a3.9 3.9 0 1 0 7.8 0a3.9 3.9 0 1 0 -7.8 0zM1337.9 368.7a3.9 3.9 0 1 0 7.8 0a3.9 3.9 0 1 0 -7.8 0zM1331.0 395.5a3.9 3.9 0 1 0 7.8 0a3.9 3.9 0 1 0 -7.8 0zM1334.6 373.6a3.9 3.9 0 1 0 7.8 0a3.9 3.9 0 1 0 -7.8 0zM1287.3 418.6a3.9 3.9 0 1 0 7.8 0a3.9 3.9 0 1 0 -7.8 0zM1353.9 390.9a3.9 3.9 0 1 0 7.8 0a3.9 3.9 0 1 0 -7.8 0zM1379.4 365.9a3.9 3.9 0 1 0 7.8 0a3.9 3.9 0 1 0 -7.8 0zM1321.6 391.8a3.9 3.9 0 1 0 7.8 0a3.9 3.9 0 1 0 -7.8 0zM1333.6 404.9a3.9 3.9 0 1 0 7.8 0a3.9 3.9 0 1 0 -7.8 0zM1371.7 360.0a3.9 3.9 0 1 0 7.8 0a3.9 3.9 0 1 0 -7.8 0zM1341.1 405.2a3.9 3.9 0 1 0 7.8 0a3.9 3.9 0 1 0 -7.8 0zM1359.6 377.3a3.9 3.9 0 1 0 7.8 0a3.9 3.9 0 1 0 -7.8 0zM1287.7 408.7a3.9 3.9 0 1 0 7.8 0a3.9 3.9 0 1 0 -7.8 0zM1343.3 404.1a3.9 3.9 0 1 0 7.8 0a3.9 3.9 0 1 0 -7.8 0zM1303.2 400.9a3.9 3.9 0 1 0 7.8 0a3.9 3.9 0 1 0 -7.8 0zM1319.0 375.7a3.9 3.9 0 1 0 7.8 0a3.9 3.9 0 1 0 -7.8 0zM1383.2 363.7a3.9 3.9 0 1 0 7.8 0a3.9 3.9 0 1 0 -7.8 0zM1326.9 428.0a3.9 3.9 0 1 0 7.8 0a3.9 3.9 0 1 0 -7.8 0zM1363.0 369.5a3.9 3.9 0 1 0 7.8 0a3.9 3.9 0 1 0 -7.8 0zM1379.8 378.5a3.9 3.9 0 1 0 7.8 0a3.9 3.9 0 1 0 -7.8 0zM1340.0 387.6a3.9 3.9 0 1 0 7.8 0a3.9 3.9 0 1 0 -7.8 0zM1370.1 389.2a3.9 3.9 0 1 0 7.8 0a3.9 3.9 0 1 0 -7.8 0zM1351.2 376.1a3.9 3.9 0 1 0 7.8 0a3.9 3.9 0 1 0 -7.8 0zM1372.5 378.5a3.9 3.9 0 1 0 7.8 0a3.9 3.9 0 1 0 -7.8 0zM1378.7 379.1a3.9 3.9 0 1 0 7.8 0a3.9 3.9 0 1 0 -7.8 0zM1353.4 401.7a3.9 3.9 0 1 0 7.8 0a3.9 3.9 0 1 0 -7.8 0zM1326.9 405.6a3.9 3.9 0 1 0 7.8 0a3.9 3.9 0 1 0 -7.8 0zM1359.4 377.7a3.9 3.9 0 1 0 7.8 0a3.9 3.9 0 1 0 -7.8 0zM1293.8 432.9a3.9 3.9 0 1 0 7.8 0a3.9 3.9 0 1 0 -7.8 0zM1337.0 389.9a3.9 3.9 0 1 0 7.8 0a3.9 3.9 0 1 0 -7.8 0zM1336.7 380.2a3.9 3.9 0 1 0 7.8 0a3.9 3.9 0 1 0 -7.8 0zM1369.5 367.3a3.9 3.9 0 1 0 7.8 0a3.9 3.9 0 1 0 -7.8 0zM1306.1 417.7a3.9 3.9 0 1 0 7.8 0a3.9 3.9 0 1 0 -7.8 0zM1331.9 384.4a3.9 3.9 0 1 0 7.8 0a3.9 3.9 0 1 0 -7.8 0zM1288.8 414.2a3.9 3.9 0 1 0 7.8 0a3.9 3.9 0 1 0 -7.8 0zM1324.0 403.9a3.9 3.9 0 1 0 7.8 0a3.9 3.9 0 1 0 -7.8 0zM1348.6 374.9a3.9 3.9 0 1 0 7.8 0a3.9 3.9 0 1 0 -7.8 0zM1287.1 395.8a3.9 3.9 0 1 0 7.8 0a3.9 3.9 0 1 0 -7.8 0zM1338.4 417.1a3.9 3.9 0 1 0 7.8 0a3.9 3.9 0 1 0 -7.8 0zM1358.5 398.9a3.9 3.9 0 1 0 7.8 0a3.9 3.9 0 1 0 -7.8 0zM1296.2 397.5a3.9 3.9 0 1 0 7.8 0a3.9 3.9 0 1 0 -7.8 0zM1355.9 378.1a3.9 3.9 0 1 0 7.8 0a3.9 3.9 0 1 0 -7.8 0zM1324.7 421.1a3.9 3.9 0 1 0 7.8 0a3.9 3.9 0 1 0 -7.8 0zM1288.7 439.9a3.9 3.9 0 1 0 7.8 0a3.9 3.9 0 1 0 -7.8 0zM1300.0 417.4a3.9 3.9 0 1 0 7.8 0a3.9 3.9 0 1 0 -7.8 0zM1349.6 388.5a3.9 3.9 0 1 0 7.8 0a3.9 3.9 0 1 0 -7.8 0zM1355.0 373.9a3.9 3.9 0 1 0 7.8 0a3.9 3.9 0 1 0 -7.8 0zM1304.5 420.1a3.9 3.9 0 1 0 7.8 0a3.9 3.9 0 1 0 -7.8 0zM1380.4 356.9a3.9 3.9 0 1 0 7.8 0a3.9 3.9 0 1 0 -7.8 0zM1291.2 442.0a3.9 3.9 0 1 0 7.8 0a3.9 3.9 0 1 0 -7.8 0zM1285.6 400.3a3.9 3.9 0 1 0 7.8 0a3.9 3.9 0 1 0 -7.8 0zM1333.5 383.9a3.9 3.9 0 1 0 7.8 0a3.9 3.9 0 1 0 -7.8 0zM1354.8 381.2a3.9 3.9 0 1 0 7.8 0a3.9 3.9 0 1 0 -7.8 0zM1364.6 362.6a3.9 3.9 0 1 0 7.8 0a3.9 3.9 0 1 0 -7.8 0zM1303.5 392.9a3.9 3.9 0 1 0 7.8 0a3.9 3.9 0 1 0 -7.8 0zM1365.1 396.2a3.9 3.9 0 1 0 7.8 0a3.9 3.9 0 1 0 -7.8 0zM1320.1 385.9a3.9 3.9 0 1 0 7.8 0a3.9 3.9 0 1 0 -7.8 0zM1287.8 401.5a3.9 3.9 0 1 0 7.8 0a3.9 3.9 0 1 0 -7.8 0zM1384.3 378.3a3.9 3.9 0 1 0 7.8 0a3.9 3.9 0 1 0 -7.8 0zM1378.1 360.9a3.9 3.9 0 1 0 7.8 0a3.9 3.9 0 1 0 -7.8 0zM1288.1 442.7a3.9 3.9 0 1 0 7.8 0a3.9 3.9 0 1 0 -7.8 0zM1356.7 398.4a3.9 3.9 0 1 0 7.8 0a3.9 3.9 0 1 0 -7.8 0zM1375.0 383.6a3.9 3.9 0 1 0 7.8 0a3.9 3.9 0 1 0 -7.8 0zM1281.4 437.8a3.9 3.9 0 1 0 7.8 0a3.9 3.9 0 1 0 -7.8 0zM1340.4 417.9a3.9 3.9 0 1 0 7.8 0a3.9 3.9 0 1 0 -7.8 0zM1301.0 405.8a3.9 3.9 0 1 0 7.8 0a3.9 3.9 0 1 0 -7.8 0zM1293.3 429.5a3.9 3.9 0 1 0 7.8 0a3.9 3.9 0 1 0 -7.8 0zM1342.5 409.5a3.9 3.9 0 1 0 7.8 0a3.9 3.9 0 1 0 -7.8 0zM1339.2 407.9a3.9 3.9 0 1 0 7.8 0a3.9 3.9 0 1 0 -7.8 0zM1318.9 376.4a3.9 3.9 0 1 0 7.8 0a3.9 3.9 0 1 0 -7.8 0zM1287.5 396.1a3.9 3.9 0 1 0 7.8 0a3.9 3.9 0 1 0 -7.8 0zM1283.0 430.9a3.9 3.9 0 1 0 7.8 0a3.9 3.9 0 1 0 -7.8 0zM1357.5 402.3a3.9 3.9 0 1 0 7.8 0a3.9 3.9 0 1 0 -7.8 0zM1363.3 366.3a3.9 3.9 0 1 0 7.8 0a3.9 3.9 0 1 0 -7.8 0zM1298.9 405.2a3.9 3.9 0 1 0 7.8 0a3.9 3.9 0 1 0 -7.8 0zM1316.3 382.3a3.9 3.9 0 1 0 7.8 0a3.9 3.9 0 1 0 -7.8 0zM1361.9 388.0a3.9 3.9 0 1 0 7.8 0a3.9 3.9 0 1 0 -7.8 0zM1324.7 404.9a3.9 3.9 0 1 0 7.8 0a3.9 3.9 0 1 0 -7.8 0zM1343.8 392.3a3.9 3.9 0 1 0 7.8 0a3.9 3.9 0 1 0 -7.8 0zM1344.6 395.2a3.9 3.9 0 1 0 7.8 0a3.9 3.9 0 1 0 -7.8 0zM1384.4 361.9a3.9 3.9 0 1 0 7.8 0a3.9 3.9 0 1 0 -7.8 0zM1288.9 398.4a3.9 3.9 0 1 0 7.8 0a3.9 3.9 0 1 0 -7.8 0zM1343.9 387.9a3.9 3.9 0 1 0 7.8 0a3.9 3.9 0 1 0 -7.8 0zM1378.6 371.3a3.9 3.9 0 1 0 7.8 0a3.9 3.9 0 1 0 -7.8 0zM1376.5 381.4a3.9 3.9 0 1 0 7.8 0a3.9 3.9 0 1 0 -7.8 0zM1317.6 388.2a3.9 3.9 0 1 0 7.8 0a3.9 3.9 0 1 0 -7.8 0zM1351.0 380.7a3.9 3.9 0 1 0 7.8 0a3.9 3.9 0 1 0 -7.8 0zM1296.7 388.3a3.9 3.9 0 1 0 7.8 0a3.9 3.9 0 1 0 -7.8 0zM1368.0 392.9a3.9 3.9 0 1 0 7.8 0a3.9 3.9 0 1 0 -7.8 0zM1357.5 365.1a3.9 3.9 0 1 0 7.8 0a3.9 3.9 0 1 0 -7.8 0zM1281.5 425.9a3.9 3.9 0 1 0 7.8 0a3.9 3.9 0 1 0 -7.8 0zM1322.4 429.0a3.9 3.9 0 1 0 7.8 0a3.9 3.9 0 1 0 -7.8 0zM1328.2 410.1a3.9 3.9 0 1 0 7.8 0a3.9 3.9 0 1 0 -7.8 0zM1283.5 397.5a3.9 3.9 0 1 0 7.8 0a3.9 3.9 0 1 0 -7.8 0zM1360.2 384.9a3.9 3.9 0 1 0 7.8 0a3.9 3.9 0 1 0 -7.8 0zM1373.9 368.4a3.9 3.9 0 1 0 7.8 0a3.9 3.9 0 1 0 -7.8 0zM1338.7 390.0a3.9 3.9 0 1 0 7.8 0a3.9 3.9 0 1 0 -7.8 0zM1361.8 383.3a3.9 3.9 0 1 0 7.8 0a3.9 3.9 0 1 0 -7.8 0zM1369.8 362.6a3.9 3.9 0 1 0 7.8 0a3.9 3.9 0 1 0 -7.8 0zM1349.0 379.5a3.9 3.9 0 1 0 7.8 0a3.9 3.9 0 1 0 -7.8 0zM1363.6 374.5a3.9 3.9 0 1 0 7.8 0a3.9 3.9 0 1 0 -7.8 0zM1297.0 386.1a3.9 3.9 0 1 0 7.8 0a3.9 3.9 0 1 0 -7.8 0zM1333.5 372.2a3.9 3.9 0 1 0 7.8 0a3.9 3.9 0 1 0 -7.8 0zM1399.9 368.4a3.9 3.9 0 1 0 7.8 0a3.9 3.9 0 1 0 -7.8 0zM1713.2 222.1a3.9 3.9 0 1 0 7.8 0a3.9 3.9 0 1 0 -7.8 0zM1635.2 255.0a3.9 3.9 0 1 0 7.8 0a3.9 3.9 0 1 0 -7.8 0zM1785.5 204.9a3.9 3.9 0 1 0 7.8 0a3.9 3.9 0 1 0 -7.8 0zM1522.7 314.9a3.9 3.9 0 1 0 7.8 0a3.9 3.9 0 1 0 -7.8 0zM1610.3 266.7a3.9 3.9 0 1 0 7.8 0a3.9 3.9 0 1 0 -7.8 0zM1582.3 283.4a3.9 3.9 0 1 0 7.8 0a3.9 3.9 0 1 0 -7.8 0zM1597.9 296.5a3.9 3.9 0 1 0 7.8 0a3.9 3.9 0 1 0 -7.8 0zM1717.1 221.4a3.9 3.9 0 1 0 7.8 0a3.9 3.9 0 1 0 -7.8 0zM1545.7 318.1a3.9 3.9 0 1 0 7.8 0a3.9 3.9 0 1 0 -7.8 0zM1730.8 227.6a3.9 3.9 0 1 0 7.8 0a3.9 3.9 0 1 0 -7.8 0zM1679.0 251.9a3.9 3.9 0 1 0 7.8 0a3.9 3.9 0 1 0 -7.8 0zM1460.6 330.6a3.9 3.9 0 1 0 7.8 0a3.9 3.9 0 1 0 -7.8 0zM1511.9 306.1a3.9 3.9 0 1 0 7.8 0a3.9 3.9 0 1 0 -7.8 0zM1698.3 226.4a3.9 3.9 0 1 0 7.8 0a3.9 3.9 0 1 0 -7.8 0zM1467.2 338.4a3.9 3.9 0 1 0 7.8 0a3.9 3.9 0 1 0 -7.8 0zM1791.1 192.1a3.9 3.9 0 1 0 7.8 0a3.9 3.9 0 1 0 -7.8 0zM1772.4 211.4a3.9 3.9 0 1 0 7.8 0a3.9 3.9 0 1 0 -7.8 0zM1455.7 348.3a3.9 3.9 0 1 0 7.8 0a3.9 3.9 0 1 0 -7.8 0zM1462.1 332.2a3.9 3.9 0 1 0 7.8 0a3.9 3.9 0 1 0 -7.8 0zM1424.0 334.4a3.9 3.9 0 1 0 7.8 0a3.9 3.9 0 1 0 -7.8 0zM1686.8 253.3a3.9 3.9 0 1 0 7.8 0a3.9 3.9 0 1 0 -7.8 0zM1436.9 335.5a3.9 3.9 0 1 0 7.8 0a3.9 3.9 0 1 0 -7.8 0zM1662.9 255.4a3.9 3.9 0 1 0 7.8 0a3.9 3.9 0 1 0 -7.8 0zM1449.2 343.2a3.9 3.9 0 1 0 7.8 0a3.9 3.9 0 1 0 -7.8 0zM1433.8 356.1a3.9 3.9 0 1 0 7.8 0a3.9 3.9 0 1 0 -7.8 0zM1688.2 247.6a3.9 3.9 0 1 0 7.8 0a3.9 3.9 0 1 0 -7.8 0zM1804.3 183.2a3.9 3.9 0 1 0 7.8 0a3.9 3.9 0 1 0 -7.8 0zM1477.1 332.7a3.9 3.9 0 1 0 7.8 0a3.9 3.9 0 1 0 -7.8 0zM1791.2 203.3a3.9 3.9 0 1 0 7.8 0a3.9 3.9 0 1 0 -7.8 0zM1746.2 220.4a3.9 3.9 0 1 0 7.8 0a3.9 3.9 0 1 0 -7.8 0zM1548.9 310.8a3.9 3.9 0 1 0 7.8 0a3.9 3.9 0 1 0 -7.8 0zM1674.1 259.7a3.9 3.9 0 1 0 7.8 0a3.9 3.9 0 1 0 -7.8 0zM1728.4 226.3a3.9 3.9 0 1 0 7.8 0a3.9 3.9 0 1 0 -7.8 0zM1679.2 237.5a3.9 3.9 0 1 0 7.8 0a3.9 3.9 0 1 0 -7.8 0zM1514.6 323.4a3.9 3.9 0 1 0 7.8 0a3.9 3.9 0 1 0 -7.8 0zM1705.5 224.4a3.9 3.9 0 1 0 7.8 0a3.9 3.9 0 1 0 -7.8 0zM1479.0 325.5a3.9 3.9 0 1 0 7.8 0a3.9 3.9 0 1 0 -7.8 0zM1645.0 254.8a3.9 3.9 0 1 0 7.8 0a3.9 3.9 0 1 0 -7.8 0zM1555.8 313.6a3.9 3.9 0 1 0 7.8 0a3.9 3.9 0 1 0 -7.8 0zM1561.0 294.2a3.9 3.9 0 1 0 7.8 0a3.9 3.9 0 1 0 -7.8 0zM1811.3 180.4a3.9 3.9 0 1 0 7.8 0a3.9 3.9 0 1 0 -7.8 0zM1625.3 256.4a3.9 3.9 0 1 0 7.8 0a3.9 3.9 0 1 0 -7.8 0zM1770.9 212.1a3.9 3.9 0 1 0 7.8 0a3.9 3.9 0 1 0 -7.8 0zM1493.7 327.0a3.9 3.9 0 1 0 7.8 0a3.9 3.9 0 1 0 -7.8 0zM1495.4 333.2a3.9 3.9 0 1 0 7.8 0a3.9 3.9 0 1 0 -7.8 0zM1610.5 266.8a3.9 3.9 0 1 0 7.8 0a3.9 3.9 0 1 0 -7.8 0zM1826.0 174.0a3.9 3.9 0 1 0 7.8 0a3.9 3.9 0 1 0 -7.8 0zM1641.4 276.8a3.9 3.9 0 1 0 7.8 0a3.9 3.9 0 1 0 -7.8 0zM1518.2 312.0a3.9 3.9 0 1 0 7.8 0a3.9 3.9 0 1 0 -7.8 0zM1796.8 190.0a3.9 3.9 0 1 0 7.8 0a3.9 3.9 0 1 0 -7.8 0zM1774.0 206.7a3.9 3.9 0 1 0 7.8 0a3.9 3.9 0 1 0 -7.8 0zM1817.9 180.7a3.9 3.9 0 1 0 7.8 0a3.9 3.9 0 1 0 -7.8 0zM1788.3 196.9a3.9 3.9 0 1 0 7.8 0a3.9 3.9 0 1 0 -7.8 0zM1487.6 320.5a3.9 3.9 0 1 0 7.8 0a3.9 3.9 0 1 0 -7.8 0zM1608.4 279.6a3.9 3.9 0 1 0 7.8 0a3.9 3.9 0 1 0 -7.8 0zM1593.6 277.2a3.9 3.9 0 1 0 7.8 0a3.9 3.9 0 1 0 -7.8 0zM1506.9 318.2a3.9 3.9 0 1 0 7.8 0a3.9 3.9 0 1 0 -7.8 0zM1698.5 242.8a3.9 3.9 0 1 0 7.8 0a3.9 3.9 0 1 0 -7.8 0zM1402.0 349.7a3.9 3.9 0 1 0 7.8 0a3.9 3.9 0 1 0 -7.8 0zM1692.2 241.1a3.9 3.9 0 1 0 7.8 0a3.9 3.9 0 1 0 -7.8 0zM1518.2 316.3a3.9 3.9 0 1 0 7.8 0a3.9 3.9 0 1 0 -7.8 0zM1405.6 355.4a3.9 3.9 0 1 0 7.8 0a3.9 3.9 0 1 0 -7.8 0zM1810.8 181.2a3.9 3.9 0 1 0 7.8 0a3.9 3.9 0 1 0 -7.8 0zM1456.5 340.8a3.9 3.9 0 1 0 7.8 0a3.9 3.9 0 1 0 -7.8 0zM1660.3 248.1a3.9 3.9 0 1 0 7.8 0a3.9 3.9 0 1 0 -7.8 0zM1497.9 305.5a3.9 3.9 0 1 0 7.8 0a3.9 3.9 0 1 0 -7.8 0zM1430.7 353.1a3.9 3.9 0 1 0 7.8 0a3.9 3.9 0 1 0 -7.8 0zM1573.9 303.5a3.9 3.9 0 1 0 7.8 0a3.9 3.9 0 1 0 -7.8 0zM1824.8 178.9a3.9 3.9 0 1 0 7.8 0a3.9 3.9 0 1 0 -7.8 0zM1547.2 288.8a3.9 3.9 0 1 0 7.8 0a3.9 3.9 0 1 0 -7.8 0zM1798.1 185.8a3.9 3.9 0 1 0 7.8 0a3.9 3.9 0 1 0 -7.8 0zM1449.9 334.2a3.9 3.9 0 1 0 7.8 0a3.9 3.9 0 1 0 -7.8 0zM1508.9 310.0a3.9 3.9 0 1 0 7.8 0a3.9 3.9 0 1 0 -7.8 0zM1465.1 317.9a3.9 3.9 0 1 0 7.8 0a3.9 3.9 0 1 0 -7.8 0zM1398.5 370.8a3.9 3.9 0 1 0 7.8 0a3.9 3.9 0 1 0 -7.8 0zM1430.0 341.8a3.9 3.9 0 1 0 7.8 0a3.9 3.9 0 1 0 -7.8 0zM1676.5 249.4a3.9 3.9 0 1 0 7.8 0a3.9 3.9 0 1 0 -7.8 0zM1781.6 208.9a3.9 3.9 0 1 0 7.8 0a3.9 3.9 0 1 0 -7.8 0zM1660.3 251.2a3.9 3.9 0 1 0 7.8 0a3.9 3.9 0 1 0 -7.8 0zM1674.7 243.7a3.9 3.9 0 1 0 7.8 0a3.9 3.9 0 1 0 -7.8 0zM1465.9 331.4a3.9 3.9 0 1 0 7.8 0a3.9 3.9 0 1 0 -7.8 0zM1615.7 262.9a3.9 3.9 0 1 0 7.8 0a3.9 3.9 0 1 0 -7.8 0zM1591.7 278.4a3.9 3.9 0 1 0 7.8 0a3.9 3.9 0 1 0 -7.8 0zM1421.5 362.1a3.9 3.9 0 1 0 7.8 0a3.9 3.9 0 1 0 -7.8 0zM1626.7 269.8a3.9 3.9 0 1 0 7.8 0a3.9 3.9 0 1 0 -7.8 0zM1424.5 340.7a3.9 3.9 0 1 0 7.8 0a3.9 3.9 0 1 0 -7.8 0zM1406.4 366.0a3.9 3.9 0 1 0 7.8 0a3.9 3.9 0 1 0 -7.8 0zM1677.9 246.9a3.9 3.9 0 1 0 7.8 0a3.9 3.9 0 1 0 -7.8 0zM1701.1 236.3a3.9 3.9 0 1 0 7.8 0a3.9 3.9 0 1 0 -7.8 0zM1621.4 287.3a3.9 3.9 0 1 0 7.8 0a3.9 3.9 0 1 0 -7.8 0zM1435.8 346.9a3.9 3.9 0 1 0 7.8 0a3.9 3.9 0 1 0 -7.8 0zM1573.2 280.2a3.9 3.9 0 1 0 7.8 0a3.9 3.9 0 1 0 -7.8 0zM1462.8 335.5a3.9 3.9 0 1 0 7.8 0a3.9 3.9 0 1 0 -7.8 0zM1423.9 356.5a3.9 3.9 0 1 0 7.8 0a3.9 3.9 0 1 0 -7.8 0zM1575.5 283.2a3.9 3.9 0 1 0 7.8 0a3.9 3.9 0 1 0 -7.8 0zM1582.8 283.8a3.9 3.9 0 1 0 7.8 0a3.9 3.9 0 1 0 -7.8 0zM1587.1 278.0a3.9 3.9 0 1 0 7.8 0a3.9 3.9 0 1 0 -7.8 0zM1569.5 284.2a3.9 3.9 0 1 0 7.8 0a3.9 3.9 0 1 0 -7.8 0zM1726.8 229.0a3.9 3.9 0 1 0 7.8 0a3.9 3.9 0 1 0 -7.8 0zM1547.3 296.2a3.9 3.9 0 1 0 7.8 0a3.9 3.9 0 1 0 -7.8 0zM1540.0 320.3a3.9 3.9 0 1 0 7.8 0a3.9 3.9 0 1 0 -7.8 0zM1688.5 255.4a3.9 3.9 0 1 0 7.8 0a3.9 3.9 0 1 0 -7.8 0zM1789.7 200.4a3.9 3.9 0 1 0 7.8 0a3.9 3.9 0 1 0 -7.8 0zM1664.6 246.5a3.9 3.9 0 1 0 7.8 0a3.9 3.9 0 1 0 -7.8 0zM1660.2 241.2a3.9 3.9 0 1 0 7.8 0a3.9 3.9 0 1 0 -7.8 0zM1600.0 286.5a3.9 3.9 0 1 0 7.8 0a3.9 3.9 0 1 0 -7.8 0zM1615.3 272.3a3.9 3.9 0 1 0 7.8 0a3.9 3.9 0 1 0 -7.8 0zM1683.1 247.4a3.9 3.9 0 1 0 7.8 0a3.9 3.9 0 1 0 -7.8 0zM1640.7 263.7a3.9 3.9 0 1 0 7.8 0a3.9 3.9 0 1 0 -7.8 0zM1562.8 297.1a3.9 3.9 0 1 0 7.8 0a3.9 3.9 0 1 0 -7.8 0zM1386.3 367.0a3.9 3.9 0 1 0 7.8 0a3.9 3.9 0 1 0 -7.8 0zM1487.5 330.7a3.9 3.9 0 1 0 7.8 0a3.9 3.9 0 1 0 -7.8 0zM1418.0 350.9a3.9 3.9 0 1 0 7.8 0a3.9 3.9 0 1 0 -7.8 0zM1521.5 311.3a3.9 3.9 0 1 0 7.8 0a3.9 3.9 0 1 0 -7.8 0zM1768.8 211.4a3.9 3.9 0 1 0 7.8 0a3.9 3.9 0 1 0 -7.8 0zM1764.9 210.7a3.9 3.9 0 1 0 7.8 0a3.9 3.9 0 1 0 -7.8 0zM1784.4 207.9a3.9 3.9 0 1 0 7.8 0a3.9 3.9 0 1 0 -7.8 0zM1781.9 195.4a3.9 3.9 0 1 0 7.8 0a3.9 3.9 0 1 0 -7.8 0zM1441.9 333.7a3.9 3.9 0 1 0 7.8 0a3.9 3.9 0 1 0 -7.8 0zM1636.6 254.0a3.9 3.9 0 1 0 7.8 0a3.9 3.9 0 1 0 -7.8 0zM1836.0 168.2a3.9 3.9 0 1 0 7.8 0a3.9 3.9 0 1 0 -7.8 0zM1823.9 169.3a3.9 3.9 0 1 0 7.8 0a3.9 3.9 0 1 0 -7.8 0zM1393.0 361.2a3.9 3.9 0 1 0 7.8 0a3.9 3.9 0 1 0 -7.8 0zM1754.7 210.7a3.9 3.9 0 1 0 7.8 0a3.9 3.9 0 1 0 -7.8 0zM1824.2 169.0a3.9 3.9 0 1 0 7.8 0a3.9 3.9 0 1 0 -7.8 0zM1808.2 194.1a3.9 3.9 0 1 0 7.8 0a3.9 3.9 0 1 0 -7.8 0zM1713.9 236.5a3.9 3.9 0 1 0 7.8 0a3.9 3.9 0 1 0 -7.8 0zM1686.0 236.9a3.9 3.9 0 1 0 7.8 0a3.9 3.9 0 1 0 -7.8 0zM1390.6 366.8a3.9 3.9 0 1 0 7.8 0a3.9 3.9 0 1 0 -7.8 0zM1719.2 227.7a3.9 3.9 0 1 0 7.8 0a3.9 3.9 0 1 0 -7.8 0zM1551.7 285.9a3.9 3.9 0 1 0 7.8 0a3.9 3.9 0 1 0 -7.8 0zM1416.8 358.4a3.9 3.9 0 1 0 7.8 0a3.9 3.9 0 1 0 -7.8 0zM1568.3 301.0a3.9 3.9 0 1 0 7.8 0a3.9 3.9 0 1 0 -7.8 0zM1786.8 189.4a3.9 3.9 0 1 0 7.8 0a3.9 3.9 0 1 0 -7.8 0zM1394.8 372.2a3.9 3.9 0 1 0 7.8 0a3.9 3.9 0 1 0 -7.8 0zM1484.3 317.0a3.9 3.9 0 1 0 7.8 0a3.9 3.9 0 1 0 -7.8 0zM1613.9 281.6a3.9 3.9 0 1 0 7.8 0a3.9 3.9 0 1 0 -7.8 0zM1645.4 271.1a3.9 3.9 0 1 0 7.8 0a3.9 3.9 0 1 0 -7.8 0zM1828.1 165.8a3.9 3.9 0 1 0 7.8 0a3.9 3.9 0 1 0 -7.8 0zM1688.4 236.4a3.9 3.9 0 1 0 7.8 0a3.9 3.9 0 1 0 -7.8 0zM1731.4 230.0a3.9 3.9 0 1 0 7.8 0a3.9 3.9 0 1 0 -7.8 0zM1808.2 185.6a3.9 3.9 0 1 0 7.8 0a3.9 3.9 0 1 0 -7.8 0zM1501.1 329.9a3.9 3.9 0 1 0 7.8 0a3.9 3.9 0 1 0 -7.8 0zM1835.0 172.1a3.9 3.9 0 1 0 7.8 0a3.9 3.9 0 1 0 -7.8 0zM1674.8 249.3a3.9 3.9 0 1 0 7.8 0a3.9 3.9 0 1 0 -7.8 0zM1692.1 247.9a3.9 3.9 0 1 0 7.8 0a3.9 3.9 0 1 0 -7.8 0zM1682.5 237.9a3.9 3.9 0 1 0 7.8 0a3.9 3.9 0 1 0 -7.8 0zM1604.5 276.6a3.9 3.9 0 1 0 7.8 0a3.9 3.9 0 1 0 -7.8 0zM1499.1 325.7a3.9 3.9 0 1 0 7.8 0a3.9 3.9 0 1 0 -7.8 0zM1670.6 261.7a3.9 3.9 0 1 0 7.8 0a3.9 3.9 0 1 0 -7.8 0zM1598.8 286.3a3.9 3.9 0 1 0 7.8 0a3.9 3.9 0 1 0 -7.8 0zM1795.7 197.8a3.9 3.9 0 1 0 7.8 0a3.9 3.9 0 1 0 -7.8 0zM1706.5 237.1a3.9 3.9 0 1 0 7.8 0a3.9 3.9 0 1 0 -7.8 0zM1421.9 335.5a3.9 3.9 0 1 0 7.8 0a3.9 3.9 0 1 0 -7.8 0zM1586.9 284.8a3.9 3.9 0 1 0 7.8 0a3.9 3.9 0 1 0 -7.8 0zM1403.5 357.0a3.9 3.9 0 1 0 7.8 0a3.9 3.9 0 1 0 -7.8 0zM1414.0 345.4a3.9 3.9 0 1 0 7.8 0a3.9 3.9 0 1 0 -7.8 0zM1528.4 304.1a3.9 3.9 0 1 0 7.8 0a3.9 3.9 0 1 0 -7.8 0zM1411.8 341.2a3.9 3.9 0 1 0 7.8 0a3.9 3.9 0 1 0 -7.8 0zM1760.8 208.2a3.9 3.9 0 1 0 7.8 0a3.9 3.9 0 1 0 -7.8 0zM1633.5 256.0a3.9 3.9 0 1 0 7.8 0a3.9 3.9 0 1 0 -7.8 0zM1449.6 329.1a3.9 3.9 0 1 0 7.8 0a3.9 3.9 0 1 0 -7.8 0zM1408.4 344.0a3.9 3.9 0 1 0 7.8 0a3.9 3.9 0 1 0 -7.8 0zM1469.6 318.2a3.9 3.9 0 1 0 7.8 0a3.9 3.9 0 1 0 -7.8 0zM1712.8 241.5a3.9 3.9 0 1 0 7.8 0a3.9 3.9 0 1 0 -7.8 0zM1530.4 298.4a3.9 3.9 0 1 0 7.8 0a3.9 3.9 0 1 0 -7.8 0zM1475.3 329.3a3.9 3.9 0 1 0 7.8 0a3.9 3.9 0 1 0 -7.8 0zM1507.7 328.2a3.9 3.9 0 1 0 7.8 0a3.9 3.9 0 1 0 -7.8 0zM1481.6 324.7a3.9 3.9 0 1 0 7.8 0a3.9 3.9 0 1 0 -7.8 0zM1409.6 340.4a3.9 3.9 0 1 0 7.8 0a3.9 3.9 0 1 0 -7.8 0zM1689.2 230.4a3.9 3.9 0 1 0 7.8 0a3.9 3.9 0 1 0 -7.8 0zM1547.2 285.5a3.9 3.9 0 1 0 7.8 0a3.9 3.9 0 1 0 -7.8 0zM1487.0 339.0a3.9 3.9 0 1 0 7.8 0a3.9 3.9 0 1 0 -7.8 0zM1808.0 180.2a3.9 3.9 0 1 0 7.8 0a3.9 3.9 0 1 0 -7.8 0zM1768.7 215.5a3.9 3.9 0 1 0 7.8 0a3.9 3.9 0 1 0 -7.8 0zM1613.6 271.2a3.9 3.9 0 1 0 7.8 0a3.9 3.9 0 1 0 -7.8 0zM1781.0 194.8a3.9 3.9 0 1 0 7.8 0a3.9 3.9 0 1 0 -7.8 0zM1466.0 333.4a3.9 3.9 0 1 0 7.8 0a3.9 3.9 0 1 0 -7.8 0zM1604.0 276.9a3.9 3.9 0 1 0 7.8 0a3.9 3.9 0 1 0 -7.8 0zM1820.8 182.1a3.9 3.9 0 1 0 7.8 0a3.9 3.9 0 1 0 -7.8 0zM1390.7 368.9a3.9 3.9 0 1 0 7.8 0a3.9 3.9 0 1 0 -7.8 0zM1488.3 312.3a3.9 3.9 0 1 0 7.8 0a3.9 3.9 0 1 0 -7.8 0zM1536.3 307.1a3.9 3.9 0 1 0 7.8 0a3.9 3.9 0 1 0 -7.8 0zM1544.7 302.0a3.9 3.9 0 1 0 7.8 0a3.9 3.9 0 1 0 -7.8 0zM1787.2 195.1a3.9 3.9 0 1 0 7.8 0a3.9 3.9 0 1 0 -7.8 0zM1807.1 185.3a3.9 3.9 0 1 0 7.8 0a3.9 3.9 0 1 0 -7.8 0zM1779.7 201.2a3.9 3.9 0 1 0 7.8 0a3.9 3.9 0 1 0 -7.8 0zM1571.3 283.3a3.9 3.9 0 1 0 7.8 0a3.9 3.9 0 1 0 -7.8 0zM1553.5 313.3a3.9 3.9 0 1 0 7.8 0a3.9 3.9 0 1 0 -7.8 0zM1530.4 318.3a3.9 3.9 0 1 0 7.8 0a3.9 3.9 0 1 0 -7.8 0zM1713.3 222.5a3.9 3.9 0 1 0 7.8 0a3.9 3.9 0 1 0 -7.8 0zM1663.8 245.7a3.9 3.9 0 1 0 7.8 0a3.9 3.9 0 1 0 -7.8 0zM1397.6 367.7a3.9 3.9 0 1 0 7.8 0a3.9 3.9 0 1 0 -7.8 0zM1560.9 279.9a3.9 3.9 0 1 0 7.8 0a3.9 3.9 0 1 0 -7.8 0zM1530.2 302.7a3.9 3.9 0 1 0 7.8 0a3.9 3.9 0 1 0 -7.8 0zM1500.5 309.6a3.9 3.9 0 1 0 7.8 0a3.9 3.9 0 1 0 -7.8 0zM1613.2 283.0a3.9 3.9 0 1 0 7.8 0a3.9 3.9 0 1 0 -7.8 0zM1529.1 303.0a3.9 3.9 0 1 0 7.8 0a3.9 3.9 0 1 0 -7.8 0zM1829.3 172.9a3.9 3.9 0 1 0 7.8 0a3.9 3.9 0 1 0 -7.8 0zM1473.9 322.1a3.9 3.9 0 1 0 7.8 0a3.9 3.9 0 1 0 -7.8 0zM1683.2 241.9a3.9 3.9 0 1 0 7.8 0a3.9 3.9 0 1 0 -7.8 0zM1605.6 282.4a3.9 3.9 0 1 0 7.8 0a3.9 3.9 0 1 0 -7.8 0zM1674.8 244.7a3.9 3.9 0 1 0 7.8 0a3.9 3.9 0 1 0 -7.8 0zM1506.3 302.8a3.9 3.9 0 1 0 7.8 0a3.9 3.9 0 1 0 -7.8 0zM1451.7 328.4a3.9 3.9 0 1 0 7.8 0a3.9 3.9 0 1 0 -7.8 0zM1738.0 225.8a3.9 3.9 0 1 0 7.8 0a3.9 3.9 0 1 0 -7.8 0zM1611.4 257.3a3.9 3.9 0 1 0 7.8 0a3.9 3.9 0 1 0 -7.8 0zM1783.8 192.2a3.9 3.9 0 1 0 7.8 0a3.9 3.9 0 1 0 -7.8 0zM1740.8 223.6a3.9 3.9 0 1 0 7.8 0a3.9 3.9 0 1 0 -7.8 0zM1646.1 265.9a3.9 3.9 0 1 0 7.8 0a3.9 3.9 0 1 0 -7.8 0zM1612.2 260.5a3.9 3.9 0 1 0 7.8 0a3.9 3.9 0 1 0 -7.8 0zM1665.7 257.4a3.9 3.9 0 1 0 7.8 0a3.9 3.9 0 1 0 -7.8 0zM1490.0 309.9a3.9 3.9 0 1 0 7.8 0a3.9 3.9 0 1 0 -7.8 0zM1744.1 224.4a3.9 3.9 0 1 0 7.8 0a3.9 3.9 0 1 0 -7.8 0zM1634.3 272.8a3.9 3.9 0 1 0 7.8 0a3.9 3.9 0 1 0 -7.8 0zM1572.6 305.4a3.9 3.9 0 1 0 7.8 0a3.9 3.9 0 1 0 -7.8 0zM1738.1 226.5a3.9 3.9 0 1 0 7.8 0a3.9 3.9 0 1 0 -7.8 0zM1408.7 348.6a3.9 3.9 0 1 0 7.8 0a3.9 3.9 0 1 0 -7.8 0zM1655.6 247.2a3.9 3.9 0 1 0 7.8 0a3.9 3.9 0 1 0 -7.8 0zM1616.7 258.7a3.9 3.9 0 1 0 7.8 0a3.9 3.9 0 1 0 -7.8 0zM1666.2 264.5a3.9 3.9 0 1 0 7.8 0a3.9 3.9 0 1 0 -7.8 0zM1684.0 239.0a3.9 3.9 0 1 0 7.8 0a3.9 3.9 0 1 0 -7.8 0zM1780.5 205.4a3.9 3.9 0 1 0 7.8 0a3.9 3.9 0 1 0 -7.8 0zM1465.9 324.3a3.9 3.9 0 1 0 7.8 0a3.9 3.9 0 1 0 -7.8 0zM1758.0 206.9a3.9 3.9 0 1 0 7.8 0a3.9 3.9 0 1 0 -7.8 0zM1637.2 249.5a3.9 3.9 0 1 0 7.8 0a3.9 3.9 0 1 0 -7.8 0zM1755.9 216.2a3.9 3.9 0 1 0 7.8 0a3.9 3.9 0 1 0 -7.8 0zM1397.1 365.8a3.9 3.9 0 1 0 7.8 0a3.9 3.9 0 1 0 -7.8 0zM1613.9 275.4a3.9 3.9 0 1 0 7.8 0a3.9 3.9 0 1 0 -7.8 0zM1686.3 232.7a3.9 3.9 0 1 0 7.8 0a3.9 3.9 0 1 0 -7.8 0zM1700.7 215.5a3.9 3.9 0 1 0 7.8 0a3.9 3.9 0 1 0 -7.8 0zM1699.3 216.4a3.9 3.9 0 1 0 7.8 0a3.9 3.9 0 1 0 -7.8 0zM1711.4 206.0a3.9 3.9 0 1 0 7.8 0a3.9 3.9 0 1 0 -7.8 0zM1688.1 230.0a3.9 3.9 0 1 0 7.8 0a3.9 3.9 0 1 0 -7.8 0zM1706.6 215.4a3.9 3.9 0 1 0 7.8 0a3.9 3.9 0 1 0 -7.8 0zM1689.6 228.6a3.9 3.9 0 1 0 7.8 0a3.9 3.9 0 1 0 -7.8 0zM1711.3 208.8a3.9 3.9 0 1 0 7.8 0a3.9 3.9 0 1 0 -7.8 0zM1693.8 223.2a3.9 3.9 0 1 0 7.8 0a3.9 3.9 0 1 0 -7.8 0zM1703.7 220.3a3.9 3.9 0 1 0 7.8 0a3.9 3.9 0 1 0 -7.8 0zM1281.8 302.6a3.9 3.9 0 1 0 7.8 0a3.9 3.9 0 1 0 -7.8 0zM1283.1 341.4a3.9 3.9 0 1 0 7.8 0a3.9 3.9 0 1 0 -7.8 0zM1446.1 307.5a3.9 3.9 0 1 0 7.8 0a3.9 3.9 0 1 0 -7.8 0zM1436.1 322.6a3.9 3.9 0 1 0 7.8 0a3.9 3.9 0 1 0 -7.8 0zM1832.1 160.0a3.9 3.9 0 1 0 7.8 0a3.9 3.9 0 1 0 -7.8 0zM1839.1 166.0a3.9 3.9 0 1 0 7.8 0a3.9 3.9 0 1 0 -7.8 0z" fill="none" stroke="#d84848" stroke-width="0.95"/>
<path d="M1340.2 315.4l4.7 8.4h-9.4zM1362.2 333.7l4.7 8.4h-9.4zM1377.6 309.7l4.7 8.4h-9.4zM1400.6 286.7l4.7 8.4h-9.4zM1394.3 296.2l4.7 8.4h-9.4zM1382.0 330.2l4.7 8.4h-9.4zM1391.3 306.3l4.7 8.4h-9.4zM1391.2 281.4l4.7 8.4h-9.4zM1364.4 330.2l4.7 8.4h-9.4zM1387.5 302.6l4.7 8.4h-9.4zM1350.3 304.3l4.7 8.4h-9.4zM1364.5 292.0l4.7 8.4h-9.4zM1400.5 299.6l4.7 8.4h-9.4zM1371.6 294.1l4.7 8.4h-9.4zM1356.9 308.1l4.7 8.4h-9.4zM1344.3 303.4l4.7 8.4h-9.4zM1360.0 325.1l4.7 8.4h-9.4zM1398.4 277.8l4.7 8.4h-9.4zM1343.7 329.1l4.7 8.4h-9.4zM1334.7 299.2l4.7 8.4h-9.4zM1374.0 311.1l4.7 8.4h-9.4zM1349.4 324.8l4.7 8.4h-9.4zM1384.6 283.1l4.7 8.4h-9.4zM1384.6 301.0l4.7 8.4h-9.4zM1369.0 314.5l4.7 8.4h-9.4zM1380.2 322.7l4.7 8.4h-9.4zM1346.8 296.3l4.7 8.4h-9.4zM1348.6 296.0l4.7 8.4h-9.4zM1390.0 318.6l4.7 8.4h-9.4zM1359.8 322.5l4.7 8.4h-9.4zM1390.2 318.5l4.7 8.4h-9.4zM1388.7 307.6l4.7 8.4h-9.4zM1390.7 294.6l4.7 8.4h-9.4zM1376.2 297.6l4.7 8.4h-9.4zM1362.7 305.9l4.7 8.4h-9.4zM1369.3 285.4l4.7 8.4h-9.4zM1365.0 311.4l4.7 8.4h-9.4zM1398.6 303.7l4.7 8.4h-9.4zM1344.7 306.3l4.7 8.4h-9.4zM1387.7 285.6l4.7 8.4h-9.4zM1395.4 280.5l4.7 8.4h-9.4zM1381.9 310.7l4.7 8.4h-9.4zM1402.0 288.7l4.7 8.4h-9.4zM1355.9 296.0l4.7 8.4h-9.4zM1353.7 303.0l4.7 8.4h-9.4zM1375.1 298.2l4.7 8.4h-9.4zM1346.8 330.1l4.7 8.4h-9.4zM1338.9 333.4l4.7 8.4h-9.4zM1352.3 325.7l4.7 8.4h-9.4zM1386.2 327.3l4.7 8.4h-9.4zM1388.7 281.7l4.7 8.4h-9.4zM1388.0 325.8l4.7 8.4h-9.4zM1390.0 303.7l4.7 8.4h-9.4zM1337.4 287.9l4.7 8.4h-9.4zM1351.5 323.4l4.7 8.4h-9.4zM1345.0 314.7l4.7 8.4h-9.4zM1387.4 308.0l4.7 8.4h-9.4zM1385.8 320.4l4.7 8.4h-9.4zM1385.4 283.0l4.7 8.4h-9.4zM1381.0 311.4l4.7 8.4h-9.4zM1392.3 290.8l4.7 8.4h-9.4zM1344.2 289.3l4.7 8.4h-9.4zM1366.0 294.1l4.7 8.4h-9.4zM1388.8 307.5l4.7 8.4h-9.4zM1360.7 304.3l4.7 8.4h-9.4zM1340.4 293.3l4.7 8.4h-9.4zM1397.2 284.4l4.7 8.4h-9.4zM1372.1 313.5l4.7 8.4h-9.4zM1387.3 289.5l4.7 8.4h-9.4zM1362.0 293.4l4.7 8.4h-9.4zM1342.2 305.2l4.7 8.4h-9.4zM1371.7 301.1l4.7 8.4h-9.4zM1361.7 315.4l4.7 8.4h-9.4zM1336.1 328.0l4.7 8.4h-9.4zM1335.3 306.2l4.7 8.4h-9.4zM1384.7 283.2l4.7 8.4h-9.4zM1344.5 287.8l4.7 8.4h-9.4zM1343.8 315.7l4.7 8.4h-9.4zM1386.8 327.0l4.7 8.4h-9.4zM1371.7 329.0l4.7 8.4h-9.4zM1363.6 313.4l4.7 8.4h-9.4zM1402.0 276.9l4.7 8.4h-9.4zM1398.7 288.5l4.7 8.4h-9.4zM1365.2 333.9l4.7 8.4h-9.4zM1365.0 333.1l4.7 8.4h-9.4zM1381.7 290.5l4.7 8.4h-9.4zM1403.3 276.5l4.7 8.4h-9.4zM1383.0 298.6l4.7 8.4h-9.4zM1402.4 284.1l4.7 8.4h-9.4zM1347.0 299.5l4.7 8.4h-9.4zM1384.6 302.0l4.7 8.4h-9.4zM1377.2 329.0l4.7 8.4h-9.4zM1384.7 322.5l4.7 8.4h-9.4zM1353.4 291.1l4.7 8.4h-9.4zM1370.2 294.2l4.7 8.4h-9.4zM1387.9 306.7l4.7 8.4h-9.4zM1376.4 294.7l4.7 8.4h-9.4zM1362.2 329.2l4.7 8.4h-9.4zM1379.2 299.8l4.7 8.4h-9.4zM1373.1 310.6l4.7 8.4h-9.4zM1394.3 305.0l4.7 8.4h-9.4zM1341.3 291.2l4.7 8.4h-9.4zM1349.6 328.3l4.7 8.4h-9.4zM1360.8 286.8l4.7 8.4h-9.4zM1379.7 305.4l4.7 8.4h-9.4zM1350.3 290.4l4.7 8.4h-9.4zM1384.2 308.4l4.7 8.4h-9.4zM1400.0 284.2l4.7 8.4h-9.4zM1359.8 330.0l4.7 8.4h-9.4zM1385.6 293.3l4.7 8.4h-9.4zM1610.5 174.0l4.7 8.4h-9.4zM1526.8 223.8l4.7 8.4h-9.4zM1699.1 136.7l4.7 8.4h-9.4zM1589.6 189.7l4.7 8.4h-9.4zM1700.7 131.7l4.7 8.4h-9.4zM1447.7 251.2l4.7 8.4h-9.4zM1796.1 92.2l4.7 8.4h-9.4zM1557.5 195.3l4.7 8.4h-9.4zM1462.3 239.7l4.7 8.4h-9.4zM1719.1 119.5l4.7 8.4h-9.4zM1561.0 203.6l4.7 8.4h-9.4zM1615.2 167.7l4.7 8.4h-9.4zM1438.0 260.8l4.7 8.4h-9.4zM1604.0 168.7l4.7 8.4h-9.4zM1780.6 95.2l4.7 8.4h-9.4zM1622.5 174.4l4.7 8.4h-9.4zM1564.7 202.5l4.7 8.4h-9.4zM1681.5 137.1l4.7 8.4h-9.4zM1588.6 193.9l4.7 8.4h-9.4zM1650.1 143.7l4.7 8.4h-9.4zM1748.4 101.8l4.7 8.4h-9.4zM1525.8 212.1l4.7 8.4h-9.4zM1487.4 236.4l4.7 8.4h-9.4zM1654.4 153.3l4.7 8.4h-9.4zM1598.9 172.5l4.7 8.4h-9.4zM1684.2 146.3l4.7 8.4h-9.4zM1425.5 270.0l4.7 8.4h-9.4zM1729.8 126.4l4.7 8.4h-9.4zM1718.1 132.5l4.7 8.4h-9.4zM1662.1 159.9l4.7 8.4h-9.4zM1702.6 122.3l4.7 8.4h-9.4zM1693.5 136.0l4.7 8.4h-9.4zM1619.5 160.1l4.7 8.4h-9.4zM1785.0 98.3l4.7 8.4h-9.4zM1721.8 112.2l4.7 8.4h-9.4zM1473.3 229.6l4.7 8.4h-9.4zM1558.2 186.2l4.7 8.4h-9.4zM1705.5 124.6l4.7 8.4h-9.4zM1805.8 81.9l4.7 8.4h-9.4zM1564.8 199.4l4.7 8.4h-9.4zM1607.1 177.8l4.7 8.4h-9.4zM1746.9 107.6l4.7 8.4h-9.4zM1473.9 225.6l4.7 8.4h-9.4zM1799.9 89.0l4.7 8.4h-9.4zM1613.8 159.4l4.7 8.4h-9.4zM1608.6 168.4l4.7 8.4h-9.4zM1471.3 244.6l4.7 8.4h-9.4zM1678.7 144.1l4.7 8.4h-9.4zM1740.4 119.1l4.7 8.4h-9.4zM1747.3 94.7l4.7 8.4h-9.4zM1616.3 172.8l4.7 8.4h-9.4zM1763.6 99.1l4.7 8.4h-9.4zM1586.4 175.2l4.7 8.4h-9.4zM1496.0 237.4l4.7 8.4h-9.4zM1412.0 281.9l4.7 8.4h-9.4zM1797.9 82.5l4.7 8.4h-9.4zM1479.0 229.2l4.7 8.4h-9.4zM1733.4 119.8l4.7 8.4h-9.4zM1775.1 96.7l4.7 8.4h-9.4zM1614.8 168.9l4.7 8.4h-9.4zM1629.8 167.2l4.7 8.4h-9.4zM1522.9 225.5l4.7 8.4h-9.4zM1480.0 248.2l4.7 8.4h-9.4zM1594.2 165.6l4.7 8.4h-9.4zM1445.9 258.2l4.7 8.4h-9.4zM1771.3 87.2l4.7 8.4h-9.4zM1414.4 269.0l4.7 8.4h-9.4zM1722.1 110.8l4.7 8.4h-9.4zM1566.2 180.9l4.7 8.4h-9.4zM1405.8 268.3l4.7 8.4h-9.4zM1546.4 202.6l4.7 8.4h-9.4zM1689.0 139.2l4.7 8.4h-9.4zM1769.3 98.2l4.7 8.4h-9.4zM1662.5 156.4l4.7 8.4h-9.4zM1531.9 222.4l4.7 8.4h-9.4zM1457.6 258.3l4.7 8.4h-9.4zM1594.7 170.9l4.7 8.4h-9.4zM1548.0 199.7l4.7 8.4h-9.4zM1471.1 227.8l4.7 8.4h-9.4zM1511.1 234.1l4.7 8.4h-9.4zM1711.4 120.3l4.7 8.4h-9.4zM1688.2 129.1l4.7 8.4h-9.4zM1456.4 246.3l4.7 8.4h-9.4zM1545.2 213.4l4.7 8.4h-9.4zM1443.2 262.6l4.7 8.4h-9.4zM1444.1 267.0l4.7 8.4h-9.4zM1707.0 137.8l4.7 8.4h-9.4zM1668.2 138.9l4.7 8.4h-9.4zM1785.1 100.9l4.7 8.4h-9.4zM1686.5 142.4l4.7 8.4h-9.4zM1681.6 138.2l4.7 8.4h-9.4zM1516.6 211.9l4.7 8.4h-9.4zM1635.3 154.3l4.7 8.4h-9.4zM1659.1 147.9l4.7 8.4h-9.4zM1433.7 270.6l4.7 8.4h-9.4zM1654.9 155.3l4.7 8.4h-9.4zM1692.7 144.2l4.7 8.4h-9.4zM1626.2 158.9l4.7 8.4h-9.4zM1800.4 83.1l4.7 8.4h-9.4zM1600.8 179.6l4.7 8.4h-9.4zM1491.2 224.7l4.7 8.4h-9.4zM1799.5 98.4l4.7 8.4h-9.4zM1478.2 243.4l4.7 8.4h-9.4zM1783.9 94.5l4.7 8.4h-9.4zM1749.9 95.6l4.7 8.4h-9.4zM1528.6 199.5l4.7 8.4h-9.4zM1604.1 179.5l4.7 8.4h-9.4zM1533.2 202.2l4.7 8.4h-9.4zM1683.3 147.4l4.7 8.4h-9.4zM1744.7 105.9l4.7 8.4h-9.4zM1429.0 263.3l4.7 8.4h-9.4zM1455.1 257.0l4.7 8.4h-9.4zM1447.8 263.0l4.7 8.4h-9.4zM1438.9 254.1l4.7 8.4h-9.4zM1646.7 158.1l4.7 8.4h-9.4zM1549.7 182.5l4.7 8.4h-9.4zM1559.6 194.9l4.7 8.4h-9.4zM1578.8 196.6l4.7 8.4h-9.4zM1658.3 151.8l4.7 8.4h-9.4zM1417.6 260.8l4.7 8.4h-9.4zM1515.5 229.6l4.7 8.4h-9.4zM1775.5 93.5l4.7 8.4h-9.4zM1506.6 216.6l4.7 8.4h-9.4zM1624.3 166.7l4.7 8.4h-9.4zM1516.8 225.1l4.7 8.4h-9.4zM1575.6 176.4l4.7 8.4h-9.4zM1458.9 251.7l4.7 8.4h-9.4zM1700.6 140.5l4.7 8.4h-9.4zM1550.8 189.7l4.7 8.4h-9.4zM1753.9 97.0l4.7 8.4h-9.4zM1558.5 196.6l4.7 8.4h-9.4zM1458.5 242.2l4.7 8.4h-9.4zM1442.0 268.5l4.7 8.4h-9.4zM1647.0 164.5l4.7 8.4h-9.4zM1514.2 225.1l4.7 8.4h-9.4zM1632.1 160.7l4.7 8.4h-9.4zM1670.0 140.2l4.7 8.4h-9.4zM1658.5 155.7l4.7 8.4h-9.4zM1431.7 256.7l4.7 8.4h-9.4zM1528.0 205.6l4.7 8.4h-9.4zM1777.5 83.9l4.7 8.4h-9.4zM1594.6 182.4l4.7 8.4h-9.4zM1803.7 89.3l4.7 8.4h-9.4zM1444.1 257.9l4.7 8.4h-9.4zM1600.0 163.7l4.7 8.4h-9.4zM1427.3 262.6l4.7 8.4h-9.4zM1604.9 187.9l4.7 8.4h-9.4zM1444.8 243.5l4.7 8.4h-9.4zM1495.7 233.6l4.7 8.4h-9.4zM1695.3 125.2l4.7 8.4h-9.4zM1492.8 241.3l4.7 8.4h-9.4zM1420.8 272.4l4.7 8.4h-9.4zM1708.0 120.9l4.7 8.4h-9.4zM1774.7 100.5l4.7 8.4h-9.4zM1680.9 130.0l4.7 8.4h-9.4zM1520.6 214.8l4.7 8.4h-9.4zM1696.2 141.1l4.7 8.4h-9.4zM1416.4 273.9l4.7 8.4h-9.4zM1752.0 104.9l4.7 8.4h-9.4zM1765.4 107.3l4.7 8.4h-9.4zM1409.3 290.9l4.7 8.4h-9.4zM1535.0 206.0l4.7 8.4h-9.4zM1438.3 256.3l4.7 8.4h-9.4zM1442.0 243.5l4.7 8.4h-9.4zM1428.3 261.4l4.7 8.4h-9.4zM1750.5 104.0l4.7 8.4h-9.4zM1602.4 169.2l4.7 8.4h-9.4zM1575.3 175.6l4.7 8.4h-9.4zM1505.4 231.7l4.7 8.4h-9.4zM1485.0 220.1l4.7 8.4h-9.4zM1352.0 237.3l4.7 8.4h-9.4zM1811.0 57.8l4.7 8.4h-9.4z" fill="none" stroke="#5454a8" stroke-width="0.95"/>
<path d="M1137.7 469.7l4.7 -8.4h-9.4zM1133.6 458.1l4.7 -8.4h-9.4zM1139.0 472.7l4.7 -8.4h-9.4zM1138.3 465.5l4.7 -8.4h-9.4zM1133.8 455.3l4.7 -8.4h-9.4zM1144.6 464.5l4.7 -8.4h-9.4zM1145.0 461.8l4.7 -8.4h-9.4zM1140.8 456.0l4.7 -8.4h-9.4zM1136.0 452.4l4.7 -8.4h-9.4zM1135.0 462.0l4.7 -8.4h-9.4zM1142.7 468.9l4.7 -8.4h-9.4zM1143.6 470.8l4.7 -8.4h-9.4zM1145.3 451.4l4.7 -8.4h-9.4zM1148.0 463.1l4.7 -8.4h-9.4zM1139.8 453.3l4.7 -8.4h-9.4zM1134.8 452.8l4.7 -8.4h-9.4zM1133.7 470.1l4.7 -8.4h-9.4zM1138.7 469.9l4.7 -8.4h-9.4zM1277.9 378.7l4.7 -8.4h-9.4zM1444.8 312.6l4.7 -8.4h-9.4zM1241.6 407.5l4.7 -8.4h-9.4zM1465.6 303.6l4.7 -8.4h-9.4zM1144.6 468.6l4.7 -8.4h-9.4zM1225.3 417.7l4.7 -8.4h-9.4zM1194.8 431.4l4.7 -8.4h-9.4zM1274.0 388.6l4.7 -8.4h-9.4zM1400.4 332.6l4.7 -8.4h-9.4zM1421.9 322.5l4.7 -8.4h-9.4zM1349.3 342.9l4.7 -8.4h-9.4zM1405.0 325.4l4.7 -8.4h-9.4zM1409.6 317.8l4.7 -8.4h-9.4zM1464.9 304.8l4.7 -8.4h-9.4zM1203.4 432.1l4.7 -8.4h-9.4zM1324.6 355.2l4.7 -8.4h-9.4zM1411.6 323.2l4.7 -8.4h-9.4zM1366.1 345.7l4.7 -8.4h-9.4zM1188.2 423.2l4.7 -8.4h-9.4zM1234.5 400.7l4.7 -8.4h-9.4zM1181.1 426.5l4.7 -8.4h-9.4zM1302.0 374.0l4.7 -8.4h-9.4zM1403.5 322.5l4.7 -8.4h-9.4zM1436.0 309.7l4.7 -8.4h-9.4zM1335.6 336.5l4.7 -8.4h-9.4zM1245.2 394.3l4.7 -8.4h-9.4zM1164.2 443.3l4.7 -8.4h-9.4zM1341.7 334.6l4.7 -8.4h-9.4zM1229.4 414.2l4.7 -8.4h-9.4zM1273.6 387.8l4.7 -8.4h-9.4zM1189.7 425.5l4.7 -8.4h-9.4zM1407.4 327.3l4.7 -8.4h-9.4zM1173.3 443.7l4.7 -8.4h-9.4zM1401.5 330.1l4.7 -8.4h-9.4zM1393.1 334.2l4.7 -8.4h-9.4zM1268.3 389.2l4.7 -8.4h-9.4zM1226.7 410.6l4.7 -8.4h-9.4zM1394.2 335.0l4.7 -8.4h-9.4zM1390.0 332.7l4.7 -8.4h-9.4zM1174.3 449.5l4.7 -8.4h-9.4zM1268.8 395.5l4.7 -8.4h-9.4zM1160.7 450.5l4.7 -8.4h-9.4zM1305.7 374.4l4.7 -8.4h-9.4zM1398.7 325.8l4.7 -8.4h-9.4zM1388.8 328.0l4.7 -8.4h-9.4zM1462.3 291.2l4.7 -8.4h-9.4zM1456.2 308.1l4.7 -8.4h-9.4zM1236.1 408.4l4.7 -8.4h-9.4zM1420.2 319.6l4.7 -8.4h-9.4zM1453.0 301.7l4.7 -8.4h-9.4zM1298.6 379.3l4.7 -8.4h-9.4zM1309.8 362.9l4.7 -8.4h-9.4zM1419.1 306.7l4.7 -8.4h-9.4zM1224.2 415.0l4.7 -8.4h-9.4zM1245.3 404.7l4.7 -8.4h-9.4zM1314.8 368.5l4.7 -8.4h-9.4zM1303.0 355.3l4.7 -8.4h-9.4zM1364.7 327.5l4.7 -8.4h-9.4zM1383.3 327.6l4.7 -8.4h-9.4zM1239.9 392.1l4.7 -8.4h-9.4zM1300.8 370.6l4.7 -8.4h-9.4zM1386.4 337.7l4.7 -8.4h-9.4zM1293.1 375.6l4.7 -8.4h-9.4zM1323.1 340.7l4.7 -8.4h-9.4zM1288.5 378.5l4.7 -8.4h-9.4zM1163.3 438.6l4.7 -8.4h-9.4zM1467.3 300.9l4.7 -8.4h-9.4zM1243.9 391.7l4.7 -8.4h-9.4zM1447.4 306.3l4.7 -8.4h-9.4zM1293.7 374.5l4.7 -8.4h-9.4zM1443.4 295.2l4.7 -8.4h-9.4zM1191.6 422.4l4.7 -8.4h-9.4zM1436.3 298.1l4.7 -8.4h-9.4zM1154.9 461.2l4.7 -8.4h-9.4zM1206.6 412.0l4.7 -8.4h-9.4zM1475.7 298.9l4.7 -8.4h-9.4zM1267.0 395.5l4.7 -8.4h-9.4zM1447.8 293.3l4.7 -8.4h-9.4zM1343.0 352.5l4.7 -8.4h-9.4zM1454.8 306.6l4.7 -8.4h-9.4zM1376.7 339.1l4.7 -8.4h-9.4zM1314.3 368.8l4.7 -8.4h-9.4zM1189.6 431.4l4.7 -8.4h-9.4zM1155.1 457.7l4.7 -8.4h-9.4zM1407.8 322.3l4.7 -8.4h-9.4zM1315.2 369.1l4.7 -8.4h-9.4zM1274.4 386.4l4.7 -8.4h-9.4zM1401.2 315.1l4.7 -8.4h-9.4zM1229.7 404.0l4.7 -8.4h-9.4zM1356.3 336.5l4.7 -8.4h-9.4zM1141.5 453.9l4.7 -8.4h-9.4zM1328.3 351.1l4.7 -8.4h-9.4zM1476.8 303.4l4.7 -8.4h-9.4zM1186.3 441.8l4.7 -8.4h-9.4zM1163.0 436.3l4.7 -8.4h-9.4zM1411.1 326.9l4.7 -8.4h-9.4zM1402.6 333.6l4.7 -8.4h-9.4zM1168.4 445.7l4.7 -8.4h-9.4zM1185.0 425.0l4.7 -8.4h-9.4zM1423.5 306.2l4.7 -8.4h-9.4zM1329.5 355.5l4.7 -8.4h-9.4zM1460.5 299.8l4.7 -8.4h-9.4zM1472.1 286.5l4.7 -8.4h-9.4zM1205.9 428.4l4.7 -8.4h-9.4zM1297.4 378.7l4.7 -8.4h-9.4zM1360.9 348.8l4.7 -8.4h-9.4zM1224.2 421.9l4.7 -8.4h-9.4zM1266.6 384.2l4.7 -8.4h-9.4zM1412.6 312.0l4.7 -8.4h-9.4zM1417.2 306.4l4.7 -8.4h-9.4zM1406.2 320.7l4.7 -8.4h-9.4zM1173.5 436.6l4.7 -8.4h-9.4zM1447.6 301.5l4.7 -8.4h-9.4zM1307.7 348.1l4.7 -8.4h-9.4zM1383.5 321.5l4.7 -8.4h-9.4zM1158.5 449.9l4.7 -8.4h-9.4zM1300.9 360.0l4.7 -8.4h-9.4zM1371.3 327.5l4.7 -8.4h-9.4zM1475.0 302.5l4.7 -8.4h-9.4zM1344.0 340.1l4.7 -8.4h-9.4zM1475.9 296.0l4.7 -8.4h-9.4zM1407.9 317.4l4.7 -8.4h-9.4zM1172.0 441.0l4.7 -8.4h-9.4zM1334.7 340.6l4.7 -8.4h-9.4zM1258.4 382.1l4.7 -8.4h-9.4zM1389.0 317.7l4.7 -8.4h-9.4zM1318.3 351.6l4.7 -8.4h-9.4zM1171.6 431.3l4.7 -8.4h-9.4zM1439.7 304.7l4.7 -8.4h-9.4zM1349.5 345.2l4.7 -8.4h-9.4zM1473.1 302.1l4.7 -8.4h-9.4zM1312.7 371.0l4.7 -8.4h-9.4zM1407.5 332.2l4.7 -8.4h-9.4zM1438.1 311.1l4.7 -8.4h-9.4zM1356.3 334.8l4.7 -8.4h-9.4zM1323.9 347.2l4.7 -8.4h-9.4zM1380.7 332.7l4.7 -8.4h-9.4zM1329.0 351.7l4.7 -8.4h-9.4zM1278.2 370.8l4.7 -8.4h-9.4zM1341.3 345.6l4.7 -8.4h-9.4zM1233.1 404.6l4.7 -8.4h-9.4zM1197.3 426.8l4.7 -8.4h-9.4zM1287.7 363.2l4.7 -8.4h-9.4zM1210.3 423.5l4.7 -8.4h-9.4zM1350.9 346.7l4.7 -8.4h-9.4zM1318.0 367.1l4.7 -8.4h-9.4zM1286.1 385.8l4.7 -8.4h-9.4zM1190.6 421.3l4.7 -8.4h-9.4zM1366.7 332.2l4.7 -8.4h-9.4zM1178.8 443.1l4.7 -8.4h-9.4zM1460.4 305.9l4.7 -8.4h-9.4zM1193.3 427.8l4.7 -8.4h-9.4zM1236.4 405.1l4.7 -8.4h-9.4zM1209.3 433.5l4.7 -8.4h-9.4zM1310.1 358.4l4.7 -8.4h-9.4zM1262.2 385.3l4.7 -8.4h-9.4zM1213.6 412.8l4.7 -8.4h-9.4zM1472.3 304.9l4.7 -8.4h-9.4zM1448.2 303.8l4.7 -8.4h-9.4zM1244.8 393.4l4.7 -8.4h-9.4zM1390.3 329.6l4.7 -8.4h-9.4zM1434.3 314.3l4.7 -8.4h-9.4zM1334.9 358.9l4.7 -8.4h-9.4zM1270.9 379.8l4.7 -8.4h-9.4zM1419.4 316.4l4.7 -8.4h-9.4zM1291.4 374.9l4.7 -8.4h-9.4zM1409.2 319.1l4.7 -8.4h-9.4zM1261.0 393.5l4.7 -8.4h-9.4zM1143.4 467.0l4.7 -8.4h-9.4zM1307.5 368.3l4.7 -8.4h-9.4zM1360.7 348.8l4.7 -8.4h-9.4zM1347.8 354.3l4.7 -8.4h-9.4zM1172.5 431.4l4.7 -8.4h-9.4zM1239.1 397.9l4.7 -8.4h-9.4zM1420.9 322.2l4.7 -8.4h-9.4zM1379.0 332.3l4.7 -8.4h-9.4zM1244.8 392.3l4.7 -8.4h-9.4zM1371.7 339.5l4.7 -8.4h-9.4zM1177.2 432.4l4.7 -8.4h-9.4zM1203.9 414.6l4.7 -8.4h-9.4zM1218.6 416.7l4.7 -8.4h-9.4zM1317.0 367.0l4.7 -8.4h-9.4zM1355.4 329.8l4.7 -8.4h-9.4zM1478.4 300.3l4.7 -8.4h-9.4zM1141.0 457.7l4.7 -8.4h-9.4zM1171.7 434.4l4.7 -8.4h-9.4zM1193.9 424.2l4.7 -8.4h-9.4zM1388.9 327.4l4.7 -8.4h-9.4zM1136.3 469.0l4.7 -8.4h-9.4zM1467.7 296.6l4.7 -8.4h-9.4zM1378.8 332.9l4.7 -8.4h-9.4zM1390.8 333.0l4.7 -8.4h-9.4zM1339.6 346.3l4.7 -8.4h-9.4zM1137.5 471.4l4.7 -8.4h-9.4zM1350.0 340.7l4.7 -8.4h-9.4zM1219.8 418.7l4.7 -8.4h-9.4zM1417.1 324.0l4.7 -8.4h-9.4zM1312.8 349.4l4.7 -8.4h-9.4zM1268.5 392.2l4.7 -8.4h-9.4zM1152.8 454.1l4.7 -8.4h-9.4zM1184.0 434.6l4.7 -8.4h-9.4zM1353.3 344.1l4.7 -8.4h-9.4zM1437.5 316.6l4.7 -8.4h-9.4zM1379.6 326.8l4.7 -8.4h-9.4zM1223.5 402.6l4.7 -8.4h-9.4zM1238.7 407.3l4.7 -8.4h-9.4zM1364.6 330.8l4.7 -8.4h-9.4zM1402.6 317.4l4.7 -8.4h-9.4zM1175.2 442.8l4.7 -8.4h-9.4zM1192.8 440.0l4.7 -8.4h-9.4zM1439.8 306.6l4.7 -8.4h-9.4zM1143.8 452.1l4.7 -8.4h-9.4zM1252.3 383.6l4.7 -8.4h-9.4zM1378.7 332.0l4.7 -8.4h-9.4zM1415.6 325.1l4.7 -8.4h-9.4zM1142.0 463.6l4.7 -8.4h-9.4zM1360.9 346.8l4.7 -8.4h-9.4zM1323.3 361.2l4.7 -8.4h-9.4zM1211.3 415.5l4.7 -8.4h-9.4zM1294.4 381.4l4.7 -8.4h-9.4zM1298.7 375.6l4.7 -8.4h-9.4zM1453.4 295.9l4.7 -8.4h-9.4zM1223.3 420.9l4.7 -8.4h-9.4zM1171.9 435.1l4.7 -8.4h-9.4zM1201.5 432.0l4.7 -8.4h-9.4zM1263.4 394.7l4.7 -8.4h-9.4zM1262.1 387.0l4.7 -8.4h-9.4zM1366.4 348.3l4.7 -8.4h-9.4zM1218.6 416.9l4.7 -8.4h-9.4zM1160.4 449.3l4.7 -8.4h-9.4zM1194.1 432.1l4.7 -8.4h-9.4zM1427.7 313.2l4.7 -8.4h-9.4zM1261.5 384.8l4.7 -8.4h-9.4zM1332.3 350.0l4.7 -8.4h-9.4zM1479.8 299.8l4.7 -8.4h-9.4zM1281.5 385.2l4.7 -8.4h-9.4zM1171.3 443.9l4.7 -8.4h-9.4zM1238.3 392.2l4.7 -8.4h-9.4zM1376.9 336.1l4.7 -8.4h-9.4zM1252.4 404.0l4.7 -8.4h-9.4zM1301.9 356.4l4.7 -8.4h-9.4zM1346.0 343.5l4.7 -8.4h-9.4zM1266.4 392.3l4.7 -8.4h-9.4zM1234.3 395.7l4.7 -8.4h-9.4zM1437.8 296.7l4.7 -8.4h-9.4zM1474.5 303.4l4.7 -8.4h-9.4zM1212.7 428.0l4.7 -8.4h-9.4zM1208.9 411.4l4.7 -8.4h-9.4zM1363.8 348.0l4.7 -8.4h-9.4zM1231.7 416.1l4.7 -8.4h-9.4zM1585.7 211.7l4.7 -8.4h-9.4zM1644.6 202.0l4.7 -8.4h-9.4zM1552.5 221.7l4.7 -8.4h-9.4zM1612.9 210.6l4.7 -8.4h-9.4zM1683.3 187.8l4.7 -8.4h-9.4zM1667.0 187.7l4.7 -8.4h-9.4zM1536.5 229.6l4.7 -8.4h-9.4zM1481.4 293.6l4.7 -8.4h-9.4zM1513.9 251.9l4.7 -8.4h-9.4zM1512.0 249.4l4.7 -8.4h-9.4zM1644.4 193.5l4.7 -8.4h-9.4zM1619.8 212.3l4.7 -8.4h-9.4zM1542.1 230.2l4.7 -8.4h-9.4zM1507.5 256.5l4.7 -8.4h-9.4zM1630.1 194.8l4.7 -8.4h-9.4zM1691.4 179.4l4.7 -8.4h-9.4zM1667.9 192.4l4.7 -8.4h-9.4zM1495.3 275.5l4.7 -8.4h-9.4zM1586.0 207.1l4.7 -8.4h-9.4zM1534.0 233.3l4.7 -8.4h-9.4zM1581.4 208.4l4.7 -8.4h-9.4zM1609.6 208.5l4.7 -8.4h-9.4zM1597.5 202.2l4.7 -8.4h-9.4zM1674.9 182.9l4.7 -8.4h-9.4zM1566.2 208.7l4.7 -8.4h-9.4zM1539.7 232.3l4.7 -8.4h-9.4zM1571.0 221.5l4.7 -8.4h-9.4zM1580.0 210.3l4.7 -8.4h-9.4zM1659.4 193.4l4.7 -8.4h-9.4zM1686.4 189.4l4.7 -8.4h-9.4zM1602.7 215.4l4.7 -8.4h-9.4zM1510.8 252.3l4.7 -8.4h-9.4zM1481.2 296.8l4.7 -8.4h-9.4zM1650.1 188.4l4.7 -8.4h-9.4zM1641.3 193.8l4.7 -8.4h-9.4zM1661.4 181.7l4.7 -8.4h-9.4zM1540.1 227.1l4.7 -8.4h-9.4zM1579.4 217.8l4.7 -8.4h-9.4zM1588.2 217.5l4.7 -8.4h-9.4zM1495.1 280.0l4.7 -8.4h-9.4zM1494.5 270.9l4.7 -8.4h-9.4zM1569.8 220.6l4.7 -8.4h-9.4zM1624.6 207.6l4.7 -8.4h-9.4zM1518.5 257.1l4.7 -8.4h-9.4zM1673.8 185.7l4.7 -8.4h-9.4zM1653.2 192.1l4.7 -8.4h-9.4zM1655.2 189.1l4.7 -8.4h-9.4zM1603.2 205.0l4.7 -8.4h-9.4zM1621.3 205.3l4.7 -8.4h-9.4zM1646.6 203.4l4.7 -8.4h-9.4zM1669.8 187.2l4.7 -8.4h-9.4zM1630.5 195.4l4.7 -8.4h-9.4zM1482.7 286.3l4.7 -8.4h-9.4zM1602.0 206.8l4.7 -8.4h-9.4zM1555.4 214.3l4.7 -8.4h-9.4zM1570.7 171.7l4.7 -8.4h-9.4zM1705.6 98.4l4.7 -8.4h-9.4zM1641.4 119.2l4.7 -8.4h-9.4zM1447.3 267.1l4.7 -8.4h-9.4zM1469.8 243.1l4.7 -8.4h-9.4zM1572.4 170.7l4.7 -8.4h-9.4zM1587.4 159.1l4.7 -8.4h-9.4zM1448.2 256.9l4.7 -8.4h-9.4zM1579.4 172.5l4.7 -8.4h-9.4zM1635.9 112.6l4.7 -8.4h-9.4zM1684.7 80.3l4.7 -8.4h-9.4zM1626.2 116.5l4.7 -8.4h-9.4zM1675.7 86.6l4.7 -8.4h-9.4zM1543.1 209.9l4.7 -8.4h-9.4zM1688.2 84.7l4.7 -8.4h-9.4zM1619.3 128.9l4.7 -8.4h-9.4zM1478.0 247.9l4.7 -8.4h-9.4zM1635.9 116.5l4.7 -8.4h-9.4zM1671.1 87.4l4.7 -8.4h-9.4zM1697.3 89.3l4.7 -8.4h-9.4zM1575.8 172.6l4.7 -8.4h-9.4zM1452.9 255.6l4.7 -8.4h-9.4zM1506.2 221.5l4.7 -8.4h-9.4zM1466.6 253.7l4.7 -8.4h-9.4zM1466.1 245.2l4.7 -8.4h-9.4zM1609.0 134.6l4.7 -8.4h-9.4zM1610.1 132.3l4.7 -8.4h-9.4zM1627.6 122.5l4.7 -8.4h-9.4zM1657.5 96.8l4.7 -8.4h-9.4zM1489.0 233.7l4.7 -8.4h-9.4zM1654.2 97.3l4.7 -8.4h-9.4zM1689.7 84.1l4.7 -8.4h-9.4zM1663.1 85.0l4.7 -8.4h-9.4zM1631.2 111.9l4.7 -8.4h-9.4zM1499.7 225.6l4.7 -8.4h-9.4zM1691.0 85.1l4.7 -8.4h-9.4zM1581.3 166.1l4.7 -8.4h-9.4zM1607.9 142.8l4.7 -8.4h-9.4zM1536.8 211.4l4.7 -8.4h-9.4zM1693.2 79.5l4.7 -8.4h-9.4zM1442.6 272.5l4.7 -8.4h-9.4zM1694.9 83.4l4.7 -8.4h-9.4zM1626.3 113.6l4.7 -8.4h-9.4zM1451.8 248.7l4.7 -8.4h-9.4zM1454.6 254.8l4.7 -8.4h-9.4zM1440.2 270.3l4.7 -8.4h-9.4zM1564.0 179.0l4.7 -8.4h-9.4zM1646.5 111.6l4.7 -8.4h-9.4zM1640.6 106.6l4.7 -8.4h-9.4zM1588.4 164.1l4.7 -8.4h-9.4zM1590.0 161.0l4.7 -8.4h-9.4zM1453.2 252.6l4.7 -8.4h-9.4zM1645.5 112.2l4.7 -8.4h-9.4zM1532.2 211.8l4.7 -8.4h-9.4zM1542.4 211.5l4.7 -8.4h-9.4zM1667.9 87.9l4.7 -8.4h-9.4zM1521.4 223.2l4.7 -8.4h-9.4zM1507.0 234.8l4.7 -8.4h-9.4zM1559.2 184.2l4.7 -8.4h-9.4zM1676.0 82.9l4.7 -8.4h-9.4zM1516.3 219.8l4.7 -8.4h-9.4zM1511.1 230.4l4.7 -8.4h-9.4zM1709.0 95.8l4.7 -8.4h-9.4zM1466.0 248.3l4.7 -8.4h-9.4zM1491.2 239.5l4.7 -8.4h-9.4zM1449.8 253.7l4.7 -8.4h-9.4zM1673.5 87.2l4.7 -8.4h-9.4zM1446.1 257.9l4.7 -8.4h-9.4zM1452.3 250.7l4.7 -8.4h-9.4zM1529.1 218.6l4.7 -8.4h-9.4z" fill="none" stroke="#b468b6" stroke-width="0.95"/>
<path d="M1421.6 123.7l5.2 5.2l-5.2 5.2l-5.2 -5.2zM1459.3 121.2l5.2 5.2l-5.2 5.2l-5.2 -5.2zM1480.8 129.2l5.2 5.2l-5.2 5.2l-5.2 -5.2zM1495.9 138.3l5.2 5.2l-5.2 5.2l-5.2 -5.2zM1524.8 120.4l5.2 5.2l-5.2 5.2l-5.2 -5.2zM1530.6 131.8l5.2 5.2l-5.2 5.2l-5.2 -5.2zM1417.3 137.0l5.2 5.2l-5.2 5.2l-5.2 -5.2zM1416.5 152.7l5.2 5.2l-5.2 5.2l-5.2 -5.2zM1412.2 158.2l5.2 5.2l-5.2 5.2l-5.2 -5.2zM1415.3 163.2l5.2 5.2l-5.2 5.2l-5.2 -5.2zM1448.5 164.8l5.2 5.2l-5.2 5.2l-5.2 -5.2zM1455.0 160.2l5.2 5.2l-5.2 5.2l-5.2 -5.2zM1478.7 167.8l5.2 5.2l-5.2 5.2l-5.2 -5.2zM1527.9 164.0l5.2 5.2l-5.2 5.2l-5.2 -5.2zM1409.7 184.9l5.2 5.2l-5.2 5.2l-5.2 -5.2zM1423.3 180.4l5.2 5.2l-5.2 5.2l-5.2 -5.2zM1438.4 187.4l5.2 5.2l-5.2 5.2l-5.2 -5.2zM1443.5 200.5l5.2 5.2l-5.2 5.2l-5.2 -5.2zM1465.6 198.0l5.2 5.2l-5.2 5.2l-5.2 -5.2zM1485.8 195.5l5.2 5.2l-5.2 5.2l-5.2 -5.2zM1429.9 210.6l5.2 5.2l-5.2 5.2l-5.2 -5.2zM1435.4 210.1l5.2 5.2l-5.2 5.2l-5.2 -5.2zM1418.3 217.6l5.2 5.2l-5.2 5.2l-5.2 -5.2zM1463.1 221.4l5.2 5.2l-5.2 5.2l-5.2 -5.2zM1447.5 233.3l5.2 5.2l-5.2 5.2l-5.2 -5.2zM1461.1 235.3l5.2 5.2l-5.2 5.2l-5.2 -5.2zM1476.5 230.8l5.2 5.2l-5.2 5.2l-5.2 -5.2zM1419.0 244.1l5.2 5.2l-5.2 5.2l-5.2 -5.2zM1483.3 245.9l5.2 5.2l-5.2 5.2l-5.2 -5.2zM1474.5 253.4l5.2 5.2l-5.2 5.2l-5.2 -5.2zM1473.2 272.3l5.2 5.2l-5.2 5.2l-5.2 -5.2zM1440.5 278.6l5.2 5.2l-5.2 5.2l-5.2 -5.2zM1425.3 278.6l5.2 5.2l-5.2 5.2l-5.2 -5.2zM1407.7 312.3l5.2 5.2l-5.2 5.2l-5.2 -5.2zM1431.0 300.6l5.2 5.2l-5.2 5.2l-5.2 -5.2zM1417.5 217.3l5.2 5.2l-5.2 5.2l-5.2 -5.2zM1429.0 210.5l5.2 5.2l-5.2 5.2l-5.2 -5.2zM1435.0 210.5l5.2 5.2l-5.2 5.2l-5.2 -5.2zM1444.0 200.8l5.2 5.2l-5.2 5.2l-5.2 -5.2zM1465.5 197.8l5.2 5.2l-5.2 5.2l-5.2 -5.2zM1462.6 221.2l5.2 5.2l-5.2 5.2l-5.2 -5.2zM1448.0 232.8l5.2 5.2l-5.2 5.2l-5.2 -5.2zM1460.6 234.8l5.2 5.2l-5.2 5.2l-5.2 -5.2zM1418.5 244.8l5.2 5.2l-5.2 5.2l-5.2 -5.2zM1409.7 267.3l5.2 5.2l-5.2 5.2l-5.2 -5.2zM1423.4 277.8l5.2 5.2l-5.2 5.2l-5.2 -5.2zM1435.0 253.6l5.2 5.2l-5.2 5.2l-5.2 -5.2zM1445.0 252.6l5.2 5.2l-5.2 5.2l-5.2 -5.2zM1452.8 252.6l5.2 5.2l-5.2 5.2l-5.2 -5.2zM1440.0 279.8l5.2 5.2l-5.2 5.2l-5.2 -5.2zM1468.4 292.8l5.2 5.2l-5.2 5.2l-5.2 -5.2zM1470.4 272.8l5.2 5.2l-5.2 5.2l-5.2 -5.2zM1481.0 128.8l5.2 5.2l-5.2 5.2l-5.2 -5.2zM1485.4 194.6l5.2 5.2l-5.2 5.2l-5.2 -5.2zM1617.9 306.4l5.2 5.2l-5.2 5.2l-5.2 -5.2zM1731.2 239.6l5.2 5.2l-5.2 5.2l-5.2 -5.2zM1694.5 258.1l5.2 5.2l-5.2 5.2l-5.2 -5.2zM1512.3 365.1l5.2 5.2l-5.2 5.2l-5.2 -5.2zM1689.2 279.2l5.2 5.2l-5.2 5.2l-5.2 -5.2zM1572.7 331.5l5.2 5.2l-5.2 5.2l-5.2 -5.2zM1546.0 352.3l5.2 5.2l-5.2 5.2l-5.2 -5.2zM1743.7 233.4l5.2 5.2l-5.2 5.2l-5.2 -5.2zM1708.7 256.3l5.2 5.2l-5.2 5.2l-5.2 -5.2zM1493.3 378.7l5.2 5.2l-5.2 5.2l-5.2 -5.2zM1506.1 367.9l5.2 5.2l-5.2 5.2l-5.2 -5.2zM1509.1 361.0l5.2 5.2l-5.2 5.2l-5.2 -5.2zM1468.0 394.8l5.2 5.2l-5.2 5.2l-5.2 -5.2zM1737.3 247.3l5.2 5.2l-5.2 5.2l-5.2 -5.2zM1681.0 277.2l5.2 5.2l-5.2 5.2l-5.2 -5.2zM1625.7 312.5l5.2 5.2l-5.2 5.2l-5.2 -5.2zM1584.0 324.0l5.2 5.2l-5.2 5.2l-5.2 -5.2zM1518.8 357.1l5.2 5.2l-5.2 5.2l-5.2 -5.2zM1663.8 293.4l5.2 5.2l-5.2 5.2l-5.2 -5.2zM1596.3 323.8l5.2 5.2l-5.2 5.2l-5.2 -5.2zM1551.0 346.6l5.2 5.2l-5.2 5.2l-5.2 -5.2zM1690.3 271.1l5.2 5.2l-5.2 5.2l-5.2 -5.2zM1511.1 371.2l5.2 5.2l-5.2 5.2l-5.2 -5.2zM1417.0 408.0l5.2 5.2l-5.2 5.2l-5.2 -5.2zM1404.3 411.8l5.2 5.2l-5.2 5.2l-5.2 -5.2zM1659.1 292.4l5.2 5.2l-5.2 5.2l-5.2 -5.2zM1533.1 349.9l5.2 5.2l-5.2 5.2l-5.2 -5.2zM1656.3 294.9l5.2 5.2l-5.2 5.2l-5.2 -5.2zM1414.9 416.5l5.2 5.2l-5.2 5.2l-5.2 -5.2zM1598.1 323.5l5.2 5.2l-5.2 5.2l-5.2 -5.2zM1621.5 306.8l5.2 5.2l-5.2 5.2l-5.2 -5.2zM1635.8 296.8l5.2 5.2l-5.2 5.2l-5.2 -5.2zM1692.2 278.7l5.2 5.2l-5.2 5.2l-5.2 -5.2zM1664.6 283.7l5.2 5.2l-5.2 5.2l-5.2 -5.2zM1745.2 245.9l5.2 5.2l-5.2 5.2l-5.2 -5.2zM1745.5 240.6l5.2 5.2l-5.2 5.2l-5.2 -5.2zM1544.0 344.4l5.2 5.2l-5.2 5.2l-5.2 -5.2zM1805.7 204.6l5.2 5.2l-5.2 5.2l-5.2 -5.2zM1512.6 367.6l5.2 5.2l-5.2 5.2l-5.2 -5.2zM1530.8 363.3l5.2 5.2l-5.2 5.2l-5.2 -5.2zM1653.6 285.8l5.2 5.2l-5.2 5.2l-5.2 -5.2zM1689.9 273.1l5.2 5.2l-5.2 5.2l-5.2 -5.2zM1431.7 407.1l5.2 5.2l-5.2 5.2l-5.2 -5.2zM1726.0 239.8l5.2 5.2l-5.2 5.2l-5.2 -5.2zM1817.1 208.0l5.2 5.2l-5.2 5.2l-5.2 -5.2zM1570.1 346.5l5.2 5.2l-5.2 5.2l-5.2 -5.2zM1796.5 202.8l5.2 5.2l-5.2 5.2l-5.2 -5.2zM1410.5 416.4l5.2 5.2l-5.2 5.2l-5.2 -5.2zM1507.6 367.0l5.2 5.2l-5.2 5.2l-5.2 -5.2zM1506.4 363.0l5.2 5.2l-5.2 5.2l-5.2 -5.2zM1451.3 392.2l5.2 5.2l-5.2 5.2l-5.2 -5.2zM1587.6 324.3l5.2 5.2l-5.2 5.2l-5.2 -5.2zM1413.1 420.1l5.2 5.2l-5.2 5.2l-5.2 -5.2zM1609.6 327.4l5.2 5.2l-5.2 5.2l-5.2 -5.2zM1627.8 311.8l5.2 5.2l-5.2 5.2l-5.2 -5.2zM1568.7 331.2l5.2 5.2l-5.2 5.2l-5.2 -5.2zM1811.9 200.2l5.2 5.2l-5.2 5.2l-5.2 -5.2zM1466.5 388.4l5.2 5.2l-5.2 5.2l-5.2 -5.2zM1747.1 233.7l5.2 5.2l-5.2 5.2l-5.2 -5.2zM1526.7 348.2l5.2 5.2l-5.2 5.2l-5.2 -5.2zM1820.6 208.4l5.2 5.2l-5.2 5.2l-5.2 -5.2zM1698.7 266.9l5.2 5.2l-5.2 5.2l-5.2 -5.2zM1457.2 401.6l5.2 5.2l-5.2 5.2l-5.2 -5.2zM1628.3 311.0l5.2 5.2l-5.2 5.2l-5.2 -5.2zM1514.4 356.3l5.2 5.2l-5.2 5.2l-5.2 -5.2zM1542.8 342.1l5.2 5.2l-5.2 5.2l-5.2 -5.2zM1660.5 287.5l5.2 5.2l-5.2 5.2l-5.2 -5.2zM1463.7 395.6l5.2 5.2l-5.2 5.2l-5.2 -5.2zM1756.7 235.1l5.2 5.2l-5.2 5.2l-5.2 -5.2zM1545.6 354.5l5.2 5.2l-5.2 5.2l-5.2 -5.2zM1754.3 228.1l5.2 5.2l-5.2 5.2l-5.2 -5.2zM1703.7 256.1l5.2 5.2l-5.2 5.2l-5.2 -5.2zM1582.5 338.1l5.2 5.2l-5.2 5.2l-5.2 -5.2zM1780.1 219.1l5.2 5.2l-5.2 5.2l-5.2 -5.2zM1462.6 391.0l5.2 5.2l-5.2 5.2l-5.2 -5.2zM1451.9 404.8l5.2 5.2l-5.2 5.2l-5.2 -5.2zM1737.0 251.7l5.2 5.2l-5.2 5.2l-5.2 -5.2zM1569.9 338.4l5.2 5.2l-5.2 5.2l-5.2 -5.2zM1421.5 400.0l5.2 5.2l-5.2 5.2l-5.2 -5.2zM1442.4 392.9l5.2 5.2l-5.2 5.2l-5.2 -5.2zM1685.7 272.9l5.2 5.2l-5.2 5.2l-5.2 -5.2zM1625.8 305.8l5.2 5.2l-5.2 5.2l-5.2 -5.2zM1400.6 415.4l5.2 5.2l-5.2 5.2l-5.2 -5.2zM1478.1 374.6l5.2 5.2l-5.2 5.2l-5.2 -5.2zM1725.3 246.1l5.2 5.2l-5.2 5.2l-5.2 -5.2zM1715.7 245.9l5.2 5.2l-5.2 5.2l-5.2 -5.2zM1642.7 298.5l5.2 5.2l-5.2 5.2l-5.2 -5.2zM1590.3 323.5l5.2 5.2l-5.2 5.2l-5.2 -5.2zM1647.1 304.8l5.2 5.2l-5.2 5.2l-5.2 -5.2zM1739.1 241.6l5.2 5.2l-5.2 5.2l-5.2 -5.2zM1614.8 323.2l5.2 5.2l-5.2 5.2l-5.2 -5.2zM1763.1 221.6l5.2 5.2l-5.2 5.2l-5.2 -5.2zM1472.8 389.4l5.2 5.2l-5.2 5.2l-5.2 -5.2zM1787.2 217.0l5.2 5.2l-5.2 5.2l-5.2 -5.2zM1496.8 370.6l5.2 5.2l-5.2 5.2l-5.2 -5.2zM1780.0 219.9l5.2 5.2l-5.2 5.2l-5.2 -5.2zM1572.3 330.3l5.2 5.2l-5.2 5.2l-5.2 -5.2zM1502.4 376.5l5.2 5.2l-5.2 5.2l-5.2 -5.2zM1757.3 232.2l5.2 5.2l-5.2 5.2l-5.2 -5.2zM1539.6 347.4l5.2 5.2l-5.2 5.2l-5.2 -5.2zM1728.7 238.0l5.2 5.2l-5.2 5.2l-5.2 -5.2zM1547.8 339.1l5.2 5.2l-5.2 5.2l-5.2 -5.2zM1514.5 357.8l5.2 5.2l-5.2 5.2l-5.2 -5.2zM1565.2 339.6l5.2 5.2l-5.2 5.2l-5.2 -5.2zM1423.2 415.9l5.2 5.2l-5.2 5.2l-5.2 -5.2zM1787.6 215.3l5.2 5.2l-5.2 5.2l-5.2 -5.2zM1458.6 388.3l5.2 5.2l-5.2 5.2l-5.2 -5.2zM1496.6 366.6l5.2 5.2l-5.2 5.2l-5.2 -5.2zM1790.2 221.0l5.2 5.2l-5.2 5.2l-5.2 -5.2zM1797.5 207.5l5.2 5.2l-5.2 5.2l-5.2 -5.2zM1738.9 235.2l5.2 5.2l-5.2 5.2l-5.2 -5.2zM1616.5 308.9l5.2 5.2l-5.2 5.2l-5.2 -5.2zM1625.4 317.0l5.2 5.2l-5.2 5.2l-5.2 -5.2zM1461.9 394.4l5.2 5.2l-5.2 5.2l-5.2 -5.2zM1688.0 269.3l5.2 5.2l-5.2 5.2l-5.2 -5.2zM1666.9 280.8l5.2 5.2l-5.2 5.2l-5.2 -5.2zM1773.9 231.2l5.2 5.2l-5.2 5.2l-5.2 -5.2zM1597.1 326.9l5.2 5.2l-5.2 5.2l-5.2 -5.2zM1589.2 327.1l5.2 5.2l-5.2 5.2l-5.2 -5.2zM1627.6 300.2l5.2 5.2l-5.2 5.2l-5.2 -5.2zM1553.1 346.6l5.2 5.2l-5.2 5.2l-5.2 -5.2zM1507.7 364.1l5.2 5.2l-5.2 5.2l-5.2 -5.2zM1669.2 277.3l5.2 5.2l-5.2 5.2l-5.2 -5.2zM1799.4 201.4l5.2 5.2l-5.2 5.2l-5.2 -5.2zM1586.7 330.9l5.2 5.2l-5.2 5.2l-5.2 -5.2zM1822.4 196.0l5.2 5.2l-5.2 5.2l-5.2 -5.2zM1669.3 281.3l5.2 5.2l-5.2 5.2l-5.2 -5.2zM1520.1 361.6l5.2 5.2l-5.2 5.2l-5.2 -5.2zM1812.8 207.2l5.2 5.2l-5.2 5.2l-5.2 -5.2zM1721.2 244.7l5.2 5.2l-5.2 5.2l-5.2 -5.2zM1790.9 219.9l5.2 5.2l-5.2 5.2l-5.2 -5.2zM1789.7 213.1l5.2 5.2l-5.2 5.2l-5.2 -5.2zM1729.1 254.0l5.2 5.2l-5.2 5.2l-5.2 -5.2zM1796.8 203.8l5.2 5.2l-5.2 5.2l-5.2 -5.2zM1749.0 242.0l5.2 5.2l-5.2 5.2l-5.2 -5.2zM1701.6 260.2l5.2 5.2l-5.2 5.2l-5.2 -5.2zM1504.5 358.9l5.2 5.2l-5.2 5.2l-5.2 -5.2zM1747.5 234.4l5.2 5.2l-5.2 5.2l-5.2 -5.2zM1542.2 343.3l5.2 5.2l-5.2 5.2l-5.2 -5.2zM1410.6 411.1l5.2 5.2l-5.2 5.2l-5.2 -5.2zM1661.4 293.7l5.2 5.2l-5.2 5.2l-5.2 -5.2zM1813.7 209.3l5.2 5.2l-5.2 5.2l-5.2 -5.2zM1641.8 295.0l5.2 5.2l-5.2 5.2l-5.2 -5.2zM1554.9 334.0l5.2 5.2l-5.2 5.2l-5.2 -5.2zM1464.0 399.4l5.2 5.2l-5.2 5.2l-5.2 -5.2zM1561.0 334.6l5.2 5.2l-5.2 5.2l-5.2 -5.2zM1795.6 218.7l5.2 5.2l-5.2 5.2l-5.2 -5.2zM1563.9 340.8l5.2 5.2l-5.2 5.2l-5.2 -5.2zM1678.9 283.6l5.2 5.2l-5.2 5.2l-5.2 -5.2zM1658.1 282.1l5.2 5.2l-5.2 5.2l-5.2 -5.2zM1421.9 417.6l5.2 5.2l-5.2 5.2l-5.2 -5.2zM1414.5 403.2l5.2 5.2l-5.2 5.2l-5.2 -5.2zM1475.5 377.4l5.2 5.2l-5.2 5.2l-5.2 -5.2zM1669.4 279.1l5.2 5.2l-5.2 5.2l-5.2 -5.2zM1546.2 355.0l5.2 5.2l-5.2 5.2l-5.2 -5.2zM1703.6 254.7l5.2 5.2l-5.2 5.2l-5.2 -5.2zM1408.4 419.1l5.2 5.2l-5.2 5.2l-5.2 -5.2zM1669.1 277.6l5.2 5.2l-5.2 5.2l-5.2 -5.2zM1455.9 387.3l5.2 5.2l-5.2 5.2l-5.2 -5.2zM1565.6 331.6l5.2 5.2l-5.2 5.2l-5.2 -5.2zM1517.3 359.9l5.2 5.2l-5.2 5.2l-5.2 -5.2zM1630.7 305.6l5.2 5.2l-5.2 5.2l-5.2 -5.2zM1780.6 221.1l5.2 5.2l-5.2 5.2l-5.2 -5.2zM1457.7 399.1l5.2 5.2l-5.2 5.2l-5.2 -5.2zM1465.7 381.4l5.2 5.2l-5.2 5.2l-5.2 -5.2zM1788.5 220.0l5.2 5.2l-5.2 5.2l-5.2 -5.2zM1485.6 383.1l5.2 5.2l-5.2 5.2l-5.2 -5.2zM1759.6 235.4l5.2 5.2l-5.2 5.2l-5.2 -5.2zM1668.0 290.5l5.2 5.2l-5.2 5.2l-5.2 -5.2zM1467.2 390.7l5.2 5.2l-5.2 5.2l-5.2 -5.2zM1718.9 245.0l5.2 5.2l-5.2 5.2l-5.2 -5.2zM1492.1 383.2l5.2 5.2l-5.2 5.2l-5.2 -5.2zM1732.2 236.4l5.2 5.2l-5.2 5.2l-5.2 -5.2zM1669.9 292.1l5.2 5.2l-5.2 5.2l-5.2 -5.2zM1727.6 245.4l5.2 5.2l-5.2 5.2l-5.2 -5.2zM1609.2 315.4l5.2 5.2l-5.2 5.2l-5.2 -5.2zM1704.2 259.5l5.2 5.2l-5.2 5.2l-5.2 -5.2zM1670.7 282.8l5.2 5.2l-5.2 5.2l-5.2 -5.2zM1398.3 428.1l5.2 5.2l-5.2 5.2l-5.2 -5.2zM1682.3 268.0l5.2 5.2l-5.2 5.2l-5.2 -5.2zM1696.6 273.7l5.2 5.2l-5.2 5.2l-5.2 -5.2zM1617.6 312.2l5.2 5.2l-5.2 5.2l-5.2 -5.2zM1759.1 229.9l5.2 5.2l-5.2 5.2l-5.2 -5.2zM1642.7 293.0l5.2 5.2l-5.2 5.2l-5.2 -5.2zM1801.0 208.5l5.2 5.2l-5.2 5.2l-5.2 -5.2zM1536.9 344.0l5.2 5.2l-5.2 5.2l-5.2 -5.2zM1434.2 413.2l5.2 5.2l-5.2 5.2l-5.2 -5.2zM1608.7 318.7l5.2 5.2l-5.2 5.2l-5.2 -5.2zM1762.4 232.0l5.2 5.2l-5.2 5.2l-5.2 -5.2zM1632.8 298.1l5.2 5.2l-5.2 5.2l-5.2 -5.2zM1692.1 275.2l5.2 5.2l-5.2 5.2l-5.2 -5.2zM1756.6 234.5l5.2 5.2l-5.2 5.2l-5.2 -5.2zM1527.2 362.7l5.2 5.2l-5.2 5.2l-5.2 -5.2zM1533.5 345.0l5.2 5.2l-5.2 5.2l-5.2 -5.2zM1708.1 255.6l5.2 5.2l-5.2 5.2l-5.2 -5.2zM1520.2 360.5l5.2 5.2l-5.2 5.2l-5.2 -5.2zM1722.0 245.6l5.2 5.2l-5.2 5.2l-5.2 -5.2zM1652.1 301.1l5.2 5.2l-5.2 5.2l-5.2 -5.2zM1487.6 375.7l5.2 5.2l-5.2 5.2l-5.2 -5.2zM1656.9 287.7l5.2 5.2l-5.2 5.2l-5.2 -5.2zM1750.9 238.9l5.2 5.2l-5.2 5.2l-5.2 -5.2zM1775.6 217.6l5.2 5.2l-5.2 5.2l-5.2 -5.2zM1561.7 338.4l5.2 5.2l-5.2 5.2l-5.2 -5.2zM1665.7 292.4l5.2 5.2l-5.2 5.2l-5.2 -5.2zM1669.3 274.4l5.2 5.2l-5.2 5.2l-5.2 -5.2zM1584.3 327.7l5.2 5.2l-5.2 5.2l-5.2 -5.2zM1604.8 319.9l5.2 5.2l-5.2 5.2l-5.2 -5.2zM1441.4 400.5l5.2 5.2l-5.2 5.2l-5.2 -5.2zM1612.1 317.4l5.2 5.2l-5.2 5.2l-5.2 -5.2zM1405.9 421.8l5.2 5.2l-5.2 5.2l-5.2 -5.2zM1607.9 320.4l5.2 5.2l-5.2 5.2l-5.2 -5.2zM1676.8 282.5l5.2 5.2l-5.2 5.2l-5.2 -5.2zM1733.0 250.6l5.2 5.2l-5.2 5.2l-5.2 -5.2zM1734.0 236.6l5.2 5.2l-5.2 5.2l-5.2 -5.2zM1545.6 353.2l5.2 5.2l-5.2 5.2l-5.2 -5.2zM1465.3 383.5l5.2 5.2l-5.2 5.2l-5.2 -5.2zM1525.4 366.8l5.2 5.2l-5.2 5.2l-5.2 -5.2zM1462.9 393.9l5.2 5.2l-5.2 5.2l-5.2 -5.2zM1415.1 420.4l5.2 5.2l-5.2 5.2l-5.2 -5.2zM1440.4 405.2l5.2 5.2l-5.2 5.2l-5.2 -5.2zM1424.6 418.4l5.2 5.2l-5.2 5.2l-5.2 -5.2zM1755.3 237.1l5.2 5.2l-5.2 5.2l-5.2 -5.2zM1688.6 278.6l5.2 5.2l-5.2 5.2l-5.2 -5.2zM1562.3 337.0l5.2 5.2l-5.2 5.2l-5.2 -5.2zM1801.3 205.1l5.2 5.2l-5.2 5.2l-5.2 -5.2zM1480.7 389.7l5.2 5.2l-5.2 5.2l-5.2 -5.2zM1533.6 355.7l5.2 5.2l-5.2 5.2l-5.2 -5.2zM1765.4 231.7l5.2 5.2l-5.2 5.2l-5.2 -5.2zM1801.2 208.5l5.2 5.2l-5.2 5.2l-5.2 -5.2zM1601.4 327.6l5.2 5.2l-5.2 5.2l-5.2 -5.2zM1646.2 296.6l5.2 5.2l-5.2 5.2l-5.2 -5.2zM1529.4 346.5l5.2 5.2l-5.2 5.2l-5.2 -5.2zM1461.7 396.5l5.2 5.2l-5.2 5.2l-5.2 -5.2zM1569.5 338.1l5.2 5.2l-5.2 5.2l-5.2 -5.2zM1642.8 291.0l5.2 5.2l-5.2 5.2l-5.2 -5.2zM1471.2 380.7l5.2 5.2l-5.2 5.2l-5.2 -5.2zM1561.5 333.5l5.2 5.2l-5.2 5.2l-5.2 -5.2zM1764.4 230.6l5.2 5.2l-5.2 5.2l-5.2 -5.2zM1809.1 200.2l5.2 5.2l-5.2 5.2l-5.2 -5.2zM1424.0 405.5l5.2 5.2l-5.2 5.2l-5.2 -5.2z" fill="none" stroke="#2a8a58" stroke-width="0.95"/>
<path d="M1428.4 395.8l8.4 -4.7v9.4zM1442.0 380.8l8.4 -4.7v9.4zM1400.3 411.6l8.4 -4.7v9.4zM1440.2 378.9l8.4 -4.7v9.4zM1414.6 387.7l8.4 -4.7v9.4zM1414.4 399.4l8.4 -4.7v9.4zM1429.5 387.0l8.4 -4.7v9.4zM1421.3 384.7l8.4 -4.7v9.4zM1396.3 378.2l8.4 -4.7v9.4zM1398.7 406.6l8.4 -4.7v9.4zM1398.8 383.5l8.4 -4.7v9.4zM1407.8 382.8l8.4 -4.7v9.4zM1404.9 398.4l8.4 -4.7v9.4zM1398.3 398.9l8.4 -4.7v9.4zM1444.4 381.6l8.4 -4.7v9.4zM1401.1 366.9l8.4 -4.7v9.4zM1432.2 378.3l8.4 -4.7v9.4zM1417.6 377.9l8.4 -4.7v9.4zM1426.3 392.3l8.4 -4.7v9.4zM1416.4 368.2l8.4 -4.7v9.4zM1431.2 400.5l8.4 -4.7v9.4zM1443.4 362.4l8.4 -4.7v9.4zM1394.9 413.1l8.4 -4.7v9.4zM1435.6 382.8l8.4 -4.7v9.4zM1420.1 372.7l8.4 -4.7v9.4zM1424.9 379.3l8.4 -4.7v9.4zM1428.4 365.9l8.4 -4.7v9.4zM1433.8 378.7l8.4 -4.7v9.4zM1431.3 356.7l8.4 -4.7v9.4zM1431.5 387.2l8.4 -4.7v9.4zM1392.5 385.9l8.4 -4.7v9.4zM1421.4 372.5l8.4 -4.7v9.4zM1395.0 391.0l8.4 -4.7v9.4zM1422.7 386.6l8.4 -4.7v9.4zM1423.5 362.3l8.4 -4.7v9.4zM1442.0 374.4l8.4 -4.7v9.4zM1425.9 372.5l8.4 -4.7v9.4zM1413.6 361.5l8.4 -4.7v9.4zM1405.5 396.5l8.4 -4.7v9.4zM1420.4 361.9l8.4 -4.7v9.4zM1429.4 380.8l8.4 -4.7v9.4zM1426.3 377.9l8.4 -4.7v9.4zM1390.2 411.1l8.4 -4.7v9.4zM1442.4 392.3l8.4 -4.7v9.4zM1430.7 372.8l8.4 -4.7v9.4zM1400.7 391.7l8.4 -4.7v9.4zM1416.7 370.8l8.4 -4.7v9.4zM1425.2 392.1l8.4 -4.7v9.4zM1400.8 365.3l8.4 -4.7v9.4zM1443.6 386.8l8.4 -4.7v9.4zM1393.1 363.9l8.4 -4.7v9.4zM1413.4 402.3l8.4 -4.7v9.4zM1428.7 364.6l8.4 -4.7v9.4zM1409.5 371.1l8.4 -4.7v9.4zM1417.8 392.0l8.4 -4.7v9.4zM1392.5 396.7l8.4 -4.7v9.4zM1434.4 379.0l8.4 -4.7v9.4zM1424.4 368.8l8.4 -4.7v9.4zM1408.6 396.0l8.4 -4.7v9.4zM1441.5 368.4l8.4 -4.7v9.4zM1399.3 369.2l8.4 -4.7v9.4zM1444.3 363.1l8.4 -4.7v9.4zM1432.8 398.2l8.4 -4.7v9.4zM1436.2 394.9l8.4 -4.7v9.4zM1413.4 372.3l8.4 -4.7v9.4zM1435.2 399.3l8.4 -4.7v9.4zM1414.9 404.1l8.4 -4.7v9.4zM1392.0 410.6l8.4 -4.7v9.4zM1393.1 375.0l8.4 -4.7v9.4zM1411.8 375.9l8.4 -4.7v9.4zM1436.6 372.9l8.4 -4.7v9.4zM1433.3 375.3l8.4 -4.7v9.4zM1412.3 377.9l8.4 -4.7v9.4zM1408.0 379.5l8.4 -4.7v9.4zM1412.3 368.7l8.4 -4.7v9.4zM1396.5 412.3l8.4 -4.7v9.4zM1403.3 409.4l8.4 -4.7v9.4zM1396.1 378.6l8.4 -4.7v9.4zM1400.7 393.4l8.4 -4.7v9.4zM1425.5 369.9l8.4 -4.7v9.4zM1443.3 380.3l8.4 -4.7v9.4zM1425.5 366.0l8.4 -4.7v9.4zM1401.6 392.2l8.4 -4.7v9.4zM1440.0 368.8l8.4 -4.7v9.4zM1404.3 404.6l8.4 -4.7v9.4zM1438.1 390.5l8.4 -4.7v9.4zM1432.9 365.6l8.4 -4.7v9.4zM1422.5 384.1l8.4 -4.7v9.4zM1429.5 383.9l8.4 -4.7v9.4zM1406.3 388.5l8.4 -4.7v9.4zM1414.3 367.3l8.4 -4.7v9.4zM1399.6 399.2l8.4 -4.7v9.4zM1428.4 384.8l8.4 -4.7v9.4zM1426.6 389.7l8.4 -4.7v9.4zM1426.0 367.5l8.4 -4.7v9.4zM1415.6 401.0l8.4 -4.7v9.4zM1394.5 408.7l8.4 -4.7v9.4zM1418.5 402.0l8.4 -4.7v9.4zM1401.6 386.8l8.4 -4.7v9.4zM1403.0 368.1l8.4 -4.7v9.4zM1392.2 375.0l8.4 -4.7v9.4zM1414.0 370.5l8.4 -4.7v9.4zM1415.8 361.6l8.4 -4.7v9.4zM1418.2 360.6l8.4 -4.7v9.4zM1438.6 361.2l8.4 -4.7v9.4zM1415.2 405.1l8.4 -4.7v9.4zM1404.6 379.3l8.4 -4.7v9.4zM1417.2 361.2l8.4 -4.7v9.4zM1396.8 410.6l8.4 -4.7v9.4zM1438.7 386.0l8.4 -4.7v9.4zM1801.6 243.4l8.4 -4.7v9.4zM1498.2 367.3l8.4 -4.7v9.4zM1736.2 273.3l8.4 -4.7v9.4zM1774.5 261.6l8.4 -4.7v9.4zM1454.2 380.3l8.4 -4.7v9.4zM1664.8 299.6l8.4 -4.7v9.4zM1534.6 349.8l8.4 -4.7v9.4zM1708.7 271.0l8.4 -4.7v9.4zM1644.1 281.2l8.4 -4.7v9.4zM1555.5 333.0l8.4 -4.7v9.4zM1562.8 316.3l8.4 -4.7v9.4zM1786.3 263.3l8.4 -4.7v9.4zM1693.1 279.5l8.4 -4.7v9.4zM1744.5 279.9l8.4 -4.7v9.4zM1477.3 343.9l8.4 -4.7v9.4zM1469.0 349.9l8.4 -4.7v9.4zM1603.5 304.5l8.4 -4.7v9.4zM1515.4 354.7l8.4 -4.7v9.4zM1525.6 347.4l8.4 -4.7v9.4zM1513.3 351.7l8.4 -4.7v9.4zM1614.6 310.6l8.4 -4.7v9.4zM1692.8 276.2l8.4 -4.7v9.4zM1681.0 279.1l8.4 -4.7v9.4zM1790.7 244.2l8.4 -4.7v9.4zM1801.5 242.9l8.4 -4.7v9.4zM1735.4 256.4l8.4 -4.7v9.4zM1542.5 324.5l8.4 -4.7v9.4zM1781.0 263.5l8.4 -4.7v9.4zM1652.2 306.5l8.4 -4.7v9.4zM1787.8 246.8l8.4 -4.7v9.4zM1558.6 310.3l8.4 -4.7v9.4zM1664.6 275.9l8.4 -4.7v9.4zM1789.1 249.2l8.4 -4.7v9.4zM1524.9 353.6l8.4 -4.7v9.4zM1737.3 272.9l8.4 -4.7v9.4zM1681.9 272.9l8.4 -4.7v9.4zM1611.3 296.6l8.4 -4.7v9.4zM1655.2 278.7l8.4 -4.7v9.4zM1644.5 290.1l8.4 -4.7v9.4zM1591.3 328.1l8.4 -4.7v9.4zM1615.8 314.3l8.4 -4.7v9.4zM1450.3 370.2l8.4 -4.7v9.4zM1627.0 294.5l8.4 -4.7v9.4zM1787.8 257.9l8.4 -4.7v9.4zM1762.8 257.6l8.4 -4.7v9.4zM1475.8 350.5l8.4 -4.7v9.4zM1526.6 325.0l8.4 -4.7v9.4zM1782.8 265.0l8.4 -4.7v9.4zM1458.3 371.0l8.4 -4.7v9.4zM1711.7 266.4l8.4 -4.7v9.4zM1632.0 292.7l8.4 -4.7v9.4zM1737.5 281.2l8.4 -4.7v9.4zM1724.0 271.6l8.4 -4.7v9.4zM1616.6 294.0l8.4 -4.7v9.4zM1535.0 342.1l8.4 -4.7v9.4zM1637.1 295.8l8.4 -4.7v9.4zM1649.3 304.3l8.4 -4.7v9.4zM1510.3 329.2l8.4 -4.7v9.4zM1804.7 237.0l8.4 -4.7v9.4zM1775.7 271.3l8.4 -4.7v9.4zM1731.0 273.2l8.4 -4.7v9.4zM1657.9 303.7l8.4 -4.7v9.4zM1508.2 335.9l8.4 -4.7v9.4zM1666.3 277.3l8.4 -4.7v9.4zM1568.8 319.1l8.4 -4.7v9.4zM1566.0 312.8l8.4 -4.7v9.4zM1752.9 270.0l8.4 -4.7v9.4zM1738.1 276.6l8.4 -4.7v9.4zM1608.7 298.4l8.4 -4.7v9.4zM1671.7 291.5l8.4 -4.7v9.4zM1574.2 302.1l8.4 -4.7v9.4zM1501.2 348.6l8.4 -4.7v9.4zM1724.0 260.3l8.4 -4.7v9.4zM1576.3 332.7l8.4 -4.7v9.4zM1619.7 301.3l8.4 -4.7v9.4zM1693.1 280.6l8.4 -4.7v9.4zM1528.4 351.1l8.4 -4.7v9.4zM1471.0 368.1l8.4 -4.7v9.4zM1495.2 365.1l8.4 -4.7v9.4zM1689.9 279.9l8.4 -4.7v9.4zM1663.9 294.0l8.4 -4.7v9.4zM1523.1 335.7l8.4 -4.7v9.4zM1514.7 355.2l8.4 -4.7v9.4zM1598.1 310.2l8.4 -4.7v9.4zM1696.2 286.6l8.4 -4.7v9.4zM1680.9 297.3l8.4 -4.7v9.4zM1789.8 249.2l8.4 -4.7v9.4zM1804.2 237.0l8.4 -4.7v9.4zM1583.9 331.1l8.4 -4.7v9.4zM1626.6 307.6l8.4 -4.7v9.4zM1575.2 314.4l8.4 -4.7v9.4zM1806.8 252.5l8.4 -4.7v9.4zM1783.6 241.7l8.4 -4.7v9.4zM1614.4 295.9l8.4 -4.7v9.4zM1721.4 280.7l8.4 -4.7v9.4zM1556.8 334.3l8.4 -4.7v9.4zM1767.2 251.4l8.4 -4.7v9.4zM1447.3 356.5l8.4 -4.7v9.4zM1803.8 247.8l8.4 -4.7v9.4zM1471.9 368.8l8.4 -4.7v9.4zM1608.1 306.5l8.4 -4.7v9.4zM1534.1 344.4l8.4 -4.7v9.4zM1655.0 304.6l8.4 -4.7v9.4zM1614.3 302.2l8.4 -4.7v9.4zM1469.2 367.5l8.4 -4.7v9.4zM1652.6 281.7l8.4 -4.7v9.4zM1697.0 266.9l8.4 -4.7v9.4zM1633.7 311.6l8.4 -4.7v9.4zM1567.0 320.8l8.4 -4.7v9.4zM1694.0 286.4l8.4 -4.7v9.4zM1464.8 368.3l8.4 -4.7v9.4zM1768.4 274.0l8.4 -4.7v9.4zM1524.9 348.4l8.4 -4.7v9.4zM1551.2 315.4l8.4 -4.7v9.4zM1756.1 256.6l8.4 -4.7v9.4zM1572.6 323.9l8.4 -4.7v9.4zM1496.9 339.0l8.4 -4.7v9.4zM1792.1 261.1l8.4 -4.7v9.4zM1729.7 275.5l8.4 -4.7v9.4zM1475.8 374.8l8.4 -4.7v9.4zM1782.9 261.3l8.4 -4.7v9.4zM1652.1 300.2l8.4 -4.7v9.4zM1706.0 284.0l8.4 -4.7v9.4zM1695.8 265.7l8.4 -4.7v9.4zM1530.4 324.5l8.4 -4.7v9.4zM1450.1 361.7l8.4 -4.7v9.4zM1705.5 282.5l8.4 -4.7v9.4zM1578.8 333.3l8.4 -4.7v9.4zM1778.7 266.6l8.4 -4.7v9.4zM1726.9 271.9l8.4 -4.7v9.4zM1755.4 268.4l8.4 -4.7v9.4zM1713.6 274.0l8.4 -4.7v9.4zM1590.9 308.6l8.4 -4.7v9.4zM1479.0 343.3l8.4 -4.7v9.4zM1792.0 253.7l8.4 -4.7v9.4zM1473.7 375.6l8.4 -4.7v9.4zM1623.7 302.3l8.4 -4.7v9.4zM1496.6 366.1l8.4 -4.7v9.4zM1611.1 298.2l8.4 -4.7v9.4zM1547.3 326.4l8.4 -4.7v9.4zM1598.4 305.4l8.4 -4.7v9.4zM1706.3 292.1l8.4 -4.7v9.4zM1506.0 334.7l8.4 -4.7v9.4zM1629.0 301.5l8.4 -4.7v9.4zM1788.3 249.8l8.4 -4.7v9.4zM1600.8 317.5l8.4 -4.7v9.4zM1628.4 301.7l8.4 -4.7v9.4zM1707.0 281.8l8.4 -4.7v9.4zM1665.3 279.9l8.4 -4.7v9.4zM1777.9 249.0l8.4 -4.7v9.4zM1615.7 308.5l8.4 -4.7v9.4zM1460.8 357.6l8.4 -4.7v9.4zM1802.4 241.1l8.4 -4.7v9.4zM1540.3 331.3l8.4 -4.7v9.4zM1511.0 358.6l8.4 -4.7v9.4zM1659.9 299.4l8.4 -4.7v9.4zM1700.4 279.5l8.4 -4.7v9.4zM1457.0 383.2l8.4 -4.7v9.4zM1518.1 353.0l8.4 -4.7v9.4zM1545.9 311.9l8.4 -4.7v9.4zM1558.8 335.8l8.4 -4.7v9.4zM1560.2 324.3l8.4 -4.7v9.4zM1689.5 289.2l8.4 -4.7v9.4zM1748.7 274.8l8.4 -4.7v9.4zM1730.4 283.0l8.4 -4.7v9.4zM1593.9 312.6l8.4 -4.7v9.4zM1599.7 319.8l8.4 -4.7v9.4zM1598.3 326.6l8.4 -4.7v9.4zM1741.7 268.5l8.4 -4.7v9.4zM1789.9 261.1l8.4 -4.7v9.4zM1638.0 304.7l8.4 -4.7v9.4zM1513.2 360.8l8.4 -4.7v9.4zM1652.6 299.7l8.4 -4.7v9.4zM1658.3 296.7l8.4 -4.7v9.4zM1567.0 306.0l8.4 -4.7v9.4zM1639.7 297.8l8.4 -4.7v9.4zM1575.4 312.1l8.4 -4.7v9.4zM1601.5 317.6l8.4 -4.7v9.4zM1583.8 330.8l8.4 -4.7v9.4zM1798.2 250.3l8.4 -4.7v9.4zM1520.6 327.0l8.4 -4.7v9.4zM1649.4 283.9l8.4 -4.7v9.4zM1450.8 391.7l8.4 -4.7v9.4zM1542.4 324.1l8.4 -4.7v9.4zM1692.0 267.2l8.4 -4.7v9.4zM1492.8 359.9l8.4 -4.7v9.4zM1568.9 314.1l8.4 -4.7v9.4zM1611.7 303.3l8.4 -4.7v9.4zM1502.3 332.3l8.4 -4.7v9.4zM1749.6 270.7l8.4 -4.7v9.4zM1707.6 264.7l8.4 -4.7v9.4zM1733.1 280.6l8.4 -4.7v9.4zM1727.2 274.4l8.4 -4.7v9.4zM1670.5 295.3l8.4 -4.7v9.4zM1497.0 335.9l8.4 -4.7v9.4zM1512.7 358.5l8.4 -4.7v9.4zM1531.0 341.7l8.4 -4.7v9.4zM1660.2 281.9l8.4 -4.7v9.4zM1780.2 246.4l8.4 -4.7v9.4zM1651.6 285.6l8.4 -4.7v9.4zM1730.3 267.8l8.4 -4.7v9.4zM1583.3 306.6l8.4 -4.7v9.4zM1750.8 261.6l8.4 -4.7v9.4zM1508.3 355.0l8.4 -4.7v9.4zM1558.9 309.7l8.4 -4.7v9.4zM1804.3 236.8l8.4 -4.7v9.4zM1587.9 311.0l8.4 -4.7v9.4zM1618.1 296.7l8.4 -4.7v9.4zM1546.8 343.3l8.4 -4.7v9.4zM1525.6 333.1l8.4 -4.7v9.4zM1732.0 272.9l8.4 -4.7v9.4zM1527.5 331.9l8.4 -4.7v9.4zM1642.7 308.4l8.4 -4.7v9.4zM1794.6 254.7l8.4 -4.7v9.4zM1633.8 283.7l8.4 -4.7v9.4zM1486.9 348.0l8.4 -4.7v9.4zM1577.7 307.2l8.4 -4.7v9.4zM1713.2 275.4l8.4 -4.7v9.4zM1656.4 283.3l8.4 -4.7v9.4zM1794.8 243.9l8.4 -4.7v9.4zM1566.4 323.3l8.4 -4.7v9.4zM1763.2 264.5l8.4 -4.7v9.4zM1709.7 279.4l8.4 -4.7v9.4zM1588.2 325.4l8.4 -4.7v9.4zM1532.3 342.3l8.4 -4.7v9.4zM1645.3 301.1l8.4 -4.7v9.4zM1718.1 282.1l8.4 -4.7v9.4zM1578.7 315.9l8.4 -4.7v9.4zM1570.6 312.9l8.4 -4.7v9.4zM1639.7 307.2l8.4 -4.7v9.4zM1785.5 248.1l8.4 -4.7v9.4zM1595.8 299.2l8.4 -4.7v9.4zM1776.5 253.5l8.4 -4.7v9.4zM1537.2 328.6l8.4 -4.7v9.4zM1465.8 352.0l8.4 -4.7v9.4zM1782.6 241.4l8.4 -4.7v9.4zM1801.9 240.7l8.4 -4.7v9.4zM1635.9 302.4l8.4 -4.7v9.4zM1680.0 270.2l8.4 -4.7v9.4zM1787.4 246.2l8.4 -4.7v9.4zM1546.9 324.1l8.4 -4.7v9.4zM1691.7 287.8l8.4 -4.7v9.4zM1463.5 358.0l8.4 -4.7v9.4zM1668.9 298.2l8.4 -4.7v9.4zM1710.4 276.3l8.4 -4.7v9.4zM1790.8 254.2l8.4 -4.7v9.4zM1779.0 255.5l8.4 -4.7v9.4zM1470.7 343.0l8.4 -4.7v9.4zM1733.9 264.8l8.4 -4.7v9.4zM1559.0 324.3l8.4 -4.7v9.4zM1540.3 346.2l8.4 -4.7v9.4zM1617.9 319.7l8.4 -4.7v9.4zM1766.4 249.9l8.4 -4.7v9.4zM1614.2 302.0l8.4 -4.7v9.4zM1691.8 288.8l8.4 -4.7v9.4zM1566.0 312.6l8.4 -4.7v9.4zM1547.7 338.6l8.4 -4.7v9.4zM1488.8 345.4l8.4 -4.7v9.4zM1564.2 337.3l8.4 -4.7v9.4zM1494.5 354.3l8.4 -4.7v9.4zM1536.4 325.7l8.4 -4.7v9.4zM1608.9 323.4l8.4 -4.7v9.4zM1609.2 296.4l8.4 -4.7v9.4zM1746.9 254.1l8.4 -4.7v9.4zM1655.9 293.0l8.4 -4.7v9.4zM1672.1 297.6l8.4 -4.7v9.4zM1759.7 259.2l8.4 -4.7v9.4zM1515.6 340.9l8.4 -4.7v9.4zM1503.7 338.8l8.4 -4.7v9.4zM1451.2 364.9l8.4 -4.7v9.4zM1570.4 316.1l8.4 -4.7v9.4zM1679.5 292.3l8.4 -4.7v9.4zM1733.6 277.2l8.4 -4.7v9.4zM1587.5 312.9l8.4 -4.7v9.4zM1519.6 346.1l8.4 -4.7v9.4zM1464.9 379.8l8.4 -4.7v9.4zM1724.3 277.4l8.4 -4.7v9.4zM1553.0 321.8l8.4 -4.7v9.4zM1498.9 340.2l8.4 -4.7v9.4zM1775.1 268.7l8.4 -4.7v9.4zM1710.5 291.3l8.4 -4.7v9.4zM1531.9 325.3l8.4 -4.7v9.4zM1795.3 245.5l8.4 -4.7v9.4zM1685.7 274.3l8.4 -4.7v9.4zM1676.4 282.2l8.4 -4.7v9.4zM1679.2 271.1l8.4 -4.7v9.4zM1491.4 360.2l8.4 -4.7v9.4zM1772.9 265.4l8.4 -4.7v9.4zM1487.0 362.6l8.4 -4.7v9.4zM1757.7 272.4l8.4 -4.7v9.4zM1629.4 297.8l8.4 -4.7v9.4zM1792.5 248.6l8.4 -4.7v9.4zM1587.4 316.5l8.4 -4.7v9.4zM1510.9 336.7l8.4 -4.7v9.4zM1732.0 270.3l8.4 -4.7v9.4zM1688.2 291.4l8.4 -4.7v9.4zM1666.4 279.2l8.4 -4.7v9.4zM1709.1 283.0l8.4 -4.7v9.4zM1467.0 345.4l8.4 -4.7v9.4zM1481.8 350.0l8.4 -4.7v9.4zM1490.6 359.1l8.4 -4.7v9.4zM1718.2 272.0l8.4 -4.7v9.4zM1802.1 249.3l8.4 -4.7v9.4zM1684.5 283.3l8.4 -4.7v9.4zM1482.3 341.4l8.4 -4.7v9.4zM1783.2 264.7l8.4 -4.7v9.4zM1471.3 343.8l8.4 -4.7v9.4zM1706.2 264.0l8.4 -4.7v9.4zM1806.6 248.0l8.4 -4.7v9.4zM1602.8 316.3l8.4 -4.7v9.4zM1777.3 260.9l8.4 -4.7v9.4zM1563.7 322.9l8.4 -4.7v9.4zM1517.7 336.8l8.4 -4.7v9.4zM1759.5 268.3l8.4 -4.7v9.4zM1452.8 370.6l8.4 -4.7v9.4zM1475.7 347.4l8.4 -4.7v9.4zM1497.5 350.7l8.4 -4.7v9.4zM1591.1 308.1l8.4 -4.7v9.4zM1599.9 312.9l8.4 -4.7v9.4zM1728.3 277.6l8.4 -4.7v9.4zM1506.3 336.4l8.4 -4.7v9.4zM1666.8 279.9l8.4 -4.7v9.4zM1555.5 323.8l8.4 -4.7v9.4zM1695.8 274.3l8.4 -4.7v9.4zM1509.4 331.1l8.4 -4.7v9.4zM1668.5 290.1l8.4 -4.7v9.4zM1710.4 290.0l8.4 -4.7v9.4zM1470.6 369.9l8.4 -4.7v9.4zM1662.7 279.9l8.4 -4.7v9.4zM1803.6 249.3l8.4 -4.7v9.4zM1733.4 279.9l8.4 -4.7v9.4zM1592.4 318.9l8.4 -4.7v9.4zM1747.2 254.8l8.4 -4.7v9.4zM1479.6 365.1l8.4 -4.7v9.4zM1706.0 289.5l8.4 -4.7v9.4zM1452.9 367.2l8.4 -4.7v9.4zM1706.3 280.9l8.4 -4.7v9.4zM1785.3 250.1l8.4 -4.7v9.4zM1469.6 381.8l8.4 -4.7v9.4zM1447.4 389.5l8.4 -4.7v9.4zM1560.1 309.1l8.4 -4.7v9.4zM1719.4 274.5l8.4 -4.7v9.4zM1631.1 300.6l8.4 -4.7v9.4zM1703.2 268.8l8.4 -4.7v9.4zM1516.1 347.2l8.4 -4.7v9.4zM1681.1 286.9l8.4 -4.7v9.4zM1787.3 261.7l8.4 -4.7v9.4zM1764.0 269.4l8.4 -4.7v9.4zM1605.6 322.9l8.4 -4.7v9.4zM1734.7 264.4l8.4 -4.7v9.4zM1521.1 344.1l8.4 -4.7v9.4zM1700.5 286.8l8.4 -4.7v9.4zM1644.9 304.7l8.4 -4.7v9.4zM1485.5 372.4l8.4 -4.7v9.4zM1541.5 317.2l8.4 -4.7v9.4zM1601.1 296.8l8.4 -4.7v9.4zM1575.4 330.0l8.4 -4.7v9.4zM1624.8 300.2l8.4 -4.7v9.4zM1571.8 310.9l8.4 -4.7v9.4zM1721.0 281.5l8.4 -4.7v9.4zM1674.2 218.0l8.4 -4.7v9.4zM1608.2 252.7l8.4 -4.7v9.4zM1665.4 231.9l8.4 -4.7v9.4zM1638.6 245.0l8.4 -4.7v9.4zM1672.6 237.8l8.4 -4.7v9.4zM1657.9 232.4l8.4 -4.7v9.4zM1613.2 246.9l8.4 -4.7v9.4zM1665.8 236.7l8.4 -4.7v9.4zM1660.0 238.9l8.4 -4.7v9.4zM1622.7 244.6l8.4 -4.7v9.4zM1635.9 241.2l8.4 -4.7v9.4zM1607.4 237.7l8.4 -4.7v9.4zM1616.1 250.5l8.4 -4.7v9.4zM1611.5 240.1l8.4 -4.7v9.4zM1673.0 226.4l8.4 -4.7v9.4zM1644.1 238.5l8.4 -4.7v9.4zM1599.8 248.0l8.4 -4.7v9.4zM1637.0 240.8l8.4 -4.7v9.4zM1625.1 243.3l8.4 -4.7v9.4zM1599.7 254.9l8.4 -4.7v9.4zM1600.6 248.1l8.4 -4.7v9.4zM1651.4 234.9l8.4 -4.7v9.4zM1672.1 219.5l8.4 -4.7v9.4zM1649.0 233.4l8.4 -4.7v9.4zM1622.7 240.7l8.4 -4.7v9.4z" fill="none" stroke="#3a3a88" stroke-width="0.95"/>
<path d="M89.2 15.5H908.9V625.5H89.2Z" fill="none" stroke="#000" stroke-width="2.3"/>
<path d="M215.2 625.5v-12M215.2 15.5v12M341.4 625.5v-12M341.4 15.5v12M467.4 625.5v-12M467.4 15.5v12M593.5 625.5v-12M593.5 15.5v12M719.6 625.5v-12M719.6 15.5v12M845.7 625.5v-12M845.7 15.5v12M152.2 625.5v-6.5M152.2 15.5v6.5M278.3 625.5v-6.5M278.3 15.5v6.5M404.4 625.5v-6.5M404.4 15.5v6.5M530.5 625.5v-6.5M530.5 15.5v6.5M656.6 625.5v-6.5M656.6 15.5v6.5M782.7 625.5v-6.5M782.7 15.5v6.5M89.2 572.5h12M908.9 572.5h-12M89.2 492.9h12M908.9 492.9h-12M89.2 413.3h12M908.9 413.3h-12M89.2 333.8h12M908.9 333.8h-12M89.2 254.2h12M908.9 254.2h-12M89.2 174.7h12M908.9 174.7h-12M89.2 95.1h12M908.9 95.1h-12M89.2 612.2h6.5M908.9 612.2h-6.5M89.2 532.7h6.5M908.9 532.7h-6.5M89.2 453.1h6.5M908.9 453.1h-6.5M89.2 373.6h6.5M908.9 373.6h-6.5M89.2 294.0h6.5M908.9 294.0h-6.5M89.2 214.4h6.5M908.9 214.4h-6.5M89.2 134.9h6.5M908.9 134.9h-6.5M89.2 55.3h6.5M908.9 55.3h-6.5" fill="none" stroke="#000" stroke-width="2"/>
<text x="89.2" y="658.1" text-anchor="middle" class="tk">400</text>
<text x="215.2" y="658.1" text-anchor="middle" class="tk">600</text>
<text x="341.4" y="658.1" text-anchor="middle" class="tk">800</text>
<text x="467.4" y="658.1" text-anchor="middle" class="tk">1000</text>
<text x="593.5" y="658.1" text-anchor="middle" class="tk">1200</text>
<text x="719.6" y="658.1" text-anchor="middle" class="tk">1400</text>
<text x="845.7" y="658.1" text-anchor="middle" class="tk">1600</text>
<text x="76.0" y="580.3" text-anchor="end" class="tk">27</text>
<text x="76.0" y="500.7" text-anchor="end" class="tk">30</text>
<text x="76.0" y="421.1" text-anchor="end" class="tk">33</text>
<text x="76.0" y="341.6" text-anchor="end" class="tk">36</text>
<text x="76.0" y="262.0" text-anchor="end" class="tk">39</text>
<text x="76.0" y="182.5" text-anchor="end" class="tk">42</text>
<text x="76.0" y="102.9" text-anchor="end" class="tk">45</text>
<text x="76.0" y="23.3" text-anchor="end" class="tk">48</text>
<path d="M1061.4 15.4H1881.9V624.7H1061.4Z" fill="none" stroke="#000" stroke-width="2.3"/>
<path d="M1198.1 624.7v-12M1198.1 15.4v12M1334.9 624.7v-12M1334.9 15.4v12M1471.6 624.7v-12M1471.6 15.4v12M1608.4 624.7v-12M1608.4 15.4v12M1745.1 624.7v-12M1745.1 15.4v12M1129.8 624.7v-6.5M1129.8 15.4v6.5M1266.5 624.7v-6.5M1266.5 15.4v6.5M1403.2 624.7v-6.5M1403.2 15.4v6.5M1540.0 624.7v-6.5M1540.0 15.4v6.5M1676.7 624.7v-6.5M1676.7 15.4v6.5M1813.5 624.7v-6.5M1813.5 15.4v6.5M1061.4 563.8h12M1881.9 563.8h-12M1061.4 472.5h12M1881.9 472.5h-12M1061.4 381.1h12M1881.9 381.1h-12M1061.4 289.8h12M1881.9 289.8h-12M1061.4 198.4h12M1881.9 198.4h-12M1061.4 107.1h12M1881.9 107.1h-12M1061.4 609.5h6.5M1881.9 609.5h-6.5M1061.4 518.1h6.5M1881.9 518.1h-6.5M1061.4 426.8h6.5M1881.9 426.8h-6.5M1061.4 335.4h6.5M1881.9 335.4h-6.5M1061.4 244.1h6.5M1881.9 244.1h-6.5M1061.4 152.7h6.5M1881.9 152.7h-6.5M1061.4 61.4h6.5M1881.9 61.4h-6.5" fill="none" stroke="#000" stroke-width="2"/>
<text x="1061.4" y="658.1" text-anchor="middle" class="tk">400</text>
<text x="1198.1" y="658.1" text-anchor="middle" class="tk">600</text>
<text x="1334.9" y="658.1" text-anchor="middle" class="tk">800</text>
<text x="1471.6" y="658.1" text-anchor="middle" class="tk">1000</text>
<text x="1608.4" y="658.1" text-anchor="middle" class="tk">1200</text>
<text x="1745.1" y="658.1" text-anchor="middle" class="tk">1400</text>
<text x="1881.8" y="658.1" text-anchor="middle" class="tk">1600</text>
<text x="1048.2" y="571.6" text-anchor="end" class="tk">27</text>
<text x="1048.2" y="480.3" text-anchor="end" class="tk">30</text>
<text x="1048.2" y="388.9" text-anchor="end" class="tk">33</text>
<text x="1048.2" y="297.6" text-anchor="end" class="tk">36</text>
<text x="1048.2" y="206.2" text-anchor="end" class="tk">39</text>
<text x="1048.2" y="114.9" text-anchor="end" class="tk">42</text>
<text x="1048.2" y="23.5" text-anchor="end" class="tk">45</text>
<rect x="117.6" y="31.8" width="204" height="210" fill="#fff" stroke="#222" stroke-width="1.2"/>
<path d="M149.2 46.0h7.2v7.2h-7.2z" fill="none" stroke="#1a1a1a" stroke-width="1"/>
<text x="193.5" y="59.2" class="lg">20161212</text>
<path d="M148.9 84.5a3.9 3.9 0 1 0 7.8 0a3.9 3.9 0 1 0 -7.8 0z" fill="none" stroke="#d84848" stroke-width="1"/>
<text x="193.5" y="94.1" class="lg">20161207</text>
<path d="M152.8 114.3l4.7 8.4h-9.4z" fill="none" stroke="#5454a8" stroke-width="1"/>
<text x="193.5" y="129.1" class="lg">20161209</text>
<path d="M152.8 159.6l4.7 -8.4h-9.4z" fill="none" stroke="#b468b6" stroke-width="1"/>
<text x="193.5" y="164.0" class="lg">20161213</text>
<path d="M152.8 184.2l5.2 5.2l-5.2 5.2l-5.2 -5.2z" fill="none" stroke="#2a8a58" stroke-width="1"/>
<text x="193.5" y="199.0" class="lg">20161217</text>
<path d="M147.6 224.3l8.4 -4.7v9.4z" fill="none" stroke="#3a3a88" stroke-width="1"/>
<text x="193.5" y="233.9" class="lg">20161222</text>
<rect x="1085.8" y="49.5" width="203" height="210" fill="#fff" stroke="#222" stroke-width="1.2"/>
<path d="M1116.4 62.8h7.2v7.2h-7.2z" fill="none" stroke="#1a1a1a" stroke-width="1"/>
<text x="1160.5" y="76.0" class="lg">20180915</text>
<path d="M1116.1 101.8a3.9 3.9 0 1 0 7.8 0a3.9 3.9 0 1 0 -7.8 0z" fill="none" stroke="#d84848" stroke-width="1"/>
<text x="1160.5" y="111.4" class="lg">20180906</text>
<path d="M1120.0 132.0l4.7 8.4h-9.4z" fill="none" stroke="#5454a8" stroke-width="1"/>
<text x="1160.5" y="146.8" class="lg">20180910</text>
<path d="M1120.0 177.7l4.7 -8.4h-9.4z" fill="none" stroke="#b468b6" stroke-width="1"/>
<text x="1160.5" y="182.1" class="lg">20180911</text>
<path d="M1120.0 202.7l5.2 5.2l-5.2 5.2l-5.2 -5.2z" fill="none" stroke="#2a8a58" stroke-width="1"/>
<text x="1160.5" y="217.5" class="lg">20180917</text>
<path d="M1114.8 243.3l8.4 -4.7v9.4z" fill="none" stroke="#3a3a88" stroke-width="1"/>
<text x="1160.5" y="252.9" class="lg">20181022</text>
<text x="499.7" y="708.6" text-anchor="middle" class="ax">Distance (km)</text>
<text x="1471.8" y="708.6" text-anchor="middle" class="ax">Distance (km)</text>
<text transform="translate(24.8 341.2) rotate(-90)" text-anchor="middle" class="ax">Attenuation (dB)</text>
<text transform="translate(996.8 340.9) rotate(-90)" text-anchor="middle" class="ax">Attenuation (dB)</text>
<text x="4.5" y="29.7" class="pl">a</text>
<text x="970.5" y="30.2" class="pl">b</text>
</svg>
</body></html>
